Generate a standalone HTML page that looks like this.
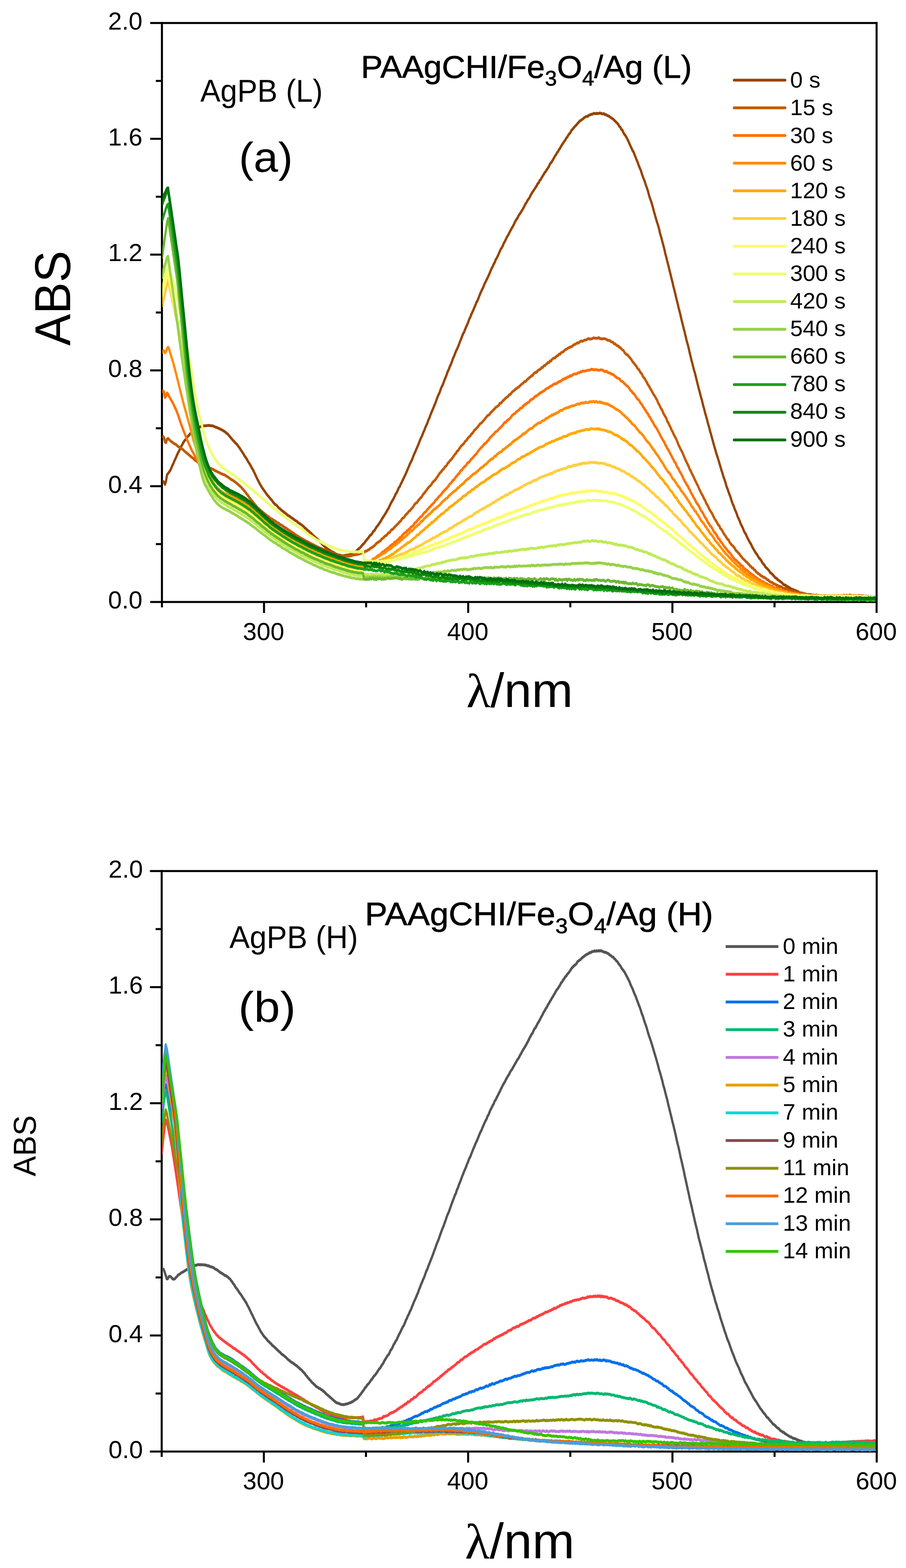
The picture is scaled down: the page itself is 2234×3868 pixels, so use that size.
<!DOCTYPE html>
<html lang="en"><head><meta charset="utf-8"><title>UV-Vis absorption spectra</title>
<style>html,body{margin:0;padding:0;background:#fff;}body{width:2234px;height:3868px;overflow:hidden;}svg{display:block;}text{font-family:'Liberation Sans', sans-serif;fill:#000;}</style></head><body>
<svg width="2234" height="3868" viewBox="0 0 2234 3868" role="img" aria-label="UV-Vis absorption spectra">
<rect x="0" y="0" width="2234" height="3868" fill="#ffffff"/>
<defs><clipPath id="clip1"><rect x="400.3" y="56.8" width="1761.2" height="1429.7"/></clipPath></defs>
<g stroke="#000" stroke-width="5.0" fill="none" stroke-linecap="butt">
<path d="M399.3 54.3V1498.2"/>
<path d="M370.3 1485.0H2164.0"/>
<path d="M384.3 1342.2H399.3"/>
<path d="M370.3 1199.4H399.3"/>
<path d="M384.3 1056.5H399.3"/>
<path d="M370.3 913.7H399.3"/>
<path d="M384.3 770.9H399.3"/>
<path d="M370.3 628.1H399.3"/>
<path d="M384.3 485.3H399.3"/>
<path d="M370.3 342.4H399.3"/>
<path d="M384.3 199.6H399.3"/>
<path d="M651.0 1485.0V1512.0"/>
<path d="M902.8 1485.0V1498.2"/>
<path d="M1154.5 1485.0V1512.0"/>
<path d="M1406.3 1485.0V1498.2"/>
<path d="M1658.0 1485.0V1512.0"/>
<path d="M1909.8 1485.0V1498.2"/>
</g>
<g clip-path="url(#clip1)"><g transform="scale(1 1.270)" fill="none" stroke-width="5.50" stroke-linejoin="round" stroke-linecap="butt">
<path stroke="#964400" d="M399.3 935.9L401.8 935.0L404.3 936.6L406.9 941.0L409.4 934.5L411.9 922.2L414.4 919.7L416.9 917.1L419.4 914.3L422.0 909.9L424.5 905.2L427.0 901.1L429.5 896.4L432.0 891.9L434.5 887.6L437.1 882.7L439.6 878.7L442.1 875.0L444.6 870.3L447.1 866.9L449.6 863.2L452.2 859.5L454.7 856.5L457.2 854.0L459.7 851.3L462.2 848.5L464.8 846.5L467.3 844.1L469.8 841.8L472.3 840.7L474.8 838.5L477.3 836.8L479.9 835.7L482.4 834.0L484.9 833.0L487.4 831.0L489.9 829.9L492.4 829.8L495.0 828.4L497.5 828.2L500.0 827.6L502.5 827.2L505.0 826.9L507.5 827.1L510.1 826.7L512.6 826.3L515.1 826.1L517.6 826.7L520.1 827.0L522.7 827.0L525.2 827.4L527.7 828.1L530.2 829.3L532.7 829.8L535.2 830.7L537.8 831.5L540.3 832.4L542.8 833.3L545.3 834.5L547.8 835.2L550.3 836.6L552.9 837.7L555.4 839.1L557.9 841.2L560.4 842.3L562.9 844.3L565.5 846.8L568.0 849.3L570.5 851.5L573.0 853.9L575.5 856.0L578.0 858.2L580.6 860.5L583.1 862.1L585.6 864.5L588.1 867.4L590.6 869.9L593.1 873.1L595.7 876.2L598.2 879.0L600.7 882.1L603.2 885.7L605.7 888.5L608.2 891.3L610.8 895.1L613.3 898.5L615.8 901.4L618.3 904.9L620.8 908.8L623.4 912.0L625.9 915.9L628.4 920.1L630.9 924.4L633.4 928.5L635.9 932.6L638.5 936.4L641.0 940.6L643.5 943.6L646.0 947.1L648.5 949.7L651.0 952.5L653.6 955.3L656.1 958.2L658.6 961.1L661.1 963.3L663.6 965.6L666.1 968.3L668.7 970.3L671.2 972.6L673.7 975.6L676.2 977.8L678.7 979.8L681.3 981.1L683.8 983.1L686.3 985.7L688.8 987.4L691.3 989.0L693.8 991.0L696.4 992.5L698.9 993.9L701.4 995.6L703.9 996.9L706.4 998.6L708.9 1000.5L711.5 1001.6L714.0 1002.9L716.5 1004.4L719.0 1005.8L721.5 1007.0L724.0 1008.5L726.6 1010.2L729.1 1011.4L731.6 1012.2L734.1 1014.5L736.6 1015.9L739.2 1017.2L741.7 1018.5L744.2 1019.8L746.7 1021.4L749.2 1023.1L751.7 1025.6L754.3 1026.8L756.8 1028.7L759.3 1030.8L761.8 1031.9L764.3 1034.4L766.8 1035.5L769.4 1037.7L771.9 1039.9L774.4 1041.5L776.9 1043.5L779.4 1045.1L781.9 1046.8L784.5 1048.6L787.0 1050.8L789.5 1052.9L792.0 1054.7L794.5 1056.9L797.1 1059.0L799.6 1060.9L802.1 1062.9L804.6 1064.4L807.1 1066.0L809.6 1067.2L812.2 1068.6L814.7 1069.7L817.2 1071.2L819.7 1072.3L822.2 1073.1L824.7 1074.1L827.3 1075.6L829.8 1076.5L832.3 1077.1L834.8 1078.1L837.3 1078.0L839.9 1078.6L842.4 1079.2L844.9 1079.6L847.4 1079.6L849.9 1078.7L852.4 1078.7L855.0 1078.2L857.5 1078.3L860.0 1077.9L862.5 1077.3L865.0 1076.2L867.5 1076.0L870.1 1075.0L872.6 1073.7L875.1 1072.8L877.6 1071.4L880.1 1069.2L882.6 1067.2L885.2 1065.5L887.7 1064.0L890.2 1061.7L892.7 1059.4L895.2 1056.9L897.8 1055.5L900.3 1052.6L902.8 1050.2L905.3 1047.4L907.8 1045.4L910.3 1042.3L912.9 1039.9L915.4 1038.7L917.9 1035.8L920.4 1032.1L922.9 1031.1L925.4 1027.7L928.0 1024.1L930.5 1021.6L933.0 1019.5L935.5 1016.1L938.0 1013.3L940.5 1009.9L943.1 1006.2L945.6 1003.5L948.1 1000.3L950.6 997.3L953.1 993.9L955.7 990.0L958.2 987.2L960.7 982.7L963.2 978.7L965.7 974.8L968.2 971.5L970.8 968.0L973.3 964.1L975.8 959.4L978.3 956.7L980.8 952.4L983.3 947.4L985.9 944.9L988.4 939.7L990.9 936.6L993.4 931.9L995.9 928.1L998.4 923.8L1001.0 919.4L1003.5 915.0L1006.0 909.8L1008.5 905.7L1011.0 900.5L1013.6 897.0L1016.1 892.6L1018.6 887.2L1021.1 882.3L1023.6 878.2L1026.1 873.3L1028.7 868.8L1031.2 864.2L1033.7 859.0L1036.2 854.1L1038.7 849.5L1041.2 845.7L1043.8 839.9L1046.3 835.8L1048.8 830.4L1051.3 826.1L1053.8 821.6L1056.3 815.9L1058.9 811.8L1061.4 805.8L1063.9 801.0L1066.4 796.5L1068.9 791.8L1071.5 786.5L1074.0 782.3L1076.5 776.2L1079.0 771.0L1081.5 766.4L1084.0 762.3L1086.6 756.3L1089.1 751.4L1091.6 747.7L1094.1 742.4L1096.6 736.8L1099.1 732.6L1101.7 726.8L1104.2 721.3L1106.7 717.5L1109.2 711.8L1111.7 708.1L1114.2 702.7L1116.8 696.7L1119.3 692.3L1121.8 687.5L1124.3 682.1L1126.8 678.4L1129.4 673.9L1131.9 668.7L1134.4 663.3L1136.9 658.5L1139.4 653.2L1141.9 648.3L1144.5 644.6L1147.0 639.5L1149.5 634.7L1152.0 630.6L1154.5 626.0L1157.0 619.9L1159.6 616.1L1162.1 610.7L1164.6 606.5L1167.1 602.3L1169.6 597.6L1172.2 592.8L1174.7 587.4L1177.2 584.2L1179.7 579.5L1182.2 574.1L1184.7 569.4L1187.3 564.8L1189.8 560.8L1192.3 556.5L1194.8 551.3L1197.3 547.5L1199.8 543.4L1202.4 539.4L1204.9 535.1L1207.4 530.7L1209.9 525.5L1212.4 521.2L1214.9 517.7L1217.5 512.8L1220.0 509.6L1222.5 504.0L1225.0 501.2L1227.5 497.0L1230.1 492.4L1232.6 487.8L1235.1 483.7L1237.6 480.8L1240.1 477.0L1242.6 471.9L1245.2 468.4L1247.7 464.1L1250.2 460.0L1252.7 457.0L1255.2 453.2L1257.7 449.2L1260.3 445.5L1262.8 442.0L1265.3 438.7L1267.8 434.7L1270.3 430.4L1272.8 426.8L1275.4 424.3L1277.9 420.1L1280.4 416.9L1282.9 414.1L1285.4 411.0L1288.0 407.6L1290.5 404.1L1293.0 400.5L1295.5 396.2L1298.0 393.7L1300.5 389.6L1303.1 386.8L1305.6 384.1L1308.1 379.8L1310.6 376.3L1313.1 373.0L1315.6 370.2L1318.2 367.0L1320.7 364.0L1323.2 361.1L1325.7 356.9L1328.2 355.2L1330.7 350.7L1333.3 348.5L1335.8 344.8L1338.3 341.8L1340.8 338.5L1343.3 335.2L1345.9 332.8L1348.4 329.5L1350.9 326.5L1353.4 323.5L1355.9 318.8L1358.4 316.5L1361.0 313.7L1363.5 310.1L1366.0 306.8L1368.5 303.1L1371.0 300.6L1373.5 296.6L1376.1 294.3L1378.6 290.3L1381.1 287.8L1383.6 283.9L1386.1 280.8L1388.6 278.0L1391.2 274.6L1393.7 272.3L1396.2 268.3L1398.7 266.4L1401.2 262.7L1403.8 259.8L1406.3 257.8L1408.8 253.6L1411.3 251.6L1413.8 249.0L1416.3 246.9L1418.9 244.2L1421.4 242.9L1423.9 240.0L1426.4 238.1L1428.9 235.6L1431.4 234.1L1434.0 232.8L1436.5 231.5L1439.0 229.6L1441.5 228.2L1444.0 226.8L1446.6 225.9L1449.1 226.2L1451.6 224.0L1454.1 223.5L1456.6 222.2L1459.1 222.2L1461.7 221.4L1464.2 220.3L1466.7 220.5L1469.2 220.8L1471.7 219.8L1474.2 220.8L1476.8 220.1L1479.3 219.5L1481.8 220.1L1484.3 221.1L1486.8 221.2L1489.3 220.7L1491.9 222.9L1494.4 222.4L1496.9 224.3L1499.4 225.2L1501.9 225.6L1504.5 227.7L1507.0 228.7L1509.5 230.2L1512.0 231.4L1514.5 233.5L1517.0 235.5L1519.6 237.6L1522.1 239.4L1524.6 241.8L1527.1 245.5L1529.6 246.9L1532.1 251.3L1534.7 252.8L1537.2 257.5L1539.7 261.0L1542.2 263.4L1544.7 266.6L1547.2 270.7L1549.8 274.7L1552.3 279.6L1554.8 283.7L1557.3 288.0L1559.8 292.5L1562.4 295.5L1564.9 300.9L1567.4 305.8L1569.9 310.8L1572.4 315.5L1574.9 321.2L1577.5 326.4L1580.0 330.6L1582.5 337.1L1585.0 342.9L1587.5 348.0L1590.0 352.9L1592.6 359.6L1595.1 365.1L1597.6 370.8L1600.1 378.7L1602.6 384.9L1605.1 390.3L1607.7 396.5L1610.2 403.9L1612.7 411.4L1615.2 418.2L1617.7 425.2L1620.3 432.1L1622.8 438.1L1625.3 445.3L1627.8 454.1L1630.3 460.4L1632.8 468.1L1635.4 475.9L1637.9 483.3L1640.4 492.2L1642.9 499.6L1645.4 507.8L1647.9 515.2L1650.5 523.9L1653.0 531.6L1655.5 540.0L1658.0 547.7L1660.5 556.5L1663.0 564.0L1665.6 572.3L1668.1 581.1L1670.6 588.6L1673.1 597.3L1675.6 604.7L1678.2 613.1L1680.7 621.7L1683.2 629.4L1685.7 637.8L1688.2 645.0L1690.7 653.7L1693.3 662.3L1695.8 669.0L1698.3 677.0L1700.8 685.9L1703.3 693.9L1705.8 702.1L1708.4 709.6L1710.9 717.9L1713.4 724.2L1715.9 732.3L1718.4 740.3L1721.0 748.4L1723.5 756.4L1726.0 763.6L1728.5 771.4L1731.0 777.9L1733.5 786.8L1736.1 793.8L1738.6 801.9L1741.1 808.4L1743.6 815.8L1746.1 823.8L1748.6 830.2L1751.2 838.3L1753.7 844.9L1756.2 852.2L1758.7 859.5L1761.2 866.6L1763.7 873.6L1766.3 880.6L1768.8 886.7L1771.3 892.9L1773.8 899.4L1776.3 906.3L1778.9 913.2L1781.4 919.1L1783.9 926.0L1786.4 931.5L1788.9 937.3L1791.4 944.7L1794.0 949.6L1796.5 955.9L1799.0 960.9L1801.5 966.2L1804.0 972.9L1806.5 978.5L1809.1 982.8L1811.6 988.9L1814.1 993.0L1816.6 998.1L1819.1 1003.9L1821.6 1008.0L1824.2 1012.6L1826.7 1017.9L1829.2 1021.8L1831.7 1025.8L1834.2 1031.1L1836.8 1035.0L1839.3 1037.8L1841.8 1042.8L1844.3 1046.8L1846.8 1050.1L1849.3 1054.0L1851.9 1057.0L1854.4 1061.6L1856.9 1065.1L1859.4 1068.5L1861.9 1072.1L1864.4 1075.0L1867.0 1077.5L1869.5 1081.2L1872.0 1084.3L1874.5 1086.1L1877.0 1088.9L1879.5 1092.8L1882.1 1095.2L1884.6 1097.2L1887.1 1101.0L1889.6 1102.8L1892.1 1104.7L1894.7 1107.1L1897.2 1109.3L1899.7 1112.8L1902.2 1113.9L1904.7 1115.5L1907.2 1117.9L1909.8 1120.3L1912.3 1122.6L1914.8 1123.1L1917.3 1125.8L1919.8 1127.0L1922.3 1128.7L1924.9 1130.0L1927.4 1131.3L1929.9 1133.6L1932.4 1135.6L1934.9 1136.2L1937.4 1136.8L1940.0 1139.0L1942.5 1139.5L1945.0 1141.3L1947.5 1141.8L1950.0 1143.8L1952.6 1144.5L1955.1 1145.0L1957.6 1146.0L1960.1 1146.7L1962.6 1147.2L1965.1 1149.0L1967.7 1148.9L1970.2 1150.7L1972.7 1151.6L1975.2 1152.0L1977.7 1151.7L1980.2 1152.9L1982.8 1153.1L1985.3 1154.1L1987.8 1154.3L1990.3 1155.1L1992.8 1155.2L1995.3 1154.7L1997.9 1155.1L2000.4 1155.2L2002.9 1156.4L2005.4 1155.7L2007.9 1156.8L2010.5 1156.3L2013.0 1157.3L2015.5 1157.6L2018.0 1157.2L2020.5 1157.2L2023.0 1157.2L2025.6 1157.5L2028.1 1157.2L2030.6 1157.6L2033.1 1158.3L2035.6 1157.3L2038.1 1158.4L2040.7 1157.8L2043.2 1158.1L2045.7 1157.6L2048.2 1157.7L2050.7 1157.8L2053.3 1157.2L2055.8 1157.8L2058.3 1157.4L2060.8 1157.5L2063.3 1157.4L2065.8 1157.2L2068.4 1156.5L2070.9 1157.6L2073.4 1156.7L2075.9 1156.3L2078.4 1156.9L2080.9 1156.3L2083.5 1156.5L2086.0 1157.1L2088.5 1156.2L2091.0 1157.2L2093.5 1156.0L2096.0 1156.0L2098.6 1156.4L2101.1 1156.6L2103.6 1157.0L2106.1 1156.8L2108.6 1156.4L2111.2 1157.1L2113.7 1157.3L2116.2 1157.3L2118.7 1156.9L2121.2 1157.2L2123.7 1157.3L2126.3 1157.5L2128.8 1157.2L2131.3 1158.1L2133.8 1157.7L2136.3 1157.8L2138.8 1159.3L2141.4 1158.8L2143.9 1159.4L2146.4 1158.9L2148.9 1160.9L2151.4 1160.2L2153.9 1161.5L2156.5 1160.7L2159.0 1162.4L2161.5 1163.4"/>
<path stroke="#c25a00" d="M399.3 848.8L401.8 847.7L404.3 849.5L406.9 858.5L409.4 859.9L411.9 852.9L414.4 851.6L416.9 853.6L419.4 855.6L422.0 857.6L424.5 858.7L427.0 860.3L429.5 861.8L432.0 862.6L434.5 863.8L437.1 865.9L439.6 867.4L442.1 868.3L444.6 869.5L447.1 871.4L449.6 872.4L452.2 874.1L454.7 876.2L457.2 877.9L459.7 879.6L462.2 880.7L464.8 882.9L467.3 884.6L469.8 886.1L472.3 888.0L474.8 889.3L477.3 891.1L479.9 893.1L482.4 894.7L484.9 895.6L487.4 897.6L489.9 898.5L492.4 899.9L495.0 901.4L497.5 902.3L500.0 904.2L502.5 905.2L505.0 905.5L507.5 906.2L510.1 907.5L512.6 908.1L515.1 908.4L517.6 909.6L520.1 909.9L522.7 911.0L525.2 911.7L527.7 912.8L530.2 914.3L532.7 915.1L535.2 915.8L537.8 917.2L540.3 917.8L542.8 919.0L545.3 920.0L547.8 920.8L550.3 921.6L552.9 922.2L555.4 923.2L557.9 924.7L560.4 925.9L562.9 927.0L565.5 928.6L568.0 930.2L570.5 931.6L573.0 932.4L575.5 933.7L578.0 935.2L580.6 936.7L583.1 938.4L585.6 939.8L588.1 941.9L590.6 943.3L593.1 945.3L595.7 947.2L598.2 950.0L600.7 951.7L603.2 954.2L605.7 956.6L608.2 959.4L610.8 961.5L613.3 964.8L615.8 967.4L618.3 970.0L620.8 972.8L623.4 974.6L625.9 977.8L628.4 979.8L630.9 982.1L633.4 984.6L635.9 987.1L638.5 988.3L641.0 990.6L643.5 992.2L646.0 993.7L648.5 995.4L651.0 997.0L653.6 998.9L656.1 1000.3L658.6 1002.0L661.1 1002.7L663.6 1004.8L666.1 1006.3L668.7 1007.7L671.2 1008.3L673.7 1010.2L676.2 1011.1L678.7 1012.2L681.3 1013.7L683.8 1015.3L686.3 1016.0L688.8 1017.5L691.3 1019.2L693.8 1019.9L696.4 1021.2L698.9 1022.8L701.4 1024.3L703.9 1025.1L706.4 1026.3L708.9 1028.0L711.5 1029.3L714.0 1030.7L716.5 1032.2L719.0 1033.2L721.5 1034.8L724.0 1035.9L726.6 1037.6L729.1 1038.9L731.6 1040.4L734.1 1041.0L736.6 1043.1L739.2 1043.9L741.7 1045.1L744.2 1046.6L746.7 1047.0L749.2 1048.8L751.7 1049.5L754.3 1051.0L756.8 1051.6L759.3 1052.5L761.8 1053.7L764.3 1055.2L766.8 1055.6L769.4 1056.9L771.9 1058.2L774.4 1058.7L776.9 1060.3L779.4 1060.7L781.9 1062.4L784.5 1062.5L787.0 1064.0L789.5 1064.7L792.0 1065.3L794.5 1066.0L797.1 1067.7L799.6 1067.8L802.1 1069.0L804.6 1069.4L807.1 1070.5L809.6 1071.5L812.2 1071.9L814.7 1072.8L817.2 1073.3L819.7 1074.2L822.2 1075.2L824.7 1075.5L827.3 1076.2L829.8 1076.9L832.3 1078.1L834.8 1078.5L837.3 1079.5L839.9 1079.8L842.4 1079.7L844.9 1079.9L847.4 1080.1L849.9 1080.3L852.4 1080.0L855.0 1080.4L857.5 1080.4L860.0 1080.2L862.5 1079.9L865.0 1079.8L867.5 1079.2L870.1 1078.2L872.6 1078.0L875.1 1077.4L877.6 1077.3L880.1 1077.0L882.6 1076.7L885.2 1076.1L887.7 1075.3L890.2 1074.5L892.7 1074.3L895.2 1072.9L897.8 1073.2L900.3 1071.0L902.8 1070.4L905.3 1069.9L907.8 1067.9L910.3 1067.9L912.9 1065.0L915.4 1064.2L917.9 1063.1L920.4 1061.4L922.9 1060.2L925.4 1058.2L928.0 1055.5L930.5 1054.3L933.0 1053.1L935.5 1051.5L938.0 1050.6L940.5 1047.7L943.1 1045.8L945.6 1044.6L948.1 1042.3L950.6 1040.4L953.1 1039.8L955.7 1037.0L958.2 1034.6L960.7 1034.5L963.2 1031.0L965.7 1028.7L968.2 1028.5L970.8 1025.8L973.3 1023.8L975.8 1021.4L978.3 1019.8L980.8 1017.7L983.3 1015.8L985.9 1013.1L988.4 1011.8L990.9 1008.1L993.4 1006.1L995.9 1005.4L998.4 1002.1L1001.0 999.4L1003.5 997.8L1006.0 995.7L1008.5 992.9L1011.0 991.8L1013.6 989.2L1016.1 987.0L1018.6 984.8L1021.1 981.4L1023.6 978.6L1026.1 977.2L1028.7 975.7L1031.2 972.2L1033.7 970.3L1036.2 967.6L1038.7 966.1L1041.2 963.1L1043.8 959.6L1046.3 958.0L1048.8 955.2L1051.3 952.5L1053.8 949.7L1056.3 947.3L1058.9 944.9L1061.4 943.4L1063.9 940.9L1066.4 937.3L1068.9 935.3L1071.5 933.5L1074.0 931.4L1076.5 928.2L1079.0 925.6L1081.5 922.3L1084.0 919.5L1086.6 917.3L1089.1 914.9L1091.6 912.1L1094.1 911.1L1096.6 907.1L1099.1 906.0L1101.7 903.4L1104.2 899.6L1106.7 898.1L1109.2 894.9L1111.7 893.5L1114.2 890.9L1116.8 888.2L1119.3 885.3L1121.8 882.3L1124.3 880.6L1126.8 876.6L1129.4 875.5L1131.9 872.1L1134.4 869.5L1136.9 866.6L1139.4 864.6L1141.9 863.0L1144.5 860.6L1147.0 857.4L1149.5 855.8L1152.0 853.3L1154.5 850.3L1157.0 848.5L1159.6 846.7L1162.1 843.4L1164.6 841.9L1167.1 839.0L1169.6 835.7L1172.2 834.4L1174.7 831.8L1177.2 830.2L1179.7 827.3L1182.2 824.9L1184.7 822.5L1187.3 821.3L1189.8 819.2L1192.3 817.0L1194.8 814.6L1197.3 812.2L1199.8 809.5L1202.4 807.1L1204.9 806.3L1207.4 804.8L1209.9 801.3L1212.4 799.9L1214.9 797.5L1217.5 795.7L1220.0 793.7L1222.5 791.2L1225.0 790.0L1227.5 788.8L1230.1 787.0L1232.6 783.3L1235.1 783.0L1237.6 781.1L1240.1 778.3L1242.6 776.8L1245.2 774.5L1247.7 772.7L1250.2 771.3L1252.7 770.2L1255.2 766.9L1257.7 766.5L1260.3 764.3L1262.8 761.5L1265.3 759.7L1267.8 758.7L1270.3 756.4L1272.8 755.0L1275.4 753.7L1277.9 752.1L1280.4 751.0L1282.9 748.7L1285.4 747.0L1288.0 745.2L1290.5 743.9L1293.0 741.1L1295.5 741.2L1298.0 739.4L1300.5 736.6L1303.1 735.5L1305.6 733.0L1308.1 732.4L1310.6 729.7L1313.1 729.7L1315.6 726.2L1318.2 724.6L1320.7 723.0L1323.2 723.3L1325.7 720.0L1328.2 718.9L1330.7 717.7L1333.3 716.4L1335.8 713.7L1338.3 713.8L1340.8 710.6L1343.3 710.3L1345.9 708.2L1348.4 706.6L1350.9 704.4L1353.4 704.5L1355.9 701.2L1358.4 701.3L1361.0 698.2L1363.5 696.5L1366.0 695.3L1368.5 695.3L1371.0 693.1L1373.5 691.1L1376.1 690.6L1378.6 687.8L1381.1 688.0L1383.6 685.2L1386.1 684.0L1388.6 683.4L1391.2 681.2L1393.7 679.4L1396.2 678.4L1398.7 677.2L1401.2 675.9L1403.8 675.1L1406.3 674.0L1408.8 673.4L1411.3 672.4L1413.8 670.5L1416.3 669.0L1418.9 668.6L1421.4 667.1L1423.9 665.9L1426.4 666.3L1428.9 664.2L1431.4 662.9L1434.0 662.3L1436.5 662.9L1439.0 661.6L1441.5 660.6L1444.0 660.2L1446.6 660.1L1449.1 658.1L1451.6 657.5L1454.1 658.8L1456.6 658.2L1459.1 658.3L1461.7 657.0L1464.2 656.2L1466.7 656.9L1469.2 657.0L1471.7 656.8L1474.2 656.8L1476.8 655.8L1479.3 657.9L1481.8 657.7L1484.3 658.5L1486.8 657.8L1489.3 657.8L1491.9 658.2L1494.4 658.6L1496.9 660.4L1499.4 660.8L1501.9 661.1L1504.5 662.1L1507.0 664.0L1509.5 664.3L1512.0 665.1L1514.5 668.0L1517.0 668.1L1519.6 670.2L1522.1 671.7L1524.6 672.1L1527.1 674.8L1529.6 675.2L1532.1 677.6L1534.7 679.6L1537.2 680.7L1539.7 684.2L1542.2 686.6L1544.7 688.7L1547.2 689.2L1549.8 691.8L1552.3 694.1L1554.8 696.4L1557.3 698.9L1559.8 702.7L1562.4 704.6L1564.9 707.3L1567.4 709.8L1569.9 712.3L1572.4 716.2L1574.9 717.3L1577.5 720.9L1580.0 724.3L1582.5 726.0L1585.0 730.5L1587.5 733.8L1590.0 735.4L1592.6 739.8L1595.1 742.7L1597.6 747.2L1600.1 749.5L1602.6 753.8L1605.1 756.8L1607.7 760.4L1610.2 764.2L1612.7 767.4L1615.2 769.9L1617.7 773.9L1620.3 777.3L1622.8 782.8L1625.3 786.0L1627.8 789.9L1630.3 794.2L1632.8 796.6L1635.4 802.2L1637.9 805.8L1640.4 809.2L1642.9 812.3L1645.4 818.3L1647.9 820.9L1650.5 826.0L1653.0 829.6L1655.5 834.7L1658.0 837.8L1660.5 842.6L1663.0 846.4L1665.6 850.1L1668.1 854.1L1670.6 859.0L1673.1 864.4L1675.6 868.0L1678.2 872.6L1680.7 875.9L1683.2 880.1L1685.7 884.8L1688.2 889.4L1690.7 894.3L1693.3 898.2L1695.8 902.2L1698.3 906.4L1700.8 911.7L1703.3 914.7L1705.8 919.7L1708.4 923.3L1710.9 927.5L1713.4 932.0L1715.9 935.8L1718.4 940.1L1721.0 943.7L1723.5 948.8L1726.0 953.0L1728.5 957.0L1731.0 960.7L1733.5 963.7L1736.1 969.1L1738.6 971.5L1741.1 977.0L1743.6 980.1L1746.1 983.7L1748.6 988.4L1751.2 992.0L1753.7 994.7L1756.2 998.0L1758.7 1002.5L1761.2 1006.4L1763.7 1009.6L1766.3 1012.8L1768.8 1016.2L1771.3 1019.8L1773.8 1021.5L1776.3 1026.5L1778.9 1028.3L1781.4 1031.4L1783.9 1035.3L1786.4 1038.6L1788.9 1041.0L1791.4 1044.5L1794.0 1047.6L1796.5 1048.5L1799.0 1053.2L1801.5 1055.9L1804.0 1058.5L1806.5 1059.9L1809.1 1062.2L1811.6 1064.7L1814.1 1068.9L1816.6 1070.3L1819.1 1072.8L1821.6 1074.7L1824.2 1077.2L1826.7 1080.2L1829.2 1082.3L1831.7 1085.0L1834.2 1086.4L1836.8 1088.5L1839.3 1091.0L1841.8 1092.1L1844.3 1094.6L1846.8 1096.4L1849.3 1099.3L1851.9 1100.4L1854.4 1103.2L1856.9 1103.6L1859.4 1106.7L1861.9 1107.6L1864.4 1110.8L1867.0 1112.1L1869.5 1114.0L1872.0 1115.1L1874.5 1116.7L1877.0 1118.7L1879.5 1119.2L1882.1 1121.4L1884.6 1121.3L1887.1 1122.8L1889.6 1124.2L1892.1 1126.2L1894.7 1126.6L1897.2 1129.2L1899.7 1130.2L1902.2 1131.3L1904.7 1131.4L1907.2 1133.7L1909.8 1134.4L1912.3 1135.2L1914.8 1136.4L1917.3 1136.9L1919.8 1138.6L1922.3 1139.0L1924.9 1139.6L1927.4 1140.1L1929.9 1142.3L1932.4 1143.4L1934.9 1142.4L1937.4 1144.2L1940.0 1143.9L1942.5 1144.7L1945.0 1146.4L1947.5 1147.2L1950.0 1147.7L1952.6 1148.2L1955.1 1148.5L1957.6 1149.8L1960.1 1148.9L1962.6 1151.3L1965.1 1151.6L1967.7 1151.1L1970.2 1151.0L1972.7 1151.2L1975.2 1152.6L1977.7 1152.2L1980.2 1153.0L1982.8 1154.3L1985.3 1153.2L1987.8 1155.2L1990.3 1154.8L1992.8 1154.4L1995.3 1154.9L1997.9 1154.7L2000.4 1156.4L2002.9 1155.8L2005.4 1156.4L2007.9 1156.7L2010.5 1156.7L2013.0 1155.7L2015.5 1156.2L2018.0 1157.1L2020.5 1157.3L2023.0 1157.1L2025.6 1157.4L2028.1 1157.7L2030.6 1156.8L2033.1 1157.1L2035.6 1158.0L2038.1 1157.8L2040.7 1157.9L2043.2 1157.5L2045.7 1157.9L2048.2 1157.0L2050.7 1157.3L2053.3 1158.2L2055.8 1158.3L2058.3 1157.7L2060.8 1158.1L2063.3 1158.2L2065.8 1157.4L2068.4 1157.3L2070.9 1157.4L2073.4 1157.8L2075.9 1158.3L2078.4 1157.3L2080.9 1158.3L2083.5 1158.5L2086.0 1158.3L2088.5 1157.5L2091.0 1157.0L2093.5 1158.8L2096.0 1157.7L2098.6 1157.4L2101.1 1158.0L2103.6 1157.7L2106.1 1158.0L2108.6 1158.1L2111.2 1159.0L2113.7 1157.8L2116.2 1158.2L2118.7 1157.6L2121.2 1158.4L2123.7 1158.9L2126.3 1158.8L2128.8 1157.6L2131.3 1158.6L2133.8 1158.2L2136.3 1159.1L2138.8 1159.0L2141.4 1158.7L2143.9 1158.9L2146.4 1159.9L2148.9 1160.1L2151.4 1160.2L2153.9 1159.9L2156.5 1159.6L2159.0 1160.2L2161.5 1159.6"/>
<path stroke="#ff7000" d="M399.3 763.2L401.8 758.9L404.3 761.2L406.9 772.1L409.4 769.4L411.9 763.3L414.4 765.7L416.9 769.8L419.4 773.4L422.0 776.9L424.5 780.5L427.0 783.9L429.5 788.5L432.0 792.5L434.5 796.6L437.1 802.0L439.6 807.3L442.1 813.3L444.6 819.3L447.1 825.1L449.6 830.4L452.2 836.1L454.7 840.7L457.2 845.7L459.7 851.2L462.2 856.1L464.8 860.5L467.3 864.7L469.8 869.3L472.3 873.5L474.8 877.4L477.3 880.8L479.9 884.6L482.4 888.9L484.9 892.3L487.4 895.9L489.9 900.2L492.4 905.3L495.0 910.1L497.5 915.4L500.0 919.5L502.5 923.7L505.0 928.1L507.5 931.0L510.1 934.4L512.6 937.1L515.1 940.2L517.6 942.0L520.1 944.5L522.7 945.6L525.2 947.2L527.7 948.3L530.2 949.3L532.7 951.2L535.2 951.9L537.8 952.5L540.3 953.6L542.8 954.9L545.3 955.8L547.8 956.3L550.3 957.2L552.9 958.3L555.4 958.3L557.9 959.5L560.4 959.9L562.9 961.0L565.5 961.3L568.0 962.3L570.5 963.0L573.0 964.0L575.5 964.4L578.0 965.0L580.6 965.8L583.1 966.6L585.6 967.3L588.1 968.5L590.6 969.2L593.1 970.2L595.7 970.6L598.2 971.7L600.7 973.2L603.2 974.0L605.7 974.9L608.2 976.6L610.8 977.8L613.3 979.3L615.8 980.2L618.3 982.2L620.8 983.4L623.4 985.7L625.9 987.3L628.4 989.2L630.9 991.0L633.4 992.3L635.9 994.0L638.5 996.2L641.0 997.7L643.5 999.5L646.0 1001.7L648.5 1003.7L651.0 1005.7L653.6 1007.0L656.1 1008.8L658.6 1010.6L661.1 1012.6L663.6 1014.5L666.1 1016.1L668.7 1017.0L671.2 1019.4L673.7 1020.5L676.2 1022.3L678.7 1023.2L681.3 1025.0L683.8 1025.6L686.3 1027.5L688.8 1028.3L691.3 1029.9L693.8 1031.2L696.4 1032.5L698.9 1034.4L701.4 1035.0L703.9 1036.3L706.4 1037.7L708.9 1039.0L711.5 1040.0L714.0 1041.7L716.5 1042.2L719.0 1043.2L721.5 1045.1L724.0 1046.1L726.6 1046.7L729.1 1048.5L731.6 1049.2L734.1 1050.5L736.6 1051.5L739.2 1052.1L741.7 1053.9L744.2 1054.4L746.7 1055.2L749.2 1056.7L751.7 1057.9L754.3 1058.4L756.8 1059.3L759.3 1060.4L761.8 1061.1L764.3 1062.2L766.8 1063.0L769.4 1064.7L771.9 1064.8L774.4 1065.9L776.9 1066.7L779.4 1067.7L781.9 1068.5L784.5 1069.8L787.0 1070.6L789.5 1071.2L792.0 1072.5L794.5 1073.1L797.1 1074.1L799.6 1074.3L802.1 1075.2L804.6 1076.2L807.1 1077.0L809.6 1077.8L812.2 1078.6L814.7 1078.8L817.2 1079.9L819.7 1080.9L822.2 1081.8L824.7 1082.5L827.3 1082.7L829.8 1083.4L832.3 1084.2L834.8 1084.9L837.3 1085.3L839.9 1086.7L842.4 1087.4L844.9 1087.5L847.4 1088.4L849.9 1088.6L852.4 1089.4L855.0 1090.0L857.5 1090.8L860.0 1091.5L862.5 1091.9L865.0 1092.7L867.5 1093.0L870.1 1093.2L872.6 1094.2L875.1 1094.3L877.6 1094.4L880.1 1095.5L882.6 1095.5L885.2 1096.1L887.7 1096.1L890.2 1096.2L892.7 1097.2L895.2 1096.7L897.8 1096.2L900.3 1095.8L902.8 1093.7L905.3 1093.6L907.8 1093.0L910.3 1092.5L912.9 1091.3L915.4 1089.5L917.9 1088.2L920.4 1087.3L922.9 1084.6L925.4 1084.2L928.0 1081.9L930.5 1080.3L933.0 1079.1L935.5 1077.7L938.0 1076.9L940.5 1074.4L943.1 1072.6L945.6 1071.6L948.1 1069.7L950.6 1067.9L953.1 1066.9L955.7 1065.0L958.2 1064.0L960.7 1061.5L963.2 1059.8L965.7 1058.4L968.2 1057.6L970.8 1055.7L973.3 1052.8L975.8 1052.9L978.3 1050.5L980.8 1048.8L983.3 1046.9L985.9 1044.0L988.4 1043.8L990.9 1040.8L993.4 1038.5L995.9 1036.6L998.4 1034.5L1001.0 1033.9L1003.5 1030.6L1006.0 1030.2L1008.5 1027.9L1011.0 1026.5L1013.6 1023.5L1016.1 1022.7L1018.6 1020.5L1021.1 1017.8L1023.6 1015.0L1026.1 1014.3L1028.7 1011.3L1031.2 1009.4L1033.7 1007.2L1036.2 1004.7L1038.7 1003.2L1041.2 1001.6L1043.8 998.1L1046.3 995.9L1048.8 994.3L1051.3 992.6L1053.8 989.4L1056.3 987.9L1058.9 984.8L1061.4 984.3L1063.9 980.8L1066.4 979.6L1068.9 977.2L1071.5 975.0L1074.0 971.4L1076.5 970.3L1079.0 968.1L1081.5 965.1L1084.0 963.4L1086.6 961.3L1089.1 959.1L1091.6 955.8L1094.1 954.2L1096.6 951.7L1099.1 949.8L1101.7 948.1L1104.2 945.6L1106.7 943.2L1109.2 940.0L1111.7 938.9L1114.2 935.8L1116.8 932.8L1119.3 931.8L1121.8 929.1L1124.3 926.0L1126.8 924.4L1129.4 921.0L1131.9 920.1L1134.4 916.2L1136.9 913.8L1139.4 912.7L1141.9 909.4L1144.5 907.2L1147.0 905.5L1149.5 903.8L1152.0 900.0L1154.5 898.5L1157.0 897.2L1159.6 894.6L1162.1 891.5L1164.6 890.1L1167.1 887.9L1169.6 885.1L1172.2 883.4L1174.7 881.3L1177.2 878.2L1179.7 875.7L1182.2 873.1L1184.7 871.0L1187.3 868.6L1189.8 867.2L1192.3 864.3L1194.8 861.8L1197.3 861.2L1199.8 858.8L1202.4 856.2L1204.9 854.3L1207.4 851.0L1209.9 848.8L1212.4 847.3L1214.9 844.8L1217.5 843.5L1220.0 840.5L1222.5 838.6L1225.0 837.6L1227.5 836.0L1230.1 833.7L1232.6 831.3L1235.1 829.8L1237.6 827.3L1240.1 825.7L1242.6 822.1L1245.2 820.2L1247.7 820.1L1250.2 816.6L1252.7 816.0L1255.2 814.3L1257.7 812.2L1260.3 810.1L1262.8 806.9L1265.3 805.3L1267.8 803.9L1270.3 803.1L1272.8 799.8L1275.4 799.0L1277.9 797.1L1280.4 795.9L1282.9 792.9L1285.4 792.6L1288.0 791.4L1290.5 787.9L1293.0 787.4L1295.5 784.8L1298.0 784.5L1300.5 782.3L1303.1 781.4L1305.6 780.0L1308.1 776.7L1310.6 776.2L1313.1 774.5L1315.6 774.1L1318.2 770.8L1320.7 769.6L1323.2 769.1L1325.7 767.2L1328.2 765.9L1330.7 763.7L1333.3 762.7L1335.8 761.8L1338.3 760.2L1340.8 759.4L1343.3 757.9L1345.9 755.8L1348.4 754.6L1350.9 753.6L1353.4 753.0L1355.9 750.9L1358.4 750.0L1361.0 749.1L1363.5 747.4L1366.0 746.2L1368.5 745.3L1371.0 745.2L1373.5 744.4L1376.1 742.7L1378.6 741.0L1381.1 741.3L1383.6 739.4L1386.1 738.2L1388.6 736.3L1391.2 736.5L1393.7 734.4L1396.2 734.9L1398.7 732.8L1401.2 731.6L1403.8 731.8L1406.3 729.6L1408.8 730.3L1411.3 728.4L1413.8 727.6L1416.3 726.1L1418.9 726.5L1421.4 726.2L1423.9 724.9L1426.4 724.0L1428.9 723.7L1431.4 721.9L1434.0 722.5L1436.5 720.4L1439.0 721.2L1441.5 720.8L1444.0 720.6L1446.6 719.4L1449.1 719.4L1451.6 719.1L1454.1 719.0L1456.6 717.7L1459.1 717.1L1461.7 718.1L1464.2 717.9L1466.7 718.6L1469.2 717.9L1471.7 718.2L1474.2 718.9L1476.8 719.1L1479.3 718.8L1481.8 718.2L1484.3 718.6L1486.8 719.4L1489.3 720.9L1491.9 722.1L1494.4 721.0L1496.9 721.9L1499.4 723.8L1501.9 724.4L1504.5 724.7L1507.0 726.6L1509.5 726.7L1512.0 728.0L1514.5 728.6L1517.0 731.7L1519.6 732.4L1522.1 734.4L1524.6 735.0L1527.1 735.5L1529.6 738.4L1532.1 740.5L1534.7 740.7L1537.2 742.8L1539.7 745.2L1542.2 746.5L1544.7 749.1L1547.2 750.2L1549.8 752.2L1552.3 754.9L1554.8 758.6L1557.3 759.7L1559.8 763.2L1562.4 764.4L1564.9 766.7L1567.4 770.1L1569.9 773.0L1572.4 775.6L1574.9 776.9L1577.5 780.3L1580.0 783.6L1582.5 785.4L1585.0 789.3L1587.5 791.9L1590.0 795.6L1592.6 797.9L1595.1 801.7L1597.6 803.6L1600.1 808.6L1602.6 810.2L1605.1 814.6L1607.7 817.7L1610.2 820.3L1612.7 825.0L1615.2 827.9L1617.7 830.4L1620.3 833.5L1622.8 837.6L1625.3 840.9L1627.8 845.4L1630.3 848.8L1632.8 852.3L1635.4 856.2L1637.9 858.7L1640.4 863.8L1642.9 866.9L1645.4 870.9L1647.9 873.8L1650.5 877.6L1653.0 881.7L1655.5 885.2L1658.0 889.2L1660.5 892.6L1663.0 896.9L1665.6 899.1L1668.1 904.0L1670.6 908.3L1673.1 910.3L1675.6 915.2L1678.2 918.5L1680.7 921.8L1683.2 926.1L1685.7 930.6L1688.2 934.4L1690.7 937.4L1693.3 941.5L1695.8 943.8L1698.3 948.6L1700.8 951.4L1703.3 956.2L1705.8 959.9L1708.4 963.0L1710.9 967.5L1713.4 969.9L1715.9 974.4L1718.4 977.9L1721.0 980.0L1723.5 983.3L1726.0 987.5L1728.5 991.8L1731.0 994.2L1733.5 997.1L1736.1 1001.4L1738.6 1005.1L1741.1 1007.4L1743.6 1011.6L1746.1 1015.5L1748.6 1017.6L1751.2 1021.6L1753.7 1023.2L1756.2 1026.5L1758.7 1030.3L1761.2 1034.2L1763.7 1035.6L1766.3 1038.4L1768.8 1042.1L1771.3 1046.1L1773.8 1047.1L1776.3 1051.2L1778.9 1053.6L1781.4 1056.2L1783.9 1058.9L1786.4 1062.2L1788.9 1063.8L1791.4 1066.7L1794.0 1069.2L1796.5 1071.9L1799.0 1073.4L1801.5 1075.8L1804.0 1078.6L1806.5 1081.5L1809.1 1084.2L1811.6 1086.3L1814.1 1087.9L1816.6 1089.3L1819.1 1091.8L1821.6 1093.3L1824.2 1094.8L1826.7 1098.0L1829.2 1098.8L1831.7 1100.6L1834.2 1103.8L1836.8 1104.9L1839.3 1107.4L1841.8 1107.4L1844.3 1109.4L1846.8 1111.5L1849.3 1113.2L1851.9 1114.2L1854.4 1116.5L1856.9 1117.1L1859.4 1118.8L1861.9 1120.4L1864.4 1122.1L1867.0 1123.2L1869.5 1125.5L1872.0 1125.8L1874.5 1126.7L1877.0 1128.8L1879.5 1130.0L1882.1 1129.8L1884.6 1132.2L1887.1 1132.6L1889.6 1134.4L1892.1 1134.1L1894.7 1136.9L1897.2 1136.3L1899.7 1138.5L1902.2 1138.0L1904.7 1139.0L1907.2 1140.3L1909.8 1142.2L1912.3 1142.2L1914.8 1142.2L1917.3 1143.7L1919.8 1144.7L1922.3 1144.2L1924.9 1146.6L1927.4 1146.9L1929.9 1147.4L1932.4 1146.9L1934.9 1149.2L1937.4 1149.0L1940.0 1150.3L1942.5 1150.8L1945.0 1150.5L1947.5 1150.3L1950.0 1150.8L1952.6 1152.3L1955.1 1152.0L1957.6 1152.7L1960.1 1153.8L1962.6 1152.7L1965.1 1153.7L1967.7 1153.6L1970.2 1155.0L1972.7 1155.4L1975.2 1155.7L1977.7 1156.2L1980.2 1154.8L1982.8 1155.7L1985.3 1155.1L1987.8 1156.6L1990.3 1155.7L1992.8 1157.0L1995.3 1156.4L1997.9 1157.7L2000.4 1156.5L2002.9 1156.2L2005.4 1157.6L2007.9 1158.1L2010.5 1157.0L2013.0 1157.2L2015.5 1157.4L2018.0 1157.7L2020.5 1158.4L2023.0 1158.6L2025.6 1157.4L2028.1 1157.0L2030.6 1158.1L2033.1 1157.4L2035.6 1157.5L2038.1 1158.6L2040.7 1157.5L2043.2 1158.2L2045.7 1157.5L2048.2 1157.3L2050.7 1158.6L2053.3 1157.5L2055.8 1157.1L2058.3 1158.8L2060.8 1158.3L2063.3 1158.4L2065.8 1158.3L2068.4 1158.0L2070.9 1157.4L2073.4 1158.8L2075.9 1158.3L2078.4 1158.2L2080.9 1158.1L2083.5 1158.1L2086.0 1157.2L2088.5 1158.2L2091.0 1157.3L2093.5 1157.2L2096.0 1157.8L2098.6 1157.7L2101.1 1157.5L2103.6 1157.5L2106.1 1156.9L2108.6 1157.8L2111.2 1157.1L2113.7 1158.4L2116.2 1158.0L2118.7 1158.3L2121.2 1158.2L2123.7 1158.2L2126.3 1159.3L2128.8 1157.7L2131.3 1158.1L2133.8 1158.2L2136.3 1158.9L2138.8 1159.0L2141.4 1159.5L2143.9 1158.7L2146.4 1158.9L2148.9 1160.5L2151.4 1160.6L2153.9 1160.6L2156.5 1160.4L2159.0 1160.7L2161.5 1160.3"/>
<path stroke="#ff8c00" d="M399.3 685.8L401.8 681.2L404.3 681.3L406.9 685.2L409.4 683.1L411.9 677.1L414.4 674.3L416.9 677.8L419.4 684.8L422.0 691.6L424.5 697.8L427.0 704.3L429.5 711.9L432.0 719.4L434.5 726.9L437.1 735.3L439.6 743.1L442.1 751.2L444.6 759.2L447.1 766.9L449.6 774.8L452.2 782.5L454.7 790.1L457.2 797.1L459.7 804.0L462.2 811.2L464.8 818.8L467.3 825.7L469.8 832.9L472.3 840.9L474.8 848.3L477.3 855.9L479.9 862.1L482.4 868.3L484.9 873.5L487.4 878.7L489.9 884.7L492.4 890.7L495.0 897.5L497.5 904.3L500.0 909.3L502.5 915.0L505.0 919.1L507.5 923.4L510.1 927.2L512.6 930.6L515.1 934.2L517.6 937.7L520.1 939.6L522.7 941.9L525.2 944.0L527.7 945.7L530.2 947.5L532.7 949.1L535.2 950.2L537.8 951.6L540.3 952.5L542.8 954.3L545.3 954.9L547.8 956.5L550.3 957.2L552.9 958.5L555.4 958.9L557.9 960.3L560.4 960.9L562.9 961.2L565.5 962.6L568.0 963.4L570.5 964.4L573.0 965.2L575.5 965.3L578.0 966.0L580.6 967.5L583.1 967.8L585.6 969.5L588.1 970.1L590.6 970.7L593.1 971.7L595.7 972.7L598.2 973.8L600.7 974.6L603.2 976.2L605.7 977.0L608.2 978.7L610.8 980.3L613.3 981.1L615.8 983.3L618.3 984.9L620.8 985.9L623.4 987.8L625.9 989.7L628.4 991.1L630.9 993.1L633.4 995.1L635.9 996.1L638.5 998.6L641.0 999.8L643.5 1001.6L646.0 1003.6L648.5 1006.0L651.0 1007.9L653.6 1009.0L656.1 1011.1L658.6 1013.2L661.1 1014.3L663.6 1016.3L666.1 1017.5L668.7 1019.8L671.2 1021.1L673.7 1022.9L676.2 1024.3L678.7 1025.0L681.3 1026.4L683.8 1027.9L686.3 1029.5L688.8 1031.0L691.3 1032.1L693.8 1033.1L696.4 1035.0L698.9 1036.0L701.4 1036.9L703.9 1038.1L706.4 1040.1L708.9 1040.8L711.5 1041.8L714.0 1043.2L716.5 1044.5L719.0 1045.5L721.5 1046.8L724.0 1048.0L726.6 1049.5L729.1 1050.5L731.6 1051.1L734.1 1052.7L736.6 1053.2L739.2 1054.2L741.7 1056.0L744.2 1056.2L746.7 1057.7L749.2 1058.5L751.7 1059.9L754.3 1060.7L756.8 1061.6L759.3 1062.3L761.8 1063.6L764.3 1064.5L766.8 1065.9L769.4 1066.5L771.9 1067.0L774.4 1067.9L776.9 1069.3L779.4 1069.6L781.9 1071.0L784.5 1071.5L787.0 1073.0L789.5 1073.7L792.0 1074.1L794.5 1075.7L797.1 1076.4L799.6 1076.9L802.1 1078.0L804.6 1078.6L807.1 1078.9L809.6 1079.8L812.2 1080.4L814.7 1081.6L817.2 1082.4L819.7 1082.7L822.2 1083.4L824.7 1084.3L827.3 1085.0L829.8 1085.6L832.3 1086.1L834.8 1087.4L837.3 1088.1L839.9 1088.5L842.4 1089.4L844.9 1089.5L847.4 1090.4L849.9 1091.0L852.4 1091.7L855.0 1092.6L857.5 1093.0L860.0 1093.5L862.5 1093.9L865.0 1094.9L867.5 1095.0L870.1 1095.8L872.6 1096.4L875.1 1096.4L877.6 1096.9L880.1 1097.1L882.6 1097.4L885.2 1098.2L887.7 1097.8L890.2 1098.7L892.7 1098.6L895.2 1099.3L897.8 1094.2L900.3 1093.1L902.8 1092.3L905.3 1092.6L907.8 1092.1L910.3 1090.2L912.9 1090.0L915.4 1089.2L917.9 1087.4L920.4 1085.5L922.9 1086.0L925.4 1083.5L928.0 1083.3L930.5 1082.4L933.0 1081.1L935.5 1080.2L938.0 1078.0L940.5 1077.6L943.1 1075.8L945.6 1074.6L948.1 1073.7L950.6 1073.1L953.1 1070.4L955.7 1069.2L958.2 1068.0L960.7 1067.0L963.2 1065.0L965.7 1063.7L968.2 1061.7L970.8 1060.2L973.3 1059.2L975.8 1057.6L978.3 1056.8L980.8 1053.4L983.3 1053.6L985.9 1051.3L988.4 1049.2L990.9 1048.6L993.4 1045.9L995.9 1044.3L998.4 1042.9L1001.0 1041.0L1003.5 1039.4L1006.0 1036.5L1008.5 1036.1L1011.0 1032.9L1013.6 1031.8L1016.1 1030.8L1018.6 1029.2L1021.1 1026.7L1023.6 1023.8L1026.1 1023.2L1028.7 1020.8L1031.2 1019.3L1033.7 1018.1L1036.2 1015.6L1038.7 1012.6L1041.2 1012.3L1043.8 1010.3L1046.3 1007.2L1048.8 1006.1L1051.3 1003.3L1053.8 1002.6L1056.3 1000.1L1058.9 998.7L1061.4 997.2L1063.9 994.2L1066.4 993.6L1068.9 990.2L1071.5 989.0L1074.0 988.0L1076.5 985.7L1079.0 984.2L1081.5 982.7L1084.0 981.0L1086.6 979.0L1089.1 975.8L1091.6 974.4L1094.1 972.2L1096.6 971.3L1099.1 968.4L1101.7 968.1L1104.2 966.0L1106.7 962.9L1109.2 961.7L1111.7 959.8L1114.2 957.9L1116.8 956.5L1119.3 954.8L1121.8 953.3L1124.3 952.1L1126.8 949.2L1129.4 947.6L1131.9 946.4L1134.4 943.7L1136.9 942.8L1139.4 940.8L1141.9 939.5L1144.5 937.6L1147.0 934.5L1149.5 933.0L1152.0 931.2L1154.5 929.8L1157.0 929.0L1159.6 926.0L1162.1 924.9L1164.6 922.8L1167.1 920.8L1169.6 919.9L1172.2 919.1L1174.7 916.9L1177.2 915.6L1179.7 913.4L1182.2 911.6L1184.7 909.7L1187.3 908.0L1189.8 907.4L1192.3 905.7L1194.8 903.2L1197.3 902.1L1199.8 900.6L1202.4 898.6L1204.9 896.0L1207.4 894.8L1209.9 892.6L1212.4 891.2L1214.9 891.0L1217.5 888.2L1220.0 886.1L1222.5 886.2L1225.0 883.0L1227.5 881.4L1230.1 879.9L1232.6 878.5L1235.1 877.6L1237.6 876.6L1240.1 873.3L1242.6 872.4L1245.2 871.2L1247.7 869.6L1250.2 867.7L1252.7 866.8L1255.2 864.4L1257.7 863.6L1260.3 862.1L1262.8 859.3L1265.3 857.6L1267.8 856.7L1270.3 854.4L1272.8 854.0L1275.4 852.2L1277.9 851.0L1280.4 849.3L1282.9 847.8L1285.4 846.6L1288.0 844.5L1290.5 842.4L1293.0 842.8L1295.5 840.8L1298.0 838.9L1300.5 837.4L1303.1 835.1L1305.6 834.0L1308.1 832.3L1310.6 832.2L1313.1 831.3L1315.6 828.7L1318.2 826.9L1320.7 825.3L1323.2 824.5L1325.7 822.6L1328.2 821.3L1330.7 821.5L1333.3 820.7L1335.8 818.3L1338.3 817.3L1340.8 816.4L1343.3 815.6L1345.9 812.8L1348.4 812.8L1350.9 811.2L1353.4 810.5L1355.9 808.2L1358.4 808.2L1361.0 805.6L1363.5 806.4L1366.0 804.3L1368.5 804.1L1371.0 802.8L1373.5 801.7L1376.1 801.2L1378.6 799.5L1381.1 797.7L1383.6 796.9L1386.1 797.1L1388.6 795.5L1391.2 793.8L1393.7 793.3L1396.2 792.2L1398.7 792.0L1401.2 791.9L1403.8 789.9L1406.3 790.2L1408.8 788.9L1411.3 788.0L1413.8 788.2L1416.3 787.6L1418.9 786.8L1421.4 785.5L1423.9 784.8L1426.4 784.6L1428.9 785.2L1431.4 783.0L1434.0 783.3L1436.5 782.2L1439.0 783.1L1441.5 782.6L1444.0 781.0L1446.6 782.1L1449.1 782.4L1451.6 781.5L1454.1 780.3L1456.6 780.1L1459.1 780.8L1461.7 780.0L1464.2 779.6L1466.7 781.4L1469.2 779.6L1471.7 780.5L1474.2 781.8L1476.8 781.3L1479.3 780.3L1481.8 782.1L1484.3 781.5L1486.8 783.4L1489.3 783.2L1491.9 783.8L1494.4 784.9L1496.9 784.0L1499.4 785.3L1501.9 786.7L1504.5 787.7L1507.0 788.4L1509.5 789.9L1512.0 790.5L1514.5 792.2L1517.0 793.6L1519.6 795.0L1522.1 795.7L1524.6 797.2L1527.1 798.3L1529.6 799.7L1532.1 801.5L1534.7 803.8L1537.2 806.1L1539.7 806.9L1542.2 809.6L1544.7 811.1L1547.2 812.7L1549.8 814.9L1552.3 817.8L1554.8 818.4L1557.3 822.1L1559.8 823.9L1562.4 825.2L1564.9 827.1L1567.4 829.2L1569.9 832.8L1572.4 834.5L1574.9 837.1L1577.5 839.8L1580.0 840.8L1582.5 843.1L1585.0 845.6L1587.5 847.8L1590.0 850.9L1592.6 854.2L1595.1 857.0L1597.6 858.5L1600.1 860.6L1602.6 863.0L1605.1 866.5L1607.7 869.2L1610.2 872.6L1612.7 874.1L1615.2 877.7L1617.7 880.8L1620.3 883.3L1622.8 885.9L1625.3 888.8L1627.8 892.6L1630.3 895.3L1632.8 897.9L1635.4 901.1L1637.9 905.0L1640.4 908.4L1642.9 911.2L1645.4 914.2L1647.9 917.1L1650.5 918.6L1653.0 921.3L1655.5 924.9L1658.0 928.8L1660.5 931.2L1663.0 933.0L1665.6 936.6L1668.1 939.2L1670.6 942.7L1673.1 945.2L1675.6 946.9L1678.2 951.5L1680.7 954.2L1683.2 956.2L1685.7 959.3L1688.2 961.6L1690.7 964.9L1693.3 967.4L1695.8 971.1L1698.3 973.5L1700.8 976.8L1703.3 980.3L1705.8 983.9L1708.4 985.6L1710.9 989.0L1713.4 992.7L1715.9 993.9L1718.4 998.1L1721.0 999.9L1723.5 1003.5L1726.0 1007.2L1728.5 1010.5L1731.0 1013.3L1733.5 1015.5L1736.1 1017.9L1738.6 1022.1L1741.1 1023.4L1743.6 1027.3L1746.1 1029.6L1748.6 1032.6L1751.2 1036.6L1753.7 1038.0L1756.2 1040.8L1758.7 1043.2L1761.2 1046.7L1763.7 1049.8L1766.3 1052.4L1768.8 1054.3L1771.3 1056.7L1773.8 1059.9L1776.3 1061.7L1778.9 1064.6L1781.4 1067.4L1783.9 1070.2L1786.4 1071.7L1788.9 1075.1L1791.4 1076.8L1794.0 1078.3L1796.5 1081.2L1799.0 1083.2L1801.5 1085.1L1804.0 1088.0L1806.5 1088.7L1809.1 1091.8L1811.6 1093.1L1814.1 1095.5L1816.6 1097.5L1819.1 1099.3L1821.6 1100.4L1824.2 1101.9L1826.7 1105.3L1829.2 1106.1L1831.7 1107.7L1834.2 1110.3L1836.8 1111.0L1839.3 1113.5L1841.8 1115.0L1844.3 1115.3L1846.8 1118.0L1849.3 1118.3L1851.9 1120.4L1854.4 1120.4L1856.9 1122.4L1859.4 1123.5L1861.9 1124.5L1864.4 1126.2L1867.0 1126.8L1869.5 1129.2L1872.0 1129.7L1874.5 1130.5L1877.0 1131.7L1879.5 1132.4L1882.1 1135.1L1884.6 1134.3L1887.1 1135.3L1889.6 1137.8L1892.1 1137.8L1894.7 1139.7L1897.2 1138.9L1899.7 1140.0L1902.2 1140.8L1904.7 1141.5L1907.2 1143.7L1909.8 1144.1L1912.3 1143.8L1914.8 1145.4L1917.3 1145.4L1919.8 1145.6L1922.3 1146.2L1924.9 1148.5L1927.4 1147.7L1929.9 1148.8L1932.4 1149.7L1934.9 1149.3L1937.4 1149.5L1940.0 1150.7L1942.5 1151.5L1945.0 1152.5L1947.5 1151.9L1950.0 1153.4L1952.6 1152.6L1955.1 1153.5L1957.6 1152.8L1960.1 1153.5L1962.6 1154.1L1965.1 1154.8L1967.7 1154.6L1970.2 1156.0L1972.7 1155.5L1975.2 1155.0L1977.7 1155.9L1980.2 1156.5L1982.8 1156.3L1985.3 1156.1L1987.8 1157.8L1990.3 1157.2L1992.8 1156.9L1995.3 1156.5L1997.9 1158.1L2000.4 1156.6L2002.9 1157.2L2005.4 1157.9L2007.9 1158.0L2010.5 1157.1L2013.0 1158.5L2015.5 1158.7L2018.0 1158.1L2020.5 1157.5L2023.0 1158.8L2025.6 1159.2L2028.1 1158.0L2030.6 1158.3L2033.1 1157.8L2035.6 1158.7L2038.1 1159.1L2040.7 1157.8L2043.2 1159.0L2045.7 1159.0L2048.2 1159.4L2050.7 1157.4L2053.3 1158.1L2055.8 1158.0L2058.3 1158.2L2060.8 1158.7L2063.3 1158.1L2065.8 1158.1L2068.4 1157.4L2070.9 1159.1L2073.4 1158.8L2075.9 1158.8L2078.4 1158.4L2080.9 1157.9L2083.5 1159.1L2086.0 1158.5L2088.5 1157.4L2091.0 1158.7L2093.5 1158.7L2096.0 1158.0L2098.6 1159.0L2101.1 1159.2L2103.6 1157.8L2106.1 1158.6L2108.6 1159.3L2111.2 1159.3L2113.7 1157.6L2116.2 1157.8L2118.7 1157.7L2121.2 1158.6L2123.7 1158.5L2126.3 1159.6L2128.8 1158.8L2131.3 1158.7L2133.8 1158.4L2136.3 1158.2L2138.8 1159.6L2141.4 1159.4L2143.9 1158.8L2146.4 1159.9L2148.9 1160.4L2151.4 1160.7L2153.9 1159.3L2156.5 1161.3L2159.0 1161.5L2161.5 1160.8"/>
<path stroke="#ffaa00" d="M399.3 596.1L401.8 586.7L404.3 576.8L406.9 568.0L409.4 559.0L411.9 549.7L414.4 544.8L416.9 553.2L419.4 562.7L422.0 571.5L424.5 580.5L427.0 590.0L429.5 598.7L432.0 607.2L434.5 616.5L437.1 625.7L439.6 634.5L442.1 643.0L444.6 652.7L447.1 661.1L449.6 670.6L452.2 679.1L454.7 688.1L457.2 697.1L459.7 705.9L462.2 714.8L464.8 729.0L467.3 744.9L469.8 759.8L472.3 774.0L474.8 787.2L477.3 800.3L479.9 812.0L482.4 822.5L484.9 832.1L487.4 841.6L489.9 850.5L492.4 860.2L495.0 869.4L497.5 879.0L500.0 886.8L502.5 894.1L505.0 900.9L507.5 907.0L510.1 911.8L512.6 916.7L515.1 921.9L517.6 926.4L520.1 930.1L522.7 932.9L525.2 936.3L527.7 939.4L530.2 942.0L532.7 944.2L535.2 946.4L537.8 948.7L540.3 950.0L542.8 952.4L545.3 953.7L547.8 955.4L550.3 956.5L552.9 957.8L555.4 959.4L557.9 960.7L560.4 961.4L562.9 962.8L565.5 963.5L568.0 965.5L570.5 966.3L573.0 966.8L575.5 968.1L578.0 969.7L580.6 970.6L583.1 971.3L585.6 972.2L588.1 973.6L590.6 974.4L593.1 975.9L595.7 976.7L598.2 977.8L600.7 978.9L603.2 980.6L605.7 982.1L608.2 983.3L610.8 984.8L613.3 986.2L615.8 988.0L618.3 988.8L620.8 990.9L623.4 992.0L625.9 993.7L628.4 996.1L630.9 997.8L633.4 999.0L635.9 1001.3L638.5 1002.5L641.0 1005.1L643.5 1006.4L646.0 1008.6L648.5 1010.0L651.0 1012.2L653.6 1013.4L656.1 1015.7L658.6 1017.6L661.1 1019.3L663.6 1020.5L666.1 1022.0L668.7 1024.0L671.2 1025.7L673.7 1027.2L676.2 1028.4L678.7 1029.8L681.3 1030.9L683.8 1032.8L686.3 1034.1L688.8 1034.9L691.3 1036.3L693.8 1037.3L696.4 1038.6L698.9 1039.8L701.4 1041.4L703.9 1043.0L706.4 1044.1L708.9 1045.2L711.5 1046.2L714.0 1047.5L716.5 1048.6L719.0 1049.7L721.5 1050.8L724.0 1052.4L726.6 1053.1L729.1 1054.4L731.6 1055.4L734.1 1056.3L736.6 1058.0L739.2 1058.5L741.7 1059.8L744.2 1060.9L746.7 1062.2L749.2 1063.3L751.7 1064.1L754.3 1064.9L756.8 1065.7L759.3 1067.0L761.8 1068.1L764.3 1069.1L766.8 1070.1L769.4 1070.9L771.9 1071.5L774.4 1072.6L776.9 1073.6L779.4 1074.0L781.9 1075.1L784.5 1076.0L787.0 1076.6L789.5 1077.5L792.0 1079.0L794.5 1079.8L797.1 1080.4L799.6 1081.2L802.1 1081.8L804.6 1083.1L807.1 1083.3L809.6 1084.0L812.2 1084.5L814.7 1085.5L817.2 1086.5L819.7 1086.8L822.2 1087.6L824.7 1088.8L827.3 1089.5L829.8 1089.5L832.3 1090.7L834.8 1091.5L837.3 1091.6L839.9 1092.5L842.4 1093.6L844.9 1093.9L847.4 1094.1L849.9 1095.2L852.4 1095.8L855.0 1096.6L857.5 1097.0L860.0 1097.4L862.5 1098.2L865.0 1098.6L867.5 1099.0L870.1 1099.6L872.6 1100.2L875.1 1100.6L877.6 1100.9L880.1 1101.2L882.6 1101.8L885.2 1101.6L887.7 1101.7L890.2 1102.6L892.7 1102.7L895.2 1102.4L897.8 1099.9L900.3 1099.2L902.8 1099.9L905.3 1099.2L907.8 1098.8L910.3 1097.9L912.9 1096.3L915.4 1095.3L917.9 1094.5L920.4 1094.0L922.9 1093.5L925.4 1091.9L928.0 1091.1L930.5 1090.6L933.0 1090.4L935.5 1088.6L938.0 1087.7L940.5 1088.3L943.1 1086.6L945.6 1085.5L948.1 1085.4L950.6 1084.0L953.1 1082.9L955.7 1082.7L958.2 1080.7L960.7 1080.1L963.2 1078.8L965.7 1076.6L968.2 1076.8L970.8 1075.5L973.3 1072.9L975.8 1072.3L978.3 1069.7L980.8 1069.6L983.3 1067.4L985.9 1066.5L988.4 1064.9L990.9 1062.7L993.4 1062.0L995.9 1060.0L998.4 1058.2L1001.0 1058.1L1003.5 1055.5L1006.0 1053.8L1008.5 1053.7L1011.0 1052.2L1013.6 1050.4L1016.1 1048.9L1018.6 1046.4L1021.1 1045.3L1023.6 1043.9L1026.1 1041.8L1028.7 1039.1L1031.2 1038.6L1033.7 1037.4L1036.2 1034.6L1038.7 1032.8L1041.2 1031.9L1043.8 1029.3L1046.3 1028.9L1048.8 1025.8L1051.3 1024.1L1053.8 1023.7L1056.3 1020.6L1058.9 1019.7L1061.4 1017.9L1063.9 1015.0L1066.4 1015.0L1068.9 1012.8L1071.5 1011.8L1074.0 1008.7L1076.5 1008.3L1079.0 1005.0L1081.5 1003.4L1084.0 1002.7L1086.6 999.8L1089.1 998.0L1091.6 997.9L1094.1 996.3L1096.6 994.2L1099.1 992.0L1101.7 990.8L1104.2 989.7L1106.7 986.2L1109.2 985.5L1111.7 983.6L1114.2 982.3L1116.8 981.4L1119.3 979.5L1121.8 977.4L1124.3 976.3L1126.8 975.0L1129.4 972.7L1131.9 971.2L1134.4 970.0L1136.9 968.9L1139.4 966.6L1141.9 964.0L1144.5 963.2L1147.0 962.8L1149.5 960.8L1152.0 959.0L1154.5 956.8L1157.0 956.3L1159.6 955.0L1162.1 952.8L1164.6 950.7L1167.1 950.9L1169.6 948.6L1172.2 946.9L1174.7 945.1L1177.2 944.8L1179.7 942.7L1182.2 941.4L1184.7 939.3L1187.3 938.1L1189.8 937.2L1192.3 936.5L1194.8 935.3L1197.3 933.3L1199.8 930.8L1202.4 930.6L1204.9 928.9L1207.4 927.5L1209.9 926.8L1212.4 924.3L1214.9 923.2L1217.5 922.3L1220.0 921.2L1222.5 920.6L1225.0 919.3L1227.5 918.0L1230.1 915.8L1232.6 915.0L1235.1 912.7L1237.6 911.9L1240.1 910.0L1242.6 910.1L1245.2 909.3L1247.7 907.8L1250.2 906.6L1252.7 905.2L1255.2 904.3L1257.7 903.2L1260.3 900.3L1262.8 900.1L1265.3 898.7L1267.8 897.7L1270.3 897.1L1272.8 895.5L1275.4 893.1L1277.9 892.1L1280.4 891.5L1282.9 890.9L1285.4 888.3L1288.0 887.2L1290.5 886.7L1293.0 886.5L1295.5 884.6L1298.0 883.3L1300.5 882.3L1303.1 881.5L1305.6 881.1L1308.1 878.9L1310.6 878.5L1313.1 876.6L1315.6 875.6L1318.2 874.8L1320.7 873.0L1323.2 872.5L1325.7 871.1L1328.2 869.6L1330.7 869.2L1333.3 868.3L1335.8 867.7L1338.3 866.8L1340.8 866.5L1343.3 864.8L1345.9 862.7L1348.4 862.1L1350.9 861.4L1353.4 859.9L1355.9 860.3L1358.4 859.0L1361.0 857.1L1363.5 856.9L1366.0 856.7L1368.5 855.3L1371.0 853.9L1373.5 854.0L1376.1 852.9L1378.6 852.4L1381.1 850.6L1383.6 851.3L1386.1 849.8L1388.6 848.0L1391.2 847.8L1393.7 847.9L1396.2 847.1L1398.7 846.5L1401.2 844.5L1403.8 844.5L1406.3 842.7L1408.8 842.3L1411.3 841.8L1413.8 841.8L1416.3 840.5L1418.9 841.3L1421.4 839.3L1423.9 838.4L1426.4 837.7L1428.9 837.8L1431.4 836.8L1434.0 836.9L1436.5 835.9L1439.0 835.9L1441.5 835.2L1444.0 834.4L1446.6 834.1L1449.1 834.1L1451.6 834.7L1454.1 834.6L1456.6 832.5L1459.1 832.8L1461.7 833.0L1464.2 833.4L1466.7 833.5L1469.2 832.9L1471.7 833.9L1474.2 832.3L1476.8 833.4L1479.3 833.3L1481.8 834.5L1484.3 835.1L1486.8 834.7L1489.3 835.7L1491.9 836.0L1494.4 836.4L1496.9 837.5L1499.4 838.6L1501.9 838.5L1504.5 838.9L1507.0 839.8L1509.5 841.3L1512.0 842.3L1514.5 844.0L1517.0 845.1L1519.6 845.1L1522.1 845.5L1524.6 847.8L1527.1 847.8L1529.6 849.8L1532.1 852.1L1534.7 851.9L1537.2 854.6L1539.7 854.4L1542.2 856.5L1544.7 857.1L1547.2 858.9L1549.8 861.2L1552.3 863.5L1554.8 864.6L1557.3 865.4L1559.8 867.0L1562.4 869.4L1564.9 871.8L1567.4 872.7L1569.9 875.9L1572.4 876.6L1574.9 877.8L1577.5 880.3L1580.0 882.4L1582.5 884.7L1585.0 887.9L1587.5 889.6L1590.0 890.8L1592.6 893.8L1595.1 895.1L1597.6 897.7L1600.1 900.1L1602.6 901.7L1605.1 905.0L1607.7 907.4L1610.2 908.8L1612.7 911.7L1615.2 913.5L1617.7 916.7L1620.3 919.4L1622.8 922.3L1625.3 923.9L1627.8 927.4L1630.3 929.0L1632.8 930.7L1635.4 933.2L1637.9 936.3L1640.4 939.4L1642.9 941.0L1645.4 943.4L1647.9 946.3L1650.5 949.5L1653.0 953.0L1655.5 954.5L1658.0 956.8L1660.5 960.0L1663.0 963.0L1665.6 966.4L1668.1 967.2L1670.6 971.1L1673.1 974.2L1675.6 977.2L1678.2 979.3L1680.7 981.9L1683.2 985.2L1685.7 986.7L1688.2 990.3L1690.7 992.0L1693.3 994.5L1695.8 997.3L1698.3 1000.8L1700.8 1002.2L1703.3 1005.5L1705.8 1007.9L1708.4 1011.7L1710.9 1013.0L1713.4 1015.9L1715.9 1019.4L1718.4 1022.1L1721.0 1024.2L1723.5 1026.2L1726.0 1029.0L1728.5 1031.9L1731.0 1035.2L1733.5 1036.4L1736.1 1039.9L1738.6 1041.4L1741.1 1044.7L1743.6 1047.6L1746.1 1048.7L1748.6 1051.3L1751.2 1054.8L1753.7 1056.4L1756.2 1059.5L1758.7 1060.3L1761.2 1063.7L1763.7 1065.8L1766.3 1067.4L1768.8 1069.2L1771.3 1073.2L1773.8 1073.9L1776.3 1075.5L1778.9 1078.3L1781.4 1080.1L1783.9 1082.3L1786.4 1083.7L1788.9 1085.7L1791.4 1089.4L1794.0 1089.5L1796.5 1092.8L1799.0 1093.6L1801.5 1095.8L1804.0 1097.6L1806.5 1099.3L1809.1 1100.3L1811.6 1101.9L1814.1 1104.7L1816.6 1105.2L1819.1 1107.5L1821.6 1108.2L1824.2 1111.0L1826.7 1111.0L1829.2 1113.0L1831.7 1114.5L1834.2 1117.0L1836.8 1116.5L1839.3 1118.8L1841.8 1120.9L1844.3 1121.1L1846.8 1122.4L1849.3 1124.2L1851.9 1125.8L1854.4 1126.6L1856.9 1126.8L1859.4 1127.9L1861.9 1130.2L1864.4 1129.6L1867.0 1131.8L1869.5 1133.0L1872.0 1134.2L1874.5 1135.0L1877.0 1134.9L1879.5 1136.5L1882.1 1138.2L1884.6 1138.4L1887.1 1139.8L1889.6 1139.0L1892.1 1140.7L1894.7 1140.4L1897.2 1142.1L1899.7 1142.6L1902.2 1143.3L1904.7 1143.4L1907.2 1144.8L1909.8 1145.8L1912.3 1145.5L1914.8 1147.5L1917.3 1147.1L1919.8 1148.4L1922.3 1148.6L1924.9 1149.0L1927.4 1149.0L1929.9 1150.6L1932.4 1149.9L1934.9 1149.9L1937.4 1150.8L1940.0 1152.3L1942.5 1152.0L1945.0 1152.7L1947.5 1153.0L1950.0 1152.5L1952.6 1153.9L1955.1 1155.0L1957.6 1154.9L1960.1 1155.6L1962.6 1154.7L1965.1 1154.7L1967.7 1156.1L1970.2 1156.7L1972.7 1156.4L1975.2 1156.1L1977.7 1155.7L1980.2 1155.8L1982.8 1156.7L1985.3 1157.3L1987.8 1157.3L1990.3 1157.4L1992.8 1158.4L1995.3 1158.0L1997.9 1158.7L2000.4 1158.1L2002.9 1157.7L2005.4 1157.4L2007.9 1158.7L2010.5 1158.7L2013.0 1159.1L2015.5 1158.5L2018.0 1158.8L2020.5 1158.0L2023.0 1158.3L2025.6 1159.5L2028.1 1158.0L2030.6 1158.8L2033.1 1158.2L2035.6 1159.0L2038.1 1158.2L2040.7 1158.4L2043.2 1159.9L2045.7 1159.9L2048.2 1158.3L2050.7 1159.0L2053.3 1158.4L2055.8 1158.6L2058.3 1158.9L2060.8 1159.6L2063.3 1159.6L2065.8 1159.7L2068.4 1159.1L2070.9 1159.5L2073.4 1159.8L2075.9 1159.3L2078.4 1157.9L2080.9 1159.6L2083.5 1159.0L2086.0 1159.6L2088.5 1159.7L2091.0 1159.5L2093.5 1158.4L2096.0 1158.3L2098.6 1158.3L2101.1 1158.0L2103.6 1159.0L2106.1 1159.2L2108.6 1158.9L2111.2 1158.8L2113.7 1159.8L2116.2 1159.2L2118.7 1158.9L2121.2 1159.2L2123.7 1158.9L2126.3 1159.3L2128.8 1159.5L2131.3 1159.7L2133.8 1159.9L2136.3 1159.4L2138.8 1160.1L2141.4 1159.0L2143.9 1159.9L2146.4 1160.4L2148.9 1160.8L2151.4 1159.3L2153.9 1160.7L2156.5 1160.0L2159.0 1160.0L2161.5 1160.6"/>
<path stroke="#ffcf3f" d="M399.3 590.5L401.8 581.4L404.3 572.0L406.9 563.7L409.4 554.7L411.9 546.7L414.4 541.6L416.9 551.5L419.4 560.8L422.0 570.0L424.5 579.9L427.0 589.8L429.5 599.4L432.0 609.3L434.5 618.5L437.1 628.1L439.6 637.5L442.1 647.2L444.6 656.9L447.1 666.8L449.6 676.3L452.2 686.2L454.7 695.9L457.2 705.6L459.7 715.0L462.2 727.9L464.8 744.3L467.3 759.6L469.8 773.7L472.3 787.2L474.8 800.2L477.3 812.9L479.9 824.5L482.4 835.2L484.9 845.0L487.4 854.4L489.9 863.9L492.4 873.5L495.0 882.8L497.5 891.8L500.0 899.1L502.5 905.8L505.0 912.1L507.5 917.7L510.1 922.6L512.6 926.8L515.1 931.0L517.6 935.6L520.1 938.8L522.7 942.6L525.2 944.9L527.7 948.5L530.2 950.8L532.7 953.0L535.2 955.1L537.8 957.3L540.3 959.4L542.8 961.1L545.3 962.8L547.8 963.7L550.3 965.3L552.9 966.3L555.4 968.0L557.9 968.9L560.4 969.7L562.9 971.0L565.5 972.3L568.0 973.4L570.5 974.9L573.0 975.3L575.5 977.0L578.0 978.1L580.6 979.1L583.1 980.1L585.6 981.4L588.1 982.0L590.6 983.4L593.1 983.9L595.7 985.6L598.2 986.8L600.7 988.1L603.2 989.2L605.7 990.5L608.2 991.9L610.8 992.8L613.3 994.7L615.8 996.4L618.3 997.6L620.8 999.3L623.4 1001.1L625.9 1002.5L628.4 1004.3L630.9 1006.2L633.4 1007.2L635.9 1009.4L638.5 1010.9L641.0 1012.8L643.5 1014.8L646.0 1016.7L648.5 1017.8L651.0 1019.6L653.6 1021.3L656.1 1023.0L658.6 1024.5L661.1 1026.7L663.6 1028.4L666.1 1029.2L668.7 1030.7L671.2 1032.6L673.7 1034.4L676.2 1035.6L678.7 1037.0L681.3 1037.9L683.8 1039.7L686.3 1041.1L688.8 1041.8L691.3 1043.6L693.8 1045.1L696.4 1046.3L698.9 1047.5L701.4 1048.4L703.9 1049.9L706.4 1050.7L708.9 1052.2L711.5 1053.5L714.0 1054.9L716.5 1056.1L719.0 1057.2L721.5 1058.5L724.0 1059.6L726.6 1060.1L729.1 1061.5L731.6 1062.4L734.1 1063.8L736.6 1064.8L739.2 1065.5L741.7 1066.8L744.2 1067.8L746.7 1069.1L749.2 1069.7L751.7 1070.8L754.3 1071.9L756.8 1073.3L759.3 1074.2L761.8 1074.9L764.3 1076.1L766.8 1076.9L769.4 1077.6L771.9 1079.0L774.4 1079.9L776.9 1080.4L779.4 1081.5L781.9 1082.0L784.5 1083.1L787.0 1084.1L789.5 1085.1L792.0 1085.6L794.5 1087.1L797.1 1087.3L799.6 1087.8L802.1 1088.7L804.6 1089.4L807.1 1090.3L809.6 1091.3L812.2 1092.3L814.7 1092.7L817.2 1093.4L819.7 1093.8L822.2 1094.5L824.7 1095.3L827.3 1095.9L829.8 1097.2L832.3 1097.5L834.8 1098.4L837.3 1098.7L839.9 1099.7L842.4 1100.3L844.9 1100.6L847.4 1101.5L849.9 1102.1L852.4 1102.3L855.0 1103.3L857.5 1103.6L860.0 1104.0L862.5 1104.9L865.0 1104.9L867.5 1106.2L870.1 1105.8L872.6 1106.5L875.1 1106.7L877.6 1107.0L880.1 1107.3L882.6 1108.0L885.2 1108.1L887.7 1109.0L890.2 1108.5L892.7 1109.0L895.2 1109.5L897.8 1100.4L900.3 1099.8L902.8 1100.4L905.3 1098.0L907.8 1097.5L910.3 1097.2L912.9 1096.8L915.4 1096.4L917.9 1096.6L920.4 1095.1L922.9 1094.6L925.4 1093.7L928.0 1094.8L930.5 1094.2L933.0 1093.5L935.5 1092.6L938.0 1090.9L940.5 1091.0L943.1 1089.8L945.6 1090.4L948.1 1088.7L950.6 1089.0L953.1 1088.3L955.7 1087.3L958.2 1086.4L960.7 1086.0L963.2 1084.7L965.7 1083.9L968.2 1083.3L970.8 1082.6L973.3 1083.1L975.8 1080.4L978.3 1079.8L980.8 1080.0L983.3 1078.3L985.9 1077.4L988.4 1076.2L990.9 1076.5L993.4 1075.8L995.9 1075.0L998.4 1073.4L1001.0 1072.4L1003.5 1072.2L1006.0 1071.1L1008.5 1069.7L1011.0 1068.5L1013.6 1067.3L1016.1 1067.0L1018.6 1066.3L1021.1 1065.9L1023.6 1065.0L1026.1 1062.2L1028.7 1062.7L1031.2 1061.9L1033.7 1059.9L1036.2 1059.8L1038.7 1058.5L1041.2 1057.6L1043.8 1056.3L1046.3 1054.6L1048.8 1053.4L1051.3 1052.1L1053.8 1051.8L1056.3 1050.5L1058.9 1050.4L1061.4 1047.7L1063.9 1048.2L1066.4 1045.3L1068.9 1044.3L1071.5 1044.5L1074.0 1043.6L1076.5 1041.0L1079.0 1041.4L1081.5 1039.9L1084.0 1037.8L1086.6 1037.0L1089.1 1035.4L1091.6 1035.5L1094.1 1033.4L1096.6 1032.5L1099.1 1032.4L1101.7 1031.2L1104.2 1029.8L1106.7 1027.6L1109.2 1026.2L1111.7 1026.5L1114.2 1024.3L1116.8 1024.2L1119.3 1021.7L1121.8 1020.3L1124.3 1020.4L1126.8 1017.7L1129.4 1016.6L1131.9 1016.0L1134.4 1015.7L1136.9 1014.1L1139.4 1012.6L1141.9 1010.9L1144.5 1010.5L1147.0 1008.1L1149.5 1008.4L1152.0 1007.1L1154.5 1004.8L1157.0 1003.9L1159.6 1003.4L1162.1 1002.5L1164.6 1001.6L1167.1 999.8L1169.6 997.6L1172.2 997.1L1174.7 995.2L1177.2 994.0L1179.7 994.0L1182.2 991.8L1184.7 990.1L1187.3 990.0L1189.8 989.0L1192.3 986.6L1194.8 987.1L1197.3 986.1L1199.8 983.3L1202.4 982.8L1204.9 982.4L1207.4 981.0L1209.9 979.6L1212.4 978.7L1214.9 976.1L1217.5 976.2L1220.0 974.9L1222.5 973.2L1225.0 972.3L1227.5 970.1L1230.1 970.3L1232.6 969.2L1235.1 966.7L1237.6 966.0L1240.1 965.4L1242.6 964.2L1245.2 962.4L1247.7 961.3L1250.2 961.5L1252.7 960.6L1255.2 958.0L1257.7 957.0L1260.3 957.0L1262.8 955.4L1265.3 954.7L1267.8 953.0L1270.3 951.6L1272.8 951.2L1275.4 950.7L1277.9 948.8L1280.4 949.0L1282.9 947.1L1285.4 945.9L1288.0 945.4L1290.5 943.8L1293.0 942.2L1295.5 942.2L1298.0 940.5L1300.5 939.3L1303.1 938.7L1305.6 937.9L1308.1 937.6L1310.6 936.0L1313.1 935.4L1315.6 933.3L1318.2 933.2L1320.7 932.4L1323.2 931.7L1325.7 931.1L1328.2 928.9L1330.7 928.3L1333.3 927.7L1335.8 926.2L1338.3 925.5L1340.8 925.1L1343.3 924.3L1345.9 923.5L1348.4 922.8L1350.9 922.2L1353.4 921.0L1355.9 921.4L1358.4 918.9L1361.0 920.0L1363.5 918.3L1366.0 916.7L1368.5 916.4L1371.0 915.1L1373.5 914.5L1376.1 913.4L1378.6 913.9L1381.1 912.2L1383.6 912.0L1386.1 911.0L1388.6 910.9L1391.2 910.0L1393.7 909.8L1396.2 909.3L1398.7 907.8L1401.2 906.6L1403.8 906.3L1406.3 907.2L1408.8 905.3L1411.3 905.7L1413.8 903.8L1416.3 903.0L1418.9 904.3L1421.4 903.3L1423.9 902.9L1426.4 901.4L1428.9 902.2L1431.4 900.2L1434.0 901.4L1436.5 899.7L1439.0 899.6L1441.5 899.0L1444.0 900.3L1446.6 899.8L1449.1 899.4L1451.6 899.5L1454.1 897.8L1456.6 898.3L1459.1 898.2L1461.7 898.2L1464.2 898.6L1466.7 898.3L1469.2 899.1L1471.7 898.3L1474.2 899.7L1476.8 899.9L1479.3 899.7L1481.8 899.6L1484.3 899.4L1486.8 899.9L1489.3 900.6L1491.9 900.3L1494.4 902.5L1496.9 903.2L1499.4 902.4L1501.9 904.2L1504.5 903.9L1507.0 905.4L1509.5 906.1L1512.0 907.0L1514.5 906.5L1517.0 908.1L1519.6 909.6L1522.1 909.9L1524.6 910.8L1527.1 911.0L1529.6 912.6L1532.1 914.3L1534.7 915.1L1537.2 915.2L1539.7 916.1L1542.2 918.6L1544.7 919.3L1547.2 920.8L1549.8 920.6L1552.3 922.3L1554.8 924.5L1557.3 925.6L1559.8 925.7L1562.4 928.0L1564.9 929.1L1567.4 929.6L1569.9 931.6L1572.4 934.1L1574.9 934.1L1577.5 935.6L1580.0 937.5L1582.5 938.5L1585.0 941.6L1587.5 941.6L1590.0 943.4L1592.6 946.2L1595.1 947.9L1597.6 948.5L1600.1 950.7L1602.6 953.0L1605.1 954.5L1607.7 956.8L1610.2 958.2L1612.7 958.9L1615.2 961.6L1617.7 964.3L1620.3 965.7L1622.8 966.2L1625.3 969.5L1627.8 971.9L1630.3 972.2L1632.8 975.8L1635.4 976.0L1637.9 978.9L1640.4 981.7L1642.9 982.1L1645.4 984.5L1647.9 986.0L1650.5 989.8L1653.0 990.9L1655.5 992.9L1658.0 994.3L1660.5 998.4L1663.0 999.7L1665.6 1001.3L1668.1 1004.0L1670.6 1004.9L1673.1 1008.7L1675.6 1009.1L1678.2 1011.5L1680.7 1014.1L1683.2 1016.8L1685.7 1019.7L1688.2 1020.1L1690.7 1022.8L1693.3 1024.2L1695.8 1027.2L1698.3 1029.8L1700.8 1032.5L1703.3 1034.1L1705.8 1035.5L1708.4 1038.7L1710.9 1039.8L1713.4 1041.7L1715.9 1044.2L1718.4 1045.9L1721.0 1048.7L1723.5 1049.8L1726.0 1052.9L1728.5 1054.4L1731.0 1056.0L1733.5 1058.2L1736.1 1060.7L1738.6 1063.3L1741.1 1063.9L1743.6 1066.7L1746.1 1069.1L1748.6 1070.1L1751.2 1073.3L1753.7 1075.3L1756.2 1077.1L1758.7 1078.4L1761.2 1080.4L1763.7 1081.6L1766.3 1083.1L1768.8 1085.9L1771.3 1088.5L1773.8 1088.9L1776.3 1091.5L1778.9 1092.7L1781.4 1095.0L1783.9 1097.4L1786.4 1097.4L1788.9 1100.2L1791.4 1101.5L1794.0 1103.1L1796.5 1103.8L1799.0 1105.7L1801.5 1108.4L1804.0 1109.1L1806.5 1111.0L1809.1 1111.3L1811.6 1112.7L1814.1 1115.7L1816.6 1117.3L1819.1 1118.7L1821.6 1118.1L1824.2 1119.9L1826.7 1121.2L1829.2 1123.8L1831.7 1123.2L1834.2 1124.9L1836.8 1126.8L1839.3 1127.6L1841.8 1127.9L1844.3 1128.8L1846.8 1130.3L1849.3 1130.9L1851.9 1133.7L1854.4 1134.0L1856.9 1133.7L1859.4 1136.2L1861.9 1137.1L1864.4 1136.5L1867.0 1137.6L1869.5 1138.1L1872.0 1140.2L1874.5 1139.6L1877.0 1141.5L1879.5 1141.4L1882.1 1143.3L1884.6 1142.7L1887.1 1143.1L1889.6 1145.3L1892.1 1144.6L1894.7 1145.8L1897.2 1146.3L1899.7 1147.5L1902.2 1147.0L1904.7 1148.9L1907.2 1148.7L1909.8 1149.9L1912.3 1149.7L1914.8 1149.8L1917.3 1151.2L1919.8 1150.6L1922.3 1151.7L1924.9 1151.4L1927.4 1151.5L1929.9 1152.2L1932.4 1152.0L1934.9 1153.3L1937.4 1153.3L1940.0 1154.0L1942.5 1155.0L1945.0 1154.7L1947.5 1154.3L1950.0 1155.0L1952.6 1155.2L1955.1 1155.0L1957.6 1154.9L1960.1 1156.3L1962.6 1155.7L1965.1 1155.3L1967.7 1157.0L1970.2 1157.4L1972.7 1156.6L1975.2 1157.6L1977.7 1156.0L1980.2 1157.7L1982.8 1156.5L1985.3 1156.1L1987.8 1157.3L1990.3 1156.2L1992.8 1156.7L1995.3 1157.8L1997.9 1157.1L2000.4 1157.5L2002.9 1157.6L2005.4 1156.9L2007.9 1157.1L2010.5 1158.4L2013.0 1156.9L2015.5 1157.2L2018.0 1158.4L2020.5 1157.2L2023.0 1158.0L2025.6 1157.9L2028.1 1156.8L2030.6 1158.1L2033.1 1158.3L2035.6 1158.5L2038.1 1156.8L2040.7 1157.3L2043.2 1157.6L2045.7 1158.0L2048.2 1156.6L2050.7 1157.4L2053.3 1157.3L2055.8 1157.7L2058.3 1157.8L2060.8 1157.2L2063.3 1157.0L2065.8 1158.2L2068.4 1156.5L2070.9 1157.3L2073.4 1156.5L2075.9 1156.5L2078.4 1156.4L2080.9 1158.2L2083.5 1156.8L2086.0 1157.2L2088.5 1157.6L2091.0 1156.3L2093.5 1158.3L2096.0 1157.3L2098.6 1157.4L2101.1 1157.0L2103.6 1158.3L2106.1 1157.5L2108.6 1156.9L2111.2 1157.3L2113.7 1158.1L2116.2 1157.9L2118.7 1158.3L2121.2 1158.1L2123.7 1159.0L2126.3 1158.0L2128.8 1158.5L2131.3 1158.2L2133.8 1157.6L2136.3 1159.6L2138.8 1159.7L2141.4 1159.8L2143.9 1158.8L2146.4 1159.0L2148.9 1158.8L2151.4 1159.8L2153.9 1159.7L2156.5 1160.6L2159.0 1160.2L2161.5 1160.2"/>
<path stroke="#fffb64" d="M399.3 577.1L401.8 568.0L404.3 560.2L406.9 551.8L409.4 543.7L411.9 536.0L414.4 531.6L416.9 542.0L419.4 552.2L422.0 562.5L424.5 573.2L427.0 583.6L429.5 593.3L432.0 603.4L434.5 614.5L437.1 624.6L439.6 634.9L442.1 645.2L444.6 655.1L447.1 665.1L449.6 675.6L452.2 686.1L454.7 696.2L457.2 706.3L459.7 716.7L462.2 731.6L464.8 747.3L467.3 761.8L469.8 776.2L472.3 789.6L474.8 803.3L477.3 815.7L479.9 827.3L482.4 838.1L484.9 848.3L487.4 857.5L489.9 867.0L492.4 875.9L495.0 885.0L497.5 894.0L500.0 902.1L502.5 908.4L505.0 914.1L507.5 919.8L510.1 924.3L512.6 929.1L515.1 933.3L517.6 937.1L520.1 940.7L522.7 943.8L525.2 947.5L527.7 949.8L530.2 952.2L532.7 954.5L535.2 957.1L537.8 958.9L540.3 960.6L542.8 963.0L545.3 964.3L547.8 965.6L550.3 967.3L552.9 968.2L555.4 969.8L557.9 970.5L560.4 972.0L562.9 972.9L565.5 973.9L568.0 975.1L570.5 976.1L573.0 977.5L575.5 978.7L578.0 979.6L580.6 980.9L583.1 981.4L585.6 982.9L588.1 984.2L590.6 984.7L593.1 986.0L595.7 987.5L598.2 988.8L600.7 990.0L603.2 991.2L605.7 991.9L608.2 993.3L610.8 995.4L613.3 996.0L615.8 998.2L618.3 999.2L620.8 1001.3L623.4 1002.7L625.9 1004.2L628.4 1005.6L630.9 1007.9L633.4 1009.0L635.9 1011.1L638.5 1012.5L641.0 1014.2L643.5 1015.8L646.0 1017.9L648.5 1019.1L651.0 1020.9L653.6 1022.5L656.1 1024.7L658.6 1026.4L661.1 1027.7L663.6 1029.3L666.1 1031.2L668.7 1033.0L671.2 1034.2L673.7 1035.6L676.2 1037.1L678.7 1038.7L681.3 1039.9L683.8 1040.5L686.3 1042.5L688.8 1043.3L691.3 1044.7L693.8 1046.0L696.4 1047.2L698.9 1048.9L701.4 1049.6L703.9 1051.4L706.4 1052.8L708.9 1054.1L711.5 1055.3L714.0 1056.3L716.5 1056.9L719.0 1058.7L721.5 1059.5L724.0 1060.6L726.6 1061.7L729.1 1063.2L731.6 1064.0L734.1 1065.5L736.6 1065.9L739.2 1067.4L741.7 1068.5L744.2 1069.4L746.7 1070.8L749.2 1071.6L751.7 1072.2L754.3 1073.1L756.8 1074.7L759.3 1074.9L761.8 1076.1L764.3 1077.5L766.8 1078.5L769.4 1079.0L771.9 1079.9L774.4 1080.6L776.9 1082.1L779.4 1083.3L781.9 1083.7L784.5 1084.6L787.0 1085.5L789.5 1086.0L792.0 1087.1L794.5 1088.2L797.1 1088.8L799.6 1089.7L802.1 1090.5L804.6 1091.7L807.1 1091.8L809.6 1092.7L812.2 1093.1L814.7 1094.4L817.2 1095.2L819.7 1095.4L822.2 1096.4L824.7 1096.6L827.3 1097.9L829.8 1098.1L832.3 1098.5L834.8 1099.3L837.3 1099.8L839.9 1100.8L842.4 1101.4L844.9 1102.0L847.4 1102.4L849.9 1103.7L852.4 1103.8L855.0 1105.0L857.5 1105.2L860.0 1105.4L862.5 1106.0L865.0 1106.5L867.5 1107.0L870.1 1107.5L872.6 1108.0L875.1 1108.3L877.6 1109.0L880.1 1108.7L882.6 1109.5L885.2 1110.0L887.7 1110.2L890.2 1110.0L892.7 1109.9L895.2 1110.2L897.8 1103.6L900.3 1101.7L902.8 1101.5L905.3 1101.7L907.8 1100.5L910.3 1099.6L912.9 1100.3L915.4 1100.2L917.9 1098.2L920.4 1098.7L922.9 1097.4L925.4 1096.6L928.0 1096.2L930.5 1097.0L933.0 1095.8L935.5 1095.7L938.0 1094.6L940.5 1094.2L943.1 1093.5L945.6 1094.4L948.1 1092.5L950.6 1091.5L953.1 1092.0L955.7 1090.9L958.2 1091.6L960.7 1090.9L963.2 1090.1L965.7 1088.7L968.2 1087.8L970.8 1088.2L973.3 1086.1L975.8 1085.3L978.3 1084.7L980.8 1085.1L983.3 1083.1L985.9 1084.3L988.4 1082.5L990.9 1081.8L993.4 1082.0L995.9 1080.1L998.4 1079.9L1001.0 1079.2L1003.5 1079.2L1006.0 1078.2L1008.5 1077.5L1011.0 1076.4L1013.6 1075.4L1016.1 1074.3L1018.6 1074.0L1021.1 1073.2L1023.6 1072.7L1026.1 1071.6L1028.7 1070.4L1031.2 1069.1L1033.7 1069.5L1036.2 1068.9L1038.7 1067.2L1041.2 1067.2L1043.8 1065.8L1046.3 1064.6L1048.8 1064.7L1051.3 1063.5L1053.8 1063.5L1056.3 1061.6L1058.9 1060.6L1061.4 1059.5L1063.9 1059.3L1066.4 1058.8L1068.9 1058.8L1071.5 1056.3L1074.0 1055.8L1076.5 1055.7L1079.0 1054.9L1081.5 1054.8L1084.0 1052.6L1086.6 1052.5L1089.1 1052.1L1091.6 1051.3L1094.1 1049.9L1096.6 1049.5L1099.1 1048.7L1101.7 1047.8L1104.2 1047.3L1106.7 1045.7L1109.2 1045.5L1111.7 1043.0L1114.2 1043.2L1116.8 1042.7L1119.3 1040.8L1121.8 1041.6L1124.3 1040.5L1126.8 1039.1L1129.4 1038.8L1131.9 1037.0L1134.4 1036.1L1136.9 1036.4L1139.4 1035.1L1141.9 1034.8L1144.5 1032.8L1147.0 1032.5L1149.5 1031.2L1152.0 1031.1L1154.5 1028.9L1157.0 1028.3L1159.6 1027.3L1162.1 1028.3L1164.6 1027.2L1167.1 1026.4L1169.6 1025.0L1172.2 1023.9L1174.7 1022.6L1177.2 1021.7L1179.7 1022.4L1182.2 1020.7L1184.7 1020.0L1187.3 1018.9L1189.8 1018.1L1192.3 1016.6L1194.8 1017.2L1197.3 1016.4L1199.8 1015.2L1202.4 1013.6L1204.9 1013.5L1207.4 1013.6L1209.9 1011.0L1212.4 1011.7L1214.9 1009.7L1217.5 1009.4L1220.0 1009.0L1222.5 1007.8L1225.0 1006.4L1227.5 1005.8L1230.1 1005.2L1232.6 1005.7L1235.1 1004.6L1237.6 1002.8L1240.1 1002.7L1242.6 1001.0L1245.2 1001.1L1247.7 999.5L1250.2 998.9L1252.7 998.4L1255.2 997.3L1257.7 997.0L1260.3 995.6L1262.8 996.1L1265.3 995.2L1267.8 994.6L1270.3 992.4L1272.8 992.2L1275.4 992.3L1277.9 991.0L1280.4 990.8L1282.9 989.0L1285.4 989.0L1288.0 987.9L1290.5 987.4L1293.0 986.1L1295.5 986.5L1298.0 985.6L1300.5 984.9L1303.1 984.2L1305.6 982.1L1308.1 981.8L1310.6 982.0L1313.1 980.2L1315.6 980.6L1318.2 978.9L1320.7 979.1L1323.2 978.2L1325.7 977.1L1328.2 976.8L1330.7 976.1L1333.3 974.5L1335.8 973.9L1338.3 973.3L1340.8 973.4L1343.3 973.1L1345.9 971.0L1348.4 970.8L1350.9 970.9L1353.4 969.9L1355.9 969.1L1358.4 967.6L1361.0 968.5L1363.5 967.5L1366.0 966.7L1368.5 965.1L1371.0 966.0L1373.5 964.6L1376.1 964.2L1378.6 962.8L1381.1 962.3L1383.6 961.9L1386.1 961.2L1388.6 962.2L1391.2 961.3L1393.7 960.7L1396.2 960.0L1398.7 960.7L1401.2 959.5L1403.8 958.9L1406.3 957.6L1408.8 959.1L1411.3 957.4L1413.8 956.5L1416.3 958.1L1418.9 956.8L1421.4 957.1L1423.9 956.1L1426.4 956.5L1428.9 956.6L1431.4 955.0L1434.0 955.2L1436.5 954.5L1439.0 955.8L1441.5 954.5L1444.0 954.6L1446.6 953.7L1449.1 953.3L1451.6 955.0L1454.1 953.3L1456.6 953.2L1459.1 953.5L1461.7 953.5L1464.2 953.4L1466.7 953.1L1469.2 953.2L1471.7 953.4L1474.2 953.9L1476.8 954.5L1479.3 954.5L1481.8 955.0L1484.3 954.5L1486.8 955.2L1489.3 956.3L1491.9 956.2L1494.4 955.1L1496.9 956.3L1499.4 957.0L1501.9 957.9L1504.5 958.4L1507.0 957.4L1509.5 957.8L1512.0 958.7L1514.5 959.3L1517.0 959.1L1519.6 959.6L1522.1 961.4L1524.6 960.8L1527.1 961.7L1529.6 962.1L1532.1 964.4L1534.7 964.1L1537.2 965.7L1539.7 965.5L1542.2 967.5L1544.7 966.8L1547.2 968.9L1549.8 969.1L1552.3 971.2L1554.8 972.1L1557.3 971.2L1559.8 972.9L1562.4 973.5L1564.9 974.6L1567.4 975.6L1569.9 977.7L1572.4 978.2L1574.9 980.1L1577.5 980.8L1580.0 981.4L1582.5 984.0L1585.0 984.9L1587.5 986.3L1590.0 987.7L1592.6 989.6L1595.1 991.1L1597.6 991.6L1600.1 993.5L1602.6 994.5L1605.1 995.4L1607.7 997.5L1610.2 999.0L1612.7 1001.3L1615.2 1001.2L1617.7 1003.4L1620.3 1005.8L1622.8 1007.3L1625.3 1008.8L1627.8 1009.8L1630.3 1010.5L1632.8 1013.3L1635.4 1015.0L1637.9 1015.3L1640.4 1016.7L1642.9 1018.7L1645.4 1021.7L1647.9 1022.5L1650.5 1024.3L1653.0 1025.7L1655.5 1027.6L1658.0 1028.4L1660.5 1030.1L1663.0 1032.6L1665.6 1034.1L1668.1 1035.9L1670.6 1038.5L1673.1 1038.9L1675.6 1041.1L1678.2 1042.5L1680.7 1044.7L1683.2 1046.3L1685.7 1047.8L1688.2 1049.9L1690.7 1051.1L1693.3 1054.3L1695.8 1055.8L1698.3 1057.7L1700.8 1058.4L1703.3 1059.4L1705.8 1062.6L1708.4 1063.2L1710.9 1066.2L1713.4 1066.7L1715.9 1068.3L1718.4 1071.1L1721.0 1072.5L1723.5 1074.1L1726.0 1076.1L1728.5 1077.4L1731.0 1079.9L1733.5 1080.3L1736.1 1081.5L1738.6 1084.5L1741.1 1085.0L1743.6 1087.8L1746.1 1087.7L1748.6 1090.9L1751.2 1091.4L1753.7 1093.8L1756.2 1094.0L1758.7 1095.4L1761.2 1098.0L1763.7 1098.1L1766.3 1101.3L1768.8 1101.9L1771.3 1103.4L1773.8 1105.2L1776.3 1106.2L1778.9 1106.7L1781.4 1108.5L1783.9 1110.6L1786.4 1110.8L1788.9 1113.1L1791.4 1114.3L1794.0 1116.2L1796.5 1116.8L1799.0 1118.0L1801.5 1118.9L1804.0 1120.3L1806.5 1121.6L1809.1 1121.6L1811.6 1122.4L1814.1 1124.2L1816.6 1126.1L1819.1 1125.2L1821.6 1127.8L1824.2 1128.1L1826.7 1129.8L1829.2 1129.2L1831.7 1131.1L1834.2 1131.3L1836.8 1132.8L1839.3 1132.7L1841.8 1135.0L1844.3 1135.4L1846.8 1136.2L1849.3 1136.1L1851.9 1138.2L1854.4 1138.8L1856.9 1139.7L1859.4 1139.1L1861.9 1141.3L1864.4 1140.3L1867.0 1142.4L1869.5 1142.6L1872.0 1142.6L1874.5 1144.4L1877.0 1144.8L1879.5 1144.5L1882.1 1145.4L1884.6 1145.1L1887.1 1145.9L1889.6 1146.1L1892.1 1146.6L1894.7 1148.5L1897.2 1149.6L1899.7 1148.8L1902.2 1148.8L1904.7 1149.3L1907.2 1149.7L1909.8 1151.3L1912.3 1151.6L1914.8 1151.0L1917.3 1152.4L1919.8 1153.1L1922.3 1152.0L1924.9 1153.1L1927.4 1152.4L1929.9 1152.7L1932.4 1153.9L1934.9 1154.5L1937.4 1153.6L1940.0 1154.3L1942.5 1155.5L1945.0 1155.0L1947.5 1154.9L1950.0 1155.7L1952.6 1156.4L1955.1 1156.6L1957.6 1155.6L1960.1 1156.6L1962.6 1157.3L1965.1 1156.8L1967.7 1156.3L1970.2 1157.4L1972.7 1158.4L1975.2 1157.5L1977.7 1157.9L1980.2 1157.3L1982.8 1157.4L1985.3 1158.1L1987.8 1159.2L1990.3 1157.4L1992.8 1159.0L1995.3 1159.5L1997.9 1159.4L2000.4 1158.5L2002.9 1158.6L2005.4 1159.6L2007.9 1158.3L2010.5 1158.8L2013.0 1159.7L2015.5 1159.7L2018.0 1158.5L2020.5 1158.7L2023.0 1160.1L2025.6 1158.9L2028.1 1159.4L2030.6 1159.4L2033.1 1159.2L2035.6 1158.4L2038.1 1160.4L2040.7 1159.4L2043.2 1159.1L2045.7 1159.3L2048.2 1159.2L2050.7 1159.1L2053.3 1159.4L2055.8 1159.8L2058.3 1158.6L2060.8 1159.1L2063.3 1159.7L2065.8 1160.4L2068.4 1158.9L2070.9 1159.8L2073.4 1159.9L2075.9 1158.4L2078.4 1158.7L2080.9 1159.3L2083.5 1158.6L2086.0 1158.6L2088.5 1159.1L2091.0 1158.9L2093.5 1158.8L2096.0 1160.0L2098.6 1160.2L2101.1 1159.9L2103.6 1160.1L2106.1 1160.3L2108.6 1160.0L2111.2 1160.1L2113.7 1158.7L2116.2 1159.2L2118.7 1159.9L2121.2 1158.8L2123.7 1158.8L2126.3 1160.2L2128.8 1159.7L2131.3 1159.0L2133.8 1160.2L2136.3 1159.3L2138.8 1160.1L2141.4 1160.8L2143.9 1160.8L2146.4 1159.5L2148.9 1160.6L2151.4 1160.3L2153.9 1161.1L2156.5 1160.9L2159.0 1161.2L2161.5 1159.9"/>
<path stroke="#eeff70" d="M399.3 573.6L401.8 557.7L404.3 545.0L406.9 535.3L409.4 528.0L411.9 524.0L414.4 522.9L416.9 525.3L419.4 529.3L422.0 533.8L424.5 538.8L427.0 545.7L429.5 553.3L432.0 562.2L434.5 571.0L437.1 580.7L439.6 589.8L442.1 599.3L444.6 609.2L447.1 617.7L449.6 628.0L452.2 637.3L454.7 647.7L457.2 657.4L459.7 667.8L462.2 678.2L464.8 688.8L467.3 699.8L469.8 710.1L472.3 721.8L474.8 733.7L477.3 745.9L479.9 758.6L482.4 770.6L484.9 781.9L487.4 791.1L489.9 800.3L492.4 808.6L495.0 816.7L497.5 824.6L500.0 833.3L502.5 840.5L505.0 847.0L507.5 854.1L510.1 859.5L512.6 864.6L515.1 869.8L517.6 873.7L520.1 878.3L522.7 881.7L525.2 885.5L527.7 888.6L530.2 892.1L532.7 894.3L535.2 897.2L537.8 899.9L540.3 901.9L542.8 903.6L545.3 905.7L547.8 907.7L550.3 909.2L552.9 910.6L555.4 912.3L557.9 913.4L560.4 915.0L562.9 915.9L565.5 917.1L568.0 918.8L570.5 920.0L573.0 921.7L575.5 922.8L578.0 924.0L580.6 926.0L583.1 926.8L585.6 929.2L588.1 930.1L590.6 932.2L593.1 933.4L595.7 934.9L598.2 936.0L600.7 937.6L603.2 939.0L605.7 941.2L608.2 942.9L610.8 944.2L613.3 945.5L615.8 947.5L618.3 949.0L620.8 950.2L623.4 951.9L625.9 954.2L628.4 955.8L630.9 957.6L633.4 958.9L635.9 960.4L638.5 962.3L641.0 964.2L643.5 965.9L646.0 967.5L648.5 969.0L651.0 971.4L653.6 972.8L656.1 974.9L658.6 976.0L661.1 977.7L663.6 980.1L666.1 981.6L668.7 983.5L671.2 984.9L673.7 986.6L676.2 988.3L678.7 989.7L681.3 991.1L683.8 992.7L686.3 994.5L688.8 996.3L691.3 997.8L693.8 998.8L696.4 1000.4L698.9 1002.6L701.4 1003.3L703.9 1005.1L706.4 1006.5L708.9 1008.1L711.5 1009.8L714.0 1010.9L716.5 1012.3L719.0 1014.0L721.5 1015.3L724.0 1017.2L726.6 1018.0L729.1 1019.4L731.6 1020.8L734.1 1022.9L736.6 1024.3L739.2 1025.0L741.7 1026.4L744.2 1027.8L746.7 1029.4L749.2 1031.1L751.7 1032.3L754.3 1034.4L756.8 1035.6L759.3 1037.3L761.8 1038.7L764.3 1040.1L766.8 1041.4L769.4 1042.3L771.9 1044.3L774.4 1045.0L776.9 1046.8L779.4 1048.3L781.9 1049.0L784.5 1050.0L787.0 1051.5L789.5 1051.8L792.0 1053.6L794.5 1053.9L797.1 1055.4L799.6 1056.3L802.1 1057.2L804.6 1058.4L807.1 1058.8L809.6 1059.9L812.2 1060.7L814.7 1061.6L817.2 1062.3L819.7 1063.3L822.2 1063.5L824.7 1064.5L827.3 1065.1L829.8 1066.1L832.3 1066.7L834.8 1067.7L837.3 1068.0L839.9 1068.2L842.4 1068.7L844.9 1069.5L847.4 1069.5L849.9 1070.0L852.4 1070.7L855.0 1070.9L857.5 1070.9L860.0 1070.9L862.5 1071.2L865.0 1071.8L867.5 1071.4L870.1 1072.0L872.6 1072.0L875.1 1072.3L877.6 1072.0L880.1 1072.1L882.6 1072.0L885.2 1072.4L887.7 1072.0L890.2 1071.5L892.7 1071.7L895.2 1071.8L897.8 1089.4L900.3 1088.4L902.8 1090.4L905.3 1089.2L907.8 1090.4L910.3 1090.4L912.9 1090.3L915.4 1089.5L917.9 1090.3L920.4 1091.0L922.9 1090.1L925.4 1090.5L928.0 1091.6L930.5 1090.3L933.0 1090.1L935.5 1091.3L938.0 1091.4L940.5 1089.9L943.1 1090.9L945.6 1090.7L948.1 1090.3L950.6 1090.2L953.1 1089.7L955.7 1089.1L958.2 1088.6L960.7 1088.7L963.2 1088.8L965.7 1088.0L968.2 1088.0L970.8 1088.7L973.3 1086.6L975.8 1086.2L978.3 1086.6L980.8 1085.6L983.3 1085.6L985.9 1086.3L988.4 1085.5L990.9 1085.1L993.4 1082.9L995.9 1082.5L998.4 1082.2L1001.0 1082.6L1003.5 1082.5L1006.0 1081.2L1008.5 1080.2L1011.0 1080.3L1013.6 1080.7L1016.1 1080.4L1018.6 1078.5L1021.1 1077.8L1023.6 1078.2L1026.1 1076.4L1028.7 1076.7L1031.2 1075.8L1033.7 1075.0L1036.2 1075.2L1038.7 1073.6L1041.2 1073.1L1043.8 1073.5L1046.3 1072.8L1048.8 1072.7L1051.3 1071.2L1053.8 1070.8L1056.3 1070.4L1058.9 1070.3L1061.4 1067.7L1063.9 1068.6L1066.4 1066.6L1068.9 1065.7L1071.5 1065.1L1074.0 1065.2L1076.5 1063.6L1079.0 1063.0L1081.5 1063.8L1084.0 1063.4L1086.6 1061.2L1089.1 1060.5L1091.6 1061.0L1094.1 1060.3L1096.6 1059.3L1099.1 1057.2L1101.7 1057.9L1104.2 1056.7L1106.7 1056.1L1109.2 1055.7L1111.7 1054.9L1114.2 1053.1L1116.8 1052.6L1119.3 1052.1L1121.8 1052.2L1124.3 1050.7L1126.8 1050.1L1129.4 1049.0L1131.9 1048.2L1134.4 1048.2L1136.9 1046.5L1139.4 1046.3L1141.9 1045.0L1144.5 1045.2L1147.0 1043.3L1149.5 1042.1L1152.0 1043.1L1154.5 1042.5L1157.0 1040.3L1159.6 1039.7L1162.1 1039.8L1164.6 1038.8L1167.1 1037.6L1169.6 1037.4L1172.2 1035.6L1174.7 1034.6L1177.2 1033.8L1179.7 1033.1L1182.2 1032.9L1184.7 1033.1L1187.3 1031.3L1189.8 1030.2L1192.3 1028.9L1194.8 1029.2L1197.3 1027.6L1199.8 1028.0L1202.4 1026.5L1204.9 1025.4L1207.4 1026.1L1209.9 1025.1L1212.4 1024.5L1214.9 1022.0L1217.5 1022.9L1220.0 1021.0L1222.5 1020.2L1225.0 1019.3L1227.5 1019.2L1230.1 1018.4L1232.6 1017.7L1235.1 1017.1L1237.6 1015.7L1240.1 1014.7L1242.6 1015.0L1245.2 1014.3L1247.7 1013.5L1250.2 1013.1L1252.7 1011.0L1255.2 1011.1L1257.7 1010.3L1260.3 1009.0L1262.8 1009.1L1265.3 1007.2L1267.8 1007.5L1270.3 1006.2L1272.8 1006.8L1275.4 1005.9L1277.9 1004.1L1280.4 1005.0L1282.9 1002.5L1285.4 1002.5L1288.0 1001.2L1290.5 1001.9L1293.0 1000.3L1295.5 999.7L1298.0 999.0L1300.5 998.4L1303.1 998.5L1305.6 998.1L1308.1 997.7L1310.6 997.0L1313.1 994.8L1315.6 994.6L1318.2 994.4L1320.7 993.8L1323.2 992.5L1325.7 993.2L1328.2 992.2L1330.7 990.7L1333.3 990.5L1335.8 989.7L1338.3 990.2L1340.8 989.7L1343.3 987.8L1345.9 988.9L1348.4 988.1L1350.9 986.4L1353.4 986.2L1355.9 985.9L1358.4 985.4L1361.0 985.2L1363.5 984.8L1366.0 983.4L1368.5 984.3L1371.0 983.2L1373.5 981.8L1376.1 982.2L1378.6 981.4L1381.1 981.0L1383.6 980.1L1386.1 981.3L1388.6 980.6L1391.2 979.6L1393.7 978.3L1396.2 979.5L1398.7 978.3L1401.2 977.6L1403.8 978.1L1406.3 977.0L1408.8 976.7L1411.3 975.9L1413.8 976.8L1416.3 976.7L1418.9 974.7L1421.4 974.8L1423.9 974.4L1426.4 975.0L1428.9 973.9L1431.4 973.1L1434.0 974.6L1436.5 973.0L1439.0 972.7L1441.5 973.8L1444.0 972.7L1446.6 972.1L1449.1 971.6L1451.6 972.1L1454.1 972.6L1456.6 973.0L1459.1 972.1L1461.7 971.4L1464.2 971.4L1466.7 972.6L1469.2 971.1L1471.7 971.6L1474.2 972.8L1476.8 971.9L1479.3 972.7L1481.8 972.1L1484.3 973.2L1486.8 973.1L1489.3 973.0L1491.9 972.1L1494.4 972.4L1496.9 973.0L1499.4 974.7L1501.9 974.4L1504.5 974.4L1507.0 974.7L1509.5 975.3L1512.0 975.6L1514.5 975.6L1517.0 977.0L1519.6 977.8L1522.1 978.0L1524.6 979.5L1527.1 979.7L1529.6 979.3L1532.1 980.7L1534.7 981.1L1537.2 982.2L1539.7 983.8L1542.2 984.0L1544.7 985.0L1547.2 985.3L1549.8 986.9L1552.3 987.1L1554.8 989.1L1557.3 989.9L1559.8 991.3L1562.4 990.7L1564.9 992.8L1567.4 993.7L1569.9 994.8L1572.4 996.5L1574.9 997.2L1577.5 999.2L1580.0 999.9L1582.5 1001.1L1585.0 1002.6L1587.5 1002.2L1590.0 1003.9L1592.6 1005.3L1595.1 1006.9L1597.6 1008.4L1600.1 1009.7L1602.6 1011.6L1605.1 1012.2L1607.7 1012.7L1610.2 1015.3L1612.7 1015.8L1615.2 1017.0L1617.7 1020.2L1620.3 1021.2L1622.8 1022.9L1625.3 1023.6L1627.8 1025.6L1630.3 1026.1L1632.8 1028.6L1635.4 1030.1L1637.9 1031.3L1640.4 1031.6L1642.9 1033.0L1645.4 1036.4L1647.9 1037.4L1650.5 1037.7L1653.0 1039.1L1655.5 1042.3L1658.0 1043.5L1660.5 1044.6L1663.0 1046.3L1665.6 1047.5L1668.1 1049.3L1670.6 1050.2L1673.1 1053.6L1675.6 1053.3L1678.2 1056.5L1680.7 1056.8L1683.2 1059.9L1685.7 1060.5L1688.2 1061.4L1690.7 1064.6L1693.3 1064.3L1695.8 1067.6L1698.3 1068.5L1700.8 1070.2L1703.3 1070.7L1705.8 1073.3L1708.4 1074.5L1710.9 1075.8L1713.4 1077.6L1715.9 1079.0L1718.4 1080.4L1721.0 1082.3L1723.5 1083.3L1726.0 1086.0L1728.5 1086.6L1731.0 1088.1L1733.5 1088.9L1736.1 1090.9L1738.6 1093.1L1741.1 1092.9L1743.6 1094.9L1746.1 1097.2L1748.6 1098.8L1751.2 1099.8L1753.7 1101.5L1756.2 1101.3L1758.7 1104.5L1761.2 1104.3L1763.7 1106.2L1766.3 1107.0L1768.8 1108.4L1771.3 1110.2L1773.8 1111.6L1776.3 1112.0L1778.9 1112.7L1781.4 1114.6L1783.9 1116.9L1786.4 1117.1L1788.9 1118.3L1791.4 1119.0L1794.0 1119.6L1796.5 1122.1L1799.0 1123.2L1801.5 1123.3L1804.0 1125.3L1806.5 1125.6L1809.1 1125.8L1811.6 1127.3L1814.1 1128.6L1816.6 1129.9L1819.1 1129.6L1821.6 1130.8L1824.2 1131.0L1826.7 1132.6L1829.2 1133.9L1831.7 1133.8L1834.2 1136.1L1836.8 1135.3L1839.3 1137.1L1841.8 1137.7L1844.3 1137.3L1846.8 1138.4L1849.3 1139.1L1851.9 1139.3L1854.4 1141.0L1856.9 1142.3L1859.4 1143.1L1861.9 1143.5L1864.4 1144.3L1867.0 1144.8L1869.5 1145.1L1872.0 1145.1L1874.5 1146.5L1877.0 1147.1L1879.5 1146.7L1882.1 1147.9L1884.6 1148.4L1887.1 1147.8L1889.6 1147.9L1892.1 1148.6L1894.7 1149.0L1897.2 1149.1L1899.7 1151.0L1902.2 1151.5L1904.7 1151.7L1907.2 1152.3L1909.8 1151.6L1912.3 1152.7L1914.8 1152.5L1917.3 1153.3L1919.8 1152.7L1922.3 1153.7L1924.9 1153.3L1927.4 1154.8L1929.9 1154.6L1932.4 1154.8L1934.9 1155.4L1937.4 1155.9L1940.0 1155.1L1942.5 1156.1L1945.0 1155.7L1947.5 1156.2L1950.0 1155.8L1952.6 1156.6L1955.1 1155.8L1957.6 1157.1L1960.1 1157.5L1962.6 1156.9L1965.1 1157.3L1967.7 1156.3L1970.2 1157.2L1972.7 1157.6L1975.2 1157.9L1977.7 1156.8L1980.2 1157.7L1982.8 1158.2L1985.3 1159.0L1987.8 1157.3L1990.3 1157.7L1992.8 1158.4L1995.3 1158.1L1997.9 1158.6L2000.4 1159.1L2002.9 1157.9L2005.4 1159.1L2007.9 1157.9L2010.5 1158.0L2013.0 1158.1L2015.5 1158.0L2018.0 1159.6L2020.5 1158.5L2023.0 1158.7L2025.6 1158.6L2028.1 1159.5L2030.6 1158.3L2033.1 1158.5L2035.6 1159.5L2038.1 1159.2L2040.7 1158.6L2043.2 1159.3L2045.7 1158.1L2048.2 1158.6L2050.7 1158.2L2053.3 1158.4L2055.8 1159.6L2058.3 1158.9L2060.8 1159.8L2063.3 1159.5L2065.8 1158.6L2068.4 1158.7L2070.9 1158.0L2073.4 1158.9L2075.9 1158.0L2078.4 1158.1L2080.9 1159.7L2083.5 1160.0L2086.0 1159.2L2088.5 1158.9L2091.0 1159.2L2093.5 1159.0L2096.0 1158.4L2098.6 1159.9L2101.1 1158.7L2103.6 1159.8L2106.1 1159.2L2108.6 1159.7L2111.2 1158.7L2113.7 1158.6L2116.2 1159.1L2118.7 1160.2L2121.2 1160.4L2123.7 1159.0L2126.3 1159.1L2128.8 1159.9L2131.3 1159.3L2133.8 1160.6L2136.3 1158.8L2138.8 1160.7L2141.4 1160.0L2143.9 1159.4L2146.4 1160.9L2148.9 1161.1L2151.4 1161.4L2153.9 1160.2L2156.5 1160.6L2159.0 1159.9L2161.5 1161.3"/>
<path stroke="#c0ea58" d="M399.3 541.5L401.8 534.4L404.3 526.7L406.9 519.8L409.4 512.3L411.9 505.5L414.4 502.4L416.9 516.0L419.4 528.5L422.0 542.0L424.5 554.6L427.0 567.4L429.5 580.0L432.0 593.2L434.5 606.6L437.1 619.0L439.6 631.6L442.1 645.3L444.6 657.8L447.1 670.6L449.6 684.0L452.2 697.1L454.7 709.5L457.2 723.6L459.7 738.2L462.2 753.4L464.8 767.5L467.3 781.2L469.8 794.3L472.3 807.4L474.8 820.6L477.3 832.9L479.9 844.4L482.4 854.7L484.9 865.5L487.4 874.4L489.9 883.8L492.4 893.4L495.0 902.3L497.5 910.1L500.0 917.6L502.5 924.0L505.0 929.2L507.5 933.9L510.1 937.7L512.6 942.0L515.1 945.2L517.6 948.9L520.1 952.4L522.7 956.2L525.2 959.1L527.7 962.0L530.2 964.0L532.7 966.8L535.2 969.0L537.8 970.6L540.3 972.4L542.8 974.0L545.3 975.5L547.8 976.7L550.3 977.8L552.9 979.0L555.4 980.4L557.9 981.5L560.4 983.0L562.9 984.1L565.5 985.2L568.0 986.0L570.5 986.8L573.0 988.3L575.5 989.5L578.0 990.4L580.6 992.0L583.1 992.4L585.6 994.0L588.1 995.5L590.6 995.9L593.1 997.3L595.7 999.0L598.2 999.7L600.7 1000.8L603.2 1002.4L605.7 1003.9L608.2 1004.9L610.8 1006.2L613.3 1007.5L615.8 1009.2L618.3 1010.5L620.8 1012.6L623.4 1013.3L625.9 1015.3L628.4 1016.5L630.9 1018.6L633.4 1020.4L635.9 1022.0L638.5 1023.2L641.0 1024.6L643.5 1026.4L646.0 1027.9L648.5 1030.1L651.0 1031.5L653.6 1033.3L656.1 1034.6L658.6 1035.9L661.1 1037.6L663.6 1039.4L666.1 1040.2L668.7 1041.9L671.2 1043.5L673.7 1045.0L676.2 1046.0L678.7 1047.6L681.3 1048.8L683.8 1050.6L686.3 1051.3L688.8 1052.8L691.3 1054.1L693.8 1055.9L696.4 1056.6L698.9 1058.3L701.4 1059.0L703.9 1060.8L706.4 1061.8L708.9 1063.1L711.5 1064.5L714.0 1065.6L716.5 1066.5L719.0 1067.3L721.5 1068.6L724.0 1069.7L726.6 1071.2L729.1 1071.8L731.6 1073.4L734.1 1074.3L736.6 1075.5L739.2 1076.5L741.7 1077.9L744.2 1079.0L746.7 1080.0L749.2 1080.5L751.7 1081.9L754.3 1082.8L756.8 1083.4L759.3 1084.6L761.8 1085.5L764.3 1086.1L766.8 1087.1L769.4 1088.2L771.9 1089.7L774.4 1090.0L776.9 1091.1L779.4 1091.8L781.9 1093.0L784.5 1093.7L787.0 1094.5L789.5 1095.5L792.0 1096.8L794.5 1097.6L797.1 1098.6L799.6 1099.1L802.1 1099.3L804.6 1100.3L807.1 1101.4L809.6 1102.1L812.2 1102.7L814.7 1103.1L817.2 1103.7L819.7 1104.2L822.2 1105.7L824.7 1106.1L827.3 1106.8L829.8 1106.9L832.3 1107.7L834.8 1108.2L837.3 1109.1L839.9 1109.9L842.4 1110.2L844.9 1111.1L847.4 1112.1L849.9 1111.9L852.4 1112.7L855.0 1113.5L857.5 1113.8L860.0 1114.3L862.5 1115.3L865.0 1115.6L867.5 1115.8L870.1 1115.9L872.6 1116.2L875.1 1116.7L877.6 1117.7L880.1 1117.7L882.6 1118.1L885.2 1117.9L887.7 1118.6L890.2 1118.0L892.7 1118.3L895.2 1118.5L897.8 1116.6L900.3 1115.6L902.8 1115.2L905.3 1115.4L907.8 1115.4L910.3 1116.8L912.9 1115.9L915.4 1115.1L917.9 1115.1L920.4 1116.3L922.9 1116.2L925.4 1115.6L928.0 1115.5L930.5 1115.5L933.0 1116.2L935.5 1116.8L938.0 1114.9L940.5 1115.6L943.1 1115.5L945.6 1116.3L948.1 1116.4L950.6 1114.9L953.1 1115.7L955.7 1114.4L958.2 1115.8L960.7 1115.4L963.2 1114.8L965.7 1114.6L968.2 1114.1L970.8 1114.1L973.3 1113.8L975.8 1112.6L978.3 1112.6L980.8 1111.6L983.3 1112.2L985.9 1111.7L988.4 1111.3L990.9 1111.6L993.4 1110.1L995.9 1111.0L998.4 1109.5L1001.0 1109.8L1003.5 1109.2L1006.0 1108.7L1008.5 1107.2L1011.0 1108.3L1013.6 1107.3L1016.1 1106.1L1018.6 1107.3L1021.1 1105.6L1023.6 1106.2L1026.1 1105.6L1028.7 1104.4L1031.2 1103.8L1033.7 1104.1L1036.2 1103.6L1038.7 1102.2L1041.2 1102.1L1043.8 1102.0L1046.3 1100.4L1048.8 1100.4L1051.3 1099.7L1053.8 1099.1L1056.3 1099.3L1058.9 1099.3L1061.4 1098.9L1063.9 1096.9L1066.4 1096.5L1068.9 1096.2L1071.5 1096.9L1074.0 1094.8L1076.5 1095.5L1079.0 1094.6L1081.5 1093.5L1084.0 1094.5L1086.6 1093.4L1089.1 1093.4L1091.6 1091.5L1094.1 1092.0L1096.6 1091.7L1099.1 1090.4L1101.7 1089.9L1104.2 1089.4L1106.7 1089.2L1109.2 1088.5L1111.7 1088.7L1114.2 1087.5L1116.8 1087.4L1119.3 1087.5L1121.8 1087.4L1124.3 1087.2L1126.8 1086.1L1129.4 1086.1L1131.9 1084.4L1134.4 1084.7L1136.9 1083.7L1139.4 1084.2L1141.9 1083.1L1144.5 1084.0L1147.0 1083.1L1149.5 1083.7L1152.0 1082.6L1154.5 1082.8L1157.0 1082.5L1159.6 1081.0L1162.1 1080.3L1164.6 1081.0L1167.1 1081.2L1169.6 1079.9L1172.2 1079.5L1174.7 1079.1L1177.2 1078.4L1179.7 1078.2L1182.2 1078.4L1184.7 1078.6L1187.3 1076.8L1189.8 1078.1L1192.3 1077.5L1194.8 1076.4L1197.3 1077.3L1199.8 1076.5L1202.4 1076.0L1204.9 1075.0L1207.4 1075.9L1209.9 1075.1L1212.4 1074.7L1214.9 1075.4L1217.5 1074.2L1220.0 1074.5L1222.5 1073.1L1225.0 1072.6L1227.5 1073.4L1230.1 1073.6L1232.6 1072.8L1235.1 1072.8L1237.6 1072.6L1240.1 1072.0L1242.6 1072.0L1245.2 1071.2L1247.7 1071.8L1250.2 1070.8L1252.7 1071.9L1255.2 1069.8L1257.7 1070.2L1260.3 1070.8L1262.8 1070.6L1265.3 1070.2L1267.8 1069.0L1270.3 1069.9L1272.8 1068.6L1275.4 1069.2L1277.9 1068.3L1280.4 1068.0L1282.9 1068.0L1285.4 1067.1L1288.0 1067.3L1290.5 1066.4L1293.0 1068.0L1295.5 1066.9L1298.0 1067.3L1300.5 1066.0L1303.1 1066.8L1305.6 1065.6L1308.1 1064.9L1310.6 1065.1L1313.1 1064.9L1315.6 1065.2L1318.2 1065.5L1320.7 1065.5L1323.2 1065.0L1325.7 1063.6L1328.2 1063.7L1330.7 1063.9L1333.3 1062.7L1335.8 1062.6L1338.3 1063.7L1340.8 1063.1L1343.3 1062.6L1345.9 1062.3L1348.4 1061.5L1350.9 1061.2L1353.4 1060.7L1355.9 1060.8L1358.4 1060.2L1361.0 1061.2L1363.5 1060.3L1366.0 1059.3L1368.5 1060.8L1371.0 1060.5L1373.5 1058.5L1376.1 1058.2L1378.6 1059.1L1381.1 1057.6L1383.6 1057.5L1386.1 1058.5L1388.6 1058.0L1391.2 1057.6L1393.7 1057.6L1396.2 1056.3L1398.7 1056.4L1401.2 1056.0L1403.8 1055.8L1406.3 1055.7L1408.8 1054.7L1411.3 1054.8L1413.8 1054.5L1416.3 1054.1L1418.9 1053.4L1421.4 1054.5L1423.9 1054.1L1426.4 1053.1L1428.9 1053.0L1431.4 1053.4L1434.0 1053.1L1436.5 1051.4L1439.0 1051.1L1441.5 1051.2L1444.0 1051.1L1446.6 1051.3L1449.1 1050.2L1451.6 1051.9L1454.1 1051.4L1456.6 1051.4L1459.1 1050.3L1461.7 1050.1L1464.2 1051.2L1466.7 1050.6L1469.2 1050.4L1471.7 1051.3L1474.2 1052.2L1476.8 1051.9L1479.3 1051.5L1481.8 1051.4L1484.3 1051.6L1486.8 1052.9L1489.3 1053.3L1491.9 1052.4L1494.4 1052.5L1496.9 1054.9L1499.4 1054.2L1501.9 1053.6L1504.5 1054.3L1507.0 1055.4L1509.5 1055.7L1512.0 1055.5L1514.5 1057.2L1517.0 1057.7L1519.6 1056.4L1522.1 1058.5L1524.6 1058.6L1527.1 1058.5L1529.6 1059.2L1532.1 1058.2L1534.7 1059.7L1537.2 1059.2L1539.7 1060.3L1542.2 1059.9L1544.7 1060.8L1547.2 1062.1L1549.8 1062.6L1552.3 1062.8L1554.8 1062.6L1557.3 1063.2L1559.8 1063.7L1562.4 1064.7L1564.9 1066.0L1567.4 1067.0L1569.9 1067.6L1572.4 1067.2L1574.9 1068.8L1577.5 1069.4L1580.0 1069.2L1582.5 1070.5L1585.0 1070.5L1587.5 1072.4L1590.0 1071.9L1592.6 1072.4L1595.1 1072.9L1597.6 1074.4L1600.1 1076.1L1602.6 1075.0L1605.1 1077.4L1607.7 1077.1L1610.2 1078.7L1612.7 1079.5L1615.2 1080.0L1617.7 1081.2L1620.3 1082.1L1622.8 1083.1L1625.3 1083.4L1627.8 1084.4L1630.3 1085.5L1632.8 1086.8L1635.4 1087.1L1637.9 1087.9L1640.4 1087.7L1642.9 1089.3L1645.4 1091.4L1647.9 1090.7L1650.5 1092.3L1653.0 1094.1L1655.5 1095.0L1658.0 1094.8L1660.5 1095.3L1663.0 1096.9L1665.6 1097.7L1668.1 1099.5L1670.6 1099.6L1673.1 1101.0L1675.6 1101.3L1678.2 1101.6L1680.7 1102.8L1683.2 1105.0L1685.7 1104.3L1688.2 1106.9L1690.7 1107.6L1693.3 1107.5L1695.8 1109.7L1698.3 1110.2L1700.8 1110.6L1703.3 1110.6L1705.8 1113.2L1708.4 1113.3L1710.9 1114.9L1713.4 1114.5L1715.9 1116.7L1718.4 1116.1L1721.0 1116.6L1723.5 1118.9L1726.0 1119.9L1728.5 1119.8L1731.0 1121.2L1733.5 1121.3L1736.1 1122.2L1738.6 1122.8L1741.1 1123.1L1743.6 1124.2L1746.1 1125.2L1748.6 1126.9L1751.2 1128.1L1753.7 1128.6L1756.2 1128.7L1758.7 1129.8L1761.2 1130.3L1763.7 1131.7L1766.3 1132.4L1768.8 1132.8L1771.3 1133.6L1773.8 1133.6L1776.3 1134.1L1778.9 1134.0L1781.4 1135.0L1783.9 1135.9L1786.4 1137.0L1788.9 1137.8L1791.4 1138.0L1794.0 1138.1L1796.5 1138.1L1799.0 1138.8L1801.5 1139.1L1804.0 1139.9L1806.5 1141.8L1809.1 1140.7L1811.6 1142.2L1814.1 1142.0L1816.6 1144.0L1819.1 1143.1L1821.6 1144.9L1824.2 1144.5L1826.7 1144.6L1829.2 1144.9L1831.7 1146.9L1834.2 1146.4L1836.8 1147.3L1839.3 1147.4L1841.8 1148.4L1844.3 1148.9L1846.8 1149.0L1849.3 1147.9L1851.9 1150.2L1854.4 1150.3L1856.9 1150.8L1859.4 1150.1L1861.9 1150.7L1864.4 1150.7L1867.0 1151.9L1869.5 1150.8L1872.0 1152.0L1874.5 1152.6L1877.0 1152.8L1879.5 1153.2L1882.1 1152.2L1884.6 1153.2L1887.1 1154.7L1889.6 1154.4L1892.1 1153.5L1894.7 1155.0L1897.2 1154.6L1899.7 1154.2L1902.2 1155.4L1904.7 1156.4L1907.2 1155.9L1909.8 1156.5L1912.3 1155.4L1914.8 1156.8L1917.3 1157.4L1919.8 1156.5L1922.3 1157.7L1924.9 1157.7L1927.4 1157.8L1929.9 1157.6L1932.4 1157.9L1934.9 1158.7L1937.4 1157.3L1940.0 1159.0L1942.5 1158.2L1945.0 1158.3L1947.5 1159.6L1950.0 1158.7L1952.6 1159.8L1955.1 1158.8L1957.6 1160.0L1960.1 1160.4L1962.6 1159.8L1965.1 1159.6L1967.7 1160.3L1970.2 1159.4L1972.7 1160.1L1975.2 1159.8L1977.7 1159.9L1980.2 1161.4L1982.8 1160.8L1985.3 1161.5L1987.8 1160.4L1990.3 1159.9L1992.8 1161.0L1995.3 1160.1L1997.9 1160.9L2000.4 1162.0L2002.9 1160.7L2005.4 1162.1L2007.9 1161.2L2010.5 1162.3L2013.0 1160.7L2015.5 1160.8L2018.0 1162.1L2020.5 1162.7L2023.0 1161.2L2025.6 1161.0L2028.1 1162.3L2030.6 1162.5L2033.1 1161.3L2035.6 1162.6L2038.1 1162.4L2040.7 1163.2L2043.2 1162.9L2045.7 1161.8L2048.2 1163.2L2050.7 1163.1L2053.3 1162.6L2055.8 1163.2L2058.3 1163.1L2060.8 1162.0L2063.3 1162.5L2065.8 1162.3L2068.4 1163.5L2070.9 1162.7L2073.4 1162.6L2075.9 1163.3L2078.4 1163.6L2080.9 1163.4L2083.5 1164.0L2086.0 1163.5L2088.5 1162.6L2091.0 1162.7L2093.5 1163.5L2096.0 1162.6L2098.6 1163.0L2101.1 1164.4L2103.6 1163.2L2106.1 1164.4L2108.6 1162.9L2111.2 1163.5L2113.7 1164.4L2116.2 1164.2L2118.7 1163.9L2121.2 1164.9L2123.7 1163.1L2126.3 1164.4L2128.8 1164.1L2131.3 1164.6L2133.8 1163.7L2136.3 1163.6L2138.8 1165.5L2141.4 1164.3L2143.9 1164.5L2146.4 1165.7L2148.9 1164.9L2151.4 1164.6L2153.9 1165.9L2156.5 1165.9L2159.0 1165.4L2161.5 1164.9"/>
<path stroke="#96d248" d="M399.3 533.8L401.8 527.0L404.3 519.8L406.9 513.3L409.4 506.1L411.9 499.6L414.4 497.6L416.9 511.7L419.4 527.0L422.0 541.4L424.5 556.3L427.0 570.7L429.5 584.7L432.0 599.3L434.5 614.4L437.1 628.5L439.6 643.7L442.1 658.1L444.6 672.8L447.1 687.8L449.6 701.5L452.2 716.7L454.7 729.3L457.2 743.2L459.7 756.1L462.2 769.6L464.8 782.7L467.3 796.2L469.8 808.0L472.3 820.7L474.8 833.0L477.3 845.1L479.9 856.8L482.4 868.1L484.9 878.6L487.4 888.0L489.9 897.8L492.4 906.4L495.0 915.0L497.5 923.2L500.0 930.2L502.5 935.7L505.0 941.0L507.5 944.3L510.1 947.6L512.6 951.7L515.1 954.5L517.6 958.7L520.1 961.5L522.7 964.4L525.2 967.7L527.7 971.1L530.2 972.9L532.7 975.8L535.2 978.2L537.8 979.8L540.3 981.4L542.8 983.4L545.3 984.5L547.8 986.0L550.3 986.9L552.9 987.9L555.4 988.8L557.9 990.0L560.4 991.2L562.9 991.8L565.5 992.8L568.0 994.5L570.5 995.1L573.0 996.9L575.5 997.5L578.0 998.8L580.6 1000.2L583.1 1001.1L585.6 1002.1L588.1 1003.9L590.6 1005.3L593.1 1005.9L595.7 1007.7L598.2 1008.3L600.7 1009.8L603.2 1011.5L605.7 1012.1L608.2 1013.4L610.8 1015.4L613.3 1016.1L615.8 1017.9L618.3 1019.6L620.8 1021.0L623.4 1022.6L625.9 1023.7L628.4 1025.0L630.9 1026.6L633.4 1028.3L635.9 1029.7L638.5 1031.4L641.0 1033.0L643.5 1034.7L646.0 1035.9L648.5 1037.8L651.0 1039.2L653.6 1040.3L656.1 1042.2L658.6 1043.5L661.1 1045.3L663.6 1046.9L666.1 1048.3L668.7 1049.8L671.2 1050.9L673.7 1052.4L676.2 1053.8L678.7 1054.4L681.3 1056.0L683.8 1057.6L686.3 1059.0L688.8 1059.7L691.3 1061.0L693.8 1062.5L696.4 1064.2L698.9 1065.3L701.4 1066.2L703.9 1067.4L706.4 1068.5L708.9 1069.8L711.5 1071.3L714.0 1072.7L716.5 1073.8L719.0 1074.3L721.5 1075.9L724.0 1076.8L726.6 1078.0L729.1 1079.4L731.6 1080.1L734.1 1081.3L736.6 1082.8L739.2 1083.4L741.7 1084.6L744.2 1085.9L746.7 1086.3L749.2 1087.7L751.7 1088.9L754.3 1089.3L756.8 1091.1L759.3 1091.5L761.8 1092.8L764.3 1094.0L766.8 1094.2L769.4 1095.5L771.9 1096.6L774.4 1097.7L776.9 1098.1L779.4 1099.3L781.9 1100.3L784.5 1100.7L787.0 1102.0L789.5 1103.2L792.0 1103.2L794.5 1104.1L797.1 1105.3L799.6 1106.5L802.1 1106.9L804.6 1107.2L807.1 1108.2L809.6 1109.0L812.2 1110.0L814.7 1110.5L817.2 1111.5L819.7 1111.9L822.2 1112.0L824.7 1112.7L827.3 1113.6L829.8 1114.4L832.3 1115.3L834.8 1115.5L837.3 1115.9L839.9 1116.9L842.4 1117.3L844.9 1117.9L847.4 1118.6L849.9 1119.0L852.4 1119.4L855.0 1120.0L857.5 1120.3L860.0 1121.1L862.5 1121.4L865.0 1121.9L867.5 1122.7L870.1 1122.7L872.6 1122.9L875.1 1123.3L877.6 1124.0L880.1 1124.4L882.6 1123.9L885.2 1124.7L887.7 1124.8L890.2 1124.8L892.7 1124.7L895.2 1124.9L897.8 1122.3L900.3 1121.1L902.8 1120.9L905.3 1119.9L907.8 1121.2L910.3 1120.4L912.9 1120.8L915.4 1121.0L917.9 1119.8L920.4 1120.0L922.9 1119.6L925.4 1120.5L928.0 1120.9L930.5 1120.5L933.0 1120.4L935.5 1119.6L938.0 1120.4L940.5 1120.5L943.1 1120.4L945.6 1121.3L948.1 1121.1L950.6 1121.3L953.1 1120.5L955.7 1119.9L958.2 1121.4L960.7 1120.8L963.2 1119.4L965.7 1119.5L968.2 1120.2L970.8 1119.4L973.3 1120.6L975.8 1120.2L978.3 1119.0L980.8 1119.0L983.3 1118.9L985.9 1118.6L988.4 1119.2L990.9 1118.2L993.4 1118.8L995.9 1118.8L998.4 1118.0L1001.0 1117.8L1003.5 1117.8L1006.0 1117.7L1008.5 1117.0L1011.0 1116.1L1013.6 1117.8L1016.1 1115.7L1018.6 1117.1L1021.1 1116.7L1023.6 1115.9L1026.1 1115.4L1028.7 1114.9L1031.2 1114.6L1033.7 1114.5L1036.2 1115.8L1038.7 1115.2L1041.2 1114.0L1043.8 1113.7L1046.3 1113.8L1048.8 1113.6L1051.3 1113.0L1053.8 1113.7L1056.3 1113.2L1058.9 1112.3L1061.4 1112.5L1063.9 1113.2L1066.4 1112.8L1068.9 1111.2L1071.5 1112.8L1074.0 1112.0L1076.5 1111.6L1079.0 1111.9L1081.5 1110.5L1084.0 1111.1L1086.6 1111.0L1089.1 1110.9L1091.6 1110.5L1094.1 1110.6L1096.6 1109.0L1099.1 1110.0L1101.7 1110.2L1104.2 1108.5L1106.7 1109.7L1109.2 1109.2L1111.7 1108.6L1114.2 1107.4L1116.8 1107.7L1119.3 1108.4L1121.8 1107.5L1124.3 1108.5L1126.8 1107.0L1129.4 1106.3L1131.9 1107.7L1134.4 1106.2L1136.9 1106.0L1139.4 1106.6L1141.9 1105.9L1144.5 1105.5L1147.0 1105.7L1149.5 1105.3L1152.0 1106.6L1154.5 1106.5L1157.0 1106.3L1159.6 1106.2L1162.1 1105.5L1164.6 1104.7L1167.1 1105.4L1169.6 1103.7L1172.2 1104.3L1174.7 1104.5L1177.2 1103.7L1179.7 1103.5L1182.2 1103.6L1184.7 1104.6L1187.3 1104.2L1189.8 1103.7L1192.3 1102.9L1194.8 1102.4L1197.3 1102.3L1199.8 1102.1L1202.4 1102.8L1204.9 1102.4L1207.4 1102.7L1209.9 1101.6L1212.4 1103.2L1214.9 1103.1L1217.5 1102.8L1220.0 1101.2L1222.5 1102.1L1225.0 1101.4L1227.5 1101.6L1230.1 1101.7L1232.6 1101.5L1235.1 1100.7L1237.6 1100.8L1240.1 1100.4L1242.6 1101.8L1245.2 1101.1L1247.7 1101.7L1250.2 1100.3L1252.7 1099.9L1255.2 1100.4L1257.7 1101.4L1260.3 1100.7L1262.8 1100.6L1265.3 1101.1L1267.8 1099.3L1270.3 1100.8L1272.8 1099.3L1275.4 1100.3L1277.9 1099.6L1280.4 1098.8L1282.9 1099.7L1285.4 1099.7L1288.0 1099.6L1290.5 1099.4L1293.0 1099.3L1295.5 1099.5L1298.0 1099.3L1300.5 1099.3L1303.1 1098.6L1305.6 1099.3L1308.1 1099.4L1310.6 1097.6L1313.1 1098.8L1315.6 1097.7L1318.2 1099.2L1320.7 1098.9L1323.2 1098.6L1325.7 1097.1L1328.2 1098.0L1330.7 1097.9L1333.3 1098.9L1335.8 1097.5L1338.3 1097.6L1340.8 1097.8L1343.3 1097.2L1345.9 1097.9L1348.4 1097.0L1350.9 1097.8L1353.4 1097.3L1355.9 1097.6L1358.4 1097.3L1361.0 1096.7L1363.5 1096.4L1366.0 1096.1L1368.5 1096.3L1371.0 1096.4L1373.5 1096.0L1376.1 1096.0L1378.6 1096.3L1381.1 1095.2L1383.6 1096.3L1386.1 1095.6L1388.6 1096.5L1391.2 1096.8L1393.7 1095.0L1396.2 1096.0L1398.7 1095.6L1401.2 1095.8L1403.8 1095.4L1406.3 1096.1L1408.8 1094.8L1411.3 1094.6L1413.8 1094.1L1416.3 1094.9L1418.9 1094.2L1421.4 1094.8L1423.9 1093.9L1426.4 1094.5L1428.9 1093.7L1431.4 1093.9L1434.0 1094.4L1436.5 1093.6L1439.0 1093.9L1441.5 1093.9L1444.0 1092.9L1446.6 1093.6L1449.1 1093.2L1451.6 1094.0L1454.1 1093.9L1456.6 1094.5L1459.1 1094.4L1461.7 1094.0L1464.2 1094.6L1466.7 1094.1L1469.2 1093.1L1471.7 1094.5L1474.2 1093.1L1476.8 1093.3L1479.3 1093.3L1481.8 1093.8L1484.3 1094.2L1486.8 1093.7L1489.3 1094.4L1491.9 1094.8L1494.4 1094.9L1496.9 1096.2L1499.4 1095.3L1501.9 1095.3L1504.5 1096.8L1507.0 1097.4L1509.5 1095.8L1512.0 1096.3L1514.5 1097.0L1517.0 1097.2L1519.6 1098.3L1522.1 1098.6L1524.6 1097.4L1527.1 1098.6L1529.6 1099.3L1532.1 1099.9L1534.7 1099.7L1537.2 1100.9L1539.7 1099.6L1542.2 1099.9L1544.7 1100.9L1547.2 1101.5L1549.8 1101.4L1552.3 1101.7L1554.8 1101.4L1557.3 1102.4L1559.8 1104.1L1562.4 1103.7L1564.9 1103.8L1567.4 1104.5L1569.9 1104.2L1572.4 1104.5L1574.9 1105.5L1577.5 1106.0L1580.0 1107.3L1582.5 1106.1L1585.0 1106.7L1587.5 1107.5L1590.0 1108.5L1592.6 1108.7L1595.1 1109.0L1597.6 1108.5L1600.1 1109.5L1602.6 1110.1L1605.1 1109.9L1607.7 1110.7L1610.2 1111.5L1612.7 1113.2L1615.2 1111.8L1617.7 1114.2L1620.3 1113.3L1622.8 1115.3L1625.3 1114.8L1627.8 1114.5L1630.3 1115.3L1632.8 1115.9L1635.4 1117.6L1637.9 1117.2L1640.4 1117.8L1642.9 1118.2L1645.4 1118.7L1647.9 1119.3L1650.5 1120.6L1653.0 1120.9L1655.5 1122.6L1658.0 1123.3L1660.5 1123.7L1663.0 1123.8L1665.6 1123.9L1668.1 1124.2L1670.6 1125.5L1673.1 1125.8L1675.6 1126.0L1678.2 1126.3L1680.7 1126.8L1683.2 1128.2L1685.7 1129.6L1688.2 1130.5L1690.7 1130.0L1693.3 1131.7L1695.8 1130.7L1698.3 1131.8L1700.8 1133.1L1703.3 1133.9L1705.8 1134.6L1708.4 1135.0L1710.9 1134.2L1713.4 1135.0L1715.9 1135.8L1718.4 1136.4L1721.0 1136.1L1723.5 1136.5L1726.0 1138.8L1728.5 1138.8L1731.0 1139.2L1733.5 1139.8L1736.1 1139.5L1738.6 1140.7L1741.1 1141.0L1743.6 1141.8L1746.1 1141.0L1748.6 1142.7L1751.2 1142.0L1753.7 1143.2L1756.2 1142.8L1758.7 1144.2L1761.2 1144.7L1763.7 1144.3L1766.3 1145.7L1768.8 1146.5L1771.3 1147.0L1773.8 1146.3L1776.3 1147.0L1778.9 1147.6L1781.4 1148.3L1783.9 1147.6L1786.4 1148.6L1788.9 1148.4L1791.4 1149.9L1794.0 1149.0L1796.5 1149.6L1799.0 1149.8L1801.5 1149.4L1804.0 1151.3L1806.5 1151.8L1809.1 1152.0L1811.6 1152.5L1814.1 1152.8L1816.6 1152.3L1819.1 1152.4L1821.6 1152.6L1824.2 1152.4L1826.7 1153.2L1829.2 1152.9L1831.7 1153.7L1834.2 1153.8L1836.8 1153.8L1839.3 1154.6L1841.8 1154.2L1844.3 1154.8L1846.8 1155.5L1849.3 1154.5L1851.9 1155.4L1854.4 1155.2L1856.9 1155.5L1859.4 1156.8L1861.9 1155.9L1864.4 1156.6L1867.0 1157.6L1869.5 1157.9L1872.0 1157.0L1874.5 1157.7L1877.0 1157.7L1879.5 1157.6L1882.1 1157.7L1884.6 1158.5L1887.1 1159.2L1889.6 1158.2L1892.1 1158.4L1894.7 1158.1L1897.2 1159.4L1899.7 1158.6L1902.2 1158.4L1904.7 1159.6L1907.2 1159.3L1909.8 1159.4L1912.3 1159.5L1914.8 1160.7L1917.3 1160.1L1919.8 1160.9L1922.3 1159.4L1924.9 1159.3L1927.4 1159.4L1929.9 1161.1L1932.4 1159.7L1934.9 1160.1L1937.4 1161.2L1940.0 1161.0L1942.5 1160.8L1945.0 1160.7L1947.5 1161.8L1950.0 1161.0L1952.6 1161.0L1955.1 1160.8L1957.6 1161.5L1960.1 1161.9L1962.6 1161.0L1965.1 1162.5L1967.7 1161.1L1970.2 1161.9L1972.7 1162.9L1975.2 1162.1L1977.7 1162.1L1980.2 1161.2L1982.8 1162.5L1985.3 1161.6L1987.8 1162.4L1990.3 1162.7L1992.8 1162.2L1995.3 1161.7L1997.9 1162.2L2000.4 1163.2L2002.9 1161.7L2005.4 1163.6L2007.9 1163.3L2010.5 1162.8L2013.0 1162.6L2015.5 1162.1L2018.0 1162.9L2020.5 1163.2L2023.0 1162.4L2025.6 1162.7L2028.1 1163.4L2030.6 1162.5L2033.1 1164.2L2035.6 1162.2L2038.1 1162.4L2040.7 1163.3L2043.2 1163.3L2045.7 1163.5L2048.2 1164.1L2050.7 1162.6L2053.3 1164.4L2055.8 1164.3L2058.3 1163.7L2060.8 1164.5L2063.3 1162.8L2065.8 1163.5L2068.4 1163.9L2070.9 1163.8L2073.4 1164.7L2075.9 1163.5L2078.4 1163.1L2080.9 1164.6L2083.5 1163.4L2086.0 1163.8L2088.5 1164.9L2091.0 1163.8L2093.5 1164.3L2096.0 1165.3L2098.6 1165.2L2101.1 1163.6L2103.6 1163.6L2106.1 1165.2L2108.6 1164.0L2111.2 1163.8L2113.7 1164.2L2116.2 1165.4L2118.7 1165.9L2121.2 1164.8L2123.7 1164.7L2126.3 1164.9L2128.8 1165.4L2131.3 1164.8L2133.8 1164.6L2136.3 1164.8L2138.8 1164.6L2141.4 1166.2L2143.9 1165.5L2146.4 1164.9L2148.9 1166.0L2151.4 1165.3L2153.9 1166.0L2156.5 1165.8L2159.0 1165.4L2161.5 1167.0"/>
<path stroke="#6cb830" d="M399.3 502.2L401.8 487.6L404.3 473.8L406.9 459.5L409.4 445.8L411.9 432.5L414.4 424.3L416.9 437.8L419.4 451.2L422.0 464.8L424.5 477.8L427.0 491.1L429.5 504.5L432.0 517.9L434.5 530.7L437.1 545.4L439.6 565.7L442.1 585.1L444.6 605.4L447.1 624.9L449.6 644.9L452.2 664.4L454.7 684.4L457.2 704.4L459.7 724.1L462.2 740.3L464.8 755.6L467.3 769.3L469.8 783.3L472.3 796.9L474.8 809.4L477.3 822.0L479.9 833.8L482.4 844.4L484.9 854.9L487.4 863.8L489.9 873.8L492.4 882.7L495.0 892.1L497.5 900.6L500.0 908.0L502.5 914.3L505.0 919.9L507.5 924.6L510.1 929.7L512.6 934.2L515.1 937.7L517.6 942.1L520.1 945.1L522.7 948.2L525.2 952.1L527.7 954.1L530.2 956.7L532.7 959.0L535.2 961.3L537.8 963.8L540.3 965.0L542.8 967.1L545.3 968.6L547.8 969.6L550.3 971.1L552.9 972.4L555.4 973.8L557.9 974.6L560.4 976.1L562.9 977.5L565.5 978.0L568.0 979.5L570.5 980.0L573.0 981.7L575.5 983.0L578.0 983.7L580.6 984.5L583.1 986.3L585.6 986.9L588.1 988.2L590.6 989.7L593.1 990.3L595.7 991.3L598.2 993.3L600.7 994.3L603.2 994.9L605.7 996.4L608.2 997.7L610.8 999.4L613.3 1000.9L615.8 1002.4L618.3 1003.8L620.8 1005.6L623.4 1006.6L625.9 1008.4L628.4 1010.3L630.9 1012.1L633.4 1013.7L635.9 1015.5L638.5 1016.5L641.0 1018.2L643.5 1020.6L646.0 1021.9L648.5 1023.7L651.0 1024.9L653.6 1026.4L656.1 1028.5L658.6 1029.8L661.1 1031.9L663.6 1033.2L666.1 1034.4L668.7 1036.7L671.2 1037.5L673.7 1038.9L676.2 1040.5L678.7 1041.6L681.3 1043.4L683.8 1044.4L686.3 1045.7L688.8 1047.0L691.3 1048.3L693.8 1049.6L696.4 1051.4L698.9 1052.1L701.4 1053.5L703.9 1055.0L706.4 1055.9L708.9 1057.3L711.5 1058.8L714.0 1059.3L716.5 1061.1L719.0 1061.8L721.5 1063.2L724.0 1064.5L726.6 1065.6L729.1 1066.9L731.6 1067.4L734.1 1068.5L736.6 1069.4L739.2 1071.1L741.7 1071.9L744.2 1073.3L746.7 1073.6L749.2 1074.5L751.7 1076.1L754.3 1077.4L756.8 1077.6L759.3 1079.1L761.8 1080.3L764.3 1081.1L766.8 1081.9L769.4 1083.0L771.9 1084.2L774.4 1084.3L776.9 1085.9L779.4 1086.2L781.9 1086.9L784.5 1088.0L787.0 1089.0L789.5 1089.6L792.0 1091.2L794.5 1091.2L797.1 1092.1L799.6 1093.4L802.1 1094.4L804.6 1095.0L807.1 1095.4L809.6 1096.2L812.2 1096.8L814.7 1097.4L817.2 1098.0L819.7 1098.8L822.2 1099.7L824.7 1100.4L827.3 1101.4L829.8 1101.8L832.3 1102.0L834.8 1102.9L837.3 1103.8L839.9 1104.0L842.4 1105.1L844.9 1105.6L847.4 1106.0L849.9 1106.8L852.4 1107.0L855.0 1108.3L857.5 1108.2L860.0 1109.2L862.5 1109.3L865.0 1110.3L867.5 1110.5L870.1 1110.8L872.6 1111.4L875.1 1111.9L877.6 1111.9L880.1 1112.0L882.6 1113.0L885.2 1113.0L887.7 1112.8L890.2 1112.9L892.7 1113.2L895.2 1113.5L897.8 1125.0L900.3 1124.9L902.8 1125.7L905.3 1125.1L907.8 1124.4L910.3 1125.3L912.9 1123.0L915.4 1125.0L917.9 1123.2L920.4 1122.7L922.9 1125.9L925.4 1123.4L928.0 1125.9L930.5 1122.7L933.0 1124.7L935.5 1123.9L938.0 1123.8L940.5 1125.3L943.1 1124.0L945.6 1125.4L948.1 1123.8L950.6 1125.0L953.1 1123.5L955.7 1123.1L958.2 1122.9L960.7 1123.8L963.2 1124.1L965.7 1123.2L968.2 1123.5L970.8 1123.1L973.3 1122.6L975.8 1122.7L978.3 1122.4L980.8 1123.7L983.3 1123.0L985.9 1124.6L988.4 1122.9L990.9 1125.6L993.4 1124.6L995.9 1123.2L998.4 1123.2L1001.0 1124.4L1003.5 1124.1L1006.0 1123.1L1008.5 1124.9L1011.0 1123.1L1013.6 1125.2L1016.1 1124.7L1018.6 1124.9L1021.1 1122.8L1023.6 1125.4L1026.1 1124.2L1028.7 1125.4L1031.2 1125.1L1033.7 1124.9L1036.2 1122.0L1038.7 1123.2L1041.2 1122.4L1043.8 1124.0L1046.3 1125.3L1048.8 1122.1L1051.3 1123.6L1053.8 1124.8L1056.3 1122.7L1058.9 1123.2L1061.4 1124.5L1063.9 1124.8L1066.4 1122.3L1068.9 1122.6L1071.5 1123.6L1074.0 1123.9L1076.5 1122.3L1079.0 1122.6L1081.5 1123.6L1084.0 1124.9L1086.6 1124.0L1089.1 1123.8L1091.6 1124.1L1094.1 1123.0L1096.6 1123.0L1099.1 1123.8L1101.7 1122.2L1104.2 1124.0L1106.7 1124.9L1109.2 1124.3L1111.7 1122.2L1114.2 1123.1L1116.8 1122.9L1119.3 1121.8L1121.8 1123.7L1124.3 1121.8L1126.8 1122.7L1129.4 1124.5L1131.9 1123.0L1134.4 1123.8L1136.9 1122.8L1139.4 1123.0L1141.9 1124.7L1144.5 1122.9L1147.0 1122.3L1149.5 1124.2L1152.0 1121.6L1154.5 1124.0L1157.0 1124.2L1159.6 1122.2L1162.1 1122.4L1164.6 1124.5L1167.1 1123.3L1169.6 1122.5L1172.2 1122.3L1174.7 1123.0L1177.2 1123.7L1179.7 1122.7L1182.2 1123.3L1184.7 1121.6L1187.3 1122.5L1189.8 1122.0L1192.3 1124.6L1194.8 1123.6L1197.3 1124.4L1199.8 1122.5L1202.4 1123.1L1204.9 1121.9L1207.4 1123.6L1209.9 1124.9L1212.4 1123.4L1214.9 1125.2L1217.5 1122.4L1220.0 1122.9L1222.5 1123.2L1225.0 1123.1L1227.5 1122.6L1230.1 1122.3L1232.6 1123.6L1235.1 1122.9L1237.6 1124.5L1240.1 1125.5L1242.6 1123.4L1245.2 1124.8L1247.7 1122.8L1250.2 1125.6L1252.7 1125.6L1255.2 1122.8L1257.7 1124.2L1260.3 1123.4L1262.8 1125.1L1265.3 1124.2L1267.8 1123.1L1270.3 1124.0L1272.8 1125.0L1275.4 1123.2L1277.9 1125.5L1280.4 1125.3L1282.9 1123.4L1285.4 1125.2L1288.0 1123.8L1290.5 1126.1L1293.0 1124.8L1295.5 1125.7L1298.0 1125.5L1300.5 1124.9L1303.1 1123.7L1305.6 1124.1L1308.1 1125.3L1310.6 1124.8L1313.1 1125.8L1315.6 1124.8L1318.2 1123.7L1320.7 1125.4L1323.2 1126.7L1325.7 1126.8L1328.2 1126.5L1330.7 1125.1L1333.3 1123.7L1335.8 1126.8L1338.3 1125.4L1340.8 1123.8L1343.3 1126.6L1345.9 1124.0L1348.4 1124.1L1350.9 1124.4L1353.4 1126.0L1355.9 1126.3L1358.4 1124.9L1361.0 1124.0L1363.5 1124.7L1366.0 1124.3L1368.5 1127.1L1371.0 1124.7L1373.5 1127.5L1376.1 1127.6L1378.6 1124.8L1381.1 1126.1L1383.6 1125.9L1386.1 1127.7L1388.6 1125.8L1391.2 1125.5L1393.7 1126.0L1396.2 1124.6L1398.7 1127.9L1401.2 1125.1L1403.8 1124.8L1406.3 1126.5L1408.8 1126.3L1411.3 1127.6L1413.8 1127.3L1416.3 1125.1L1418.9 1127.7L1421.4 1126.6L1423.9 1125.1L1426.4 1127.2L1428.9 1124.8L1431.4 1125.6L1434.0 1125.6L1436.5 1125.3L1439.0 1127.8L1441.5 1126.9L1444.0 1128.1L1446.6 1125.5L1449.1 1127.0L1451.6 1126.7L1454.1 1126.9L1456.6 1126.7L1459.1 1127.4L1461.7 1127.6L1464.2 1125.8L1466.7 1127.7L1469.2 1125.3L1471.7 1125.5L1474.2 1127.0L1476.8 1127.2L1479.3 1126.6L1481.8 1128.1L1484.3 1127.5L1486.8 1126.8L1489.3 1126.9L1491.9 1129.1L1494.4 1129.1L1496.9 1127.3L1499.4 1126.4L1501.9 1127.4L1504.5 1129.1L1507.0 1129.3L1509.5 1129.1L1512.0 1128.7L1514.5 1128.3L1517.0 1129.0L1519.6 1131.0L1522.1 1129.5L1524.6 1129.0L1527.1 1132.0L1529.6 1130.7L1532.1 1130.5L1534.7 1132.3L1537.2 1130.4L1539.7 1132.9L1542.2 1130.6L1544.7 1132.6L1547.2 1133.4L1549.8 1133.9L1552.3 1133.5L1554.8 1133.7L1557.3 1134.4L1559.8 1132.4L1562.4 1133.8L1564.9 1134.0L1567.4 1133.4L1569.9 1133.3L1572.4 1136.4L1574.9 1136.3L1577.5 1134.8L1580.0 1135.7L1582.5 1135.7L1585.0 1136.3L1587.5 1137.0L1590.0 1136.7L1592.6 1138.1L1595.1 1135.7L1597.6 1136.1L1600.1 1136.1L1602.6 1138.9L1605.1 1137.2L1607.7 1137.0L1610.2 1137.1L1612.7 1138.1L1615.2 1138.6L1617.7 1139.8L1620.3 1139.4L1622.8 1139.7L1625.3 1141.5L1627.8 1140.0L1630.3 1139.8L1632.8 1139.2L1635.4 1139.5L1637.9 1142.6L1640.4 1140.4L1642.9 1142.3L1645.4 1141.1L1647.9 1141.8L1650.5 1141.1L1653.0 1143.9L1655.5 1142.5L1658.0 1141.6L1660.5 1144.1L1663.0 1144.7L1665.6 1144.9L1668.1 1144.2L1670.6 1145.9L1673.1 1146.3L1675.6 1145.9L1678.2 1146.7L1680.7 1146.9L1683.2 1147.0L1685.7 1147.1L1688.2 1144.6L1690.7 1146.5L1693.3 1147.1L1695.8 1146.2L1698.3 1147.9L1700.8 1148.9L1703.3 1146.4L1705.8 1149.0L1708.4 1148.4L1710.9 1148.4L1713.4 1149.9L1715.9 1148.0L1718.4 1148.0L1721.0 1149.8L1723.5 1148.4L1726.0 1149.7L1728.5 1151.5L1731.0 1149.0L1733.5 1151.3L1736.1 1151.6L1738.6 1152.4L1741.1 1150.9L1743.6 1150.1L1746.1 1152.5L1748.6 1151.0L1751.2 1153.2L1753.7 1151.1L1756.2 1153.8L1758.7 1153.1L1761.2 1152.5L1763.7 1153.6L1766.3 1155.0L1768.8 1151.9L1771.3 1155.1L1773.8 1154.7L1776.3 1153.1L1778.9 1154.5L1781.4 1154.7L1783.9 1154.3L1786.4 1153.5L1788.9 1153.6L1791.4 1155.6L1794.0 1155.5L1796.5 1155.2L1799.0 1154.0L1801.5 1155.6L1804.0 1154.2L1806.5 1156.8L1809.1 1154.8L1811.6 1155.4L1814.1 1157.4L1816.6 1156.3L1819.1 1155.9L1821.6 1157.6L1824.2 1157.9L1826.7 1157.5L1829.2 1158.5L1831.7 1156.1L1834.2 1158.8L1836.8 1156.7L1839.3 1157.9L1841.8 1157.2L1844.3 1158.9L1846.8 1157.4L1849.3 1158.0L1851.9 1157.1L1854.4 1158.8L1856.9 1159.7L1859.4 1157.1L1861.9 1157.2L1864.4 1159.7L1867.0 1158.5L1869.5 1157.6L1872.0 1157.7L1874.5 1158.4L1877.0 1160.0L1879.5 1158.0L1882.1 1160.2L1884.6 1160.0L1887.1 1159.1L1889.6 1160.4L1892.1 1160.1L1894.7 1161.4L1897.2 1161.1L1899.7 1160.4L1902.2 1161.5L1904.7 1159.8L1907.2 1161.6L1909.8 1160.6L1912.3 1160.1L1914.8 1160.2L1917.3 1159.6L1919.8 1160.8L1922.3 1162.1L1924.9 1160.5L1927.4 1162.3L1929.9 1161.6L1932.4 1159.9L1934.9 1160.9L1937.4 1161.3L1940.0 1160.4L1942.5 1161.3L1945.0 1162.1L1947.5 1161.3L1950.0 1161.1L1952.6 1160.2L1955.1 1161.8L1957.6 1162.1L1960.1 1163.2L1962.6 1162.6L1965.1 1161.8L1967.7 1163.2L1970.2 1163.5L1972.7 1160.5L1975.2 1163.3L1977.7 1161.8L1980.2 1161.0L1982.8 1161.3L1985.3 1163.6L1987.8 1163.1L1990.3 1162.0L1992.8 1162.9L1995.3 1161.6L1997.9 1161.0L2000.4 1163.4L2002.9 1162.1L2005.4 1164.0L2007.9 1164.1L2010.5 1164.4L2013.0 1161.7L2015.5 1161.6L2018.0 1163.0L2020.5 1162.3L2023.0 1161.5L2025.6 1161.6L2028.1 1163.4L2030.6 1163.5L2033.1 1162.5L2035.6 1162.4L2038.1 1163.1L2040.7 1164.8L2043.2 1163.3L2045.7 1162.5L2048.2 1164.3L2050.7 1165.2L2053.3 1163.2L2055.8 1163.8L2058.3 1163.8L2060.8 1162.7L2063.3 1163.0L2065.8 1162.7L2068.4 1162.7L2070.9 1164.6L2073.4 1164.9L2075.9 1164.8L2078.4 1165.1L2080.9 1165.0L2083.5 1165.2L2086.0 1165.1L2088.5 1165.8L2091.0 1165.6L2093.5 1163.6L2096.0 1163.6L2098.6 1164.0L2101.1 1163.4L2103.6 1165.1L2106.1 1163.3L2108.6 1163.6L2111.2 1163.1L2113.7 1163.8L2116.2 1163.1L2118.7 1165.5L2121.2 1165.0L2123.7 1163.0L2126.3 1163.2L2128.8 1163.8L2131.3 1163.8L2133.8 1165.0L2136.3 1165.6L2138.8 1166.4L2141.4 1166.1L2143.9 1163.8L2146.4 1164.6L2148.9 1163.2L2151.4 1165.3L2153.9 1164.7L2156.5 1165.0L2159.0 1165.6L2161.5 1165.9"/>
<path stroke="#1ca01c" d="M399.3 430.3L401.8 424.2L404.3 417.4L406.9 410.6L409.4 404.7L411.9 398.6L414.4 396.5L416.9 409.6L419.4 423.2L422.0 436.5L424.5 449.4L427.0 463.5L429.5 477.1L432.0 490.0L434.5 503.5L437.1 517.3L439.6 533.9L442.1 554.4L444.6 574.6L447.1 594.0L449.6 614.3L452.2 634.4L454.7 654.6L457.2 674.6L459.7 695.2L462.2 715.1L464.8 733.6L467.3 749.5L469.8 763.8L472.3 778.2L474.8 790.9L477.3 803.6L479.9 815.4L482.4 826.3L484.9 835.4L487.4 845.5L489.9 854.5L492.4 864.3L495.0 873.8L497.5 882.4L500.0 890.8L502.5 897.9L505.0 904.3L507.5 909.4L510.1 914.7L512.6 919.7L515.1 925.0L517.6 928.5L520.1 932.2L522.7 935.6L525.2 939.0L527.7 941.4L530.2 944.4L532.7 946.9L535.2 949.4L537.8 951.4L540.3 953.3L542.8 955.0L545.3 956.8L547.8 958.1L550.3 959.2L552.9 960.9L555.4 962.2L557.9 963.4L560.4 964.1L562.9 965.4L565.5 966.2L568.0 967.4L570.5 968.7L573.0 969.6L575.5 970.8L578.0 971.4L580.6 973.2L583.1 973.6L585.6 975.0L588.1 976.0L590.6 977.0L593.1 978.6L595.7 979.1L598.2 980.6L600.7 982.2L603.2 983.2L605.7 984.5L608.2 985.7L610.8 987.4L613.3 988.9L615.8 989.7L618.3 991.5L620.8 993.6L623.4 994.6L625.9 996.3L628.4 998.7L630.9 1000.3L633.4 1001.5L635.9 1003.4L638.5 1005.6L641.0 1007.0L643.5 1008.8L646.0 1011.0L648.5 1012.3L651.0 1014.7L653.6 1016.2L656.1 1018.0L658.6 1019.1L661.1 1020.8L663.6 1022.7L666.1 1024.8L668.7 1025.6L671.2 1027.9L673.7 1028.9L676.2 1030.1L678.7 1032.0L681.3 1033.0L683.8 1034.2L686.3 1036.0L688.8 1037.0L691.3 1038.2L693.8 1039.7L696.4 1041.4L698.9 1042.5L701.4 1043.5L703.9 1044.9L706.4 1046.1L708.9 1047.5L711.5 1048.4L714.0 1049.8L716.5 1051.0L719.0 1052.4L721.5 1053.3L724.0 1054.6L726.6 1055.6L729.1 1056.2L731.6 1058.0L734.1 1058.6L736.6 1060.3L739.2 1060.6L741.7 1061.8L744.2 1062.6L746.7 1063.9L749.2 1065.3L751.7 1065.8L754.3 1067.4L756.8 1068.1L759.3 1069.2L761.8 1070.3L764.3 1071.0L766.8 1071.6L769.4 1073.2L771.9 1073.3L774.4 1074.9L776.9 1075.4L779.4 1076.3L781.9 1077.8L784.5 1078.1L787.0 1079.3L789.5 1079.6L792.0 1080.5L794.5 1081.7L797.1 1082.2L799.6 1083.5L802.1 1084.0L804.6 1084.9L807.1 1085.2L809.6 1086.0L812.2 1087.0L814.7 1088.1L817.2 1088.9L819.7 1088.8L822.2 1089.8L824.7 1090.2L827.3 1091.6L829.8 1091.7L832.3 1093.0L834.8 1093.2L837.3 1093.6L839.9 1094.8L842.4 1095.2L844.9 1096.2L847.4 1096.3L849.9 1096.8L852.4 1097.6L855.0 1098.3L857.5 1099.2L860.0 1099.6L862.5 1100.3L865.0 1100.3L867.5 1101.3L870.1 1101.1L872.6 1102.2L875.1 1102.6L877.6 1102.6L880.1 1103.6L882.6 1103.9L885.2 1103.5L887.7 1104.0L890.2 1104.5L892.7 1105.0L895.2 1104.4L897.8 1106.2L900.3 1105.6L902.8 1105.8L905.3 1105.2L907.8 1106.7L910.3 1106.7L912.9 1105.4L915.4 1106.8L917.9 1105.7L920.4 1108.6L922.9 1107.5L925.4 1108.6L928.0 1108.9L930.5 1108.8L933.0 1107.2L935.5 1106.9L938.0 1109.0L940.5 1109.1L943.1 1108.0L945.6 1108.5L948.1 1111.5L950.6 1108.9L953.1 1110.2L955.7 1110.8L958.2 1110.9L960.7 1110.6L963.2 1113.1L965.7 1113.4L968.2 1113.5L970.8 1114.5L973.3 1113.2L975.8 1114.2L978.3 1112.6L980.8 1114.5L983.3 1116.0L985.9 1116.2L988.4 1116.1L990.9 1114.7L993.4 1116.3L995.9 1115.3L998.4 1116.8L1001.0 1118.4L1003.5 1119.0L1006.0 1117.9L1008.5 1117.5L1011.0 1118.4L1013.6 1118.6L1016.1 1119.2L1018.6 1118.8L1021.1 1119.0L1023.6 1119.5L1026.1 1122.1L1028.7 1119.7L1031.2 1120.3L1033.7 1121.3L1036.2 1120.9L1038.7 1122.2L1041.2 1122.8L1043.8 1124.0L1046.3 1125.3L1048.8 1123.9L1051.3 1126.2L1053.8 1124.7L1056.3 1124.7L1058.9 1124.9L1061.4 1126.9L1063.9 1125.8L1066.4 1127.3L1068.9 1127.4L1071.5 1125.2L1074.0 1125.7L1076.5 1128.5L1079.0 1126.1L1081.5 1126.0L1084.0 1127.9L1086.6 1128.2L1089.1 1127.8L1091.6 1128.6L1094.1 1129.5L1096.6 1128.0L1099.1 1129.5L1101.7 1128.3L1104.2 1127.6L1106.7 1127.7L1109.2 1128.4L1111.7 1130.4L1114.2 1129.7L1116.8 1130.4L1119.3 1128.9L1121.8 1130.3L1124.3 1130.1L1126.8 1128.6L1129.4 1129.1L1131.9 1131.9L1134.4 1131.2L1136.9 1130.2L1139.4 1131.0L1141.9 1129.8L1144.5 1130.7L1147.0 1132.2L1149.5 1130.1L1152.0 1132.1L1154.5 1131.6L1157.0 1133.0L1159.6 1129.9L1162.1 1130.8L1164.6 1133.0L1167.1 1130.2L1169.6 1132.4L1172.2 1132.7L1174.7 1132.7L1177.2 1131.2L1179.7 1130.9L1182.2 1133.7L1184.7 1133.9L1187.3 1130.7L1189.8 1132.7L1192.3 1131.3L1194.8 1134.0L1197.3 1131.5L1199.8 1134.3L1202.4 1133.1L1204.9 1133.0L1207.4 1133.8L1209.9 1133.4L1212.4 1133.5L1214.9 1132.0L1217.5 1134.4L1220.0 1132.7L1222.5 1133.1L1225.0 1134.7L1227.5 1134.7L1230.1 1133.9L1232.6 1135.3L1235.1 1134.7L1237.6 1134.5L1240.1 1132.9L1242.6 1132.9L1245.2 1134.0L1247.7 1135.0L1250.2 1135.8L1252.7 1133.2L1255.2 1134.7L1257.7 1135.0L1260.3 1135.0L1262.8 1134.4L1265.3 1134.8L1267.8 1134.4L1270.3 1136.7L1272.8 1134.9L1275.4 1133.9L1277.9 1134.5L1280.4 1134.8L1282.9 1135.9L1285.4 1137.2L1288.0 1136.8L1290.5 1137.8L1293.0 1137.8L1295.5 1138.0L1298.0 1136.8L1300.5 1138.4L1303.1 1135.4L1305.6 1137.3L1308.1 1137.6L1310.6 1137.3L1313.1 1139.0L1315.6 1136.9L1318.2 1139.2L1320.7 1136.3L1323.2 1138.4L1325.7 1137.2L1328.2 1136.8L1330.7 1137.1L1333.3 1137.6L1335.8 1137.4L1338.3 1138.2L1340.8 1138.9L1343.3 1138.1L1345.9 1139.0L1348.4 1140.9L1350.9 1138.7L1353.4 1140.3L1355.9 1139.0L1358.4 1139.8L1361.0 1139.3L1363.5 1139.3L1366.0 1141.1L1368.5 1139.1L1371.0 1139.4L1373.5 1139.8L1376.1 1141.3L1378.6 1142.6L1381.1 1140.8L1383.6 1142.1L1386.1 1141.6L1388.6 1140.7L1391.2 1142.3L1393.7 1140.4L1396.2 1142.9L1398.7 1143.5L1401.2 1141.5L1403.8 1143.7L1406.3 1141.1L1408.8 1144.2L1411.3 1142.9L1413.8 1142.3L1416.3 1144.3L1418.9 1144.5L1421.4 1141.7L1423.9 1141.8L1426.4 1141.8L1428.9 1144.6L1431.4 1143.3L1434.0 1144.8L1436.5 1143.9L1439.0 1142.8L1441.5 1144.9L1444.0 1143.9L1446.6 1145.2L1449.1 1145.8L1451.6 1143.9L1454.1 1142.8L1456.6 1143.2L1459.1 1143.9L1461.7 1143.7L1464.2 1146.2L1466.7 1144.9L1469.2 1145.5L1471.7 1146.1L1474.2 1145.0L1476.8 1145.8L1479.3 1144.3L1481.8 1146.2L1484.3 1144.1L1486.8 1144.8L1489.3 1147.4L1491.9 1144.2L1494.4 1145.3L1496.9 1147.3L1499.4 1145.0L1501.9 1146.8L1504.5 1145.6L1507.0 1146.3L1509.5 1148.1L1512.0 1148.2L1514.5 1146.0L1517.0 1147.5L1519.6 1147.6L1522.1 1148.2L1524.6 1145.5L1527.1 1148.1L1529.6 1145.7L1532.1 1148.1L1534.7 1148.4L1537.2 1148.0L1539.7 1147.8L1542.2 1148.4L1544.7 1149.1L1547.2 1149.5L1549.8 1149.2L1552.3 1148.5L1554.8 1150.1L1557.3 1149.5L1559.8 1148.5L1562.4 1149.0L1564.9 1149.4L1567.4 1149.3L1569.9 1148.8L1572.4 1150.1L1574.9 1149.3L1577.5 1148.9L1580.0 1149.9L1582.5 1149.7L1585.0 1152.2L1587.5 1150.9L1590.0 1151.4L1592.6 1152.3L1595.1 1151.2L1597.6 1153.1L1600.1 1150.4L1602.6 1151.5L1605.1 1152.2L1607.7 1151.5L1610.2 1151.2L1612.7 1153.1L1615.2 1152.7L1617.7 1153.6L1620.3 1152.1L1622.8 1151.0L1625.3 1154.4L1627.8 1154.2L1630.3 1154.0L1632.8 1154.7L1635.4 1153.9L1637.9 1154.5L1640.4 1153.5L1642.9 1153.9L1645.4 1153.5L1647.9 1155.2L1650.5 1154.3L1653.0 1153.4L1655.5 1153.6L1658.0 1155.0L1660.5 1154.7L1663.0 1155.1L1665.6 1156.0L1668.1 1155.7L1670.6 1154.6L1673.1 1154.7L1675.6 1154.7L1678.2 1153.2L1680.7 1154.6L1683.2 1155.7L1685.7 1153.9L1688.2 1154.4L1690.7 1156.0L1693.3 1154.3L1695.8 1156.3L1698.3 1155.7L1700.8 1155.6L1703.3 1156.4L1705.8 1155.7L1708.4 1155.9L1710.9 1156.6L1713.4 1155.9L1715.9 1155.3L1718.4 1156.1L1721.0 1156.9L1723.5 1155.8L1726.0 1158.2L1728.5 1157.7L1731.0 1155.4L1733.5 1157.9L1736.1 1157.1L1738.6 1157.5L1741.1 1158.9L1743.6 1157.4L1746.1 1156.8L1748.6 1156.9L1751.2 1157.0L1753.7 1158.3L1756.2 1158.9L1758.7 1158.2L1761.2 1157.7L1763.7 1157.8L1766.3 1158.4L1768.8 1157.3L1771.3 1157.3L1773.8 1158.0L1776.3 1159.4L1778.9 1159.6L1781.4 1158.1L1783.9 1158.9L1786.4 1157.6L1788.9 1159.8L1791.4 1158.2L1794.0 1158.9L1796.5 1157.9L1799.0 1158.8L1801.5 1159.3L1804.0 1157.8L1806.5 1160.7L1809.1 1157.6L1811.6 1157.6L1814.1 1160.1L1816.6 1159.6L1819.1 1159.5L1821.6 1159.7L1824.2 1160.5L1826.7 1159.0L1829.2 1160.2L1831.7 1158.9L1834.2 1158.9L1836.8 1158.2L1839.3 1158.4L1841.8 1161.1L1844.3 1159.5L1846.8 1158.9L1849.3 1161.6L1851.9 1161.7L1854.4 1161.6L1856.9 1159.2L1859.4 1160.8L1861.9 1160.7L1864.4 1161.1L1867.0 1159.3L1869.5 1161.8L1872.0 1159.3L1874.5 1161.1L1877.0 1160.3L1879.5 1160.6L1882.1 1161.8L1884.6 1160.1L1887.1 1160.1L1889.6 1162.1L1892.1 1160.6L1894.7 1162.1L1897.2 1161.8L1899.7 1162.8L1902.2 1163.1L1904.7 1160.1L1907.2 1160.6L1909.8 1160.7L1912.3 1163.1L1914.8 1162.5L1917.3 1162.7L1919.8 1163.0L1922.3 1161.8L1924.9 1161.5L1927.4 1161.4L1929.9 1163.2L1932.4 1160.4L1934.9 1160.7L1937.4 1162.3L1940.0 1161.9L1942.5 1162.3L1945.0 1161.5L1947.5 1162.3L1950.0 1161.8L1952.6 1163.5L1955.1 1161.7L1957.6 1160.8L1960.1 1163.0L1962.6 1163.5L1965.1 1161.7L1967.7 1162.6L1970.2 1162.3L1972.7 1162.6L1975.2 1163.7L1977.7 1161.7L1980.2 1163.2L1982.8 1161.4L1985.3 1163.7L1987.8 1161.2L1990.3 1163.4L1992.8 1164.1L1995.3 1163.6L1997.9 1161.9L2000.4 1162.6L2002.9 1162.0L2005.4 1161.7L2007.9 1162.4L2010.5 1164.5L2013.0 1163.7L2015.5 1164.7L2018.0 1162.5L2020.5 1161.6L2023.0 1161.9L2025.6 1164.2L2028.1 1163.8L2030.6 1162.0L2033.1 1162.1L2035.6 1162.4L2038.1 1164.8L2040.7 1164.8L2043.2 1162.7L2045.7 1163.8L2048.2 1164.7L2050.7 1162.0L2053.3 1163.4L2055.8 1163.5L2058.3 1163.4L2060.8 1162.2L2063.3 1164.7L2065.8 1164.0L2068.4 1165.0L2070.9 1162.5L2073.4 1162.8L2075.9 1165.3L2078.4 1164.1L2080.9 1162.3L2083.5 1164.8L2086.0 1163.6L2088.5 1163.6L2091.0 1165.2L2093.5 1162.7L2096.0 1162.6L2098.6 1163.4L2101.1 1162.4L2103.6 1165.2L2106.1 1162.4L2108.6 1163.6L2111.2 1162.9L2113.7 1164.9L2116.2 1164.3L2118.7 1165.2L2121.2 1165.2L2123.7 1165.2L2126.3 1162.8L2128.8 1164.9L2131.3 1162.7L2133.8 1165.5L2136.3 1163.4L2138.8 1163.6L2141.4 1163.8L2143.9 1165.7L2146.4 1164.9L2148.9 1165.6L2151.4 1163.2L2153.9 1163.5L2156.5 1165.9L2159.0 1165.4L2161.5 1163.0"/>
<path stroke="#0a8a0a" d="M399.3 399.1L401.8 393.4L404.3 387.6L406.9 383.0L409.4 377.1L411.9 371.9L414.4 371.2L416.9 384.2L419.4 397.8L422.0 411.6L424.5 425.9L427.0 438.7L429.5 453.0L432.0 466.9L434.5 480.3L437.1 494.3L439.6 507.3L442.1 527.1L444.6 547.7L447.1 568.6L449.6 589.1L452.2 609.3L454.7 630.4L457.2 650.5L459.7 671.4L462.2 691.8L464.8 712.5L467.3 730.2L469.8 745.4L472.3 760.0L474.8 773.9L477.3 787.2L479.9 798.1L482.4 809.0L484.9 818.5L487.4 827.5L489.9 837.0L492.4 846.9L495.0 857.1L497.5 866.0L500.0 875.0L502.5 882.1L505.0 889.4L507.5 896.1L510.1 901.7L512.6 907.1L515.1 912.3L517.6 917.2L520.1 920.7L522.7 924.5L525.2 927.6L527.7 930.0L530.2 932.7L532.7 934.5L535.2 937.0L537.8 939.7L540.3 941.0L542.8 942.8L545.3 944.7L547.8 946.9L550.3 948.0L552.9 949.2L555.4 951.2L557.9 952.5L560.4 953.5L562.9 954.5L565.5 955.7L568.0 957.1L570.5 958.0L573.0 959.1L575.5 959.9L578.0 961.1L580.6 962.1L583.1 962.5L585.6 963.9L588.1 965.1L590.6 966.3L593.1 967.4L595.7 968.3L598.2 969.7L600.7 970.8L603.2 971.7L605.7 973.1L608.2 974.7L610.8 976.2L613.3 977.2L615.8 978.6L618.3 980.5L620.8 982.5L623.4 984.0L625.9 986.0L628.4 987.1L630.9 989.5L633.4 991.4L635.9 993.1L638.5 995.0L641.0 996.3L643.5 998.9L646.0 1000.7L648.5 1002.6L651.0 1004.1L653.6 1006.4L656.1 1007.9L658.6 1009.5L661.1 1011.7L663.6 1013.3L666.1 1015.2L668.7 1016.8L671.2 1018.2L673.7 1019.5L676.2 1020.7L678.7 1022.5L681.3 1023.6L683.8 1025.1L686.3 1026.3L688.8 1028.2L691.3 1029.2L693.8 1030.9L696.4 1031.5L698.9 1033.5L701.4 1034.9L703.9 1035.9L706.4 1037.2L708.9 1037.9L711.5 1039.7L714.0 1040.4L716.5 1041.8L719.0 1043.2L721.5 1044.4L724.0 1045.2L726.6 1045.9L729.1 1047.9L731.6 1048.8L734.1 1049.7L736.6 1050.2L739.2 1052.1L741.7 1052.6L744.2 1053.9L746.7 1054.7L749.2 1055.4L751.7 1056.9L754.3 1057.4L756.8 1059.1L759.3 1060.0L761.8 1061.1L764.3 1062.1L766.8 1062.6L769.4 1063.9L771.9 1064.2L774.4 1065.1L776.9 1066.4L779.4 1066.8L781.9 1067.7L784.5 1069.4L787.0 1069.5L789.5 1070.6L792.0 1071.3L794.5 1072.4L797.1 1073.0L799.6 1074.3L802.1 1074.8L804.6 1075.7L807.1 1076.5L809.6 1077.1L812.2 1078.1L814.7 1078.4L817.2 1079.3L819.7 1080.0L822.2 1080.4L824.7 1081.3L827.3 1082.1L829.8 1082.7L832.3 1083.6L834.8 1084.7L837.3 1084.7L839.9 1085.3L842.4 1086.3L844.9 1087.2L847.4 1087.8L849.9 1088.3L852.4 1089.2L855.0 1089.4L857.5 1090.1L860.0 1090.5L862.5 1091.5L865.0 1091.5L867.5 1092.2L870.1 1092.5L872.6 1093.7L875.1 1093.4L877.6 1093.8L880.1 1094.4L882.6 1095.2L885.2 1095.4L887.7 1095.3L890.2 1095.5L892.7 1095.9L895.2 1096.0L897.8 1098.1L900.3 1101.1L902.8 1098.8L905.3 1099.7L907.8 1099.6L910.3 1100.4L912.9 1101.2L915.4 1099.8L917.9 1099.9L920.4 1099.7L922.9 1101.1L925.4 1099.6L928.0 1101.3L930.5 1100.3L933.0 1101.1L935.5 1101.5L938.0 1102.5L940.5 1103.3L943.1 1103.6L945.6 1103.4L948.1 1102.4L950.6 1103.4L953.1 1105.5L955.7 1105.5L958.2 1104.2L960.7 1106.1L963.2 1105.3L965.7 1106.2L968.2 1104.3L970.8 1106.5L973.3 1107.2L975.8 1106.3L978.3 1108.8L980.8 1106.8L983.3 1107.7L985.9 1109.6L988.4 1110.2L990.9 1108.6L993.4 1110.8L995.9 1110.3L998.4 1109.8L1001.0 1110.7L1003.5 1110.5L1006.0 1111.8L1008.5 1111.9L1011.0 1110.9L1013.6 1111.2L1016.1 1111.8L1018.6 1114.1L1021.1 1111.6L1023.6 1111.8L1026.1 1115.2L1028.7 1113.2L1031.2 1115.1L1033.7 1115.6L1036.2 1116.4L1038.7 1117.5L1041.2 1114.9L1043.8 1116.3L1046.3 1115.6L1048.8 1116.1L1051.3 1117.8L1053.8 1117.4L1056.3 1118.5L1058.9 1116.9L1061.4 1118.2L1063.9 1119.3L1066.4 1120.6L1068.9 1120.6L1071.5 1120.5L1074.0 1120.1L1076.5 1119.4L1079.0 1119.5L1081.5 1121.6L1084.0 1122.6L1086.6 1122.6L1089.1 1120.8L1091.6 1120.7L1094.1 1122.6L1096.6 1121.0L1099.1 1123.7L1101.7 1123.4L1104.2 1121.9L1106.7 1123.5L1109.2 1122.1L1111.7 1123.8L1114.2 1124.8L1116.8 1124.9L1119.3 1123.1L1121.8 1124.2L1124.3 1124.6L1126.8 1122.5L1129.4 1124.9L1131.9 1125.3L1134.4 1123.3L1136.9 1123.5L1139.4 1126.0L1141.9 1125.9L1144.5 1126.6L1147.0 1124.9L1149.5 1124.6L1152.0 1125.2L1154.5 1124.7L1157.0 1125.1L1159.6 1125.8L1162.1 1125.6L1164.6 1125.3L1167.1 1125.4L1169.6 1128.0L1172.2 1125.5L1174.7 1127.9L1177.2 1128.5L1179.7 1126.7L1182.2 1127.1L1184.7 1128.3L1187.3 1128.1L1189.8 1126.4L1192.3 1128.9L1194.8 1126.1L1197.3 1126.4L1199.8 1129.2L1202.4 1128.8L1204.9 1127.6L1207.4 1128.8L1209.9 1128.7L1212.4 1129.3L1214.9 1130.0L1217.5 1128.7L1220.0 1129.2L1222.5 1127.8L1225.0 1130.1L1227.5 1128.5L1230.1 1130.0L1232.6 1129.3L1235.1 1128.2L1237.6 1128.6L1240.1 1130.4L1242.6 1131.4L1245.2 1130.0L1247.7 1130.6L1250.2 1129.1L1252.7 1132.0L1255.2 1129.4L1257.7 1131.2L1260.3 1130.2L1262.8 1131.4L1265.3 1132.6L1267.8 1130.4L1270.3 1132.8L1272.8 1129.8L1275.4 1130.6L1277.9 1132.1L1280.4 1131.5L1282.9 1132.0L1285.4 1133.1L1288.0 1133.9L1290.5 1133.0L1293.0 1132.4L1295.5 1132.7L1298.0 1132.7L1300.5 1133.6L1303.1 1132.2L1305.6 1135.0L1308.1 1134.4L1310.6 1135.0L1313.1 1133.8L1315.6 1133.3L1318.2 1134.4L1320.7 1135.0L1323.2 1135.1L1325.7 1134.9L1328.2 1135.1L1330.7 1133.6L1333.3 1136.5L1335.8 1134.0L1338.3 1135.0L1340.8 1134.2L1343.3 1134.7L1345.9 1135.8L1348.4 1136.8L1350.9 1134.9L1353.4 1136.4L1355.9 1136.6L1358.4 1136.6L1361.0 1135.6L1363.5 1137.5L1366.0 1138.5L1368.5 1136.1L1371.0 1138.9L1373.5 1136.2L1376.1 1139.2L1378.6 1138.8L1381.1 1136.8L1383.6 1138.6L1386.1 1138.7L1388.6 1139.8L1391.2 1137.1L1393.7 1138.0L1396.2 1137.4L1398.7 1140.2L1401.2 1139.8L1403.8 1138.9L1406.3 1138.0L1408.8 1139.0L1411.3 1140.2L1413.8 1139.2L1416.3 1140.7L1418.9 1140.1L1421.4 1138.6L1423.9 1140.1L1426.4 1140.2L1428.9 1141.3L1431.4 1139.8L1434.0 1139.9L1436.5 1140.3L1439.0 1139.3L1441.5 1138.9L1444.0 1139.3L1446.6 1140.0L1449.1 1139.2L1451.6 1140.9L1454.1 1142.5L1456.6 1140.7L1459.1 1140.2L1461.7 1140.1L1464.2 1140.4L1466.7 1140.0L1469.2 1142.7L1471.7 1140.9L1474.2 1141.4L1476.8 1140.7L1479.3 1141.9L1481.8 1141.5L1484.3 1142.4L1486.8 1141.7L1489.3 1140.9L1491.9 1142.1L1494.4 1141.7L1496.9 1141.7L1499.4 1142.4L1501.9 1143.8L1504.5 1142.9L1507.0 1142.5L1509.5 1145.1L1512.0 1143.3L1514.5 1143.8L1517.0 1143.5L1519.6 1143.9L1522.1 1143.0L1524.6 1145.2L1527.1 1145.1L1529.6 1144.4L1532.1 1144.1L1534.7 1145.3L1537.2 1144.7L1539.7 1143.5L1542.2 1145.4L1544.7 1145.1L1547.2 1145.7L1549.8 1145.5L1552.3 1146.9L1554.8 1144.6L1557.3 1145.5L1559.8 1146.3L1562.4 1145.9L1564.9 1145.4L1567.4 1145.9L1569.9 1147.3L1572.4 1146.1L1574.9 1146.5L1577.5 1147.2L1580.0 1147.9L1582.5 1148.7L1585.0 1147.5L1587.5 1149.2L1590.0 1149.8L1592.6 1149.4L1595.1 1148.5L1597.6 1147.8L1600.1 1147.2L1602.6 1148.8L1605.1 1150.0L1607.7 1150.8L1610.2 1150.7L1612.7 1150.7L1615.2 1151.1L1617.7 1149.9L1620.3 1151.5L1622.8 1149.1L1625.3 1149.8L1627.8 1151.5L1630.3 1149.4L1632.8 1152.0L1635.4 1152.1L1637.9 1152.5L1640.4 1152.3L1642.9 1149.7L1645.4 1151.3L1647.9 1150.0L1650.5 1150.8L1653.0 1151.9L1655.5 1153.2L1658.0 1153.0L1660.5 1153.3L1663.0 1151.9L1665.6 1151.4L1668.1 1152.2L1670.6 1153.6L1673.1 1152.1L1675.6 1153.9L1678.2 1153.4L1680.7 1152.0L1683.2 1152.8L1685.7 1154.6L1688.2 1154.5L1690.7 1151.7L1693.3 1154.0L1695.8 1153.0L1698.3 1153.3L1700.8 1152.2L1703.3 1152.8L1705.8 1154.6L1708.4 1153.6L1710.9 1154.8L1713.4 1155.7L1715.9 1153.9L1718.4 1155.3L1721.0 1153.4L1723.5 1156.0L1726.0 1154.7L1728.5 1154.3L1731.0 1156.3L1733.5 1156.3L1736.1 1156.5L1738.6 1155.9L1741.1 1156.2L1743.6 1154.6L1746.1 1156.8L1748.6 1156.7L1751.2 1156.8L1753.7 1157.3L1756.2 1157.1L1758.7 1154.8L1761.2 1156.2L1763.7 1155.4L1766.3 1157.0L1768.8 1156.2L1771.3 1157.2L1773.8 1155.9L1776.3 1157.6L1778.9 1157.2L1781.4 1155.8L1783.9 1157.1L1786.4 1157.6L1788.9 1158.1L1791.4 1157.6L1794.0 1156.7L1796.5 1156.4L1799.0 1157.8L1801.5 1157.3L1804.0 1159.1L1806.5 1157.2L1809.1 1158.3L1811.6 1158.8L1814.1 1157.9L1816.6 1156.6L1819.1 1158.4L1821.6 1157.7L1824.2 1158.5L1826.7 1156.6L1829.2 1159.7L1831.7 1158.4L1834.2 1157.2L1836.8 1157.1L1839.3 1159.8L1841.8 1159.6L1844.3 1160.4L1846.8 1160.3L1849.3 1157.3L1851.9 1159.9L1854.4 1160.3L1856.9 1159.5L1859.4 1160.8L1861.9 1161.0L1864.4 1157.9L1867.0 1157.8L1869.5 1159.9L1872.0 1161.2L1874.5 1160.4L1877.0 1161.5L1879.5 1159.2L1882.1 1160.7L1884.6 1161.2L1887.1 1161.1L1889.6 1159.5L1892.1 1161.8L1894.7 1160.6L1897.2 1161.3L1899.7 1161.9L1902.2 1160.8L1904.7 1160.4L1907.2 1160.9L1909.8 1160.1L1912.3 1160.7L1914.8 1161.1L1917.3 1159.6L1919.8 1159.4L1922.3 1161.9L1924.9 1161.9L1927.4 1162.3L1929.9 1161.0L1932.4 1162.4L1934.9 1162.3L1937.4 1160.8L1940.0 1160.2L1942.5 1160.8L1945.0 1161.4L1947.5 1159.6L1950.0 1160.4L1952.6 1162.4L1955.1 1159.7L1957.6 1162.0L1960.1 1162.4L1962.6 1160.9L1965.1 1161.7L1967.7 1161.3L1970.2 1160.5L1972.7 1160.2L1975.2 1162.3L1977.7 1160.3L1980.2 1162.9L1982.8 1162.3L1985.3 1163.2L1987.8 1161.2L1990.3 1163.3L1992.8 1161.8L1995.3 1160.8L1997.9 1160.7L2000.4 1163.2L2002.9 1162.0L2005.4 1161.7L2007.9 1160.3L2010.5 1162.0L2013.0 1161.5L2015.5 1161.9L2018.0 1160.6L2020.5 1163.1L2023.0 1162.8L2025.6 1162.1L2028.1 1163.2L2030.6 1163.8L2033.1 1161.0L2035.6 1163.1L2038.1 1162.7L2040.7 1163.9L2043.2 1162.3L2045.7 1161.5L2048.2 1161.2L2050.7 1163.5L2053.3 1161.2L2055.8 1163.8L2058.3 1161.9L2060.8 1163.1L2063.3 1163.4L2065.8 1161.9L2068.4 1162.8L2070.9 1161.9L2073.4 1164.2L2075.9 1162.2L2078.4 1164.1L2080.9 1162.6L2083.5 1164.3L2086.0 1162.4L2088.5 1162.1L2091.0 1161.3L2093.5 1161.8L2096.0 1163.8L2098.6 1161.4L2101.1 1163.2L2103.6 1162.6L2106.1 1164.6L2108.6 1162.0L2111.2 1163.5L2113.7 1162.5L2116.2 1163.6L2118.7 1162.8L2121.2 1162.4L2123.7 1164.0L2126.3 1161.9L2128.8 1164.0L2131.3 1164.7L2133.8 1163.6L2136.3 1162.3L2138.8 1163.1L2141.4 1163.5L2143.9 1162.1L2146.4 1163.9L2148.9 1163.0L2151.4 1161.8L2153.9 1163.0L2156.5 1163.2L2159.0 1163.5L2161.5 1164.2"/>
<path stroke="#007010" d="M399.3 387.4L401.8 383.6L404.3 378.4L406.9 374.4L409.4 370.3L411.9 365.7L414.4 364.8L416.9 378.8L419.4 392.2L422.0 405.8L424.5 419.4L427.0 432.9L429.5 446.6L432.0 459.9L434.5 474.3L437.1 487.3L439.6 500.9L442.1 519.7L444.6 539.6L447.1 560.3L449.6 580.7L452.2 601.5L454.7 621.2L457.2 641.8L459.7 662.6L462.2 683.0L464.8 703.2L467.3 722.8L469.8 738.2L472.3 753.8L474.8 767.4L477.3 780.6L479.9 792.0L482.4 802.5L484.9 811.8L487.4 821.2L489.9 830.5L492.4 840.7L495.0 850.8L497.5 860.1L500.0 868.7L502.5 875.9L505.0 883.8L507.5 890.6L510.1 897.0L512.6 902.2L515.1 907.3L517.6 912.2L520.1 916.2L522.7 919.3L525.2 922.5L527.7 925.3L530.2 927.6L532.7 930.4L535.2 932.6L537.8 935.2L540.3 937.3L542.8 939.0L545.3 940.3L547.8 941.8L550.3 944.0L552.9 945.2L555.4 946.9L557.9 947.7L560.4 948.8L562.9 950.0L565.5 951.6L568.0 952.8L570.5 953.8L573.0 954.3L575.5 955.9L578.0 956.3L580.6 957.4L583.1 958.4L585.6 959.4L588.1 960.2L590.6 961.3L593.1 962.8L595.7 963.5L598.2 964.9L600.7 965.9L603.2 967.5L605.7 968.4L608.2 970.3L610.8 971.5L613.3 973.3L615.8 974.5L618.3 976.4L620.8 977.7L623.4 979.3L625.9 981.6L628.4 983.6L630.9 984.8L633.4 986.7L635.9 988.5L638.5 991.0L641.0 992.2L643.5 994.6L646.0 996.4L648.5 998.6L651.0 1000.3L653.6 1001.9L656.1 1004.5L658.6 1006.0L661.1 1007.6L663.6 1009.4L666.1 1011.3L668.7 1013.3L671.2 1014.1L673.7 1015.6L676.2 1017.7L678.7 1019.1L681.3 1020.4L683.8 1021.6L686.3 1022.8L688.8 1024.8L691.3 1025.6L693.8 1027.0L696.4 1028.6L698.9 1029.8L701.4 1030.5L703.9 1032.0L706.4 1033.5L708.9 1034.6L711.5 1035.9L714.0 1037.4L716.5 1037.9L719.0 1039.1L721.5 1040.3L724.0 1041.5L726.6 1042.4L729.1 1044.2L731.6 1045.0L734.1 1045.6L736.6 1046.9L739.2 1047.9L741.7 1048.8L744.2 1049.9L746.7 1051.0L749.2 1052.2L751.7 1053.0L754.3 1054.1L756.8 1055.6L759.3 1056.7L761.8 1056.9L764.3 1058.6L766.8 1059.5L769.4 1059.6L771.9 1061.1L774.4 1061.6L776.9 1062.8L779.4 1063.8L781.9 1064.2L784.5 1065.8L787.0 1066.0L789.5 1066.9L792.0 1067.9L794.5 1068.8L797.1 1069.6L799.6 1070.0L802.1 1071.6L804.6 1071.7L807.1 1072.7L809.6 1073.7L812.2 1073.9L814.7 1075.4L817.2 1075.7L819.7 1076.3L822.2 1077.6L824.7 1077.6L827.3 1078.5L829.8 1079.4L832.3 1080.2L834.8 1080.7L837.3 1081.3L839.9 1082.6L842.4 1082.5L844.9 1083.2L847.4 1084.6L849.9 1084.5L852.4 1085.6L855.0 1086.4L857.5 1086.8L860.0 1086.9L862.5 1087.7L865.0 1088.5L867.5 1088.6L870.1 1089.6L872.6 1090.1L875.1 1090.5L877.6 1091.2L880.1 1091.3L882.6 1091.9L885.2 1091.9L887.7 1092.8L890.2 1092.6L892.7 1093.2L895.2 1093.5L897.8 1093.7L900.3 1093.1L902.8 1094.0L905.3 1093.3L907.8 1093.4L910.3 1093.2L912.9 1093.8L915.4 1093.1L917.9 1096.0L920.4 1095.6L922.9 1093.2L925.4 1096.3L928.0 1093.8L930.5 1096.8L933.0 1096.0L935.5 1094.8L938.0 1097.9L940.5 1097.2L943.1 1095.8L945.6 1096.9L948.1 1098.5L950.6 1098.9L953.1 1097.3L955.7 1098.5L958.2 1097.8L960.7 1098.6L963.2 1098.4L965.7 1099.1L968.2 1101.4L970.8 1102.2L973.3 1102.4L975.8 1102.1L978.3 1100.4L980.8 1101.1L983.3 1101.6L985.9 1102.5L988.4 1102.6L990.9 1103.8L993.4 1104.6L995.9 1103.4L998.4 1104.9L1001.0 1103.3L1003.5 1106.5L1006.0 1106.4L1008.5 1105.0L1011.0 1106.1L1013.6 1105.0L1016.1 1107.2L1018.6 1105.7L1021.1 1108.3L1023.6 1106.6L1026.1 1107.2L1028.7 1108.1L1031.2 1109.9L1033.7 1108.9L1036.2 1108.1L1038.7 1110.8L1041.2 1112.0L1043.8 1112.0L1046.3 1109.5L1048.8 1112.7L1051.3 1112.1L1053.8 1110.8L1056.3 1112.8L1058.9 1114.1L1061.4 1112.0L1063.9 1114.7L1066.4 1113.1L1068.9 1114.3L1071.5 1115.9L1074.0 1115.7L1076.5 1114.0L1079.0 1114.4L1081.5 1116.9L1084.0 1114.9L1086.6 1114.3L1089.1 1115.6L1091.6 1117.6L1094.1 1117.0L1096.6 1115.5L1099.1 1115.8L1101.7 1117.1L1104.2 1117.4L1106.7 1116.1L1109.2 1116.6L1111.7 1117.2L1114.2 1117.4L1116.8 1119.3L1119.3 1117.9L1121.8 1118.2L1124.3 1119.0L1126.8 1118.9L1129.4 1120.8L1131.9 1121.2L1134.4 1118.8L1136.9 1121.1L1139.4 1121.1L1141.9 1119.4L1144.5 1121.9L1147.0 1122.0L1149.5 1120.1L1152.0 1120.7L1154.5 1120.0L1157.0 1119.8L1159.6 1121.2L1162.1 1121.8L1164.6 1122.5L1167.1 1123.4L1169.6 1123.8L1172.2 1121.2L1174.7 1123.3L1177.2 1121.4L1179.7 1123.3L1182.2 1121.3L1184.7 1121.6L1187.3 1122.3L1189.8 1124.4L1192.3 1122.9L1194.8 1122.5L1197.3 1125.1L1199.8 1125.5L1202.4 1125.5L1204.9 1125.6L1207.4 1124.1L1209.9 1123.0L1212.4 1125.9L1214.9 1125.0L1217.5 1125.7L1220.0 1124.8L1222.5 1125.3L1225.0 1125.8L1227.5 1124.3L1230.1 1124.6L1232.6 1126.5L1235.1 1124.5L1237.6 1125.3L1240.1 1127.5L1242.6 1127.4L1245.2 1127.8L1247.7 1125.8L1250.2 1125.4L1252.7 1125.8L1255.2 1128.4L1257.7 1127.9L1260.3 1127.7L1262.8 1127.2L1265.3 1128.6L1267.8 1126.7L1270.3 1127.6L1272.8 1129.9L1275.4 1129.6L1277.9 1129.1L1280.4 1130.2L1282.9 1129.5L1285.4 1130.3L1288.0 1128.8L1290.5 1128.5L1293.0 1130.7L1295.5 1130.3L1298.0 1129.0L1300.5 1131.1L1303.1 1129.3L1305.6 1131.8L1308.1 1131.6L1310.6 1129.7L1313.1 1129.6L1315.6 1132.4L1318.2 1132.1L1320.7 1130.6L1323.2 1130.3L1325.7 1133.1L1328.2 1132.3L1330.7 1133.1L1333.3 1131.3L1335.8 1131.8L1338.3 1133.9L1340.8 1131.1L1343.3 1133.9L1345.9 1132.3L1348.4 1133.7L1350.9 1133.6L1353.4 1132.7L1355.9 1134.7L1358.4 1132.9L1361.0 1132.5L1363.5 1132.6L1366.0 1135.7L1368.5 1135.4L1371.0 1135.8L1373.5 1136.2L1376.1 1134.7L1378.6 1135.8L1381.1 1135.9L1383.6 1136.2L1386.1 1134.2L1388.6 1136.3L1391.2 1136.9L1393.7 1134.2L1396.2 1136.5L1398.7 1136.5L1401.2 1137.2L1403.8 1136.7L1406.3 1137.8L1408.8 1137.0L1411.3 1136.3L1413.8 1136.9L1416.3 1137.3L1418.9 1137.7L1421.4 1137.7L1423.9 1137.9L1426.4 1136.5L1428.9 1135.8L1431.4 1136.4L1434.0 1137.6L1436.5 1135.8L1439.0 1138.2L1441.5 1137.4L1444.0 1136.8L1446.6 1137.0L1449.1 1137.9L1451.6 1137.5L1454.1 1137.4L1456.6 1137.8L1459.1 1136.8L1461.7 1138.6L1464.2 1137.9L1466.7 1139.2L1469.2 1139.4L1471.7 1138.9L1474.2 1137.6L1476.8 1139.6L1479.3 1138.4L1481.8 1137.6L1484.3 1137.8L1486.8 1138.6L1489.3 1141.2L1491.9 1139.3L1494.4 1140.4L1496.9 1138.6L1499.4 1139.1L1501.9 1139.9L1504.5 1139.3L1507.0 1141.4L1509.5 1140.0L1512.0 1139.6L1514.5 1140.5L1517.0 1141.8L1519.6 1140.6L1522.1 1143.2L1524.6 1143.5L1527.1 1140.8L1529.6 1143.1L1532.1 1142.8L1534.7 1142.4L1537.2 1144.2L1539.7 1142.9L1542.2 1142.1L1544.7 1143.6L1547.2 1144.5L1549.8 1143.8L1552.3 1143.3L1554.8 1145.2L1557.3 1142.8L1559.8 1143.7L1562.4 1143.7L1564.9 1143.4L1567.4 1145.0L1569.9 1146.1L1572.4 1146.4L1574.9 1144.7L1577.5 1145.3L1580.0 1144.5L1582.5 1146.3L1585.0 1146.0L1587.5 1145.6L1590.0 1145.5L1592.6 1145.5L1595.1 1145.0L1597.6 1145.3L1600.1 1147.6L1602.6 1146.6L1605.1 1146.9L1607.7 1148.1L1610.2 1145.7L1612.7 1148.4L1615.2 1148.3L1617.7 1146.9L1620.3 1147.6L1622.8 1149.1L1625.3 1147.2L1627.8 1147.9L1630.3 1147.8L1632.8 1149.8L1635.4 1148.0L1637.9 1147.2L1640.4 1147.5L1642.9 1149.9L1645.4 1148.7L1647.9 1148.6L1650.5 1148.0L1653.0 1149.0L1655.5 1150.5L1658.0 1149.3L1660.5 1149.1L1663.0 1148.8L1665.6 1151.3L1668.1 1150.1L1670.6 1152.0L1673.1 1149.9L1675.6 1150.3L1678.2 1151.0L1680.7 1152.3L1683.2 1152.0L1685.7 1150.1L1688.2 1151.0L1690.7 1152.6L1693.3 1153.3L1695.8 1151.0L1698.3 1150.6L1700.8 1153.6L1703.3 1151.4L1705.8 1152.4L1708.4 1154.0L1710.9 1152.2L1713.4 1151.3L1715.9 1153.6L1718.4 1151.9L1721.0 1153.5L1723.5 1154.6L1726.0 1151.7L1728.5 1152.4L1731.0 1151.8L1733.5 1153.5L1736.1 1152.2L1738.6 1153.6L1741.1 1154.4L1743.6 1153.1L1746.1 1152.6L1748.6 1154.4L1751.2 1154.1L1753.7 1154.2L1756.2 1153.1L1758.7 1154.6L1761.2 1154.2L1763.7 1154.8L1766.3 1156.3L1768.8 1155.0L1771.3 1155.9L1773.8 1154.6L1776.3 1155.0L1778.9 1154.6L1781.4 1154.4L1783.9 1155.9L1786.4 1155.3L1788.9 1154.2L1791.4 1155.5L1794.0 1157.1L1796.5 1156.2L1799.0 1157.7L1801.5 1154.8L1804.0 1157.0L1806.5 1155.1L1809.1 1155.7L1811.6 1156.6L1814.1 1157.9L1816.6 1156.8L1819.1 1157.4L1821.6 1156.4L1824.2 1155.5L1826.7 1157.9L1829.2 1157.6L1831.7 1156.7L1834.2 1157.4L1836.8 1158.0L1839.3 1156.4L1841.8 1157.7L1844.3 1157.0L1846.8 1157.1L1849.3 1156.5L1851.9 1159.1L1854.4 1157.7L1856.9 1156.9L1859.4 1158.5L1861.9 1157.6L1864.4 1156.9L1867.0 1157.4L1869.5 1160.1L1872.0 1158.0L1874.5 1159.3L1877.0 1159.8L1879.5 1158.1L1882.1 1160.3L1884.6 1160.3L1887.1 1157.9L1889.6 1160.3L1892.1 1160.3L1894.7 1160.0L1897.2 1160.7L1899.7 1159.6L1902.2 1161.1L1904.7 1158.1L1907.2 1159.6L1909.8 1158.7L1912.3 1159.3L1914.8 1160.7L1917.3 1159.6L1919.8 1161.2L1922.3 1159.3L1924.9 1159.0L1927.4 1159.4L1929.9 1161.0L1932.4 1158.8L1934.9 1160.6L1937.4 1159.9L1940.0 1159.5L1942.5 1160.6L1945.0 1159.3L1947.5 1161.6L1950.0 1160.3L1952.6 1159.4L1955.1 1161.3L1957.6 1159.5L1960.1 1159.3L1962.6 1159.3L1965.1 1159.6L1967.7 1162.0L1970.2 1160.6L1972.7 1160.9L1975.2 1160.8L1977.7 1161.5L1980.2 1160.6L1982.8 1161.2L1985.3 1161.5L1987.8 1159.9L1990.3 1162.5L1992.8 1160.7L1995.3 1162.5L1997.9 1160.0L2000.4 1160.6L2002.9 1159.7L2005.4 1162.4L2007.9 1162.1L2010.5 1162.6L2013.0 1160.2L2015.5 1161.7L2018.0 1161.1L2020.5 1162.4L2023.0 1162.1L2025.6 1163.0L2028.1 1162.5L2030.6 1162.3L2033.1 1159.9L2035.6 1161.2L2038.1 1161.5L2040.7 1160.0L2043.2 1162.3L2045.7 1160.5L2048.2 1159.9L2050.7 1160.3L2053.3 1162.4L2055.8 1161.9L2058.3 1163.3L2060.8 1163.3L2063.3 1160.6L2065.8 1162.4L2068.4 1161.3L2070.9 1160.6L2073.4 1161.9L2075.9 1162.3L2078.4 1161.7L2080.9 1162.1L2083.5 1163.1L2086.0 1160.7L2088.5 1162.8L2091.0 1161.8L2093.5 1161.8L2096.0 1162.8L2098.6 1161.7L2101.1 1162.7L2103.6 1163.2L2106.1 1161.7L2108.6 1162.5L2111.2 1160.5L2113.7 1161.5L2116.2 1162.2L2118.7 1160.6L2121.2 1161.2L2123.7 1161.3L2126.3 1161.8L2128.8 1161.9L2131.3 1161.6L2133.8 1161.8L2136.3 1161.6L2138.8 1163.5L2141.4 1160.9L2143.9 1162.1L2146.4 1161.0L2148.9 1162.1L2151.4 1162.2L2153.9 1161.6L2156.5 1161.0L2159.0 1163.1L2161.5 1164.1"/>
</g></g>
<g stroke="#000" stroke-width="5.0" fill="none" stroke-linecap="butt">
<path d="M370.3 56.8H2164.0"/>
<path d="M2161.5 54.3V1512.0"/>
</g>
<g font-size="61">
<text x="351.3" y="1501.3" text-anchor="end">0.0</text>
<text x="351.3" y="1215.7" text-anchor="end">0.4</text>
<text x="351.3" y="930.0" text-anchor="end">0.8</text>
<text x="351.3" y="644.4" text-anchor="end">1.2</text>
<text x="351.3" y="358.7" text-anchor="end">1.6</text>
<text x="351.3" y="73.1" text-anchor="end">2.0</text>
<text x="650.0" y="1578.5" text-anchor="middle">300</text>
<text x="1153.5" y="1578.5" text-anchor="middle">400</text>
<text x="1657.0" y="1578.5" text-anchor="middle">500</text>
<text x="2160.5" y="1578.5" text-anchor="middle">600</text>
</g>
<g stroke-width="7.0" stroke-linecap="round" fill="none">
<path stroke="#964400" d="M1810.5 197.7H1935.5"/>
<path stroke="#c25a00" d="M1810.5 266.0H1935.5"/>
<path stroke="#ff7000" d="M1810.5 334.3H1935.5"/>
<path stroke="#ff8c00" d="M1810.5 402.5H1935.5"/>
<path stroke="#ffaa00" d="M1810.5 470.8H1935.5"/>
<path stroke="#ffcf3f" d="M1810.5 539.1H1935.5"/>
<path stroke="#fffb64" d="M1810.5 607.4H1935.5"/>
<path stroke="#eeff70" d="M1810.5 675.7H1935.5"/>
<path stroke="#c0ea58" d="M1810.5 743.9H1935.5"/>
<path stroke="#96d248" d="M1810.5 812.2H1935.5"/>
<path stroke="#6cb830" d="M1810.5 880.5H1935.5"/>
<path stroke="#1ca01c" d="M1810.5 948.8H1935.5"/>
<path stroke="#0a8a0a" d="M1810.5 1017.1H1935.5"/>
<path stroke="#007010" d="M1810.5 1085.3H1935.5"/>
</g>
<g font-size="56.0">
<text x="1948.3" y="216.3">0 s</text>
<text x="1948.3" y="284.4">15 s</text>
<text x="1948.3" y="352.5">30 s</text>
<text x="1948.3" y="420.6">60 s</text>
<text x="1948.3" y="488.7">120 s</text>
<text x="1948.3" y="556.8">180 s</text>
<text x="1948.3" y="624.8">240 s</text>
<text x="1948.3" y="692.9">300 s</text>
<text x="1948.3" y="761.0">420 s</text>
<text x="1948.3" y="829.1">540 s</text>
<text x="1948.3" y="897.2">660 s</text>
<text x="1948.3" y="965.3">780 s</text>
<text x="1948.3" y="1033.4">840 s</text>
<text x="1948.3" y="1101.5">900 s</text>
</g>
<text transform="translate(173.00 852.70) rotate(-90) scale(0.9373 1)" font-size="125.0">ABS</text>
<text transform="translate(1149.89 1744.30) scale(1.0354 1)" font-size="118.0"><tspan font-family="Liberation Serif, serif">λ</tspan>/nm</text>
<text transform="translate(493.95 251.40) scale(0.9540 1)" font-size="78.0">AgPB (L)</text>
<text transform="translate(588.96 423.60) scale(1.0566 1)" font-size="103.0">(a)</text>
<text transform="translate(890.12 191.90) scale(1.0294 1)" font-size="78.0" stroke="#000" stroke-width="0.9">PAAgCHI/Fe<tspan font-size="51.5" dy="19.5">3</tspan><tspan dy="-19.5">O</tspan><tspan font-size="51.5" dy="19.5">4</tspan><tspan dy="-19.5">/Ag (L)</tspan></text>
<defs><clipPath id="clip2"><rect x="399.7" y="2148.7" width="1762.1" height="1433.6"/></clipPath></defs>
<g stroke="#000" stroke-width="5.0" fill="none" stroke-linecap="butt">
<path d="M398.7 2146.2V3594.0"/>
<path d="M369.7 3580.8H2164.3"/>
<path d="M383.7 3437.6H398.7"/>
<path d="M369.7 3294.4H398.7"/>
<path d="M383.7 3151.2H398.7"/>
<path d="M369.7 3008.0H398.7"/>
<path d="M383.7 2864.8H398.7"/>
<path d="M369.7 2721.5H398.7"/>
<path d="M383.7 2578.3H398.7"/>
<path d="M369.7 2435.1H398.7"/>
<path d="M383.7 2291.9H398.7"/>
<path d="M650.6 3580.8V3607.8"/>
<path d="M902.4 3580.8V3594.0"/>
<path d="M1154.3 3580.8V3607.8"/>
<path d="M1406.2 3580.8V3594.0"/>
<path d="M1658.1 3580.8V3607.8"/>
<path d="M1909.9 3580.8V3594.0"/>
</g>
<g clip-path="url(#clip2)"><g transform="scale(1 1.270)" fill="none" stroke-width="5.60" stroke-linejoin="round" stroke-linecap="butt">
<path stroke="#555555" d="M398.7 2466.7L401.2 2464.7L403.7 2465.8L406.3 2471.8L408.8 2477.7L411.3 2484.3L413.8 2483.7L416.3 2479.6L418.8 2479.2L421.4 2480.3L423.9 2482.7L426.4 2484.4L428.9 2484.7L431.4 2483.9L434.0 2481.2L436.5 2479.4L439.0 2476.6L441.5 2475.5L444.0 2474.4L446.6 2472.4L449.1 2471.4L451.6 2470.6L454.1 2469.1L456.6 2468.0L459.1 2466.8L461.7 2465.3L464.2 2464.3L466.7 2462.9L469.2 2461.9L471.7 2461.3L474.3 2459.5L476.8 2458.8L479.3 2458.0L481.8 2457.7L484.3 2457.5L486.9 2456.6L489.4 2456.3L491.9 2456.8L494.4 2456.4L496.9 2456.7L499.4 2456.7L502.0 2456.7L504.5 2456.8L507.0 2457.4L509.5 2457.6L512.0 2458.8L514.6 2458.6L517.1 2459.9L519.6 2460.7L522.1 2461.0L524.6 2461.8L527.2 2462.7L529.7 2464.6L532.2 2465.5L534.7 2466.3L537.2 2467.8L539.7 2469.5L542.3 2470.9L544.8 2472.6L547.3 2473.4L549.8 2474.8L552.3 2476.0L554.9 2477.4L557.4 2478.1L559.9 2479.6L562.4 2480.8L564.9 2483.0L567.5 2484.5L570.0 2487.5L572.5 2490.0L575.0 2493.2L577.5 2495.5L580.0 2499.1L582.6 2502.0L585.1 2504.5L587.6 2507.4L590.1 2510.8L592.6 2513.0L595.2 2515.9L597.7 2519.2L600.2 2522.1L602.7 2525.1L605.2 2528.1L607.8 2531.4L610.3 2535.7L612.8 2539.0L615.3 2543.2L617.8 2547.2L620.3 2551.6L622.9 2555.4L625.4 2559.9L627.9 2563.8L630.4 2568.2L632.9 2571.9L635.5 2575.1L638.0 2579.1L640.5 2582.5L643.0 2586.6L645.5 2589.1L648.1 2592.4L650.6 2595.3L653.1 2597.4L655.6 2599.5L658.1 2602.0L660.6 2604.6L663.2 2605.9L665.7 2608.5L668.2 2609.8L670.7 2612.5L673.2 2614.3L675.8 2615.6L678.3 2618.1L680.8 2619.4L683.3 2621.7L685.8 2623.4L688.4 2625.5L690.9 2626.8L693.4 2629.3L695.9 2631.0L698.4 2632.2L700.9 2633.7L703.5 2635.5L706.0 2637.2L708.5 2639.5L711.0 2641.3L713.5 2642.6L716.1 2644.5L718.6 2645.9L721.1 2647.1L723.6 2648.2L726.1 2649.9L728.7 2651.5L731.2 2652.6L733.7 2654.6L736.2 2656.2L738.7 2658.0L741.2 2659.9L743.8 2661.2L746.3 2663.7L748.8 2665.8L751.3 2667.8L753.8 2670.8L756.4 2672.9L758.9 2675.8L761.4 2677.7L763.9 2680.3L766.4 2682.2L769.0 2685.0L771.5 2686.5L774.0 2688.6L776.5 2690.3L779.0 2692.6L781.5 2694.0L784.1 2694.9L786.6 2696.7L789.1 2697.3L791.6 2699.0L794.1 2699.8L796.7 2701.9L799.2 2703.2L801.7 2705.3L804.2 2707.4L806.7 2709.2L809.3 2710.5L811.8 2712.4L814.3 2714.3L816.8 2715.8L819.3 2717.7L821.8 2719.5L824.4 2721.3L826.9 2722.8L829.4 2724.6L831.9 2725.2L834.4 2725.8L837.0 2726.5L839.5 2727.5L842.0 2728.3L844.5 2728.0L847.0 2728.5L849.5 2728.1L852.1 2727.3L854.6 2727.1L857.1 2726.6L859.6 2725.8L862.1 2724.9L864.7 2724.4L867.2 2723.2L869.7 2722.5L872.2 2721.0L874.7 2719.3L877.3 2718.3L879.8 2717.0L882.3 2715.3L884.8 2712.5L887.3 2709.9L889.8 2707.8L892.4 2704.5L894.9 2701.9L897.4 2699.5L899.9 2695.7L902.4 2694.2L905.0 2690.6L907.5 2688.7L910.0 2686.6L912.5 2683.6L915.0 2680.6L917.6 2678.6L920.1 2675.1L922.6 2672.4L925.1 2670.8L927.6 2668.0L930.1 2665.1L932.7 2661.8L935.2 2658.9L937.7 2656.9L940.2 2653.5L942.7 2650.3L945.3 2647.6L947.8 2643.1L950.3 2640.0L952.8 2637.0L955.3 2633.6L957.9 2631.4L960.4 2628.0L962.9 2623.0L965.4 2620.8L967.9 2617.0L970.4 2612.4L973.0 2609.1L975.5 2605.3L978.0 2602.5L980.5 2598.0L983.0 2593.6L985.6 2589.8L988.1 2585.8L990.6 2581.5L993.1 2577.6L995.6 2574.6L998.2 2569.9L1000.7 2564.6L1003.2 2561.0L1005.7 2556.0L1008.2 2552.5L1010.7 2547.4L1013.3 2543.8L1015.8 2538.4L1018.3 2533.9L1020.8 2528.4L1023.3 2524.5L1025.9 2519.8L1028.4 2514.8L1030.9 2510.7L1033.4 2504.6L1035.9 2500.0L1038.5 2494.3L1041.0 2490.0L1043.5 2484.9L1046.0 2480.7L1048.5 2475.2L1051.0 2469.2L1053.6 2465.5L1056.1 2459.6L1058.6 2454.9L1061.1 2449.7L1063.6 2444.8L1066.2 2439.6L1068.7 2434.2L1071.2 2428.4L1073.7 2423.7L1076.2 2417.7L1078.8 2412.6L1081.3 2408.0L1083.8 2402.0L1086.3 2396.5L1088.8 2391.0L1091.3 2385.8L1093.9 2381.3L1096.4 2375.1L1098.9 2370.0L1101.4 2363.8L1103.9 2358.8L1106.5 2354.4L1109.0 2348.9L1111.5 2343.2L1114.0 2337.7L1116.5 2332.6L1119.1 2327.1L1121.6 2321.6L1124.1 2318.0L1126.6 2311.3L1129.1 2307.3L1131.6 2301.2L1134.2 2296.4L1136.7 2291.4L1139.2 2285.5L1141.7 2280.8L1144.2 2275.8L1146.8 2271.0L1149.3 2266.6L1151.8 2260.8L1154.3 2256.5L1156.8 2250.9L1159.4 2247.1L1161.9 2242.0L1164.4 2237.0L1166.9 2231.8L1169.4 2227.5L1171.9 2222.6L1174.5 2218.1L1177.0 2213.9L1179.5 2208.9L1182.0 2203.9L1184.5 2199.2L1187.1 2195.7L1189.6 2190.4L1192.1 2186.0L1194.6 2181.4L1197.1 2177.2L1199.7 2173.6L1202.2 2168.1L1204.7 2165.1L1207.2 2159.8L1209.7 2155.2L1212.2 2151.8L1214.8 2147.3L1217.3 2144.2L1219.8 2138.7L1222.3 2136.3L1224.8 2131.8L1227.4 2128.1L1229.9 2123.9L1232.4 2120.2L1234.9 2115.7L1237.4 2112.0L1240.0 2107.7L1242.5 2104.2L1245.0 2101.3L1247.5 2096.9L1250.0 2093.5L1252.5 2089.9L1255.1 2087.2L1257.6 2082.6L1260.1 2079.6L1262.6 2077.0L1265.1 2073.3L1267.7 2069.7L1270.2 2066.1L1272.7 2062.9L1275.2 2059.1L1277.7 2056.5L1280.2 2053.3L1282.8 2048.9L1285.3 2046.1L1287.8 2041.8L1290.3 2038.6L1292.8 2035.5L1295.4 2032.1L1297.9 2028.7L1300.4 2024.7L1302.9 2021.2L1305.4 2017.0L1308.0 2013.2L1310.5 2009.2L1313.0 2006.9L1315.5 2002.1L1318.0 1998.3L1320.5 1996.3L1323.1 1992.3L1325.6 1988.2L1328.1 1985.0L1330.6 1981.6L1333.1 1977.7L1335.7 1973.8L1338.2 1970.2L1340.7 1966.0L1343.2 1963.4L1345.7 1959.1L1348.3 1956.6L1350.8 1952.1L1353.3 1949.2L1355.8 1945.5L1358.3 1942.5L1360.8 1938.8L1363.4 1935.8L1365.9 1932.0L1368.4 1929.1L1370.9 1925.0L1373.4 1922.1L1376.0 1919.7L1378.5 1916.2L1381.0 1913.4L1383.5 1909.1L1386.0 1907.2L1388.6 1903.4L1391.1 1901.2L1393.6 1897.5L1396.1 1896.0L1398.6 1892.5L1401.1 1890.5L1403.7 1888.0L1406.2 1885.0L1408.7 1881.6L1411.2 1879.3L1413.7 1877.3L1416.3 1875.3L1418.8 1873.9L1421.3 1871.9L1423.8 1868.3L1426.3 1866.5L1428.9 1864.9L1431.4 1864.0L1433.9 1861.6L1436.4 1859.7L1438.9 1858.5L1441.4 1856.7L1444.0 1855.2L1446.5 1853.9L1449.0 1853.0L1451.5 1852.0L1454.0 1850.3L1456.6 1850.6L1459.1 1848.7L1461.6 1848.0L1464.1 1848.2L1466.6 1846.8L1469.2 1847.9L1471.7 1846.7L1474.2 1847.4L1476.7 1846.2L1479.2 1847.4L1481.7 1846.4L1484.3 1847.5L1486.8 1848.4L1489.3 1849.3L1491.8 1849.7L1494.3 1849.9L1496.9 1851.4L1499.4 1852.0L1501.9 1853.7L1504.4 1855.3L1506.9 1856.3L1509.5 1858.7L1512.0 1859.0L1514.5 1862.0L1517.0 1863.3L1519.5 1866.4L1522.0 1867.5L1524.6 1871.1L1527.1 1873.7L1529.6 1875.9L1532.1 1879.8L1534.6 1882.6L1537.2 1885.1L1539.7 1887.8L1542.2 1891.4L1544.7 1895.3L1547.2 1899.0L1549.8 1903.1L1552.3 1907.1L1554.8 1912.5L1557.3 1916.8L1559.8 1920.7L1562.3 1925.9L1564.9 1931.2L1567.4 1935.0L1569.9 1940.8L1572.4 1946.0L1574.9 1951.6L1577.5 1956.3L1580.0 1962.3L1582.5 1968.7L1585.0 1973.3L1587.5 1979.9L1590.1 1986.4L1592.6 1991.7L1595.1 1997.9L1597.6 2005.0L1600.1 2011.4L1602.6 2017.0L1605.2 2023.0L1607.7 2029.2L1610.2 2035.8L1612.7 2042.7L1615.2 2049.2L1617.8 2056.2L1620.3 2063.1L1622.8 2069.9L1625.3 2078.3L1627.8 2084.0L1630.4 2091.6L1632.9 2098.6L1635.4 2107.5L1637.9 2113.9L1640.4 2121.9L1642.9 2129.5L1645.5 2136.9L1648.0 2146.1L1650.5 2153.6L1653.0 2162.2L1655.5 2169.8L1658.1 2178.8L1660.6 2186.2L1663.1 2194.7L1665.6 2202.9L1668.1 2212.5L1670.7 2221.1L1673.2 2229.0L1675.7 2237.9L1678.2 2247.7L1680.7 2255.6L1683.2 2264.6L1685.8 2273.4L1688.3 2283.5L1690.8 2292.2L1693.3 2301.2L1695.8 2310.3L1698.4 2319.5L1700.9 2328.9L1703.4 2337.1L1705.9 2345.4L1708.4 2354.8L1711.0 2363.4L1713.5 2372.5L1716.0 2380.7L1718.5 2388.4L1721.0 2397.4L1723.5 2406.2L1726.1 2414.0L1728.6 2421.4L1731.1 2429.3L1733.6 2437.4L1736.1 2446.4L1738.7 2453.0L1741.2 2461.3L1743.7 2468.9L1746.2 2475.8L1748.7 2484.4L1751.2 2491.8L1753.8 2499.5L1756.3 2506.1L1758.8 2513.2L1761.3 2519.6L1763.8 2527.4L1766.4 2533.5L1768.9 2540.6L1771.4 2546.3L1773.9 2552.5L1776.4 2559.9L1779.0 2565.9L1781.5 2572.3L1784.0 2578.0L1786.5 2584.8L1789.0 2590.0L1791.5 2596.5L1794.1 2602.3L1796.6 2606.4L1799.1 2612.1L1801.6 2618.0L1804.1 2623.4L1806.7 2628.6L1809.2 2633.3L1811.7 2638.7L1814.2 2644.1L1816.7 2648.4L1819.3 2652.8L1821.8 2656.9L1824.3 2661.6L1826.8 2667.0L1829.3 2670.5L1831.8 2674.6L1834.4 2679.5L1836.9 2684.3L1839.4 2687.5L1841.9 2691.0L1844.4 2694.7L1847.0 2698.7L1849.5 2702.3L1852.0 2705.8L1854.5 2709.8L1857.0 2713.5L1859.6 2717.2L1862.1 2719.9L1864.6 2722.6L1867.1 2725.9L1869.6 2729.1L1872.1 2732.2L1874.7 2735.8L1877.2 2737.9L1879.7 2740.8L1882.2 2743.7L1884.7 2745.6L1887.3 2748.2L1889.8 2751.6L1892.3 2753.5L1894.8 2754.9L1897.3 2757.9L1899.9 2760.1L1902.4 2762.3L1904.9 2764.9L1907.4 2766.8L1909.9 2767.9L1912.4 2769.7L1915.0 2772.3L1917.5 2773.8L1920.0 2774.5L1922.5 2777.2L1925.0 2779.0L1927.6 2780.2L1930.1 2781.8L1932.6 2782.1L1935.1 2784.5L1937.6 2785.2L1940.2 2786.8L1942.7 2788.2L1945.2 2789.2L1947.7 2790.7L1950.2 2791.0L1952.7 2792.3L1955.3 2793.8L1957.8 2793.8L1960.3 2794.5L1962.8 2795.6L1965.3 2796.1L1967.9 2797.7L1970.4 2797.7L1972.9 2799.6L1975.4 2798.9L1977.9 2800.7L1980.5 2800.7L1983.0 2801.1L1985.5 2801.5L1988.0 2802.5L1990.5 2803.4L1993.0 2802.8L1995.6 2803.0L1998.1 2803.5L2000.6 2804.4L2003.1 2804.1L2005.6 2804.6L2008.2 2805.7L2010.7 2806.0L2013.2 2805.0L2015.7 2805.9L2018.2 2805.7L2020.8 2805.9L2023.3 2805.8L2025.8 2805.8L2028.3 2806.4L2030.8 2806.5L2033.3 2806.2L2035.9 2807.2L2038.4 2806.2L2040.9 2806.9L2043.4 2807.2L2045.9 2806.8L2048.5 2805.8L2051.0 2805.5L2053.5 2806.8L2056.0 2805.8L2058.5 2805.5L2061.1 2806.3L2063.6 2806.0L2066.1 2806.4L2068.6 2805.0L2071.1 2804.9L2073.6 2805.7L2076.2 2806.0L2078.7 2804.6L2081.2 2804.8L2083.7 2804.9L2086.2 2805.9L2088.8 2804.9L2091.3 2805.1L2093.8 2804.1L2096.3 2804.6L2098.8 2805.2L2101.4 2805.2L2103.9 2805.3L2106.4 2803.7L2108.9 2805.1L2111.4 2804.4L2113.9 2804.9L2116.5 2804.1L2119.0 2804.2L2121.5 2804.7L2124.0 2804.0L2126.5 2805.0L2129.1 2805.6L2131.6 2804.3L2134.1 2805.6L2136.6 2805.4L2139.1 2804.8L2141.7 2806.0L2144.2 2805.8L2146.7 2806.3L2149.2 2807.0L2151.7 2807.3L2154.2 2806.6L2156.8 2807.2L2159.3 2807.5L2161.8 2808.3"/>
<path stroke="#ff4040" d="M398.7 2241.4L401.2 2221.6L403.7 2204.9L406.3 2187.2L408.8 2175.3L411.3 2179.1L413.8 2188.3L416.3 2197.3L418.8 2207.1L421.4 2217.7L423.9 2228.6L426.4 2241.0L428.9 2253.2L431.4 2265.8L434.0 2279.6L436.5 2292.3L439.0 2305.9L441.5 2319.6L444.0 2333.8L446.6 2346.9L449.1 2360.4L451.6 2373.8L454.1 2387.8L456.6 2403.3L459.1 2418.9L461.7 2433.6L464.2 2447.0L466.7 2459.9L469.2 2470.0L471.7 2478.2L474.3 2485.6L476.8 2491.6L479.3 2498.1L481.8 2504.2L484.3 2509.9L486.9 2515.2L489.4 2520.1L491.9 2525.3L494.4 2530.9L496.9 2535.8L499.4 2540.8L502.0 2545.1L504.5 2550.7L507.0 2554.7L509.5 2559.4L512.0 2563.8L514.6 2567.9L517.1 2572.5L519.6 2576.1L522.1 2578.9L524.6 2582.9L527.2 2585.5L529.7 2588.0L532.2 2590.8L534.7 2593.5L537.2 2594.8L539.7 2597.4L542.3 2599.1L544.8 2600.4L547.3 2602.0L549.8 2603.5L552.3 2605.0L554.9 2606.6L557.4 2607.9L559.9 2609.6L562.4 2610.9L564.9 2612.5L567.5 2613.4L570.0 2615.2L572.5 2616.4L575.0 2618.4L577.5 2619.1L580.0 2620.3L582.6 2622.1L585.1 2623.7L587.6 2624.5L590.1 2626.3L592.6 2627.3L595.2 2629.0L597.7 2630.3L600.2 2631.6L602.7 2632.7L605.2 2634.9L607.8 2636.2L610.3 2638.1L612.8 2640.1L615.3 2641.3L617.8 2643.4L620.3 2645.5L622.9 2648.3L625.4 2649.7L627.9 2652.2L630.4 2653.8L632.9 2656.2L635.5 2658.2L638.0 2660.0L640.5 2661.5L643.0 2664.1L645.5 2665.0L648.1 2667.1L650.6 2669.0L653.1 2670.2L655.6 2671.9L658.1 2673.9L660.6 2675.7L663.2 2676.7L665.7 2678.1L668.2 2680.2L670.7 2681.8L673.2 2682.6L675.8 2684.5L678.3 2685.9L680.8 2687.1L683.3 2688.4L685.8 2689.6L688.4 2690.5L690.9 2692.0L693.4 2693.2L695.9 2694.0L698.4 2695.4L700.9 2696.2L703.5 2698.0L706.0 2698.4L708.5 2699.8L711.0 2701.1L713.5 2702.4L716.1 2703.4L718.6 2704.2L721.1 2706.2L723.6 2707.0L726.1 2707.8L728.7 2709.4L731.2 2710.1L733.7 2711.7L736.2 2712.8L738.7 2714.3L741.2 2714.9L743.8 2716.7L746.3 2717.5L748.8 2718.5L751.3 2720.4L753.8 2721.7L756.4 2722.3L758.9 2723.6L761.4 2725.3L763.9 2726.3L766.4 2727.5L769.0 2729.0L771.5 2729.7L774.0 2730.7L776.5 2731.8L779.0 2733.4L781.5 2734.1L784.1 2735.2L786.6 2736.2L789.1 2737.7L791.6 2738.8L794.1 2739.5L796.7 2741.1L799.2 2742.3L801.7 2743.0L804.2 2743.4L806.7 2745.0L809.3 2745.2L811.8 2746.4L814.3 2747.2L816.8 2747.9L819.3 2748.3L821.8 2749.4L824.4 2749.4L826.9 2750.7L829.4 2750.6L831.9 2751.1L834.4 2752.4L837.0 2752.1L839.5 2753.0L842.0 2753.2L844.5 2753.4L847.0 2753.7L849.5 2753.8L852.1 2753.4L854.6 2753.9L857.1 2753.1L859.6 2753.6L862.1 2753.3L864.7 2754.0L867.2 2753.5L869.7 2754.0L872.2 2753.9L874.7 2753.4L877.3 2753.5L879.8 2753.7L882.3 2753.2L884.8 2753.8L887.3 2753.1L889.8 2752.9L892.4 2753.1L894.9 2752.0L897.4 2761.2L899.9 2761.8L902.4 2761.9L905.0 2760.9L907.5 2761.7L910.0 2760.9L912.5 2760.1L915.0 2760.1L917.6 2760.3L920.1 2759.8L922.6 2758.0L925.1 2757.6L927.6 2758.3L930.1 2757.0L932.7 2756.5L935.2 2755.4L937.7 2755.1L940.2 2754.7L942.7 2754.1L945.3 2751.3L947.8 2751.5L950.3 2750.6L952.8 2750.1L955.3 2749.4L957.9 2748.6L960.4 2745.7L962.9 2745.2L965.4 2743.9L967.9 2743.6L970.4 2743.2L973.0 2741.1L975.5 2740.6L978.0 2739.2L980.5 2736.9L983.0 2736.6L985.6 2734.6L988.1 2733.0L990.6 2732.8L993.1 2730.4L995.6 2730.0L998.2 2727.2L1000.7 2727.3L1003.2 2725.4L1005.7 2722.9L1008.2 2723.1L1010.7 2721.7L1013.3 2719.0L1015.8 2718.1L1018.3 2717.3L1020.8 2714.0L1023.3 2714.4L1025.9 2712.9L1028.4 2710.8L1030.9 2708.6L1033.4 2706.5L1035.9 2705.7L1038.5 2704.0L1041.0 2703.3L1043.5 2700.2L1046.0 2699.5L1048.5 2698.4L1051.0 2695.8L1053.6 2694.6L1056.1 2692.2L1058.6 2692.3L1061.1 2690.4L1063.6 2688.5L1066.2 2687.1L1068.7 2683.9L1071.2 2683.3L1073.7 2682.1L1076.2 2680.2L1078.8 2679.1L1081.3 2676.7L1083.8 2676.1L1086.3 2673.0L1088.8 2672.7L1091.3 2670.1L1093.9 2669.1L1096.4 2667.2L1098.9 2665.0L1101.4 2664.4L1103.9 2661.7L1106.5 2660.2L1109.0 2659.7L1111.5 2657.8L1114.0 2656.1L1116.5 2654.8L1119.1 2653.4L1121.6 2651.4L1124.1 2650.5L1126.6 2647.7L1129.1 2646.2L1131.6 2646.1L1134.2 2643.5L1136.7 2641.4L1139.2 2641.2L1141.7 2639.1L1144.2 2637.1L1146.8 2635.4L1149.3 2635.0L1151.8 2633.7L1154.3 2632.4L1156.8 2630.2L1159.4 2629.5L1161.9 2627.4L1164.4 2627.1L1166.9 2625.7L1169.4 2624.7L1171.9 2622.7L1174.5 2621.7L1177.0 2620.9L1179.5 2619.5L1182.0 2618.1L1184.5 2616.4L1187.1 2615.6L1189.6 2613.9L1192.1 2611.7L1194.6 2611.0L1197.1 2611.0L1199.7 2609.4L1202.2 2608.6L1204.7 2606.7L1207.2 2606.0L1209.7 2604.5L1212.2 2604.1L1214.8 2602.8L1217.3 2600.2L1219.8 2600.5L1222.3 2598.4L1224.8 2597.2L1227.4 2596.6L1229.9 2595.5L1232.4 2594.8L1234.9 2593.8L1237.4 2592.4L1240.0 2592.1L1242.5 2590.2L1245.0 2589.1L1247.5 2588.8L1250.0 2587.6L1252.5 2585.2L1255.1 2584.5L1257.6 2583.6L1260.1 2583.5L1262.6 2581.0L1265.1 2579.8L1267.7 2578.9L1270.2 2578.7L1272.7 2577.3L1275.2 2576.3L1277.7 2576.5L1280.2 2575.4L1282.8 2573.0L1285.3 2572.5L1287.8 2571.6L1290.3 2571.1L1292.8 2569.7L1295.4 2569.5L1297.9 2567.5L1300.4 2567.3L1302.9 2565.3L1305.4 2564.7L1308.0 2564.5L1310.5 2563.2L1313.0 2561.5L1315.5 2560.1L1318.0 2560.4L1320.5 2559.7L1323.1 2557.3L1325.6 2557.7L1328.1 2555.8L1330.6 2555.1L1333.1 2554.3L1335.7 2552.8L1338.2 2552.8L1340.7 2551.1L1343.2 2549.9L1345.7 2548.6L1348.3 2548.5L1350.8 2548.0L1353.3 2546.8L1355.8 2546.0L1358.3 2545.3L1360.8 2543.5L1363.4 2543.4L1365.9 2540.9L1368.4 2541.8L1370.9 2540.7L1373.4 2539.4L1376.0 2538.0L1378.5 2537.8L1381.0 2535.5L1383.5 2535.8L1386.0 2534.1L1388.6 2533.8L1391.1 2533.2L1393.6 2531.7L1396.1 2531.9L1398.6 2530.4L1401.1 2530.2L1403.7 2529.7L1406.2 2528.3L1408.7 2528.6L1411.2 2526.9L1413.7 2526.6L1416.3 2525.8L1418.8 2525.2L1421.3 2525.1L1423.8 2524.5L1426.3 2524.4L1428.9 2524.1L1431.4 2522.7L1433.9 2522.6L1436.4 2521.1L1438.9 2521.4L1441.4 2521.6L1444.0 2521.1L1446.5 2520.7L1449.0 2518.8L1451.5 2519.7L1454.0 2518.4L1456.6 2518.3L1459.1 2518.8L1461.6 2518.6L1464.1 2517.3L1466.6 2518.6L1469.2 2517.4L1471.7 2518.6L1474.2 2516.8L1476.7 2518.3L1479.2 2517.0L1481.7 2519.0L1484.3 2517.2L1486.8 2519.3L1489.3 2518.4L1491.8 2518.9L1494.3 2519.6L1496.9 2519.1L1499.4 2521.4L1501.9 2521.8L1504.4 2521.7L1506.9 2521.2L1509.5 2522.4L1512.0 2523.5L1514.5 2523.3L1517.0 2524.8L1519.5 2526.3L1522.0 2526.5L1524.6 2527.5L1527.1 2528.1L1529.6 2530.0L1532.1 2530.3L1534.6 2531.2L1537.2 2531.8L1539.7 2534.0L1542.2 2533.5L1544.7 2535.2L1547.2 2535.9L1549.8 2537.8L1552.3 2538.6L1554.8 2539.8L1557.3 2542.7L1559.8 2543.2L1562.3 2545.3L1564.9 2545.7L1567.4 2546.8L1569.9 2549.0L1572.4 2550.7L1574.9 2552.4L1577.5 2554.4L1580.0 2556.4L1582.5 2557.5L1585.0 2559.7L1587.5 2560.6L1590.1 2562.6L1592.6 2565.3L1595.1 2566.6L1597.6 2567.7L1600.1 2570.0L1602.6 2571.8L1605.2 2575.1L1607.7 2577.6L1610.2 2579.4L1612.7 2580.3L1615.2 2582.5L1617.8 2584.9L1620.3 2587.3L1622.8 2590.0L1625.3 2591.7L1627.8 2593.2L1630.4 2596.5L1632.9 2599.0L1635.4 2601.5L1637.9 2602.5L1640.4 2605.2L1642.9 2608.4L1645.5 2610.8L1648.0 2612.4L1650.5 2614.3L1653.0 2618.4L1655.5 2620.2L1658.1 2623.5L1660.6 2624.8L1663.1 2627.8L1665.6 2630.4L1668.1 2633.0L1670.7 2634.1L1673.2 2638.5L1675.7 2640.4L1678.2 2642.4L1680.7 2645.5L1683.2 2646.8L1685.8 2649.9L1688.3 2653.3L1690.8 2655.4L1693.3 2657.6L1695.8 2659.8L1698.4 2662.7L1700.9 2665.7L1703.4 2668.4L1705.9 2669.6L1708.4 2671.9L1711.0 2675.4L1713.5 2677.8L1716.0 2679.9L1718.5 2682.2L1721.0 2684.9L1723.5 2687.0L1726.1 2688.6L1728.6 2691.8L1731.1 2694.9L1733.6 2696.2L1736.1 2698.7L1738.7 2701.1L1741.2 2703.5L1743.7 2705.0L1746.2 2708.9L1748.7 2711.0L1751.2 2712.2L1753.8 2714.8L1756.3 2717.9L1758.8 2719.8L1761.3 2720.7L1763.8 2723.3L1766.4 2724.6L1768.9 2727.2L1771.4 2729.3L1773.9 2731.2L1776.4 2733.6L1779.0 2734.8L1781.5 2736.9L1784.0 2738.4L1786.5 2742.0L1789.0 2743.1L1791.5 2745.6L1794.1 2746.0L1796.6 2747.3L1799.1 2750.2L1801.6 2752.0L1804.1 2754.1L1806.7 2753.8L1809.2 2756.9L1811.7 2757.9L1814.2 2758.5L1816.7 2760.6L1819.3 2762.3L1821.8 2764.1L1824.3 2764.9L1826.8 2765.8L1829.3 2768.3L1831.8 2769.2L1834.4 2769.5L1836.9 2771.0L1839.4 2773.5L1841.9 2773.0L1844.4 2774.0L1847.0 2776.4L1849.5 2776.7L1852.0 2778.8L1854.5 2779.9L1857.0 2780.5L1859.6 2782.1L1862.1 2781.3L1864.6 2783.8L1867.1 2784.3L1869.6 2784.7L1872.1 2786.5L1874.7 2786.3L1877.2 2787.9L1879.7 2787.3L1882.2 2788.2L1884.7 2790.3L1887.3 2791.2L1889.8 2790.2L1892.3 2791.0L1894.8 2793.4L1897.3 2792.5L1899.9 2794.6L1902.4 2795.1L1904.9 2795.3L1907.4 2795.3L1909.9 2795.4L1912.4 2796.1L1915.0 2796.7L1917.5 2797.8L1920.0 2797.1L1922.5 2798.0L1925.0 2798.4L1927.6 2798.8L1930.1 2800.2L1932.6 2799.2L1935.1 2799.8L1937.6 2799.7L1940.2 2801.2L1942.7 2801.7L1945.2 2801.1L1947.7 2802.3L1950.2 2803.0L1952.7 2802.6L1955.3 2802.8L1957.8 2803.2L1960.3 2803.9L1962.8 2803.8L1965.3 2804.0L1967.9 2803.0L1970.4 2803.2L1972.9 2804.7L1975.4 2803.0L1977.9 2804.6L1980.5 2804.4L1983.0 2804.1L1985.5 2803.9L1988.0 2803.5L1990.5 2804.9L1993.0 2804.9L1995.6 2804.9L1998.1 2804.3L2000.6 2805.3L2003.1 2803.6L2005.6 2804.8L2008.2 2804.6L2010.7 2803.9L2013.2 2805.1L2015.7 2803.6L2018.2 2805.3L2020.8 2803.7L2023.3 2804.7L2025.8 2803.5L2028.3 2804.2L2030.8 2805.0L2033.3 2803.8L2035.9 2803.9L2038.4 2804.1L2040.9 2803.3L2043.4 2804.0L2045.9 2804.0L2048.5 2804.0L2051.0 2804.2L2053.5 2802.2L2056.0 2802.8L2058.5 2802.9L2061.1 2801.8L2063.6 2801.7L2066.1 2802.7L2068.6 2802.1L2071.1 2801.9L2073.6 2801.6L2076.2 2802.1L2078.7 2801.5L2081.2 2801.2L2083.7 2801.8L2086.2 2801.3L2088.8 2800.7L2091.3 2801.9L2093.8 2801.0L2096.3 2800.3L2098.8 2800.5L2101.4 2800.2L2103.9 2799.6L2106.4 2800.4L2108.9 2800.0L2111.4 2800.3L2113.9 2799.9L2116.5 2799.3L2119.0 2800.1L2121.5 2799.5L2124.0 2799.2L2126.5 2799.6L2129.1 2799.2L2131.6 2799.9L2134.1 2798.5L2136.6 2799.7L2139.1 2798.3L2141.7 2799.2L2144.2 2799.0L2146.7 2798.8L2149.2 2799.7L2151.7 2798.9L2154.2 2798.8L2156.8 2798.0L2159.3 2798.8L2161.8 2799.6"/>
<path stroke="#0070e8" d="M398.7 2171.4L401.2 2151.4L403.7 2130.8L406.3 2118.7L408.8 2106.6L411.3 2112.0L413.8 2121.3L416.3 2131.1L418.8 2139.8L421.4 2149.7L423.9 2158.3L426.4 2168.0L428.9 2177.5L431.4 2187.1L434.0 2196.1L436.5 2205.1L439.0 2219.9L441.5 2235.4L444.0 2251.7L446.6 2266.9L449.1 2283.0L451.6 2299.2L454.1 2314.8L456.6 2330.3L459.1 2346.4L461.7 2362.3L464.2 2378.0L466.7 2394.7L469.2 2409.8L471.7 2425.0L474.3 2439.8L476.8 2453.6L479.3 2466.3L481.8 2478.3L484.3 2489.2L486.9 2499.1L489.4 2508.9L491.9 2517.7L494.4 2526.5L496.9 2535.3L499.4 2543.3L502.0 2551.5L504.5 2560.2L507.0 2568.5L509.5 2575.8L512.0 2583.2L514.6 2589.3L517.1 2594.7L519.6 2599.4L522.1 2604.3L524.6 2608.8L527.2 2612.1L529.7 2616.2L532.2 2619.2L534.7 2621.9L537.2 2623.5L539.7 2625.9L542.3 2627.7L544.8 2629.0L547.3 2630.2L549.8 2630.8L552.3 2632.5L554.9 2633.6L557.4 2634.3L559.9 2634.9L562.4 2636.0L564.9 2637.0L567.5 2638.1L570.0 2639.5L572.5 2640.6L575.0 2641.7L577.5 2643.5L580.0 2645.0L582.6 2646.1L585.1 2647.2L587.6 2648.7L590.1 2650.3L592.6 2651.8L595.2 2653.2L597.7 2654.5L600.2 2655.5L602.7 2657.4L605.2 2658.5L607.8 2660.3L610.3 2662.1L612.8 2663.1L615.3 2664.9L617.8 2666.3L620.3 2668.6L622.9 2669.8L625.4 2671.8L627.9 2673.5L630.4 2675.0L632.9 2676.6L635.5 2678.2L638.0 2679.7L640.5 2681.4L643.0 2682.3L645.5 2683.3L648.1 2684.6L650.6 2686.5L653.1 2687.7L655.6 2688.2L658.1 2689.9L660.6 2690.9L663.2 2691.7L665.7 2693.3L668.2 2694.5L670.7 2695.5L673.2 2696.7L675.8 2698.1L678.3 2698.7L680.8 2700.3L683.3 2701.1L685.8 2702.3L688.4 2703.9L690.9 2705.3L693.4 2706.0L695.9 2707.5L698.4 2708.8L700.9 2709.4L703.5 2710.7L706.0 2712.2L708.5 2713.7L711.0 2714.4L713.5 2716.1L716.1 2716.5L718.6 2718.4L721.1 2719.4L723.6 2720.5L726.1 2721.9L728.7 2722.9L731.2 2724.1L733.7 2724.8L736.2 2725.7L738.7 2727.1L741.2 2727.9L743.8 2728.6L746.3 2730.2L748.8 2731.0L751.3 2731.5L753.8 2733.1L756.4 2734.1L758.9 2734.5L761.4 2735.8L763.9 2736.0L766.4 2737.1L769.0 2737.9L771.5 2739.0L774.0 2739.9L776.5 2740.8L779.0 2741.3L781.5 2742.4L784.1 2743.0L786.6 2743.9L789.1 2745.0L791.6 2745.4L794.1 2746.5L796.7 2747.7L799.2 2748.2L801.7 2749.3L804.2 2750.3L806.7 2750.7L809.3 2751.7L811.8 2752.2L814.3 2752.2L816.8 2752.9L819.3 2753.7L821.8 2754.4L824.4 2754.8L826.9 2755.0L829.4 2756.1L831.9 2756.7L834.4 2756.7L837.0 2757.5L839.5 2757.7L842.0 2758.0L844.5 2758.3L847.0 2758.9L849.5 2759.6L852.1 2759.2L854.6 2759.7L857.1 2759.7L859.6 2760.1L862.1 2760.2L864.7 2761.0L867.2 2761.1L869.7 2761.2L872.2 2761.5L874.7 2761.5L877.3 2762.0L879.8 2761.6L882.3 2761.7L884.8 2761.7L887.3 2762.6L889.8 2762.7L892.4 2762.8L894.9 2762.6L897.4 2775.0L899.9 2774.8L902.4 2774.8L905.0 2775.9L907.5 2775.4L910.0 2776.2L912.5 2775.8L915.0 2774.9L917.6 2775.6L920.1 2775.7L922.6 2775.7L925.1 2775.7L927.6 2775.8L930.1 2775.0L932.7 2775.2L935.2 2774.8L937.7 2775.0L940.2 2774.5L942.7 2772.7L945.3 2773.1L947.8 2773.8L950.3 2773.3L952.8 2771.6L955.3 2771.0L957.9 2771.2L960.4 2771.1L962.9 2769.2L965.4 2769.4L967.9 2768.5L970.4 2767.9L973.0 2768.0L975.5 2767.2L978.0 2767.2L980.5 2766.0L983.0 2765.4L985.6 2764.5L988.1 2762.8L990.6 2762.1L993.1 2763.0L995.6 2760.6L998.2 2760.9L1000.7 2760.0L1003.2 2758.3L1005.7 2758.5L1008.2 2756.5L1010.7 2757.1L1013.3 2755.4L1015.8 2754.9L1018.3 2753.2L1020.8 2752.3L1023.3 2751.4L1025.9 2750.6L1028.4 2750.9L1030.9 2749.7L1033.4 2748.5L1035.9 2747.8L1038.5 2745.9L1041.0 2744.8L1043.5 2744.9L1046.0 2742.9L1048.5 2742.1L1051.0 2741.5L1053.6 2741.9L1056.1 2739.8L1058.6 2740.0L1061.1 2737.3L1063.6 2737.4L1066.2 2736.6L1068.7 2735.2L1071.2 2733.6L1073.7 2733.4L1076.2 2733.0L1078.8 2731.1L1081.3 2731.2L1083.8 2729.9L1086.3 2729.8L1088.8 2727.8L1091.3 2726.7L1093.9 2725.7L1096.4 2725.3L1098.9 2724.8L1101.4 2723.1L1103.9 2723.6L1106.5 2721.0L1109.0 2720.1L1111.5 2720.4L1114.0 2719.4L1116.5 2717.8L1119.1 2717.4L1121.6 2717.3L1124.1 2715.4L1126.6 2715.2L1129.1 2714.2L1131.6 2713.5L1134.2 2712.9L1136.7 2711.9L1139.2 2710.1L1141.7 2709.2L1144.2 2708.6L1146.8 2708.5L1149.3 2707.0L1151.8 2707.2L1154.3 2706.0L1156.8 2704.4L1159.4 2703.6L1161.9 2704.2L1164.4 2702.5L1166.9 2702.6L1169.4 2702.5L1171.9 2700.1L1174.5 2699.3L1177.0 2699.8L1179.5 2698.4L1182.0 2697.3L1184.5 2696.0L1187.1 2696.8L1189.6 2696.3L1192.1 2695.3L1194.6 2694.7L1197.1 2693.0L1199.7 2691.9L1202.2 2692.8L1204.7 2692.0L1207.2 2689.4L1209.7 2690.4L1212.2 2688.2L1214.8 2687.4L1217.3 2688.6L1219.8 2687.8L1222.3 2686.5L1224.8 2685.4L1227.4 2685.2L1229.9 2684.3L1232.4 2682.7L1234.9 2682.6L1237.4 2682.6L1240.0 2681.5L1242.5 2681.0L1245.0 2679.2L1247.5 2678.5L1250.0 2679.7L1252.5 2678.2L1255.1 2677.3L1257.6 2677.2L1260.1 2677.0L1262.6 2675.1L1265.1 2675.0L1267.7 2673.6L1270.2 2672.8L1272.7 2673.8L1275.2 2672.7L1277.7 2671.6L1280.2 2672.1L1282.8 2671.1L1285.3 2670.6L1287.8 2668.9L1290.3 2669.2L1292.8 2667.7L1295.4 2667.6L1297.9 2666.1L1300.4 2666.0L1302.9 2665.5L1305.4 2666.0L1308.0 2664.4L1310.5 2663.2L1313.0 2662.6L1315.5 2663.8L1318.0 2662.2L1320.5 2662.8L1323.1 2661.1L1325.6 2660.1L1328.1 2659.7L1330.6 2660.3L1333.1 2659.9L1335.7 2659.2L1338.2 2657.5L1340.7 2658.5L1343.2 2656.8L1345.7 2657.2L1348.3 2656.2L1350.8 2657.0L1353.3 2656.2L1355.8 2655.9L1358.3 2654.7L1360.8 2655.2L1363.4 2654.2L1365.9 2652.8L1368.4 2652.8L1370.9 2651.8L1373.4 2652.0L1376.0 2650.8L1378.5 2651.8L1381.0 2650.7L1383.5 2649.6L1386.0 2650.0L1388.6 2648.9L1391.1 2650.3L1393.6 2650.0L1396.1 2649.6L1398.6 2648.2L1401.1 2648.4L1403.7 2647.3L1406.2 2647.3L1408.7 2646.7L1411.2 2645.5L1413.7 2646.2L1416.3 2645.4L1418.8 2646.2L1421.3 2644.2L1423.8 2643.7L1426.3 2644.9L1428.9 2644.7L1431.4 2643.5L1433.9 2642.9L1436.4 2643.9L1438.9 2643.4L1441.4 2643.4L1444.0 2642.1L1446.5 2642.2L1449.0 2641.2L1451.5 2641.4L1454.0 2642.4L1456.6 2641.8L1459.1 2641.5L1461.6 2642.0L1464.1 2642.2L1466.6 2641.0L1469.2 2641.8L1471.7 2640.6L1474.2 2641.9L1476.7 2642.6L1479.2 2641.4L1481.7 2642.7L1484.3 2642.9L1486.8 2641.6L1489.3 2641.6L1491.8 2642.0L1494.3 2643.9L1496.9 2642.8L1499.4 2643.6L1501.9 2643.3L1504.4 2643.7L1506.9 2645.1L1509.5 2646.0L1512.0 2646.0L1514.5 2646.4L1517.0 2647.0L1519.5 2647.7L1522.0 2647.4L1524.6 2648.7L1527.1 2649.8L1529.6 2649.0L1532.1 2650.7L1534.6 2651.3L1537.2 2650.7L1539.7 2653.1L1542.2 2653.2L1544.7 2652.7L1547.2 2653.9L1549.8 2654.9L1552.3 2656.4L1554.8 2657.6L1557.3 2657.4L1559.8 2659.0L1562.3 2659.9L1564.9 2659.7L1567.4 2660.5L1569.9 2661.4L1572.4 2662.1L1574.9 2663.0L1577.5 2664.6L1580.0 2664.9L1582.5 2666.5L1585.0 2667.8L1587.5 2667.3L1590.1 2668.9L1592.6 2669.8L1595.1 2671.0L1597.6 2671.1L1600.1 2673.2L1602.6 2674.1L1605.2 2675.0L1607.7 2676.7L1610.2 2678.5L1612.7 2679.1L1615.2 2680.0L1617.8 2682.2L1620.3 2682.6L1622.8 2682.9L1625.3 2685.4L1627.8 2686.2L1630.4 2687.5L1632.9 2688.2L1635.4 2691.1L1637.9 2692.3L1640.4 2692.6L1642.9 2693.8L1645.5 2696.3L1648.0 2696.7L1650.5 2699.6L1653.0 2700.6L1655.5 2702.3L1658.1 2702.2L1660.6 2705.4L1663.1 2705.7L1665.6 2707.8L1668.1 2708.2L1670.7 2710.3L1673.2 2711.5L1675.7 2712.7L1678.2 2714.3L1680.7 2716.1L1683.2 2718.2L1685.8 2719.8L1688.3 2720.8L1690.8 2722.4L1693.3 2723.4L1695.8 2726.2L1698.4 2726.6L1700.9 2729.2L1703.4 2730.9L1705.9 2731.7L1708.4 2732.6L1711.0 2734.1L1713.5 2735.4L1716.0 2738.3L1718.5 2739.2L1721.0 2740.2L1723.5 2742.6L1726.1 2743.7L1728.6 2744.2L1731.1 2745.5L1733.6 2746.5L1736.1 2749.2L1738.7 2750.9L1741.2 2752.1L1743.7 2752.9L1746.2 2753.6L1748.7 2755.3L1751.2 2756.5L1753.8 2758.6L1756.3 2758.2L1758.8 2760.9L1761.3 2761.2L1763.8 2761.7L1766.4 2762.8L1768.9 2765.0L1771.4 2766.1L1773.9 2767.7L1776.4 2769.1L1779.0 2768.7L1781.5 2770.0L1784.0 2770.4L1786.5 2772.2L1789.0 2773.7L1791.5 2773.6L1794.1 2774.2L1796.6 2776.5L1799.1 2776.8L1801.6 2777.3L1804.1 2778.7L1806.7 2779.1L1809.2 2780.8L1811.7 2781.0L1814.2 2782.6L1816.7 2782.1L1819.3 2783.4L1821.8 2784.2L1824.3 2784.4L1826.8 2786.7L1829.3 2786.5L1831.8 2786.9L1834.4 2788.6L1836.9 2788.0L1839.4 2790.3L1841.9 2789.6L1844.4 2790.0L1847.0 2791.9L1849.5 2791.4L1852.0 2792.5L1854.5 2792.9L1857.0 2794.6L1859.6 2793.8L1862.1 2794.7L1864.6 2796.1L1867.1 2796.3L1869.6 2796.3L1872.1 2797.3L1874.7 2796.4L1877.2 2798.5L1879.7 2798.3L1882.2 2797.7L1884.7 2800.0L1887.3 2799.1L1889.8 2799.2L1892.3 2799.5L1894.8 2800.0L1897.3 2802.0L1899.9 2801.5L1902.4 2802.5L1904.9 2802.9L1907.4 2803.3L1909.9 2802.8L1912.4 2802.4L1915.0 2803.9L1917.5 2803.6L1920.0 2803.8L1922.5 2804.3L1925.0 2804.7L1927.6 2805.3L1930.1 2804.4L1932.6 2804.7L1935.1 2805.2L1937.6 2805.2L1940.2 2805.1L1942.7 2805.5L1945.2 2805.2L1947.7 2805.8L1950.2 2807.0L1952.7 2806.4L1955.3 2806.8L1957.8 2807.2L1960.3 2807.6L1962.8 2806.6L1965.3 2808.3L1967.9 2808.4L1970.4 2806.7L1972.9 2808.5L1975.4 2807.0L1977.9 2807.1L1980.5 2809.0L1983.0 2808.0L1985.5 2808.0L1988.0 2808.6L1990.5 2808.4L1993.0 2807.6L1995.6 2808.7L1998.1 2808.1L2000.6 2807.9L2003.1 2809.4L2005.6 2808.1L2008.2 2809.5L2010.7 2808.3L2013.2 2808.2L2015.7 2809.3L2018.2 2807.8L2020.8 2808.9L2023.3 2808.3L2025.8 2808.6L2028.3 2809.7L2030.8 2808.0L2033.3 2809.7L2035.9 2809.7L2038.4 2808.0L2040.9 2808.3L2043.4 2807.7L2045.9 2809.6L2048.5 2807.7L2051.0 2808.1L2053.5 2808.1L2056.0 2809.1L2058.5 2807.9L2061.1 2809.1L2063.6 2808.7L2066.1 2809.2L2068.6 2809.3L2071.1 2807.6L2073.6 2808.3L2076.2 2808.2L2078.7 2808.8L2081.2 2807.9L2083.7 2807.9L2086.2 2808.8L2088.8 2808.3L2091.3 2809.1L2093.8 2808.2L2096.3 2809.0L2098.8 2808.8L2101.4 2807.4L2103.9 2808.1L2106.4 2808.8L2108.9 2807.3L2111.4 2808.7L2113.9 2807.4L2116.5 2807.2L2119.0 2808.7L2121.5 2808.1L2124.0 2807.0L2126.5 2807.1L2129.1 2808.5L2131.6 2808.6L2134.1 2807.3L2136.6 2808.9L2139.1 2808.7L2141.7 2809.0L2144.2 2809.0L2146.7 2807.1L2149.2 2809.1L2151.7 2808.7L2154.2 2807.9L2156.8 2807.9L2159.3 2808.5L2161.8 2808.9"/>
<path stroke="#00b870" d="M398.7 2182.1L401.2 2162.4L403.7 2141.9L406.3 2129.4L408.8 2116.8L411.3 2124.9L413.8 2136.9L416.3 2149.0L418.8 2162.0L421.4 2173.9L423.9 2186.3L426.4 2198.6L428.9 2210.9L431.4 2223.7L434.0 2235.8L436.5 2248.3L439.0 2260.5L441.5 2272.9L444.0 2285.8L446.6 2297.7L449.1 2309.9L451.6 2322.1L454.1 2334.9L456.6 2347.4L459.1 2359.9L461.7 2373.5L464.2 2390.1L466.7 2406.7L469.2 2421.3L471.7 2435.4L474.3 2449.7L476.8 2462.3L479.3 2475.0L481.8 2486.1L484.3 2496.7L486.9 2506.8L489.4 2515.5L491.9 2524.8L494.4 2533.7L496.9 2541.7L499.4 2549.3L502.0 2557.4L504.5 2565.6L507.0 2574.0L509.5 2581.5L512.0 2588.9L514.6 2595.3L517.1 2600.2L519.6 2604.6L522.1 2609.6L524.6 2613.4L527.2 2617.0L529.7 2620.9L532.2 2623.2L534.7 2626.0L537.2 2628.3L539.7 2630.4L542.3 2631.1L544.8 2633.1L547.3 2633.9L549.8 2635.1L552.3 2636.6L554.9 2638.0L557.4 2638.5L559.9 2639.7L562.4 2640.8L564.9 2641.8L567.5 2643.0L570.0 2644.0L572.5 2645.4L575.0 2646.7L577.5 2648.1L580.0 2649.5L582.6 2650.2L585.1 2651.5L587.6 2653.2L590.1 2654.2L592.6 2655.5L595.2 2657.6L597.7 2659.0L600.2 2660.4L602.7 2661.3L605.2 2663.2L607.8 2664.7L610.3 2666.0L612.8 2667.5L615.3 2668.9L617.8 2671.0L620.3 2672.7L622.9 2673.7L625.4 2676.2L627.9 2677.8L630.4 2679.1L632.9 2680.8L635.5 2682.0L638.0 2683.9L640.5 2684.8L643.0 2686.5L645.5 2688.0L648.1 2689.0L650.6 2690.6L653.1 2691.7L655.6 2692.9L658.1 2693.6L660.6 2694.8L663.2 2696.8L665.7 2697.7L668.2 2698.6L670.7 2699.5L673.2 2701.4L675.8 2702.5L678.3 2703.9L680.8 2704.9L683.3 2706.3L685.8 2707.1L688.4 2708.4L690.9 2709.3L693.4 2711.0L695.9 2712.5L698.4 2713.0L700.9 2714.5L703.5 2716.0L706.0 2716.9L708.5 2718.3L711.0 2719.7L713.5 2720.5L716.1 2721.9L718.6 2722.6L721.1 2723.8L723.6 2725.3L726.1 2726.9L728.7 2727.4L731.2 2729.1L733.7 2730.2L736.2 2731.1L738.7 2731.9L741.2 2733.1L743.8 2733.7L746.3 2735.2L748.8 2735.6L751.3 2737.1L753.8 2737.5L756.4 2738.7L758.9 2739.9L761.4 2740.8L763.9 2741.0L766.4 2742.1L769.0 2743.4L771.5 2743.8L774.0 2744.7L776.5 2746.0L779.0 2746.6L781.5 2747.1L784.1 2747.9L786.6 2748.7L789.1 2749.8L791.6 2750.8L794.1 2751.4L796.7 2751.9L799.2 2753.2L801.7 2754.0L804.2 2754.1L806.7 2755.6L809.3 2755.8L811.8 2756.2L814.3 2756.9L816.8 2757.2L819.3 2758.2L821.8 2758.7L824.4 2758.8L826.9 2760.0L829.4 2760.7L831.9 2760.6L834.4 2761.7L837.0 2761.6L839.5 2762.1L842.0 2762.0L844.5 2763.2L847.0 2763.3L849.5 2763.2L852.1 2763.6L854.6 2764.2L857.1 2764.0L859.6 2764.1L862.1 2764.2L864.7 2764.3L867.2 2765.2L869.7 2764.9L872.2 2765.1L874.7 2765.2L877.3 2765.9L879.8 2765.5L882.3 2765.8L884.8 2766.4L887.3 2766.0L889.8 2766.0L892.4 2766.0L894.9 2766.9L897.4 2775.0L899.9 2775.8L902.4 2775.1L905.0 2774.6L907.5 2775.4L910.0 2774.9L912.5 2775.8L915.0 2775.8L917.6 2775.7L920.1 2773.9L922.6 2774.2L925.1 2774.8L927.6 2775.5L930.1 2773.6L932.7 2775.0L935.2 2773.4L937.7 2774.3L940.2 2773.9L942.7 2774.2L945.3 2773.0L947.8 2774.4L950.3 2773.5L952.8 2773.7L955.3 2772.5L957.9 2772.5L960.4 2771.8L962.9 2772.3L965.4 2772.8L967.9 2772.8L970.4 2772.5L973.0 2771.5L975.5 2771.7L978.0 2770.3L980.5 2770.8L983.0 2770.3L985.6 2770.0L988.1 2769.9L990.6 2769.3L993.1 2768.8L995.6 2767.7L998.2 2767.4L1000.7 2768.0L1003.2 2767.4L1005.7 2767.5L1008.2 2766.3L1010.7 2765.3L1013.3 2764.8L1015.8 2765.1L1018.3 2764.3L1020.8 2763.7L1023.3 2763.1L1025.9 2763.6L1028.4 2762.2L1030.9 2763.3L1033.4 2761.2L1035.9 2760.6L1038.5 2761.4L1041.0 2761.5L1043.5 2760.4L1046.0 2759.5L1048.5 2759.1L1051.0 2759.5L1053.6 2757.7L1056.1 2758.0L1058.6 2757.9L1061.1 2756.7L1063.6 2756.5L1066.2 2756.8L1068.7 2755.2L1071.2 2755.0L1073.7 2754.4L1076.2 2754.0L1078.8 2754.5L1081.3 2752.9L1083.8 2752.1L1086.3 2753.0L1088.8 2752.1L1091.3 2751.3L1093.9 2749.7L1096.4 2750.3L1098.9 2749.4L1101.4 2748.5L1103.9 2748.9L1106.5 2749.3L1109.0 2748.4L1111.5 2748.1L1114.0 2747.0L1116.5 2745.4L1119.1 2746.3L1121.6 2746.0L1124.1 2744.3L1126.6 2745.3L1129.1 2743.4L1131.6 2743.8L1134.2 2744.0L1136.7 2743.4L1139.2 2741.7L1141.7 2741.6L1144.2 2740.9L1146.8 2740.7L1149.3 2740.1L1151.8 2739.8L1154.3 2740.0L1156.8 2740.2L1159.4 2739.3L1161.9 2738.6L1164.4 2739.0L1166.9 2737.7L1169.4 2737.6L1171.9 2736.0L1174.5 2735.7L1177.0 2735.5L1179.5 2734.8L1182.0 2734.5L1184.5 2735.6L1187.1 2734.1L1189.6 2734.7L1192.1 2732.8L1194.6 2733.6L1197.1 2732.1L1199.7 2732.7L1202.2 2732.7L1204.7 2732.2L1207.2 2730.7L1209.7 2731.6L1212.2 2731.4L1214.8 2729.7L1217.3 2730.1L1219.8 2729.9L1222.3 2728.7L1224.8 2728.6L1227.4 2728.3L1229.9 2729.2L1232.4 2728.4L1234.9 2727.7L1237.4 2728.1L1240.0 2727.7L1242.5 2727.0L1245.0 2726.3L1247.5 2725.9L1250.0 2724.8L1252.5 2724.6L1255.1 2724.5L1257.6 2724.5L1260.1 2724.2L1262.6 2724.6L1265.1 2723.5L1267.7 2723.1L1270.2 2722.7L1272.7 2723.2L1275.2 2723.5L1277.7 2723.2L1280.2 2721.7L1282.8 2721.6L1285.3 2720.9L1287.8 2721.9L1290.3 2720.1L1292.8 2720.4L1295.4 2721.1L1297.9 2719.1L1300.4 2720.2L1302.9 2720.0L1305.4 2719.7L1308.0 2719.0L1310.5 2719.5L1313.0 2718.8L1315.5 2719.2L1318.0 2718.0L1320.5 2717.8L1323.1 2717.0L1325.6 2716.7L1328.1 2717.8L1330.6 2717.7L1333.1 2716.2L1335.7 2716.6L1338.2 2716.6L1340.7 2717.1L1343.2 2716.5L1345.7 2715.4L1348.3 2716.4L1350.8 2715.1L1353.3 2714.3L1355.8 2714.9L1358.3 2714.2L1360.8 2714.6L1363.4 2713.8L1365.9 2714.3L1368.4 2714.8L1370.9 2714.0L1373.4 2714.0L1376.0 2714.0L1378.5 2712.6L1381.0 2713.0L1383.5 2712.0L1386.0 2712.2L1388.6 2712.3L1391.1 2712.0L1393.6 2711.7L1396.1 2712.1L1398.6 2711.4L1401.1 2712.0L1403.7 2711.4L1406.2 2710.6L1408.7 2711.1L1411.2 2709.2L1413.7 2710.0L1416.3 2708.5L1418.8 2710.1L1421.3 2708.4L1423.8 2708.1L1426.3 2709.5L1428.9 2708.3L1431.4 2708.3L1433.9 2708.7L1436.4 2707.5L1438.9 2707.3L1441.4 2706.8L1444.0 2707.4L1446.5 2706.4L1449.0 2706.2L1451.5 2706.0L1454.0 2706.2L1456.6 2706.4L1459.1 2705.7L1461.6 2706.5L1464.1 2706.5L1466.6 2706.4L1469.2 2707.4L1471.7 2705.9L1474.2 2705.9L1476.7 2706.7L1479.2 2707.6L1481.7 2707.1L1484.3 2707.1L1486.8 2708.2L1489.3 2708.3L1491.8 2706.9L1494.3 2708.2L1496.9 2707.5L1499.4 2708.1L1501.9 2708.2L1504.4 2708.4L1506.9 2709.8L1509.5 2709.5L1512.0 2709.7L1514.5 2709.8L1517.0 2711.5L1519.5 2711.3L1522.0 2711.3L1524.6 2713.1L1527.1 2711.9L1529.6 2712.7L1532.1 2714.0L1534.6 2713.8L1537.2 2715.0L1539.7 2714.9L1542.2 2715.5L1544.7 2716.1L1547.2 2716.1L1549.8 2717.0L1552.3 2715.6L1554.8 2715.9L1557.3 2718.0L1559.8 2718.4L1562.3 2717.2L1564.9 2717.7L1567.4 2718.1L1569.9 2719.1L1572.4 2719.9L1574.9 2720.7L1577.5 2719.9L1580.0 2721.8L1582.5 2721.1L1585.0 2722.4L1587.5 2722.9L1590.1 2722.9L1592.6 2723.4L1595.1 2724.0L1597.6 2726.0L1600.1 2726.6L1602.6 2726.8L1605.2 2727.4L1607.7 2728.5L1610.2 2729.4L1612.7 2729.7L1615.2 2730.0L1617.8 2730.8L1620.3 2733.4L1622.8 2732.5L1625.3 2734.0L1627.8 2734.6L1630.4 2734.8L1632.9 2737.1L1635.4 2738.1L1637.9 2737.4L1640.4 2738.1L1642.9 2740.0L1645.5 2740.2L1648.0 2742.1L1650.5 2742.9L1653.0 2742.0L1655.5 2743.6L1658.1 2743.8L1660.6 2744.8L1663.1 2746.8L1665.6 2747.6L1668.1 2748.0L1670.7 2747.7L1673.2 2749.3L1675.7 2749.8L1678.2 2750.8L1680.7 2751.7L1683.2 2752.5L1685.8 2752.9L1688.3 2754.8L1690.8 2755.3L1693.3 2756.1L1695.8 2756.9L1698.4 2758.1L1700.9 2758.7L1703.4 2759.0L1705.9 2759.3L1708.4 2760.8L1711.0 2760.3L1713.5 2761.9L1716.0 2762.3L1718.5 2762.4L1721.0 2764.8L1723.5 2765.2L1726.1 2764.9L1728.6 2765.4L1731.1 2765.9L1733.6 2766.7L1736.1 2768.8L1738.7 2768.8L1741.2 2770.5L1743.7 2771.4L1746.2 2770.4L1748.7 2771.5L1751.2 2772.4L1753.8 2772.9L1756.3 2773.2L1758.8 2774.3L1761.3 2775.1L1763.8 2775.6L1766.4 2777.4L1768.9 2776.9L1771.4 2776.9L1773.9 2779.2L1776.4 2778.0L1779.0 2779.1L1781.5 2779.3L1784.0 2781.3L1786.5 2781.4L1789.0 2782.0L1791.5 2782.0L1794.1 2782.5L1796.6 2784.5L1799.1 2783.1L1801.6 2785.6L1804.1 2785.5L1806.7 2784.8L1809.2 2786.1L1811.7 2786.6L1814.2 2787.2L1816.7 2787.4L1819.3 2788.7L1821.8 2788.5L1824.3 2789.0L1826.8 2788.7L1829.3 2790.0L1831.8 2790.9L1834.4 2790.4L1836.9 2792.1L1839.4 2790.8L1841.9 2792.0L1844.4 2792.7L1847.0 2792.4L1849.5 2792.5L1852.0 2793.3L1854.5 2793.8L1857.0 2793.9L1859.6 2795.0L1862.1 2795.6L1864.6 2795.8L1867.1 2795.2L1869.6 2795.6L1872.1 2795.4L1874.7 2796.8L1877.2 2797.7L1879.7 2796.1L1882.2 2797.3L1884.7 2797.1L1887.3 2797.1L1889.8 2797.0L1892.3 2798.2L1894.8 2799.4L1897.3 2799.7L1899.9 2798.7L1902.4 2799.0L1904.9 2798.9L1907.4 2800.4L1909.9 2800.4L1912.4 2798.9L1915.0 2799.1L1917.5 2799.7L1920.0 2799.5L1922.5 2800.2L1925.0 2799.9L1927.6 2799.7L1930.1 2800.3L1932.6 2800.2L1935.1 2801.6L1937.6 2801.1L1940.2 2801.8L1942.7 2800.3L1945.2 2801.0L1947.7 2801.4L1950.2 2801.2L1952.7 2801.7L1955.3 2800.9L1957.8 2802.2L1960.3 2802.7L1962.8 2802.7L1965.3 2801.7L1967.9 2802.8L1970.4 2802.4L1972.9 2802.8L1975.4 2801.9L1977.9 2802.7L1980.5 2803.1L1983.0 2801.1L1985.5 2801.9L1988.0 2802.5L1990.5 2801.7L1993.0 2801.2L1995.6 2801.4L1998.1 2801.7L2000.6 2802.1L2003.1 2802.6L2005.6 2802.1L2008.2 2801.8L2010.7 2802.3L2013.2 2802.8L2015.7 2801.3L2018.2 2802.5L2020.8 2801.3L2023.3 2802.0L2025.8 2803.0L2028.3 2802.2L2030.8 2802.8L2033.3 2802.5L2035.9 2801.1L2038.4 2802.1L2040.9 2802.9L2043.4 2802.6L2045.9 2801.9L2048.5 2802.6L2051.0 2801.3L2053.5 2801.1L2056.0 2801.2L2058.5 2802.2L2061.1 2800.9L2063.6 2801.0L2066.1 2801.7L2068.6 2800.8L2071.1 2802.7L2073.6 2802.3L2076.2 2801.1L2078.7 2802.6L2081.2 2802.0L2083.7 2800.8L2086.2 2802.5L2088.8 2802.0L2091.3 2800.7L2093.8 2800.6L2096.3 2801.2L2098.8 2801.0L2101.4 2801.6L2103.9 2800.8L2106.4 2800.6L2108.9 2802.0L2111.4 2802.1L2113.9 2801.1L2116.5 2801.1L2119.0 2801.4L2121.5 2802.5L2124.0 2800.9L2126.5 2801.5L2129.1 2802.0L2131.6 2800.9L2134.1 2802.2L2136.6 2801.5L2139.1 2802.9L2141.7 2802.0L2144.2 2801.5L2146.7 2802.6L2149.2 2802.0L2151.7 2802.5L2154.2 2802.7L2156.8 2802.8L2159.3 2801.9L2161.8 2803.3"/>
<path stroke="#c078e0" d="M398.7 2153.8L401.2 2134.0L403.7 2113.5L406.3 2100.9L408.8 2088.7L411.3 2095.3L413.8 2106.8L416.3 2117.8L418.8 2129.2L421.4 2140.2L423.9 2151.6L426.4 2162.8L428.9 2173.4L431.4 2184.8L434.0 2196.4L436.5 2215.0L439.0 2233.5L441.5 2252.8L444.0 2271.1L446.6 2290.4L449.1 2309.1L451.6 2328.3L454.1 2347.4L456.6 2366.3L459.1 2385.0L461.7 2402.2L464.2 2419.2L466.7 2433.3L469.2 2447.9L471.7 2460.3L474.3 2472.6L476.8 2484.2L479.3 2494.9L481.8 2505.5L484.3 2514.4L486.9 2523.6L489.4 2532.6L491.9 2541.1L494.4 2549.6L496.9 2556.6L499.4 2564.6L502.0 2572.5L504.5 2579.7L507.0 2587.1L509.5 2594.9L512.0 2601.4L514.6 2608.0L517.1 2612.6L519.6 2617.4L522.1 2621.3L524.6 2624.7L527.2 2627.9L529.7 2631.0L532.2 2634.3L534.7 2636.6L537.2 2638.0L539.7 2640.0L542.3 2641.5L544.8 2642.8L547.3 2644.3L549.8 2645.8L552.3 2647.4L554.9 2647.9L557.4 2649.0L559.9 2649.9L562.4 2651.2L564.9 2652.0L567.5 2653.5L570.0 2654.5L572.5 2655.5L575.0 2657.7L577.5 2658.8L580.0 2660.1L582.6 2661.3L585.1 2661.8L587.6 2663.1L590.1 2664.6L592.6 2665.9L595.2 2666.9L597.7 2668.3L600.2 2669.9L602.7 2671.6L605.2 2672.6L607.8 2674.4L610.3 2675.9L612.8 2676.6L615.3 2678.9L617.8 2680.6L620.3 2681.8L622.9 2683.4L625.4 2685.4L627.9 2686.5L630.4 2688.1L632.9 2690.5L635.5 2691.3L638.0 2692.9L640.5 2694.6L643.0 2696.3L645.5 2697.3L648.1 2698.6L650.6 2700.2L653.1 2701.5L655.6 2702.7L658.1 2703.7L660.6 2705.3L663.2 2706.5L665.7 2707.7L668.2 2709.0L670.7 2710.0L673.2 2711.2L675.8 2712.6L678.3 2714.3L680.8 2714.9L683.3 2716.2L685.8 2718.3L688.4 2718.9L690.9 2720.6L693.4 2722.0L695.9 2723.2L698.4 2724.5L700.9 2726.0L703.5 2726.9L706.0 2728.3L708.5 2729.9L711.0 2730.6L713.5 2732.2L716.1 2732.9L718.6 2734.9L721.1 2736.2L723.6 2736.8L726.1 2737.7L728.7 2739.5L731.2 2740.9L733.7 2741.4L736.2 2742.6L738.7 2743.5L741.2 2745.0L743.8 2745.7L746.3 2747.1L748.8 2747.5L751.3 2749.1L753.8 2749.2L756.4 2750.1L758.9 2751.1L761.4 2752.3L763.9 2753.0L766.4 2753.8L769.0 2755.1L771.5 2755.2L774.0 2756.0L776.5 2756.9L779.0 2757.6L781.5 2758.8L784.1 2759.6L786.6 2760.4L789.1 2760.6L791.6 2761.5L794.1 2762.7L796.7 2763.0L799.2 2763.8L801.7 2764.2L804.2 2765.6L806.7 2765.9L809.3 2766.5L811.8 2767.2L814.3 2767.4L816.8 2767.7L819.3 2768.3L821.8 2768.8L824.4 2769.8L826.9 2769.6L829.4 2770.7L831.9 2770.5L834.4 2771.2L837.0 2771.2L839.5 2771.7L842.0 2771.9L844.5 2772.1L847.0 2772.6L849.5 2773.1L852.1 2773.4L854.6 2773.7L857.1 2773.7L859.6 2774.0L862.1 2773.5L864.7 2774.3L867.2 2774.3L869.7 2774.5L872.2 2774.1L874.7 2774.2L877.3 2774.7L879.8 2774.6L882.3 2775.2L884.8 2775.3L887.3 2775.2L889.8 2775.7L892.4 2775.4L894.9 2775.2L897.4 2779.5L899.9 2779.2L902.4 2779.6L905.0 2780.9L907.5 2779.8L910.0 2779.9L912.5 2779.4L915.0 2780.6L917.6 2780.4L920.1 2780.1L922.6 2779.8L925.1 2779.5L927.6 2780.2L930.1 2778.9L932.7 2780.4L935.2 2780.1L937.7 2780.3L940.2 2779.1L942.7 2780.3L945.3 2778.4L947.8 2780.3L950.3 2780.2L952.8 2778.8L955.3 2780.2L957.9 2779.0L960.4 2780.0L962.9 2778.8L965.4 2778.7L967.9 2779.4L970.4 2779.4L973.0 2779.6L975.5 2779.8L978.0 2778.9L980.5 2779.1L983.0 2778.5L985.6 2778.5L988.1 2778.7L990.6 2779.5L993.1 2779.3L995.6 2779.2L998.2 2778.8L1000.7 2778.1L1003.2 2778.5L1005.7 2777.3L1008.2 2779.1L1010.7 2777.4L1013.3 2777.1L1015.8 2778.5L1018.3 2777.9L1020.8 2777.7L1023.3 2778.7L1025.9 2777.6L1028.4 2777.6L1030.9 2777.2L1033.4 2777.7L1035.9 2778.3L1038.5 2777.3L1041.0 2777.4L1043.5 2777.3L1046.0 2777.5L1048.5 2776.8L1051.0 2778.2L1053.6 2776.5L1056.1 2777.3L1058.6 2777.8L1061.1 2777.1L1063.6 2777.0L1066.2 2776.9L1068.7 2777.1L1071.2 2776.6L1073.7 2777.4L1076.2 2776.3L1078.8 2776.6L1081.3 2775.4L1083.8 2776.7L1086.3 2776.8L1088.8 2776.1L1091.3 2775.9L1093.9 2775.2L1096.4 2775.1L1098.9 2775.6L1101.4 2775.7L1103.9 2774.8L1106.5 2775.5L1109.0 2775.2L1111.5 2776.2L1114.0 2775.5L1116.5 2775.1L1119.1 2774.2L1121.6 2775.9L1124.1 2775.8L1126.6 2774.1L1129.1 2775.6L1131.6 2775.2L1134.2 2774.2L1136.7 2775.5L1139.2 2774.1L1141.7 2774.5L1144.2 2775.2L1146.8 2775.2L1149.3 2775.1L1151.8 2774.0L1154.3 2774.9L1156.8 2774.1L1159.4 2775.2L1161.9 2775.1L1164.4 2774.1L1166.9 2775.3L1169.4 2774.1L1171.9 2773.8L1174.5 2774.6L1177.0 2774.1L1179.5 2774.0L1182.0 2775.3L1184.5 2774.1L1187.1 2774.4L1189.6 2774.6L1192.1 2774.0L1194.6 2774.2L1197.1 2775.5L1199.7 2775.0L1202.2 2774.5L1204.7 2775.8L1207.2 2774.8L1209.7 2775.5L1212.2 2775.3L1214.8 2777.1L1217.3 2777.3L1219.8 2777.1L1222.3 2776.7L1224.8 2776.0L1227.4 2776.5L1229.9 2777.6L1232.4 2777.1L1234.9 2777.1L1237.4 2777.3L1240.0 2778.8L1242.5 2778.6L1245.0 2778.9L1247.5 2777.7L1250.0 2778.2L1252.5 2779.3L1255.1 2779.5L1257.6 2778.2L1260.1 2778.4L1262.6 2778.5L1265.1 2779.0L1267.7 2778.2L1270.2 2778.5L1272.7 2778.6L1275.2 2779.5L1277.7 2779.0L1280.2 2778.4L1282.8 2780.1L1285.3 2778.3L1287.8 2779.0L1290.3 2779.2L1292.8 2780.1L1295.4 2779.1L1297.9 2778.8L1300.4 2779.0L1302.9 2780.4L1305.4 2779.6L1308.0 2779.3L1310.5 2779.6L1313.0 2780.3L1315.5 2779.9L1318.0 2779.6L1320.5 2779.2L1323.1 2780.0L1325.6 2780.0L1328.1 2779.5L1330.6 2778.9L1333.1 2780.7L1335.7 2780.6L1338.2 2778.9L1340.7 2779.7L1343.2 2780.1L1345.7 2780.9L1348.3 2779.1L1350.8 2780.7L1353.3 2781.0L1355.8 2779.7L1358.3 2779.7L1360.8 2779.1L1363.4 2780.3L1365.9 2779.3L1368.4 2779.6L1370.9 2780.8L1373.4 2780.3L1376.0 2780.5L1378.5 2781.1L1381.0 2779.7L1383.5 2779.9L1386.0 2779.3L1388.6 2780.7L1391.1 2779.7L1393.6 2780.6L1396.1 2780.4L1398.6 2779.7L1401.1 2780.5L1403.7 2779.6L1406.2 2779.8L1408.7 2780.8L1411.2 2780.9L1413.7 2779.6L1416.3 2780.9L1418.8 2780.1L1421.3 2780.5L1423.8 2780.9L1426.3 2781.4L1428.9 2781.1L1431.4 2780.3L1433.9 2781.1L1436.4 2780.0L1438.9 2780.1L1441.4 2781.0L1444.0 2780.4L1446.5 2781.7L1449.0 2780.1L1451.5 2781.8L1454.0 2781.0L1456.6 2780.9L1459.1 2780.4L1461.6 2781.0L1464.1 2780.0L1466.6 2781.3L1469.2 2781.5L1471.7 2781.0L1474.2 2780.9L1476.7 2781.9L1479.2 2780.4L1481.7 2781.8L1484.3 2781.7L1486.8 2781.0L1489.3 2781.9L1491.8 2780.9L1494.3 2782.2L1496.9 2782.7L1499.4 2781.9L1501.9 2782.3L1504.4 2781.2L1506.9 2781.8L1509.5 2781.6L1512.0 2782.3L1514.5 2783.2L1517.0 2783.0L1519.5 2782.2L1522.0 2783.7L1524.6 2783.0L1527.1 2783.6L1529.6 2783.2L1532.1 2782.9L1534.6 2783.1L1537.2 2784.3L1539.7 2783.2L1542.2 2784.2L1544.7 2784.4L1547.2 2784.4L1549.8 2784.6L1552.3 2784.0L1554.8 2784.3L1557.3 2785.4L1559.8 2784.6L1562.3 2785.5L1564.9 2785.6L1567.4 2785.1L1569.9 2785.6L1572.4 2785.6L1574.9 2786.3L1577.5 2786.6L1580.0 2785.7L1582.5 2786.8L1585.0 2787.5L1587.5 2787.0L1590.1 2787.7L1592.6 2787.3L1595.1 2788.1L1597.6 2788.5L1600.1 2788.4L1602.6 2788.0L1605.2 2788.6L1607.7 2787.9L1610.2 2788.4L1612.7 2788.8L1615.2 2789.2L1617.8 2788.5L1620.3 2789.5L1622.8 2789.9L1625.3 2790.5L1627.8 2789.3L1630.4 2789.9L1632.9 2790.8L1635.4 2790.1L1637.9 2791.1L1640.4 2790.5L1642.9 2792.1L1645.5 2792.0L1648.0 2791.3L1650.5 2792.2L1653.0 2792.0L1655.5 2792.2L1658.1 2792.6L1660.6 2792.4L1663.1 2792.8L1665.6 2794.3L1668.1 2793.4L1670.7 2793.1L1673.2 2793.9L1675.7 2794.8L1678.2 2794.4L1680.7 2795.1L1683.2 2795.3L1685.8 2795.7L1688.3 2794.5L1690.8 2795.6L1693.3 2795.8L1695.8 2795.4L1698.4 2795.7L1700.9 2796.4L1703.4 2796.2L1705.9 2797.1L1708.4 2796.6L1711.0 2796.4L1713.5 2795.6L1716.0 2797.4L1718.5 2797.2L1721.0 2795.9L1723.5 2796.2L1726.1 2797.4L1728.6 2798.0L1731.1 2797.5L1733.6 2798.5L1736.1 2798.1L1738.7 2797.5L1741.2 2797.7L1743.7 2798.7L1746.2 2799.1L1748.7 2798.1L1751.2 2798.2L1753.8 2798.9L1756.3 2799.2L1758.8 2798.7L1761.3 2798.4L1763.8 2799.5L1766.4 2798.8L1768.9 2799.9L1771.4 2800.7L1773.9 2800.9L1776.4 2800.6L1779.0 2801.1L1781.5 2800.3L1784.0 2800.8L1786.5 2800.7L1789.0 2800.6L1791.5 2800.8L1794.1 2802.4L1796.6 2802.1L1799.1 2801.8L1801.6 2802.9L1804.1 2802.9L1806.7 2802.1L1809.2 2802.1L1811.7 2803.6L1814.2 2802.5L1816.7 2803.6L1819.3 2803.1L1821.8 2804.0L1824.3 2804.0L1826.8 2804.0L1829.3 2804.1L1831.8 2804.6L1834.4 2803.8L1836.9 2804.8L1839.4 2804.7L1841.9 2804.1L1844.4 2804.4L1847.0 2803.9L1849.5 2804.4L1852.0 2805.6L1854.5 2804.9L1857.0 2805.2L1859.6 2805.4L1862.1 2805.2L1864.6 2805.0L1867.1 2804.7L1869.6 2805.2L1872.1 2806.8L1874.7 2805.3L1877.2 2806.0L1879.7 2807.2L1882.2 2806.5L1884.7 2806.6L1887.3 2806.4L1889.8 2806.3L1892.3 2806.1L1894.8 2806.0L1897.3 2807.5L1899.9 2807.7L1902.4 2806.5L1904.9 2807.5L1907.4 2807.4L1909.9 2806.7L1912.4 2808.0L1915.0 2806.8L1917.5 2808.2L1920.0 2807.5L1922.5 2806.8L1925.0 2806.8L1927.6 2807.5L1930.1 2807.5L1932.6 2807.9L1935.1 2808.0L1937.6 2808.4L1940.2 2808.4L1942.7 2808.2L1945.2 2806.8L1947.7 2808.0L1950.2 2807.5L1952.7 2807.2L1955.3 2806.9L1957.8 2808.4L1960.3 2807.2L1962.8 2808.2L1965.3 2807.6L1967.9 2807.5L1970.4 2807.8L1972.9 2808.7L1975.4 2807.7L1977.9 2808.7L1980.5 2807.7L1983.0 2808.4L1985.5 2807.5L1988.0 2808.1L1990.5 2808.9L1993.0 2808.0L1995.6 2808.9L1998.1 2809.0L2000.6 2808.6L2003.1 2808.4L2005.6 2807.9L2008.2 2808.2L2010.7 2807.7L2013.2 2808.4L2015.7 2808.7L2018.2 2808.7L2020.8 2807.7L2023.3 2808.7L2025.8 2808.6L2028.3 2808.4L2030.8 2808.3L2033.3 2809.6L2035.9 2807.9L2038.4 2808.9L2040.9 2809.7L2043.4 2809.8L2045.9 2808.1L2048.5 2809.0L2051.0 2809.2L2053.5 2809.6L2056.0 2809.2L2058.5 2809.0L2061.1 2808.4L2063.6 2808.3L2066.1 2809.7L2068.6 2808.4L2071.1 2808.9L2073.6 2808.3L2076.2 2809.0L2078.7 2808.2L2081.2 2809.5L2083.7 2809.4L2086.2 2808.9L2088.8 2809.2L2091.3 2808.6L2093.8 2809.1L2096.3 2810.0L2098.8 2808.6L2101.4 2808.4L2103.9 2808.4L2106.4 2809.9L2108.9 2809.6L2111.4 2810.2L2113.9 2810.3L2116.5 2809.3L2119.0 2809.9L2121.5 2808.8L2124.0 2808.8L2126.5 2810.2L2129.1 2809.1L2131.6 2809.7L2134.1 2809.6L2136.6 2809.1L2139.1 2809.1L2141.7 2810.4L2144.2 2810.1L2146.7 2808.4L2149.2 2809.3L2151.7 2809.9L2154.2 2809.5L2156.8 2810.2L2159.3 2810.3L2161.8 2809.3"/>
<path stroke="#e8a000" d="M398.7 2142.5L401.2 2120.1L403.7 2096.8L406.3 2083.1L408.8 2069.2L411.3 2078.1L413.8 2092.3L416.3 2106.0L418.8 2119.8L421.4 2134.4L423.9 2148.3L426.4 2162.1L428.9 2176.7L431.4 2194.2L434.0 2218.4L436.5 2242.3L439.0 2266.1L441.5 2289.4L444.0 2313.5L446.6 2337.5L449.1 2360.6L451.6 2379.8L454.1 2396.3L456.6 2413.5L459.1 2430.7L461.7 2447.8L464.2 2463.4L466.7 2476.6L469.2 2488.4L471.7 2499.5L474.3 2509.3L476.8 2518.3L479.3 2526.9L481.8 2535.1L484.3 2543.6L486.9 2551.5L489.4 2559.2L491.9 2567.1L494.4 2574.4L496.9 2580.8L499.4 2588.1L502.0 2595.1L504.5 2601.8L507.0 2608.1L509.5 2614.6L512.0 2621.5L514.6 2627.9L517.1 2633.0L519.6 2636.5L522.1 2640.3L524.6 2643.1L527.2 2646.0L529.7 2647.8L532.2 2650.5L534.7 2652.6L537.2 2654.3L539.7 2655.5L542.3 2657.2L544.8 2658.6L547.3 2660.7L549.8 2662.2L552.3 2663.0L554.9 2664.3L557.4 2665.1L559.9 2666.3L562.4 2667.7L564.9 2669.1L567.5 2670.3L570.0 2671.3L572.5 2672.7L575.0 2674.1L577.5 2674.9L580.0 2675.9L582.6 2677.0L585.1 2678.7L587.6 2679.4L590.1 2680.3L592.6 2681.7L595.2 2683.3L597.7 2684.2L600.2 2685.0L602.7 2686.6L605.2 2687.6L607.8 2689.0L610.3 2691.0L612.8 2691.8L615.3 2693.9L617.8 2694.9L620.3 2696.9L622.9 2698.8L625.4 2699.8L627.9 2701.5L630.4 2702.8L632.9 2704.8L635.5 2706.2L638.0 2707.6L640.5 2709.6L643.0 2711.0L645.5 2712.5L648.1 2714.1L650.6 2715.3L653.1 2717.0L655.6 2718.4L658.1 2719.5L660.6 2721.1L663.2 2721.9L665.7 2723.4L668.2 2725.1L670.7 2726.7L673.2 2727.8L675.8 2728.7L678.3 2730.8L680.8 2731.6L683.3 2733.0L685.8 2734.9L688.4 2736.0L690.9 2738.2L693.4 2739.3L695.9 2740.6L698.4 2741.7L700.9 2743.5L703.5 2745.3L706.0 2746.1L708.5 2748.0L711.0 2748.8L713.5 2750.6L716.1 2751.5L718.6 2753.0L721.1 2754.3L723.6 2755.1L726.1 2756.7L728.7 2757.6L731.2 2758.8L733.7 2760.0L736.2 2761.0L738.7 2762.7L741.2 2763.2L743.8 2764.4L746.3 2765.8L748.8 2766.5L751.3 2767.6L753.8 2767.9L756.4 2769.4L758.9 2770.1L761.4 2770.7L763.9 2771.7L766.4 2772.2L769.0 2772.8L771.5 2774.3L774.0 2774.4L776.5 2775.8L779.0 2775.7L781.5 2776.7L784.1 2777.1L786.6 2777.7L789.1 2778.7L791.6 2779.5L794.1 2779.6L796.7 2780.8L799.2 2781.0L801.7 2781.4L804.2 2782.3L806.7 2783.0L809.3 2783.3L811.8 2783.1L814.3 2783.8L816.8 2784.3L819.3 2785.0L821.8 2784.6L824.4 2785.5L826.9 2785.4L829.4 2786.3L831.9 2786.2L834.4 2786.2L837.0 2786.8L839.5 2787.3L842.0 2787.7L844.5 2787.5L847.0 2788.0L849.5 2788.0L852.1 2788.3L854.6 2788.6L857.1 2788.2L859.6 2788.6L862.1 2788.2L864.7 2789.0L867.2 2788.6L869.7 2788.5L872.2 2788.7L874.7 2788.8L877.3 2789.5L879.8 2789.5L882.3 2789.6L884.8 2789.2L887.3 2789.2L889.8 2789.9L892.4 2789.6L894.9 2790.0L897.4 2794.5L899.9 2794.4L902.4 2795.0L905.0 2794.7L907.5 2794.3L910.0 2793.5L912.5 2793.5L915.0 2794.6L917.6 2795.1L920.1 2793.6L922.6 2793.5L925.1 2794.3L927.6 2794.6L930.1 2793.5L932.7 2793.3L935.2 2793.4L937.7 2794.1L940.2 2792.7L942.7 2794.5L945.3 2794.3L947.8 2794.3L950.3 2792.6L952.8 2792.6L955.3 2793.1L957.9 2792.9L960.4 2792.6L962.9 2792.0L965.4 2793.0L967.9 2792.4L970.4 2792.4L973.0 2791.7L975.5 2792.8L978.0 2791.8L980.5 2792.4L983.0 2792.4L985.6 2791.5L988.1 2792.7L990.6 2791.6L993.1 2792.6L995.6 2790.9L998.2 2791.1L1000.7 2792.4L1003.2 2792.0L1005.7 2791.2L1008.2 2790.5L1010.7 2790.1L1013.3 2790.9L1015.8 2790.3L1018.3 2791.1L1020.8 2790.8L1023.3 2789.5L1025.9 2790.3L1028.4 2790.7L1030.9 2789.2L1033.4 2790.3L1035.9 2788.6L1038.5 2790.3L1041.0 2788.8L1043.5 2788.9L1046.0 2789.0L1048.5 2788.6L1051.0 2787.5L1053.6 2787.9L1056.1 2787.6L1058.6 2788.1L1061.1 2788.1L1063.6 2787.8L1066.2 2786.7L1068.7 2786.5L1071.2 2787.3L1073.7 2785.7L1076.2 2786.3L1078.8 2786.9L1081.3 2786.2L1083.8 2784.9L1086.3 2784.9L1088.8 2785.0L1091.3 2785.8L1093.9 2784.8L1096.4 2785.5L1098.9 2785.5L1101.4 2784.6L1103.9 2784.7L1106.5 2784.4L1109.0 2785.7L1111.5 2784.4L1114.0 2785.3L1116.5 2785.1L1119.1 2784.6L1121.6 2784.8L1124.1 2785.7L1126.6 2785.9L1129.1 2785.9L1131.6 2786.3L1134.2 2785.8L1136.7 2785.5L1139.2 2785.4L1141.7 2785.8L1144.2 2784.8L1146.8 2786.2L1149.3 2786.0L1151.8 2785.5L1154.3 2786.7L1156.8 2785.4L1159.4 2785.3L1161.9 2786.1L1164.4 2785.3L1166.9 2786.6L1169.4 2785.7L1171.9 2787.4L1174.5 2786.3L1177.0 2787.4L1179.5 2786.5L1182.0 2786.7L1184.5 2787.0L1187.1 2788.1L1189.6 2787.6L1192.1 2787.1L1194.6 2787.5L1197.1 2788.5L1199.7 2788.4L1202.2 2789.0L1204.7 2788.7L1207.2 2789.5L1209.7 2789.8L1212.2 2789.4L1214.8 2788.9L1217.3 2790.5L1219.8 2790.0L1222.3 2789.6L1224.8 2790.4L1227.4 2791.0L1229.9 2790.6L1232.4 2792.3L1234.9 2791.1L1237.4 2791.8L1240.0 2792.4L1242.5 2791.5L1245.0 2792.7L1247.5 2792.6L1250.0 2792.9L1252.5 2793.3L1255.1 2794.2L1257.6 2794.3L1260.1 2793.5L1262.6 2793.2L1265.1 2793.6L1267.7 2793.9L1270.2 2793.8L1272.7 2795.4L1275.2 2793.9L1277.7 2795.2L1280.2 2795.6L1282.8 2795.7L1285.3 2795.9L1287.8 2795.7L1290.3 2795.6L1292.8 2795.6L1295.4 2796.9L1297.9 2796.0L1300.4 2795.8L1302.9 2797.4L1305.4 2796.5L1308.0 2798.0L1310.5 2798.1L1313.0 2797.7L1315.5 2797.6L1318.0 2797.6L1320.5 2798.8L1323.1 2798.0L1325.6 2799.3L1328.1 2799.0L1330.6 2799.6L1333.1 2799.7L1335.7 2798.7L1338.2 2798.2L1340.7 2798.6L1343.2 2798.6L1345.7 2799.1L1348.3 2800.7L1350.8 2801.0L1353.3 2799.6L1355.8 2799.5L1358.3 2801.0L1360.8 2801.0L1363.4 2801.4L1365.9 2801.5L1368.4 2800.8L1370.9 2800.9L1373.4 2801.1L1376.0 2800.8L1378.5 2802.2L1381.0 2800.9L1383.5 2801.3L1386.0 2800.9L1388.6 2801.0L1391.1 2802.2L1393.6 2802.9L1396.1 2802.4L1398.6 2802.8L1401.1 2802.9L1403.7 2801.9L1406.2 2803.5L1408.7 2802.0L1411.2 2803.2L1413.7 2803.2L1416.3 2802.9L1418.8 2802.6L1421.3 2803.0L1423.8 2802.6L1426.3 2803.0L1428.9 2804.4L1431.4 2802.7L1433.9 2804.5L1436.4 2803.3L1438.9 2803.8L1441.4 2804.0L1444.0 2803.2L1446.5 2803.0L1449.0 2803.1L1451.5 2804.6L1454.0 2803.7L1456.6 2804.9L1459.1 2803.4L1461.6 2804.4L1464.1 2803.9L1466.6 2805.1L1469.2 2804.9L1471.7 2805.0L1474.2 2804.4L1476.7 2805.1L1479.2 2805.5L1481.7 2803.9L1484.3 2804.8L1486.8 2804.6L1489.3 2805.9L1491.8 2805.6L1494.3 2806.0L1496.9 2806.1L1499.4 2805.1L1501.9 2805.7L1504.4 2806.3L1506.9 2805.9L1509.5 2805.5L1512.0 2805.8L1514.5 2805.1L1517.0 2806.4L1519.5 2805.9L1522.0 2805.4L1524.6 2805.7L1527.1 2805.0L1529.6 2806.1L1532.1 2806.8L1534.6 2806.9L1537.2 2805.3L1539.7 2806.6L1542.2 2806.3L1544.7 2805.8L1547.2 2805.8L1549.8 2805.9L1552.3 2805.8L1554.8 2805.6L1557.3 2807.0L1559.8 2806.1L1562.3 2805.8L1564.9 2805.7L1567.4 2806.4L1569.9 2807.3L1572.4 2807.8L1574.9 2806.6L1577.5 2806.4L1580.0 2806.2L1582.5 2807.3L1585.0 2806.1L1587.5 2807.7L1590.1 2806.5L1592.6 2807.6L1595.1 2807.2L1597.6 2806.9L1600.1 2806.4L1602.6 2808.2L1605.2 2807.0L1607.7 2808.3L1610.2 2808.0L1612.7 2808.5L1615.2 2807.8L1617.8 2807.7L1620.3 2807.6L1622.8 2807.7L1625.3 2807.7L1627.8 2807.8L1630.4 2808.2L1632.9 2806.9L1635.4 2806.9L1637.9 2808.6L1640.4 2807.1L1642.9 2807.6L1645.5 2807.8L1648.0 2808.0L1650.5 2808.5L1653.0 2807.7L1655.5 2807.4L1658.1 2808.2L1660.6 2809.3L1663.1 2807.4L1665.6 2808.8L1668.1 2808.2L1670.7 2807.8L1673.2 2807.6L1675.7 2808.1L1678.2 2809.2L1680.7 2807.9L1683.2 2809.5L1685.8 2808.8L1688.3 2808.5L1690.8 2808.3L1693.3 2808.1L1695.8 2809.5L1698.4 2809.8L1700.9 2808.1L1703.4 2808.6L1705.9 2809.8L1708.4 2808.5L1711.0 2808.6L1713.5 2808.6L1716.0 2808.3L1718.5 2809.9L1721.0 2808.7L1723.5 2809.8L1726.1 2808.9L1728.6 2808.9L1731.1 2809.6L1733.6 2810.3L1736.1 2809.6L1738.7 2810.1L1741.2 2808.9L1743.7 2809.4L1746.2 2810.3L1748.7 2808.8L1751.2 2808.5L1753.8 2808.9L1756.3 2809.2L1758.8 2809.0L1761.3 2808.9L1763.8 2810.6L1766.4 2809.9L1768.9 2809.0L1771.4 2810.2L1773.9 2810.3L1776.4 2809.5L1779.0 2809.0L1781.5 2810.7L1784.0 2808.9L1786.5 2809.2L1789.0 2809.4L1791.5 2809.6L1794.1 2809.1L1796.6 2810.8L1799.1 2809.4L1801.6 2809.4L1804.1 2809.2L1806.7 2810.1L1809.2 2810.2L1811.7 2810.2L1814.2 2809.6L1816.7 2809.6L1819.3 2810.8L1821.8 2810.0L1824.3 2809.8L1826.8 2811.3L1829.3 2811.0L1831.8 2811.3L1834.4 2810.7L1836.9 2809.9L1839.4 2810.0L1841.9 2810.5L1844.4 2810.4L1847.0 2811.3L1849.5 2811.0L1852.0 2809.5L1854.5 2810.8L1857.0 2810.1L1859.6 2810.5L1862.1 2810.1L1864.6 2810.1L1867.1 2810.7L1869.6 2811.2L1872.1 2810.8L1874.7 2809.9L1877.2 2811.6L1879.7 2810.8L1882.2 2810.8L1884.7 2810.2L1887.3 2810.9L1889.8 2811.8L1892.3 2810.6L1894.8 2810.1L1897.3 2811.5L1899.9 2811.2L1902.4 2811.8L1904.9 2810.9L1907.4 2811.5L1909.9 2811.3L1912.4 2810.3L1915.0 2811.4L1917.5 2811.0L1920.0 2810.7L1922.5 2811.3L1925.0 2811.1L1927.6 2810.4L1930.1 2811.2L1932.6 2811.2L1935.1 2811.3L1937.6 2810.7L1940.2 2811.4L1942.7 2811.0L1945.2 2811.5L1947.7 2811.2L1950.2 2810.9L1952.7 2810.5L1955.3 2811.2L1957.8 2811.9L1960.3 2812.1L1962.8 2810.9L1965.3 2812.0L1967.9 2810.8L1970.4 2810.6L1972.9 2812.4L1975.4 2811.6L1977.9 2810.8L1980.5 2811.4L1983.0 2810.9L1985.5 2812.6L1988.0 2811.8L1990.5 2812.0L1993.0 2811.0L1995.6 2810.9L1998.1 2811.4L2000.6 2812.7L2003.1 2811.1L2005.6 2812.7L2008.2 2811.4L2010.7 2811.5L2013.2 2812.1L2015.7 2812.8L2018.2 2812.1L2020.8 2812.1L2023.3 2812.5L2025.8 2811.6L2028.3 2812.6L2030.8 2812.5L2033.3 2812.9L2035.9 2812.4L2038.4 2811.8L2040.9 2812.4L2043.4 2812.5L2045.9 2812.2L2048.5 2811.8L2051.0 2812.1L2053.5 2811.4L2056.0 2812.3L2058.5 2811.3L2061.1 2811.5L2063.6 2812.0L2066.1 2812.7L2068.6 2812.3L2071.1 2811.4L2073.6 2812.9L2076.2 2813.3L2078.7 2811.9L2081.2 2811.7L2083.7 2812.8L2086.2 2811.9L2088.8 2811.4L2091.3 2811.5L2093.8 2812.8L2096.3 2813.2L2098.8 2813.0L2101.4 2811.7L2103.9 2812.7L2106.4 2812.3L2108.9 2812.9L2111.4 2812.0L2113.9 2811.7L2116.5 2811.8L2119.0 2812.5L2121.5 2813.2L2124.0 2812.0L2126.5 2813.0L2129.1 2812.9L2131.6 2812.1L2134.1 2812.9L2136.6 2812.6L2139.1 2812.0L2141.7 2811.9L2144.2 2812.8L2146.7 2811.7L2149.2 2812.4L2151.7 2811.8L2154.2 2812.6L2156.8 2813.4L2159.3 2812.4L2161.8 2812.1"/>
<path stroke="#00d8d8" d="M398.7 2114.8L401.2 2088.2L403.7 2062.1L406.3 2045.5L408.8 2029.1L411.3 2038.6L413.8 2054.7L416.3 2069.9L418.8 2085.8L421.4 2101.6L423.9 2116.6L426.4 2132.7L428.9 2148.5L431.4 2167.2L434.0 2193.9L436.5 2220.2L439.0 2246.3L441.5 2273.2L444.0 2299.3L446.6 2326.0L449.1 2352.8L451.6 2375.1L454.1 2391.9L456.6 2409.6L459.1 2427.1L461.7 2443.7L464.2 2459.1L466.7 2473.1L469.2 2484.9L471.7 2495.6L474.3 2505.6L476.8 2515.4L479.3 2523.9L481.8 2532.7L484.3 2540.8L486.9 2548.8L489.4 2556.9L491.9 2564.9L494.4 2571.7L496.9 2579.4L499.4 2586.2L502.0 2592.4L504.5 2599.3L507.0 2606.6L509.5 2613.4L512.0 2620.1L514.6 2625.6L517.1 2630.8L519.6 2634.8L522.1 2638.8L524.6 2641.1L527.2 2644.4L529.7 2646.9L532.2 2648.8L534.7 2650.8L537.2 2652.8L539.7 2654.0L542.3 2656.0L544.8 2657.5L547.3 2658.7L549.8 2660.3L552.3 2661.4L554.9 2662.4L557.4 2664.1L559.9 2665.2L562.4 2666.3L564.9 2667.9L567.5 2668.4L570.0 2670.1L572.5 2671.3L575.0 2672.6L577.5 2674.0L580.0 2674.6L582.6 2675.6L585.1 2677.1L587.6 2678.3L590.1 2679.1L592.6 2680.2L595.2 2681.2L597.7 2682.6L600.2 2684.2L602.7 2684.8L605.2 2686.9L607.8 2687.4L610.3 2689.3L612.8 2690.8L615.3 2692.7L617.8 2693.4L620.3 2695.5L622.9 2697.4L625.4 2698.8L627.9 2700.0L630.4 2701.6L632.9 2703.3L635.5 2705.2L638.0 2707.0L640.5 2708.3L643.0 2710.0L645.5 2711.2L648.1 2712.3L650.6 2713.8L653.1 2715.0L655.6 2717.1L658.1 2717.9L660.6 2719.2L663.2 2720.8L665.7 2721.7L668.2 2723.8L670.7 2724.8L673.2 2726.3L675.8 2727.7L678.3 2728.6L680.8 2730.9L683.3 2731.7L685.8 2733.1L688.4 2735.0L690.9 2736.5L693.4 2737.3L695.9 2739.3L698.4 2740.2L700.9 2741.6L703.5 2743.5L706.0 2744.5L708.5 2745.8L711.0 2746.9L713.5 2748.2L716.1 2749.5L718.6 2751.3L721.1 2752.3L723.6 2753.7L726.1 2755.0L728.7 2756.0L731.2 2757.2L733.7 2758.7L736.2 2759.5L738.7 2760.8L741.2 2762.1L743.8 2762.6L746.3 2763.7L748.8 2764.5L751.3 2765.4L753.8 2766.7L756.4 2767.8L758.9 2768.6L761.4 2769.3L763.9 2770.0L766.4 2770.7L769.0 2771.8L771.5 2772.7L774.0 2773.1L776.5 2773.8L779.0 2774.6L781.5 2775.1L784.1 2775.5L786.6 2776.6L789.1 2776.6L791.6 2777.7L794.1 2778.0L796.7 2778.7L799.2 2779.4L801.7 2779.7L804.2 2780.7L806.7 2781.2L809.3 2781.9L811.8 2782.4L814.3 2782.1L816.8 2783.0L819.3 2783.1L821.8 2783.3L824.4 2784.3L826.9 2784.1L829.4 2784.4L831.9 2784.8L834.4 2785.3L837.0 2785.1L839.5 2785.9L842.0 2785.8L844.5 2786.5L847.0 2786.5L849.5 2786.5L852.1 2787.0L854.6 2787.2L857.1 2786.7L859.6 2787.2L862.1 2787.4L864.7 2787.5L867.2 2787.2L869.7 2787.2L872.2 2787.4L874.7 2787.2L877.3 2787.4L879.8 2787.5L882.3 2788.2L884.8 2787.9L887.3 2787.7L889.8 2788.1L892.4 2788.0L894.9 2788.7L897.4 2791.1L899.9 2792.1L902.4 2791.0L905.0 2789.6L907.5 2789.3L910.0 2789.7L912.5 2789.8L915.0 2788.9L917.6 2788.6L920.1 2789.3L922.6 2789.8L925.1 2788.1L927.6 2788.7L930.1 2789.0L932.7 2788.3L935.2 2787.9L937.7 2787.1L940.2 2787.8L942.7 2787.8L945.3 2786.8L947.8 2787.5L950.3 2786.2L952.8 2787.4L955.3 2786.9L957.9 2786.0L960.4 2786.1L962.9 2786.2L965.4 2786.5L967.9 2784.7L970.4 2786.1L973.0 2785.5L975.5 2786.0L978.0 2785.9L980.5 2785.5L983.0 2785.3L985.6 2785.5L988.1 2784.7L990.6 2783.5L993.1 2785.1L995.6 2785.0L998.2 2784.2L1000.7 2784.3L1003.2 2784.1L1005.7 2782.9L1008.2 2783.5L1010.7 2784.3L1013.3 2783.6L1015.8 2783.0L1018.3 2782.8L1020.8 2783.3L1023.3 2782.9L1025.9 2783.2L1028.4 2783.9L1030.9 2783.0L1033.4 2782.7L1035.9 2784.0L1038.5 2782.8L1041.0 2783.7L1043.5 2783.2L1046.0 2782.1L1048.5 2783.7L1051.0 2783.5L1053.6 2783.1L1056.1 2782.3L1058.6 2783.3L1061.1 2781.6L1063.6 2782.4L1066.2 2782.9L1068.7 2783.2L1071.2 2782.5L1073.7 2783.3L1076.2 2783.0L1078.8 2782.4L1081.3 2781.8L1083.8 2781.4L1086.3 2781.7L1088.8 2782.4L1091.3 2781.5L1093.9 2781.4L1096.4 2781.4L1098.9 2781.4L1101.4 2782.4L1103.9 2783.2L1106.5 2783.1L1109.0 2783.3L1111.5 2781.4L1114.0 2782.5L1116.5 2782.1L1119.1 2782.1L1121.6 2782.8L1124.1 2781.7L1126.6 2783.4L1129.1 2781.7L1131.6 2783.7L1134.2 2782.2L1136.7 2782.9L1139.2 2782.5L1141.7 2783.8L1144.2 2784.3L1146.8 2784.2L1149.3 2784.1L1151.8 2784.6L1154.3 2783.3L1156.8 2783.6L1159.4 2783.9L1161.9 2785.5L1164.4 2784.0L1166.9 2784.2L1169.4 2784.8L1171.9 2785.7L1174.5 2785.3L1177.0 2785.1L1179.5 2786.7L1182.0 2786.8L1184.5 2786.8L1187.1 2786.3L1189.6 2786.5L1192.1 2786.4L1194.6 2787.7L1197.1 2786.5L1199.7 2786.5L1202.2 2787.7L1204.7 2789.0L1207.2 2788.1L1209.7 2788.2L1212.2 2788.8L1214.8 2788.2L1217.3 2789.7L1219.8 2789.5L1222.3 2790.6L1224.8 2789.3L1227.4 2789.7L1229.9 2790.3L1232.4 2791.1L1234.9 2791.8L1237.4 2790.6L1240.0 2791.8L1242.5 2792.6L1245.0 2792.6L1247.5 2791.5L1250.0 2792.4L1252.5 2792.0L1255.1 2793.9L1257.6 2794.2L1260.1 2794.3L1262.6 2793.3L1265.1 2794.6L1267.7 2794.2L1270.2 2793.3L1272.7 2794.7L1275.2 2794.8L1277.7 2795.0L1280.2 2794.0L1282.8 2795.8L1285.3 2795.5L1287.8 2796.4L1290.3 2796.4L1292.8 2795.0L1295.4 2796.4L1297.9 2795.7L1300.4 2796.7L1302.9 2797.3L1305.4 2797.0L1308.0 2797.9L1310.5 2797.6L1313.0 2797.1L1315.5 2797.0L1318.0 2797.0L1320.5 2797.0L1323.1 2799.0L1325.6 2797.3L1328.1 2798.3L1330.6 2799.3L1333.1 2798.1L1335.7 2798.2L1338.2 2798.0L1340.7 2799.9L1343.2 2799.2L1345.7 2799.1L1348.3 2799.9L1350.8 2799.3L1353.3 2799.1L1355.8 2800.1L1358.3 2799.9L1360.8 2799.8L1363.4 2800.7L1365.9 2800.9L1368.4 2801.2L1370.9 2800.3L1373.4 2802.0L1376.0 2801.3L1378.5 2801.9L1381.0 2802.0L1383.5 2800.9L1386.0 2801.6L1388.6 2801.7L1391.1 2801.8L1393.6 2802.3L1396.1 2801.9L1398.6 2802.8L1401.1 2802.5L1403.7 2802.5L1406.2 2801.9L1408.7 2801.8L1411.2 2802.4L1413.7 2802.6L1416.3 2802.0L1418.8 2803.5L1421.3 2803.1L1423.8 2804.1L1426.3 2803.1L1428.9 2804.3L1431.4 2803.8L1433.9 2804.0L1436.4 2803.0L1438.9 2803.8L1441.4 2804.8L1444.0 2804.0L1446.5 2804.2L1449.0 2804.5L1451.5 2804.3L1454.0 2803.7L1456.6 2804.8L1459.1 2804.9L1461.6 2803.6L1464.1 2805.6L1466.6 2805.1L1469.2 2804.2L1471.7 2804.4L1474.2 2804.9L1476.7 2805.5L1479.2 2806.1L1481.7 2804.4L1484.3 2804.9L1486.8 2806.4L1489.3 2805.9L1491.8 2806.0L1494.3 2805.2L1496.9 2806.4L1499.4 2804.9L1501.9 2805.4L1504.4 2806.9L1506.9 2806.3L1509.5 2805.7L1512.0 2806.3L1514.5 2806.4L1517.0 2807.2L1519.5 2806.1L1522.0 2807.3L1524.6 2806.9L1527.1 2805.8L1529.6 2807.0L1532.1 2807.4L1534.6 2807.0L1537.2 2807.0L1539.7 2806.4L1542.2 2807.0L1544.7 2807.2L1547.2 2807.7L1549.8 2806.6L1552.3 2806.4L1554.8 2806.8L1557.3 2806.7L1559.8 2808.3L1562.3 2807.9L1564.9 2807.6L1567.4 2808.3L1569.9 2807.7L1572.4 2808.0L1574.9 2808.4L1577.5 2808.7L1580.0 2807.7L1582.5 2808.1L1585.0 2807.1L1587.5 2807.0L1590.1 2808.7L1592.6 2808.0L1595.1 2808.0L1597.6 2809.0L1600.1 2808.5L1602.6 2807.5L1605.2 2808.7L1607.7 2808.6L1610.2 2808.5L1612.7 2807.8L1615.2 2807.8L1617.8 2808.2L1620.3 2808.2L1622.8 2809.5L1625.3 2808.5L1627.8 2807.8L1630.4 2809.3L1632.9 2808.1L1635.4 2809.6L1637.9 2809.3L1640.4 2809.1L1642.9 2809.1L1645.5 2809.4L1648.0 2809.3L1650.5 2809.6L1653.0 2809.9L1655.5 2809.0L1658.1 2808.5L1660.6 2809.1L1663.1 2809.4L1665.6 2809.4L1668.1 2809.3L1670.7 2809.0L1673.2 2810.6L1675.7 2810.5L1678.2 2809.1L1680.7 2808.9L1683.2 2809.1L1685.8 2809.9L1688.3 2810.1L1690.8 2810.3L1693.3 2810.9L1695.8 2809.4L1698.4 2809.3L1700.9 2809.9L1703.4 2810.0L1705.9 2811.1L1708.4 2810.9L1711.0 2810.1L1713.5 2809.8L1716.0 2809.7L1718.5 2811.3L1721.0 2811.1L1723.5 2811.2L1726.1 2811.0L1728.6 2811.1L1731.1 2811.3L1733.6 2810.2L1736.1 2809.9L1738.7 2811.7L1741.2 2810.6L1743.7 2811.2L1746.2 2810.9L1748.7 2811.8L1751.2 2811.3L1753.8 2810.5L1756.3 2811.0L1758.8 2810.4L1761.3 2811.1L1763.8 2810.6L1766.4 2810.2L1768.9 2810.5L1771.4 2811.0L1773.9 2810.6L1776.4 2811.0L1779.0 2810.8L1781.5 2810.9L1784.0 2811.7L1786.5 2811.4L1789.0 2811.3L1791.5 2811.5L1794.1 2812.3L1796.6 2811.6L1799.1 2811.3L1801.6 2812.3L1804.1 2811.7L1806.7 2811.1L1809.2 2812.4L1811.7 2812.5L1814.2 2811.4L1816.7 2812.0L1819.3 2812.8L1821.8 2812.1L1824.3 2811.4L1826.8 2811.2L1829.3 2812.3L1831.8 2811.6L1834.4 2811.7L1836.9 2812.1L1839.4 2811.6L1841.9 2812.0L1844.4 2811.5L1847.0 2811.2L1849.5 2811.6L1852.0 2812.6L1854.5 2812.5L1857.0 2812.1L1859.6 2812.1L1862.1 2812.0L1864.6 2812.7L1867.1 2813.3L1869.6 2813.1L1872.1 2813.2L1874.7 2812.4L1877.2 2812.6L1879.7 2813.5L1882.2 2813.4L1884.7 2811.8L1887.3 2812.2L1889.8 2811.9L1892.3 2812.3L1894.8 2813.7L1897.3 2812.2L1899.9 2812.6L1902.4 2813.3L1904.9 2813.2L1907.4 2812.6L1909.9 2812.2L1912.4 2812.1L1915.0 2812.2L1917.5 2813.8L1920.0 2812.9L1922.5 2813.2L1925.0 2813.5L1927.6 2812.2L1930.1 2813.3L1932.6 2812.6L1935.1 2813.3L1937.6 2812.4L1940.2 2813.8L1942.7 2812.7L1945.2 2813.6L1947.7 2812.1L1950.2 2813.8L1952.7 2812.7L1955.3 2812.6L1957.8 2813.6L1960.3 2812.9L1962.8 2813.1L1965.3 2812.6L1967.9 2813.5L1970.4 2813.1L1972.9 2812.9L1975.4 2813.1L1977.9 2813.6L1980.5 2812.3L1983.0 2814.2L1985.5 2813.1L1988.0 2812.7L1990.5 2812.6L1993.0 2813.6L1995.6 2813.7L1998.1 2812.5L2000.6 2813.0L2003.1 2813.7L2005.6 2813.9L2008.2 2812.4L2010.7 2813.2L2013.2 2814.0L2015.7 2814.4L2018.2 2813.2L2020.8 2813.3L2023.3 2813.6L2025.8 2814.0L2028.3 2813.6L2030.8 2813.8L2033.3 2812.8L2035.9 2813.5L2038.4 2814.1L2040.9 2812.8L2043.4 2813.0L2045.9 2814.1L2048.5 2814.1L2051.0 2814.5L2053.5 2813.7L2056.0 2813.4L2058.5 2813.4L2061.1 2813.9L2063.6 2814.2L2066.1 2814.0L2068.6 2813.5L2071.1 2813.9L2073.6 2814.0L2076.2 2813.5L2078.7 2814.3L2081.2 2813.1L2083.7 2813.6L2086.2 2814.7L2088.8 2812.9L2091.3 2813.1L2093.8 2814.4L2096.3 2813.9L2098.8 2813.2L2101.4 2814.6L2103.9 2813.5L2106.4 2814.7L2108.9 2813.9L2111.4 2813.1L2113.9 2814.1L2116.5 2814.7L2119.0 2813.1L2121.5 2813.9L2124.0 2813.3L2126.5 2814.9L2129.1 2814.4L2131.6 2813.2L2134.1 2813.0L2136.6 2813.7L2139.1 2814.0L2141.7 2814.7L2144.2 2813.7L2146.7 2814.9L2149.2 2813.4L2151.7 2814.8L2154.2 2813.0L2156.8 2813.4L2159.3 2814.9L2161.8 2814.7"/>
<path stroke="#8b4a52" d="M398.7 2142.9L401.2 2117.7L403.7 2092.2L406.3 2076.9L408.8 2061.3L411.3 2069.0L413.8 2082.4L416.3 2096.0L418.8 2108.8L421.4 2122.5L423.9 2135.7L426.4 2148.3L428.9 2161.6L431.4 2174.8L434.0 2194.7L436.5 2217.7L439.0 2239.7L441.5 2262.6L444.0 2284.7L446.6 2307.6L449.1 2330.0L451.6 2351.8L454.1 2374.3L456.6 2392.3L459.1 2410.5L461.7 2427.0L464.2 2442.5L466.7 2457.1L469.2 2469.5L471.7 2482.0L474.3 2492.1L476.8 2503.1L479.3 2512.0L481.8 2521.3L484.3 2530.6L486.9 2539.0L489.4 2547.2L491.9 2555.5L494.4 2563.2L496.9 2570.1L499.4 2577.1L502.0 2584.6L504.5 2591.4L507.0 2599.2L509.5 2605.5L512.0 2612.3L514.6 2618.9L517.1 2623.8L519.6 2627.7L522.1 2631.9L524.6 2634.5L527.2 2638.0L529.7 2640.9L532.2 2642.9L534.7 2644.9L537.2 2646.6L539.7 2648.6L542.3 2650.6L544.8 2652.0L547.3 2653.1L549.8 2654.6L552.3 2655.7L554.9 2656.9L557.4 2657.7L559.9 2659.2L562.4 2660.3L564.9 2661.5L567.5 2662.5L570.0 2663.7L572.5 2665.3L575.0 2666.3L577.5 2667.1L580.0 2669.2L582.6 2670.0L585.1 2670.7L587.6 2671.8L590.1 2673.3L592.6 2674.4L595.2 2676.1L597.7 2676.9L600.2 2678.7L602.7 2680.1L605.2 2681.2L607.8 2682.8L610.3 2683.4L612.8 2685.5L615.3 2686.6L617.8 2688.1L620.3 2689.8L622.9 2691.3L625.4 2693.7L627.9 2694.5L630.4 2696.1L632.9 2698.4L635.5 2699.4L638.0 2700.8L640.5 2702.5L643.0 2704.4L645.5 2705.7L648.1 2706.9L650.6 2708.0L653.1 2709.5L655.6 2711.2L658.1 2712.5L660.6 2713.2L663.2 2715.3L665.7 2716.4L668.2 2717.9L670.7 2718.8L673.2 2720.2L675.8 2721.3L678.3 2723.2L680.8 2724.0L683.3 2725.4L685.8 2727.1L688.4 2728.4L690.9 2729.6L693.4 2731.6L695.9 2732.6L698.4 2733.9L700.9 2735.9L703.5 2737.1L706.0 2738.3L708.5 2739.7L711.0 2740.8L713.5 2741.9L716.1 2743.1L718.6 2744.1L721.1 2745.9L723.6 2747.1L726.1 2747.8L728.7 2749.2L731.2 2750.3L733.7 2751.8L736.2 2752.6L738.7 2753.8L741.2 2755.2L743.8 2756.0L746.3 2756.7L748.8 2757.7L751.3 2759.0L753.8 2760.0L756.4 2760.8L758.9 2761.7L761.4 2762.5L763.9 2763.4L766.4 2764.2L769.0 2764.6L771.5 2765.2L774.0 2766.2L776.5 2767.4L779.0 2768.2L781.5 2768.5L784.1 2769.1L786.6 2770.2L789.1 2770.9L791.6 2770.9L794.1 2772.2L796.7 2772.6L799.2 2773.6L801.7 2773.7L804.2 2774.4L806.7 2775.0L809.3 2775.4L811.8 2775.5L814.3 2776.0L816.8 2776.5L819.3 2777.2L821.8 2777.3L824.4 2778.4L826.9 2778.9L829.4 2778.8L831.9 2779.6L834.4 2779.7L837.0 2780.2L839.5 2780.0L842.0 2780.5L844.5 2781.0L847.0 2780.8L849.5 2781.0L852.1 2781.1L854.6 2781.0L857.1 2781.2L859.6 2781.6L862.1 2782.3L864.7 2782.2L867.2 2781.9L869.7 2782.6L872.2 2782.5L874.7 2782.4L877.3 2782.3L879.8 2782.7L882.3 2782.3L884.8 2783.1L887.3 2783.3L889.8 2782.8L892.4 2783.4L894.9 2783.4L897.4 2784.8L899.9 2785.5L902.4 2784.6L905.0 2784.1L907.5 2785.6L910.0 2784.9L912.5 2784.0L915.0 2784.5L917.6 2784.4L920.1 2785.0L922.6 2784.0L925.1 2783.4L927.6 2783.3L930.1 2783.7L932.7 2782.7L935.2 2782.8L937.7 2783.5L940.2 2782.4L942.7 2783.2L945.3 2782.1L947.8 2782.4L950.3 2783.2L952.8 2781.7L955.3 2782.7L957.9 2782.2L960.4 2781.7L962.9 2781.5L965.4 2781.9L967.9 2780.9L970.4 2781.0L973.0 2781.9L975.5 2781.2L978.0 2782.3L980.5 2781.3L983.0 2780.7L985.6 2782.1L988.1 2782.0L990.6 2781.5L993.1 2782.0L995.6 2781.4L998.2 2780.9L1000.7 2780.8L1003.2 2781.8L1005.7 2781.8L1008.2 2780.2L1010.7 2780.0L1013.3 2781.1L1015.8 2780.5L1018.3 2779.7L1020.8 2780.3L1023.3 2780.2L1025.9 2780.7L1028.4 2779.6L1030.9 2781.1L1033.4 2779.4L1035.9 2780.6L1038.5 2781.1L1041.0 2779.3L1043.5 2779.4L1046.0 2779.5L1048.5 2781.1L1051.0 2779.5L1053.6 2781.0L1056.1 2780.2L1058.6 2780.4L1061.1 2780.1L1063.6 2780.4L1066.2 2779.7L1068.7 2780.6L1071.2 2779.7L1073.7 2780.1L1076.2 2779.1L1078.8 2780.0L1081.3 2780.4L1083.8 2779.7L1086.3 2780.2L1088.8 2780.3L1091.3 2779.2L1093.9 2779.3L1096.4 2779.9L1098.9 2780.6L1101.4 2780.6L1103.9 2781.1L1106.5 2780.0L1109.0 2779.9L1111.5 2780.8L1114.0 2779.6L1116.5 2781.1L1119.1 2781.1L1121.6 2779.9L1124.1 2779.3L1126.6 2781.2L1129.1 2781.2L1131.6 2780.0L1134.2 2781.1L1136.7 2780.9L1139.2 2780.6L1141.7 2781.7L1144.2 2781.4L1146.8 2781.1L1149.3 2780.4L1151.8 2780.4L1154.3 2781.9L1156.8 2782.5L1159.4 2781.3L1161.9 2782.3L1164.4 2781.1L1166.9 2782.5L1169.4 2783.3L1171.9 2783.4L1174.5 2782.3L1177.0 2783.0L1179.5 2782.2L1182.0 2784.0L1184.5 2782.3L1187.1 2783.5L1189.6 2782.9L1192.1 2784.3L1194.6 2784.0L1197.1 2785.3L1199.7 2784.3L1202.2 2785.8L1204.7 2784.6L1207.2 2786.0L1209.7 2786.6L1212.2 2787.5L1214.8 2787.8L1217.3 2787.3L1219.8 2787.3L1222.3 2788.1L1224.8 2789.0L1227.4 2788.4L1229.9 2789.1L1232.4 2789.4L1234.9 2789.3L1237.4 2790.4L1240.0 2791.5L1242.5 2790.3L1245.0 2790.2L1247.5 2791.7L1250.0 2791.7L1252.5 2790.8L1255.1 2792.7L1257.6 2792.3L1260.1 2793.4L1262.6 2791.6L1265.1 2792.5L1267.7 2793.1L1270.2 2792.9L1272.7 2792.8L1275.2 2794.1L1277.7 2794.3L1280.2 2794.2L1282.8 2794.6L1285.3 2793.4L1287.8 2795.0L1290.3 2794.5L1292.8 2796.0L1295.4 2795.0L1297.9 2795.7L1300.4 2795.2L1302.9 2796.3L1305.4 2795.4L1308.0 2796.7L1310.5 2796.7L1313.0 2795.7L1315.5 2796.8L1318.0 2797.2L1320.5 2796.0L1323.1 2797.0L1325.6 2797.0L1328.1 2798.4L1330.6 2797.7L1333.1 2798.5L1335.7 2798.0L1338.2 2797.2L1340.7 2798.2L1343.2 2797.5L1345.7 2798.4L1348.3 2799.0L1350.8 2799.1L1353.3 2798.0L1355.8 2799.5L1358.3 2799.2L1360.8 2799.7L1363.4 2799.9L1365.9 2800.4L1368.4 2798.9L1370.9 2800.6L1373.4 2799.2L1376.0 2800.1L1378.5 2800.6L1381.0 2800.5L1383.5 2799.9L1386.0 2800.8L1388.6 2799.9L1391.1 2799.9L1393.6 2800.8L1396.1 2800.8L1398.6 2801.7L1401.1 2801.7L1403.7 2801.6L1406.2 2801.9L1408.7 2802.5L1411.2 2800.9L1413.7 2801.0L1416.3 2801.2L1418.8 2801.0L1421.3 2803.0L1423.8 2801.6L1426.3 2801.6L1428.9 2801.3L1431.4 2802.7L1433.9 2803.5L1436.4 2803.6L1438.9 2801.8L1441.4 2801.9L1444.0 2803.8L1446.5 2802.8L1449.0 2802.6L1451.5 2802.4L1454.0 2803.0L1456.6 2802.5L1459.1 2802.4L1461.6 2803.4L1464.1 2804.4L1466.6 2804.2L1469.2 2803.1L1471.7 2804.0L1474.2 2804.8L1476.7 2803.2L1479.2 2804.4L1481.7 2805.0L1484.3 2804.4L1486.8 2803.6L1489.3 2803.4L1491.8 2805.4L1494.3 2804.1L1496.9 2804.8L1499.4 2804.3L1501.9 2805.2L1504.4 2804.1L1506.9 2805.4L1509.5 2805.4L1512.0 2804.3L1514.5 2805.2L1517.0 2804.3L1519.5 2805.7L1522.0 2804.5L1524.6 2805.9L1527.1 2806.2L1529.6 2805.7L1532.1 2805.7L1534.6 2806.4L1537.2 2806.2L1539.7 2804.8L1542.2 2805.7L1544.7 2805.5L1547.2 2805.2L1549.8 2805.5L1552.3 2806.0L1554.8 2806.5L1557.3 2806.5L1559.8 2806.8L1562.3 2806.8L1564.9 2806.6L1567.4 2805.8L1569.9 2806.2L1572.4 2806.7L1574.9 2805.8L1577.5 2806.5L1580.0 2807.3L1582.5 2805.9L1585.0 2806.1L1587.5 2807.3L1590.1 2807.6L1592.6 2806.5L1595.1 2806.9L1597.6 2807.7L1600.1 2806.5L1602.6 2807.6L1605.2 2808.2L1607.7 2807.8L1610.2 2807.6L1612.7 2806.6L1615.2 2808.5L1617.8 2807.1L1620.3 2807.9L1622.8 2806.6L1625.3 2807.0L1627.8 2807.9L1630.4 2807.9L1632.9 2808.0L1635.4 2808.6L1637.9 2808.2L1640.4 2807.0L1642.9 2808.7L1645.5 2807.1L1648.0 2808.4L1650.5 2808.2L1653.0 2809.0L1655.5 2808.5L1658.1 2808.4L1660.6 2808.6L1663.1 2807.4L1665.6 2808.5L1668.1 2807.7L1670.7 2808.3L1673.2 2807.5L1675.7 2808.8L1678.2 2808.4L1680.7 2808.5L1683.2 2808.8L1685.8 2808.0L1688.3 2809.0L1690.8 2809.8L1693.3 2808.4L1695.8 2808.9L1698.4 2809.3L1700.9 2809.1L1703.4 2809.0L1705.9 2808.5L1708.4 2808.2L1711.0 2808.9L1713.5 2808.8L1716.0 2810.3L1718.5 2809.6L1721.0 2809.3L1723.5 2809.3L1726.1 2809.7L1728.6 2808.5L1731.1 2809.4L1733.6 2809.3L1736.1 2809.9L1738.7 2809.9L1741.2 2808.9L1743.7 2810.2L1746.2 2809.7L1748.7 2810.6L1751.2 2810.0L1753.8 2809.6L1756.3 2810.2L1758.8 2810.3L1761.3 2810.8L1763.8 2810.4L1766.4 2810.8L1768.9 2810.9L1771.4 2810.1L1773.9 2810.4L1776.4 2810.6L1779.0 2809.6L1781.5 2809.8L1784.0 2809.8L1786.5 2810.3L1789.0 2811.0L1791.5 2810.7L1794.1 2809.5L1796.6 2809.9L1799.1 2809.8L1801.6 2810.2L1804.1 2811.0L1806.7 2811.2L1809.2 2811.6L1811.7 2810.7L1814.2 2810.7L1816.7 2811.7L1819.3 2810.3L1821.8 2810.4L1824.3 2811.6L1826.8 2811.7L1829.3 2811.5L1831.8 2811.9L1834.4 2810.6L1836.9 2811.6L1839.4 2811.3L1841.9 2810.7L1844.4 2811.1L1847.0 2810.9L1849.5 2810.2L1852.0 2810.7L1854.5 2811.0L1857.0 2810.8L1859.6 2811.2L1862.1 2810.9L1864.6 2811.8L1867.1 2811.7L1869.6 2810.9L1872.1 2811.7L1874.7 2811.2L1877.2 2811.1L1879.7 2811.9L1882.2 2811.6L1884.7 2811.7L1887.3 2812.3L1889.8 2811.2L1892.3 2812.2L1894.8 2811.9L1897.3 2811.2L1899.9 2811.4L1902.4 2812.0L1904.9 2811.2L1907.4 2811.2L1909.9 2811.2L1912.4 2811.9L1915.0 2812.1L1917.5 2811.2L1920.0 2810.9L1922.5 2812.5L1925.0 2812.2L1927.6 2812.1L1930.1 2812.7L1932.6 2812.1L1935.1 2811.6L1937.6 2811.0L1940.2 2811.9L1942.7 2811.0L1945.2 2812.2L1947.7 2810.9L1950.2 2811.0L1952.7 2811.9L1955.3 2812.2L1957.8 2811.5L1960.3 2811.5L1962.8 2811.4L1965.3 2812.4L1967.9 2811.3L1970.4 2811.2L1972.9 2811.7L1975.4 2812.6L1977.9 2812.6L1980.5 2812.4L1983.0 2812.2L1985.5 2811.7L1988.0 2811.3L1990.5 2811.9L1993.0 2812.7L1995.6 2811.8L1998.1 2812.9L2000.6 2812.2L2003.1 2812.2L2005.6 2812.2L2008.2 2811.6L2010.7 2813.2L2013.2 2812.6L2015.7 2811.6L2018.2 2813.1L2020.8 2811.8L2023.3 2812.4L2025.8 2812.4L2028.3 2813.0L2030.8 2811.9L2033.3 2812.0L2035.9 2812.0L2038.4 2811.7L2040.9 2811.8L2043.4 2813.0L2045.9 2812.8L2048.5 2811.5L2051.0 2812.1L2053.5 2812.4L2056.0 2813.3L2058.5 2813.0L2061.1 2811.8L2063.6 2811.6L2066.1 2812.4L2068.6 2812.1L2071.1 2812.1L2073.6 2812.7L2076.2 2812.8L2078.7 2812.6L2081.2 2813.3L2083.7 2813.6L2086.2 2812.1L2088.8 2813.6L2091.3 2813.4L2093.8 2811.7L2096.3 2813.6L2098.8 2813.0L2101.4 2812.2L2103.9 2813.1L2106.4 2812.6L2108.9 2812.6L2111.4 2812.0L2113.9 2812.0L2116.5 2812.4L2119.0 2812.2L2121.5 2812.8L2124.0 2813.6L2126.5 2813.3L2129.1 2813.4L2131.6 2812.8L2134.1 2812.7L2136.6 2812.3L2139.1 2812.8L2141.7 2811.9L2144.2 2812.8L2146.7 2812.2L2149.2 2812.1L2151.7 2813.4L2154.2 2813.6L2156.8 2812.2L2159.3 2813.6L2161.8 2813.6"/>
<path stroke="#909000" d="M398.7 2220.0L401.2 2199.6L403.7 2180.4L406.3 2167.6L408.8 2155.6L411.3 2162.1L413.8 2172.6L416.3 2183.0L418.8 2193.2L421.4 2203.2L423.9 2213.4L426.4 2224.2L428.9 2234.3L431.4 2245.0L434.0 2255.4L436.5 2265.3L439.0 2275.4L441.5 2285.8L444.0 2296.6L446.6 2306.9L449.1 2317.2L451.6 2327.1L454.1 2338.1L456.6 2347.9L459.1 2358.8L461.7 2369.5L464.2 2386.8L466.7 2402.0L469.2 2417.8L471.7 2432.2L474.3 2446.2L476.8 2459.2L479.3 2471.7L481.8 2483.2L484.3 2493.8L486.9 2503.7L489.4 2513.1L491.9 2522.6L494.4 2530.6L496.9 2539.2L499.4 2548.0L502.0 2556.0L504.5 2564.2L507.0 2572.4L509.5 2579.5L512.0 2587.2L514.6 2593.2L517.1 2598.9L519.6 2603.7L522.1 2607.9L524.6 2611.5L527.2 2615.4L529.7 2619.0L532.2 2622.4L534.7 2624.8L537.2 2626.7L539.7 2628.9L542.3 2630.1L544.8 2631.1L547.3 2633.3L549.8 2634.0L552.3 2635.0L554.9 2636.6L557.4 2637.7L559.9 2638.3L562.4 2639.2L564.9 2640.7L567.5 2641.2L570.0 2642.9L572.5 2643.4L575.0 2645.3L577.5 2646.8L580.0 2647.7L582.6 2649.3L585.1 2650.0L587.6 2651.3L590.1 2652.8L592.6 2654.6L595.2 2655.4L597.7 2657.7L600.2 2658.5L602.7 2660.2L605.2 2661.2L607.8 2663.3L610.3 2664.8L612.8 2665.7L615.3 2667.3L617.8 2668.7L620.3 2670.4L622.9 2671.5L625.4 2673.3L627.9 2674.8L630.4 2676.3L632.9 2677.4L635.5 2678.7L638.0 2679.8L640.5 2681.5L643.0 2682.7L645.5 2683.2L648.1 2684.3L650.6 2686.0L653.1 2686.8L655.6 2687.3L658.1 2688.4L660.6 2689.4L663.2 2690.7L665.7 2691.1L668.2 2692.0L670.7 2692.9L673.2 2694.0L675.8 2694.9L678.3 2696.0L680.8 2696.3L683.3 2697.3L685.8 2698.2L688.4 2699.8L690.9 2700.6L693.4 2701.7L695.9 2702.0L698.4 2703.2L700.9 2704.3L703.5 2704.7L706.0 2705.7L708.5 2706.9L711.0 2707.5L713.5 2708.5L716.1 2709.7L718.6 2710.3L721.1 2711.1L723.6 2712.0L726.1 2712.9L728.7 2713.6L731.2 2714.3L733.7 2715.1L736.2 2716.2L738.7 2717.4L741.2 2717.3L743.8 2718.3L746.3 2719.3L748.8 2721.1L751.3 2721.8L753.8 2722.8L756.4 2723.7L758.9 2724.2L761.4 2725.3L763.9 2725.8L766.4 2727.4L769.0 2727.6L771.5 2729.1L774.0 2730.2L776.5 2730.7L779.0 2731.5L781.5 2732.5L784.1 2733.0L786.6 2734.3L789.1 2735.6L791.6 2736.2L794.1 2736.6L796.7 2738.1L799.2 2738.9L801.7 2740.0L804.2 2740.2L806.7 2741.7L809.3 2742.3L811.8 2742.7L814.3 2743.9L816.8 2744.6L819.3 2744.6L821.8 2745.5L824.4 2746.6L826.9 2747.0L829.4 2747.2L831.9 2747.8L834.4 2748.3L837.0 2748.8L839.5 2749.5L842.0 2749.7L844.5 2750.4L847.0 2750.6L849.5 2751.5L852.1 2751.2L854.6 2752.1L857.1 2752.0L859.6 2752.5L862.1 2752.7L864.7 2752.8L867.2 2752.6L869.7 2752.9L872.2 2753.4L874.7 2753.8L877.3 2753.8L879.8 2753.8L882.3 2754.5L884.8 2754.6L887.3 2754.5L889.8 2754.5L892.4 2755.3L894.9 2754.9L897.4 2787.3L899.9 2788.2L902.4 2787.6L905.0 2787.6L907.5 2788.2L910.0 2788.7L912.5 2788.1L915.0 2786.8L917.6 2788.5L920.1 2787.6L922.6 2788.0L925.1 2787.2L927.6 2786.6L930.1 2787.4L932.7 2786.7L935.2 2787.9L937.7 2786.5L940.2 2787.0L942.7 2788.0L945.3 2787.3L947.8 2787.6L950.3 2787.7L952.8 2785.7L955.3 2787.3L957.9 2786.2L960.4 2785.5L962.9 2786.8L965.4 2784.7L967.9 2785.2L970.4 2785.7L973.0 2784.1L975.5 2783.8L978.0 2783.8L980.5 2785.2L983.0 2784.4L985.6 2784.3L988.1 2784.1L990.6 2782.9L993.1 2783.2L995.6 2781.8L998.2 2783.1L1000.7 2781.3L1003.2 2780.9L1005.7 2780.6L1008.2 2780.9L1010.7 2781.3L1013.3 2781.5L1015.8 2780.6L1018.3 2779.5L1020.8 2779.5L1023.3 2779.8L1025.9 2778.9L1028.4 2777.9L1030.9 2778.6L1033.4 2776.9L1035.9 2778.0L1038.5 2776.5L1041.0 2777.6L1043.5 2777.3L1046.0 2775.3L1048.5 2775.3L1051.0 2776.1L1053.6 2775.0L1056.1 2773.6L1058.6 2774.9L1061.1 2774.0L1063.6 2772.7L1066.2 2773.9L1068.7 2773.0L1071.2 2773.1L1073.7 2772.1L1076.2 2771.4L1078.8 2770.2L1081.3 2771.2L1083.8 2770.5L1086.3 2770.4L1088.8 2770.3L1091.3 2769.1L1093.9 2768.9L1096.4 2769.4L1098.9 2768.9L1101.4 2768.0L1103.9 2767.0L1106.5 2766.6L1109.0 2766.9L1111.5 2767.5L1114.0 2767.0L1116.5 2765.8L1119.1 2766.0L1121.6 2765.2L1124.1 2766.9L1126.6 2765.2L1129.1 2765.9L1131.6 2765.8L1134.2 2764.4L1136.7 2764.1L1139.2 2764.8L1141.7 2765.6L1144.2 2765.4L1146.8 2764.8L1149.3 2763.8L1151.8 2764.0L1154.3 2763.9L1156.8 2763.9L1159.4 2762.9L1161.9 2764.7L1164.4 2762.7L1166.9 2763.2L1169.4 2764.1L1171.9 2763.9L1174.5 2763.1L1177.0 2763.8L1179.5 2762.7L1182.0 2762.4L1184.5 2762.2L1187.1 2763.0L1189.6 2763.6L1192.1 2762.0L1194.6 2762.1L1197.1 2763.2L1199.7 2762.0L1202.2 2762.2L1204.7 2761.7L1207.2 2762.4L1209.7 2762.0L1212.2 2762.4L1214.8 2762.3L1217.3 2762.3L1219.8 2761.9L1222.3 2761.3L1224.8 2762.1L1227.4 2761.3L1229.9 2761.2L1232.4 2761.2L1234.9 2762.2L1237.4 2761.6L1240.0 2762.2L1242.5 2762.0L1245.0 2760.9L1247.5 2760.8L1250.0 2761.4L1252.5 2762.1L1255.1 2762.1L1257.6 2760.9L1260.1 2761.5L1262.6 2761.9L1265.1 2761.1L1267.7 2760.2L1270.2 2762.0L1272.7 2760.8L1275.2 2760.1L1277.7 2761.7L1280.2 2760.7L1282.8 2761.2L1285.3 2760.2L1287.8 2760.0L1290.3 2759.6L1292.8 2760.2L1295.4 2761.4L1297.9 2759.8L1300.4 2761.0L1302.9 2759.7L1305.4 2760.1L1308.0 2760.6L1310.5 2760.4L1313.0 2759.9L1315.5 2760.0L1318.0 2760.6L1320.5 2760.3L1323.1 2758.6L1325.6 2760.4L1328.1 2759.9L1330.6 2759.7L1333.1 2759.5L1335.7 2759.1L1338.2 2759.0L1340.7 2758.2L1343.2 2758.6L1345.7 2759.8L1348.3 2758.6L1350.8 2759.6L1353.3 2758.8L1355.8 2759.1L1358.3 2758.4L1360.8 2759.1L1363.4 2758.0L1365.9 2758.4L1368.4 2759.1L1370.9 2758.0L1373.4 2758.3L1376.0 2757.6L1378.5 2757.4L1381.0 2758.5L1383.5 2757.1L1386.0 2757.2L1388.6 2758.6L1391.1 2757.9L1393.6 2758.2L1396.1 2756.7L1398.6 2757.9L1401.1 2758.2L1403.7 2758.1L1406.2 2757.5L1408.7 2756.9L1411.2 2756.7L1413.7 2757.7L1416.3 2757.9L1418.8 2757.6L1421.3 2757.3L1423.8 2756.8L1426.3 2756.7L1428.9 2756.6L1431.4 2756.3L1433.9 2757.0L1436.4 2757.3L1438.9 2757.5L1441.4 2758.3L1444.0 2757.2L1446.5 2756.5L1449.0 2757.4L1451.5 2757.3L1454.0 2756.5L1456.6 2757.3L1459.1 2758.4L1461.6 2757.7L1464.1 2756.7L1466.6 2756.8L1469.2 2757.9L1471.7 2757.8L1474.2 2757.4L1476.7 2758.3L1479.2 2758.6L1481.7 2758.5L1484.3 2758.9L1486.8 2757.7L1489.3 2758.7L1491.8 2758.9L1494.3 2759.3L1496.9 2758.3L1499.4 2759.3L1501.9 2759.2L1504.4 2757.9L1506.9 2759.6L1509.5 2759.3L1512.0 2760.2L1514.5 2759.6L1517.0 2759.4L1519.5 2759.0L1522.0 2760.4L1524.6 2759.1L1527.1 2759.6L1529.6 2760.0L1532.1 2760.5L1534.6 2759.7L1537.2 2760.5L1539.7 2761.7L1542.2 2761.3L1544.7 2761.2L1547.2 2762.3L1549.8 2762.6L1552.3 2762.3L1554.8 2762.1L1557.3 2762.6L1559.8 2763.0L1562.3 2763.2L1564.9 2763.0L1567.4 2763.4L1569.9 2764.4L1572.4 2765.6L1574.9 2765.9L1577.5 2764.9L1580.0 2765.4L1582.5 2767.0L1585.0 2767.6L1587.5 2766.9L1590.1 2768.2L1592.6 2767.1L1595.1 2767.8L1597.6 2769.1L1600.1 2768.2L1602.6 2770.1L1605.2 2769.0L1607.7 2770.8L1610.2 2771.1L1612.7 2771.8L1615.2 2772.1L1617.8 2772.3L1620.3 2771.5L1622.8 2772.6L1625.3 2772.4L1627.8 2773.1L1630.4 2773.5L1632.9 2773.9L1635.4 2775.4L1637.9 2775.2L1640.4 2776.3L1642.9 2776.0L1645.5 2776.3L1648.0 2777.3L1650.5 2777.8L1653.0 2777.3L1655.5 2779.0L1658.1 2778.8L1660.6 2778.7L1663.1 2779.2L1665.6 2780.1L1668.1 2780.1L1670.7 2781.8L1673.2 2781.6L1675.7 2782.9L1678.2 2783.0L1680.7 2783.2L1683.2 2783.9L1685.8 2783.3L1688.3 2785.0L1690.8 2785.1L1693.3 2785.3L1695.8 2786.7L1698.4 2787.2L1700.9 2787.4L1703.4 2787.5L1705.9 2787.9L1708.4 2787.6L1711.0 2788.1L1713.5 2789.4L1716.0 2789.0L1718.5 2790.7L1721.0 2790.6L1723.5 2789.7L1726.1 2791.1L1728.6 2791.0L1731.1 2791.1L1733.6 2791.7L1736.1 2792.6L1738.7 2791.8L1741.2 2793.6L1743.7 2794.1L1746.2 2793.7L1748.7 2795.1L1751.2 2794.5L1753.8 2795.6L1756.3 2795.3L1758.8 2796.2L1761.3 2796.0L1763.8 2795.7L1766.4 2796.5L1768.9 2796.7L1771.4 2797.3L1773.9 2797.2L1776.4 2798.4L1779.0 2798.5L1781.5 2798.0L1784.0 2797.9L1786.5 2798.9L1789.0 2798.1L1791.5 2799.8L1794.1 2798.9L1796.6 2800.1L1799.1 2800.7L1801.6 2800.4L1804.1 2799.5L1806.7 2801.0L1809.2 2799.7L1811.7 2800.6L1814.2 2800.9L1816.7 2800.8L1819.3 2802.1L1821.8 2800.9L1824.3 2801.8L1826.8 2801.4L1829.3 2801.7L1831.8 2801.6L1834.4 2801.8L1836.9 2801.7L1839.4 2803.3L1841.9 2802.2L1844.4 2802.8L1847.0 2803.5L1849.5 2802.7L1852.0 2802.7L1854.5 2803.0L1857.0 2802.6L1859.6 2803.7L1862.1 2803.2L1864.6 2804.4L1867.1 2804.5L1869.6 2804.3L1872.1 2805.2L1874.7 2803.9L1877.2 2805.1L1879.7 2804.7L1882.2 2805.3L1884.7 2804.7L1887.3 2803.9L1889.8 2804.5L1892.3 2805.4L1894.8 2804.4L1897.3 2804.8L1899.9 2805.6L1902.4 2805.7L1904.9 2806.2L1907.4 2806.2L1909.9 2806.4L1912.4 2805.7L1915.0 2805.0L1917.5 2806.3L1920.0 2805.8L1922.5 2806.8L1925.0 2805.6L1927.6 2805.2L1930.1 2806.4L1932.6 2806.5L1935.1 2806.9L1937.6 2806.5L1940.2 2806.9L1942.7 2806.6L1945.2 2805.1L1947.7 2807.0L1950.2 2805.4L1952.7 2805.7L1955.3 2805.2L1957.8 2807.2L1960.3 2805.6L1962.8 2807.0L1965.3 2805.8L1967.9 2806.3L1970.4 2805.8L1972.9 2805.8L1975.4 2807.2L1977.9 2806.1L1980.5 2805.8L1983.0 2807.3L1985.5 2806.9L1988.0 2806.0L1990.5 2807.4L1993.0 2806.2L1995.6 2807.3L1998.1 2805.6L2000.6 2806.3L2003.1 2806.2L2005.6 2807.2L2008.2 2806.9L2010.7 2805.7L2013.2 2806.8L2015.7 2807.3L2018.2 2805.8L2020.8 2807.2L2023.3 2807.3L2025.8 2806.5L2028.3 2807.2L2030.8 2805.9L2033.3 2806.4L2035.9 2805.8L2038.4 2805.8L2040.9 2807.2L2043.4 2806.3L2045.9 2807.4L2048.5 2806.2L2051.0 2806.4L2053.5 2806.8L2056.0 2806.2L2058.5 2807.4L2061.1 2805.9L2063.6 2806.7L2066.1 2807.4L2068.6 2806.0L2071.1 2806.9L2073.6 2807.3L2076.2 2805.8L2078.7 2806.7L2081.2 2807.6L2083.7 2806.0L2086.2 2807.2L2088.8 2806.0L2091.3 2805.8L2093.8 2806.7L2096.3 2806.3L2098.8 2807.4L2101.4 2806.5L2103.9 2807.8L2106.4 2806.7L2108.9 2806.2L2111.4 2807.8L2113.9 2806.1L2116.5 2808.1L2119.0 2806.6L2121.5 2807.3L2124.0 2806.7L2126.5 2806.3L2129.1 2806.4L2131.6 2808.0L2134.1 2807.7L2136.6 2808.0L2139.1 2806.8L2141.7 2807.3L2144.2 2806.7L2146.7 2808.5L2149.2 2808.0L2151.7 2808.2L2154.2 2809.0L2156.8 2808.1L2159.3 2808.8L2161.8 2807.5"/>
<path stroke="#ff6a00" d="M398.7 2131.4L401.2 2103.9L403.7 2075.6L406.3 2058.8L408.8 2042.2L411.3 2049.4L413.8 2063.6L416.3 2077.5L418.8 2090.6L421.4 2104.7L423.9 2118.4L426.4 2131.7L428.9 2146.0L431.4 2160.0L434.0 2177.1L436.5 2200.6L439.0 2224.5L441.5 2247.3L444.0 2270.8L446.6 2293.7L449.1 2317.4L451.6 2340.3L454.1 2363.6L456.6 2384.1L459.1 2401.6L461.7 2419.2L464.2 2435.2L466.7 2449.1L469.2 2462.7L471.7 2474.2L474.3 2485.8L476.8 2496.6L479.3 2506.2L481.8 2516.5L484.3 2525.3L486.9 2533.9L489.4 2542.5L491.9 2550.8L494.4 2558.0L496.9 2566.2L499.4 2573.0L502.0 2580.0L504.5 2587.5L507.0 2594.8L509.5 2601.7L512.0 2609.2L514.6 2614.6L517.1 2619.9L519.6 2624.1L522.1 2627.9L524.6 2631.4L527.2 2634.8L529.7 2637.1L532.2 2639.7L534.7 2642.2L537.2 2643.6L539.7 2645.7L542.3 2647.0L544.8 2648.5L547.3 2650.3L549.8 2651.2L552.3 2653.1L554.9 2653.6L557.4 2654.9L559.9 2656.5L562.4 2657.3L564.9 2658.2L567.5 2659.8L570.0 2660.6L572.5 2662.3L575.0 2663.0L577.5 2664.1L580.0 2665.7L582.6 2667.0L585.1 2668.3L587.6 2669.4L590.1 2670.9L592.6 2671.4L595.2 2673.0L597.7 2674.6L600.2 2675.6L602.7 2676.5L605.2 2678.5L607.8 2679.5L610.3 2680.8L612.8 2682.6L615.3 2683.9L617.8 2685.5L620.3 2687.3L622.9 2689.0L625.4 2690.4L627.9 2692.6L630.4 2694.3L632.9 2695.8L635.5 2697.2L638.0 2699.0L640.5 2699.9L643.0 2701.8L645.5 2702.5L648.1 2703.9L650.6 2705.8L653.1 2706.7L655.6 2707.9L658.1 2709.2L660.6 2711.2L663.2 2712.4L665.7 2713.4L668.2 2714.7L670.7 2715.6L673.2 2717.1L675.8 2718.7L678.3 2720.1L680.8 2721.4L683.3 2722.9L685.8 2724.3L688.4 2725.6L690.9 2726.8L693.4 2727.9L695.9 2729.4L698.4 2731.2L700.9 2732.5L703.5 2733.3L706.0 2734.9L708.5 2736.1L711.0 2737.9L713.5 2738.7L716.1 2740.2L718.6 2740.8L721.1 2742.4L723.6 2743.7L726.1 2744.8L728.7 2745.7L731.2 2747.1L733.7 2748.0L736.2 2749.4L738.7 2750.9L741.2 2751.8L743.8 2752.2L746.3 2753.2L748.8 2754.3L751.3 2755.9L753.8 2756.2L756.4 2757.4L758.9 2758.1L761.4 2759.3L763.9 2760.1L766.4 2760.9L769.0 2761.9L771.5 2762.6L774.0 2762.9L776.5 2763.6L779.0 2764.4L781.5 2765.6L784.1 2766.0L786.6 2766.7L789.1 2767.7L791.6 2768.1L794.1 2768.7L796.7 2769.4L799.2 2769.9L801.7 2770.4L804.2 2771.3L806.7 2772.0L809.3 2772.4L811.8 2773.0L814.3 2773.0L816.8 2773.9L819.3 2773.9L821.8 2774.4L824.4 2774.9L826.9 2776.0L829.4 2776.3L831.9 2776.3L834.4 2777.0L837.0 2777.5L839.5 2777.5L842.0 2777.5L844.5 2778.2L847.0 2777.9L849.5 2777.9L852.1 2778.2L854.6 2779.1L857.1 2779.0L859.6 2779.3L862.1 2779.0L864.7 2779.4L867.2 2779.2L869.7 2779.5L872.2 2779.7L874.7 2780.1L877.3 2779.9L879.8 2779.9L882.3 2779.8L884.8 2780.5L887.3 2780.4L889.8 2780.1L892.4 2780.2L894.9 2780.6L897.4 2781.1L899.9 2781.5L902.4 2781.5L905.0 2780.7L907.5 2780.3L910.0 2781.3L912.5 2781.1L915.0 2780.1L917.6 2780.4L920.1 2779.7L922.6 2779.7L925.1 2780.4L927.6 2780.4L930.1 2779.9L932.7 2778.9L935.2 2779.3L937.7 2780.0L940.2 2779.4L942.7 2779.6L945.3 2779.3L947.8 2779.4L950.3 2778.8L952.8 2779.2L955.3 2779.8L957.9 2778.7L960.4 2778.5L962.9 2778.9L965.4 2779.3L967.9 2778.4L970.4 2779.5L973.0 2777.9L975.5 2778.5L978.0 2778.1L980.5 2778.2L983.0 2778.5L985.6 2778.4L988.1 2777.6L990.6 2778.3L993.1 2778.4L995.6 2777.7L998.2 2777.6L1000.7 2777.6L1003.2 2778.5L1005.7 2778.8L1008.2 2778.7L1010.7 2777.5L1013.3 2778.7L1015.8 2778.6L1018.3 2778.9L1020.8 2778.5L1023.3 2778.2L1025.9 2777.2L1028.4 2777.2L1030.9 2777.9L1033.4 2778.2L1035.9 2778.7L1038.5 2778.1L1041.0 2777.1L1043.5 2778.5L1046.0 2778.5L1048.5 2777.1L1051.0 2778.8L1053.6 2778.9L1056.1 2776.9L1058.6 2777.1L1061.1 2778.3L1063.6 2778.8L1066.2 2777.9L1068.7 2778.0L1071.2 2778.2L1073.7 2777.7L1076.2 2778.7L1078.8 2777.6L1081.3 2777.3L1083.8 2776.8L1086.3 2778.4L1088.8 2778.1L1091.3 2777.6L1093.9 2778.5L1096.4 2777.6L1098.9 2777.2L1101.4 2777.9L1103.9 2777.0L1106.5 2778.5L1109.0 2777.7L1111.5 2777.3L1114.0 2778.3L1116.5 2777.7L1119.1 2778.7L1121.6 2778.2L1124.1 2778.3L1126.6 2778.5L1129.1 2778.9L1131.6 2779.2L1134.2 2778.6L1136.7 2778.3L1139.2 2778.4L1141.7 2779.7L1144.2 2780.3L1146.8 2779.8L1149.3 2779.1L1151.8 2780.2L1154.3 2781.3L1156.8 2781.0L1159.4 2781.0L1161.9 2780.4L1164.4 2782.1L1166.9 2781.3L1169.4 2781.5L1171.9 2782.6L1174.5 2783.3L1177.0 2782.9L1179.5 2783.4L1182.0 2783.4L1184.5 2784.0L1187.1 2782.9L1189.6 2783.3L1192.1 2784.6L1194.6 2785.1L1197.1 2784.5L1199.7 2785.4L1202.2 2785.0L1204.7 2785.9L1207.2 2785.6L1209.7 2786.2L1212.2 2786.0L1214.8 2787.4L1217.3 2787.6L1219.8 2787.6L1222.3 2786.8L1224.8 2787.7L1227.4 2788.3L1229.9 2788.1L1232.4 2788.9L1234.9 2788.1L1237.4 2789.6L1240.0 2789.4L1242.5 2789.7L1245.0 2789.0L1247.5 2790.1L1250.0 2789.7L1252.5 2789.9L1255.1 2790.8L1257.6 2790.5L1260.1 2791.2L1262.6 2790.8L1265.1 2791.7L1267.7 2791.7L1270.2 2792.6L1272.7 2792.4L1275.2 2793.9L1277.7 2793.5L1280.2 2794.3L1282.8 2793.7L1285.3 2795.1L1287.8 2794.4L1290.3 2794.5L1292.8 2795.3L1295.4 2796.0L1297.9 2795.6L1300.4 2796.0L1302.9 2796.3L1305.4 2796.7L1308.0 2796.6L1310.5 2796.6L1313.0 2796.1L1315.5 2797.0L1318.0 2797.8L1320.5 2798.0L1323.1 2797.8L1325.6 2798.3L1328.1 2796.8L1330.6 2798.0L1333.1 2797.6L1335.7 2798.3L1338.2 2797.6L1340.7 2798.2L1343.2 2798.9L1345.7 2797.8L1348.3 2798.0L1350.8 2798.2L1353.3 2797.8L1355.8 2799.4L1358.3 2798.2L1360.8 2798.2L1363.4 2799.8L1365.9 2799.8L1368.4 2798.5L1370.9 2799.4L1373.4 2798.5L1376.0 2800.3L1378.5 2798.8L1381.0 2798.7L1383.5 2800.3L1386.0 2800.0L1388.6 2799.2L1391.1 2800.7L1393.6 2799.9L1396.1 2799.9L1398.6 2799.8L1401.1 2799.7L1403.7 2799.3L1406.2 2800.5L1408.7 2800.3L1411.2 2800.4L1413.7 2801.0L1416.3 2801.3L1418.8 2801.1L1421.3 2800.4L1423.8 2801.6L1426.3 2801.9L1428.9 2800.9L1431.4 2800.6L1433.9 2800.5L1436.4 2801.8L1438.9 2802.1L1441.4 2801.4L1444.0 2801.7L1446.5 2801.4L1449.0 2801.6L1451.5 2801.9L1454.0 2801.8L1456.6 2802.0L1459.1 2803.0L1461.6 2802.4L1464.1 2802.3L1466.6 2802.7L1469.2 2803.5L1471.7 2803.5L1474.2 2802.3L1476.7 2803.7L1479.2 2804.0L1481.7 2802.4L1484.3 2803.7L1486.8 2803.0L1489.3 2803.3L1491.8 2802.8L1494.3 2804.2L1496.9 2804.7L1499.4 2804.2L1501.9 2803.3L1504.4 2804.2L1506.9 2804.3L1509.5 2805.2L1512.0 2804.8L1514.5 2804.2L1517.0 2804.6L1519.5 2803.7L1522.0 2804.3L1524.6 2804.4L1527.1 2804.7L1529.6 2804.5L1532.1 2805.0L1534.6 2804.5L1537.2 2806.2L1539.7 2804.4L1542.2 2805.6L1544.7 2805.0L1547.2 2804.7L1549.8 2806.3L1552.3 2804.7L1554.8 2805.2L1557.3 2806.8L1559.8 2806.6L1562.3 2806.3L1564.9 2806.1L1567.4 2805.5L1569.9 2807.2L1572.4 2807.3L1574.9 2807.4L1577.5 2806.2L1580.0 2806.2L1582.5 2807.2L1585.0 2807.5L1587.5 2806.5L1590.1 2807.2L1592.6 2807.6L1595.1 2808.1L1597.6 2806.6L1600.1 2807.4L1602.6 2808.2L1605.2 2808.5L1607.7 2807.3L1610.2 2806.8L1612.7 2808.6L1615.2 2807.0L1617.8 2807.7L1620.3 2807.6L1622.8 2809.1L1625.3 2808.4L1627.8 2807.6L1630.4 2807.9L1632.9 2808.8L1635.4 2809.2L1637.9 2809.5L1640.4 2808.0L1642.9 2808.1L1645.5 2809.0L1648.0 2809.9L1650.5 2809.4L1653.0 2809.1L1655.5 2809.6L1658.1 2809.8L1660.6 2808.9L1663.1 2808.9L1665.6 2810.4L1668.1 2810.4L1670.7 2809.9L1673.2 2810.3L1675.7 2809.4L1678.2 2808.8L1680.7 2809.9L1683.2 2810.5L1685.8 2808.9L1688.3 2810.7L1690.8 2809.3L1693.3 2809.2L1695.8 2810.1L1698.4 2810.7L1700.9 2809.0L1703.4 2810.3L1705.9 2809.6L1708.4 2810.1L1711.0 2810.5L1713.5 2810.0L1716.0 2810.2L1718.5 2809.5L1721.0 2810.2L1723.5 2809.8L1726.1 2809.2L1728.6 2810.3L1731.1 2811.1L1733.6 2811.0L1736.1 2809.7L1738.7 2809.2L1741.2 2810.2L1743.7 2810.2L1746.2 2809.8L1748.7 2810.3L1751.2 2809.7L1753.8 2810.3L1756.3 2810.3L1758.8 2809.9L1761.3 2809.9L1763.8 2811.0L1766.4 2811.3L1768.9 2810.1L1771.4 2810.8L1773.9 2811.2L1776.4 2810.1L1779.0 2809.9L1781.5 2810.1L1784.0 2811.3L1786.5 2810.9L1789.0 2809.7L1791.5 2811.4L1794.1 2811.0L1796.6 2810.5L1799.1 2811.1L1801.6 2809.7L1804.1 2811.3L1806.7 2810.9L1809.2 2810.2L1811.7 2810.9L1814.2 2810.0L1816.7 2811.3L1819.3 2810.7L1821.8 2810.2L1824.3 2810.4L1826.8 2810.8L1829.3 2810.4L1831.8 2809.8L1834.4 2811.4L1836.9 2810.2L1839.4 2811.2L1841.9 2810.5L1844.4 2811.1L1847.0 2810.9L1849.5 2809.9L1852.0 2811.6L1854.5 2810.2L1857.0 2810.8L1859.6 2811.5L1862.1 2809.9L1864.6 2810.9L1867.1 2811.0L1869.6 2810.2L1872.1 2810.2L1874.7 2810.7L1877.2 2810.4L1879.7 2810.4L1882.2 2810.9L1884.7 2810.4L1887.3 2810.1L1889.8 2811.4L1892.3 2810.4L1894.8 2811.5L1897.3 2811.2L1899.9 2811.1L1902.4 2811.8L1904.9 2810.4L1907.4 2812.0L1909.9 2811.6L1912.4 2810.3L1915.0 2810.6L1917.5 2811.4L1920.0 2810.1L1922.5 2810.8L1925.0 2811.3L1927.6 2810.5L1930.1 2810.4L1932.6 2811.8L1935.1 2810.8L1937.6 2811.7L1940.2 2810.8L1942.7 2810.6L1945.2 2812.1L1947.7 2811.8L1950.2 2811.1L1952.7 2810.7L1955.3 2812.0L1957.8 2810.6L1960.3 2811.9L1962.8 2811.3L1965.3 2811.2L1967.9 2810.6L1970.4 2812.1L1972.9 2810.9L1975.4 2810.5L1977.9 2810.3L1980.5 2811.2L1983.0 2811.2L1985.5 2810.9L1988.0 2812.2L1990.5 2811.9L1993.0 2811.4L1995.6 2811.2L1998.1 2810.3L2000.6 2810.6L2003.1 2812.0L2005.6 2810.9L2008.2 2812.1L2010.7 2811.1L2013.2 2810.5L2015.7 2812.2L2018.2 2811.7L2020.8 2811.6L2023.3 2812.0L2025.8 2811.4L2028.3 2811.6L2030.8 2810.4L2033.3 2812.3L2035.9 2812.0L2038.4 2812.5L2040.9 2810.8L2043.4 2811.8L2045.9 2812.2L2048.5 2811.3L2051.0 2810.5L2053.5 2811.3L2056.0 2811.3L2058.5 2811.9L2061.1 2810.6L2063.6 2812.5L2066.1 2811.0L2068.6 2812.1L2071.1 2812.5L2073.6 2811.5L2076.2 2811.5L2078.7 2811.0L2081.2 2810.6L2083.7 2812.4L2086.2 2812.2L2088.8 2812.3L2091.3 2810.7L2093.8 2811.4L2096.3 2810.8L2098.8 2812.2L2101.4 2811.7L2103.9 2811.8L2106.4 2811.3L2108.9 2812.3L2111.4 2810.9L2113.9 2811.5L2116.5 2810.7L2119.0 2812.2L2121.5 2812.4L2124.0 2811.0L2126.5 2811.4L2129.1 2811.1L2131.6 2811.8L2134.1 2812.4L2136.6 2810.9L2139.1 2810.6L2141.7 2810.8L2144.2 2810.6L2146.7 2812.0L2149.2 2811.3L2151.7 2811.0L2154.2 2811.8L2156.8 2811.7L2159.3 2811.1L2161.8 2812.1"/>
<path stroke="#4a9edc" d="M398.7 2120.8L401.2 2092.3L403.7 2063.6L406.3 2046.8L408.8 2030.0L411.3 2037.3L413.8 2050.0L416.3 2063.4L418.8 2077.2L421.4 2090.3L423.9 2104.2L426.4 2116.9L428.9 2131.1L431.4 2143.8L434.0 2157.5L436.5 2178.4L439.0 2201.0L441.5 2224.4L444.0 2247.0L446.6 2269.8L449.1 2291.9L451.6 2315.3L454.1 2337.3L456.6 2360.0L459.1 2381.1L461.7 2398.8L464.2 2414.6L466.7 2429.5L469.2 2443.9L471.7 2456.7L474.3 2469.5L476.8 2481.1L479.3 2491.8L481.8 2502.7L484.3 2511.9L486.9 2521.8L489.4 2530.2L491.9 2538.3L494.4 2546.9L496.9 2554.8L499.4 2562.9L502.0 2569.8L504.5 2578.0L507.0 2585.2L509.5 2592.8L512.0 2599.8L514.6 2606.2L517.1 2611.6L519.6 2616.0L522.1 2619.5L524.6 2623.7L527.2 2626.8L529.7 2629.9L532.2 2632.5L534.7 2634.9L537.2 2636.5L539.7 2639.0L542.3 2640.2L544.8 2642.1L547.3 2642.8L549.8 2644.4L552.3 2645.5L554.9 2646.6L557.4 2647.3L559.9 2648.3L562.4 2650.2L564.9 2651.1L567.5 2652.0L570.0 2653.1L572.5 2654.8L575.0 2655.5L577.5 2657.3L580.0 2658.1L582.6 2659.7L585.1 2660.4L587.6 2662.4L590.1 2663.4L592.6 2664.2L595.2 2665.9L597.7 2667.3L600.2 2668.1L602.7 2670.3L605.2 2671.3L607.8 2672.9L610.3 2674.6L612.8 2676.0L615.3 2677.7L617.8 2678.6L620.3 2680.7L622.9 2682.0L625.4 2683.6L627.9 2685.8L630.4 2687.1L632.9 2689.1L635.5 2690.6L638.0 2691.9L640.5 2693.5L643.0 2694.5L645.5 2696.2L648.1 2697.3L650.6 2698.6L653.1 2700.2L655.6 2701.6L658.1 2702.4L660.6 2704.1L663.2 2705.2L665.7 2706.5L668.2 2707.7L670.7 2708.6L673.2 2710.3L675.8 2711.3L678.3 2712.7L680.8 2713.8L683.3 2715.0L685.8 2716.5L688.4 2717.8L690.9 2719.2L693.4 2720.6L695.9 2721.6L698.4 2722.7L700.9 2724.2L703.5 2725.7L706.0 2727.0L708.5 2727.8L711.0 2729.2L713.5 2730.5L716.1 2731.4L718.6 2732.6L721.1 2734.5L723.6 2735.1L726.1 2736.6L728.7 2738.1L731.2 2739.2L733.7 2739.7L736.2 2741.2L738.7 2742.1L741.2 2743.3L743.8 2743.9L746.3 2745.0L748.8 2745.8L751.3 2747.4L753.8 2748.2L756.4 2748.7L758.9 2749.7L761.4 2751.0L763.9 2751.8L766.4 2752.2L769.0 2753.1L771.5 2754.3L774.0 2754.3L776.5 2755.1L779.0 2756.5L781.5 2757.3L784.1 2757.8L786.6 2758.9L789.1 2759.3L791.6 2760.1L794.1 2760.7L796.7 2761.4L799.2 2762.6L801.7 2763.0L804.2 2763.6L806.7 2764.2L809.3 2765.3L811.8 2765.8L814.3 2766.2L816.8 2766.7L819.3 2766.6L821.8 2767.6L824.4 2767.7L826.9 2768.7L829.4 2769.1L831.9 2768.9L834.4 2770.0L837.0 2770.5L839.5 2770.1L842.0 2771.1L844.5 2771.5L847.0 2771.2L849.5 2772.0L852.1 2771.5L854.6 2772.1L857.1 2772.3L859.6 2772.5L862.1 2772.5L864.7 2773.1L867.2 2772.9L869.7 2772.6L872.2 2772.9L874.7 2773.1L877.3 2773.5L879.8 2773.9L882.3 2773.9L884.8 2773.6L887.3 2773.9L889.8 2774.0L892.4 2774.5L894.9 2774.0L897.4 2774.3L899.9 2773.4L902.4 2774.3L905.0 2774.4L907.5 2774.4L910.0 2774.2L912.5 2774.3L915.0 2774.6L917.6 2774.0L920.1 2774.2L922.6 2774.6L925.1 2773.8L927.6 2773.5L930.1 2774.7L932.7 2774.0L935.2 2775.1L937.7 2774.1L940.2 2774.6L942.7 2775.4L945.3 2773.9L947.8 2774.0L950.3 2773.8L952.8 2773.6L955.3 2775.3L957.9 2774.3L960.4 2773.6L962.9 2775.3L965.4 2774.1L967.9 2775.2L970.4 2774.6L973.0 2773.7L975.5 2774.4L978.0 2775.0L980.5 2774.1L983.0 2774.0L985.6 2773.6L988.1 2774.5L990.6 2774.7L993.1 2774.8L995.6 2773.7L998.2 2773.6L1000.7 2774.0L1003.2 2775.1L1005.7 2774.1L1008.2 2775.3L1010.7 2775.1L1013.3 2775.2L1015.8 2775.2L1018.3 2774.2L1020.8 2775.3L1023.3 2774.1L1025.9 2773.7L1028.4 2774.5L1030.9 2774.6L1033.4 2775.4L1035.9 2774.1L1038.5 2775.3L1041.0 2775.3L1043.5 2773.4L1046.0 2774.0L1048.5 2775.2L1051.0 2774.4L1053.6 2775.1L1056.1 2773.9L1058.6 2773.8L1061.1 2775.3L1063.6 2773.4L1066.2 2773.7L1068.7 2774.1L1071.2 2774.9L1073.7 2774.8L1076.2 2775.4L1078.8 2774.1L1081.3 2775.3L1083.8 2774.3L1086.3 2774.8L1088.8 2774.6L1091.3 2774.0L1093.9 2775.0L1096.4 2773.7L1098.9 2774.0L1101.4 2775.1L1103.9 2775.3L1106.5 2774.1L1109.0 2773.8L1111.5 2774.9L1114.0 2774.0L1116.5 2774.2L1119.1 2774.0L1121.6 2773.9L1124.1 2775.7L1126.6 2775.8L1129.1 2774.9L1131.6 2775.3L1134.2 2774.7L1136.7 2775.4L1139.2 2775.1L1141.7 2776.8L1144.2 2776.4L1146.8 2776.7L1149.3 2777.5L1151.8 2776.9L1154.3 2776.4L1156.8 2777.0L1159.4 2777.1L1161.9 2778.8L1164.4 2777.9L1166.9 2778.4L1169.4 2778.4L1171.9 2779.2L1174.5 2779.9L1177.0 2780.1L1179.5 2779.2L1182.0 2779.5L1184.5 2780.7L1187.1 2780.2L1189.6 2781.1L1192.1 2780.1L1194.6 2781.1L1197.1 2781.3L1199.7 2783.0L1202.2 2782.7L1204.7 2782.5L1207.2 2782.4L1209.7 2784.4L1212.2 2783.7L1214.8 2783.7L1217.3 2783.6L1219.8 2785.9L1222.3 2785.2L1224.8 2786.0L1227.4 2785.3L1229.9 2786.0L1232.4 2787.1L1234.9 2786.5L1237.4 2787.1L1240.0 2787.0L1242.5 2787.5L1245.0 2789.6L1247.5 2788.7L1250.0 2789.2L1252.5 2788.8L1255.1 2789.4L1257.6 2790.8L1260.1 2791.0L1262.6 2791.3L1265.1 2791.1L1267.7 2791.1L1270.2 2792.9L1272.7 2791.9L1275.2 2793.3L1277.7 2792.6L1280.2 2793.1L1282.8 2794.5L1285.3 2793.7L1287.8 2793.4L1290.3 2794.9L1292.8 2795.9L1295.4 2795.5L1297.9 2795.7L1300.4 2795.0L1302.9 2795.2L1305.4 2796.7L1308.0 2796.7L1310.5 2796.6L1313.0 2796.9L1315.5 2798.0L1318.0 2796.8L1320.5 2798.7L1323.1 2797.2L1325.6 2798.9L1328.1 2797.5L1330.6 2797.9L1333.1 2799.1L1335.7 2799.2L1338.2 2798.6L1340.7 2799.1L1343.2 2798.4L1345.7 2799.7L1348.3 2799.9L1350.8 2799.4L1353.3 2800.4L1355.8 2800.4L1358.3 2800.6L1360.8 2801.1L1363.4 2801.3L1365.9 2801.0L1368.4 2800.1L1370.9 2801.5L1373.4 2800.5L1376.0 2800.2L1378.5 2801.7L1381.0 2802.2L1383.5 2802.3L1386.0 2802.0L1388.6 2801.9L1391.1 2801.7L1393.6 2801.8L1396.1 2802.6L1398.6 2802.1L1401.1 2802.8L1403.7 2802.9L1406.2 2803.4L1408.7 2802.4L1411.2 2803.8L1413.7 2802.8L1416.3 2802.3L1418.8 2804.1L1421.3 2802.4L1423.8 2802.7L1426.3 2803.0L1428.9 2803.9L1431.4 2804.4L1433.9 2802.9L1436.4 2804.5L1438.9 2803.4L1441.4 2804.1L1444.0 2804.7L1446.5 2804.6L1449.0 2805.0L1451.5 2804.2L1454.0 2804.3L1456.6 2805.7L1459.1 2805.4L1461.6 2806.1L1464.1 2805.4L1466.6 2804.6L1469.2 2804.9L1471.7 2806.3L1474.2 2806.5L1476.7 2806.5L1479.2 2806.0L1481.7 2805.0L1484.3 2805.7L1486.8 2805.8L1489.3 2806.9L1491.8 2805.6L1494.3 2806.2L1496.9 2805.8L1499.4 2806.1L1501.9 2806.7L1504.4 2806.4L1506.9 2806.0L1509.5 2807.2L1512.0 2807.4L1514.5 2807.3L1517.0 2807.3L1519.5 2808.1L1522.0 2806.8L1524.6 2807.8L1527.1 2807.8L1529.6 2807.8L1532.1 2807.5L1534.6 2807.6L1537.2 2808.9L1539.7 2808.2L1542.2 2808.9L1544.7 2807.5L1547.2 2809.2L1549.8 2808.6L1552.3 2809.1L1554.8 2809.4L1557.3 2809.0L1559.8 2807.9L1562.3 2808.2L1564.9 2809.0L1567.4 2809.0L1569.9 2808.2L1572.4 2808.2L1574.9 2810.2L1577.5 2808.4L1580.0 2809.4L1582.5 2809.8L1585.0 2810.4L1587.5 2810.5L1590.1 2809.7L1592.6 2809.5L1595.1 2809.3L1597.6 2810.3L1600.1 2810.3L1602.6 2809.7L1605.2 2811.0L1607.7 2809.5L1610.2 2809.9L1612.7 2810.4L1615.2 2810.3L1617.8 2809.9L1620.3 2810.9L1622.8 2810.5L1625.3 2810.5L1627.8 2811.8L1630.4 2810.8L1632.9 2810.6L1635.4 2811.1L1637.9 2811.7L1640.4 2810.8L1642.9 2811.3L1645.5 2811.8L1648.0 2812.1L1650.5 2812.1L1653.0 2811.1L1655.5 2811.5L1658.1 2812.3L1660.6 2812.6L1663.1 2811.9L1665.6 2812.8L1668.1 2813.1L1670.7 2812.0L1673.2 2812.6L1675.7 2812.4L1678.2 2811.4L1680.7 2813.1L1683.2 2812.7L1685.8 2811.9L1688.3 2812.2L1690.8 2812.7L1693.3 2811.6L1695.8 2812.4L1698.4 2813.6L1700.9 2813.6L1703.4 2812.1L1705.9 2812.3L1708.4 2813.3L1711.0 2812.1L1713.5 2812.1L1716.0 2812.8L1718.5 2813.8L1721.0 2812.9L1723.5 2813.2L1726.1 2813.7L1728.6 2812.6L1731.1 2813.3L1733.6 2812.3L1736.1 2812.3L1738.7 2813.8L1741.2 2813.3L1743.7 2813.4L1746.2 2814.3L1748.7 2813.8L1751.2 2813.5L1753.8 2812.8L1756.3 2813.3L1758.8 2813.7L1761.3 2814.3L1763.8 2812.8L1766.4 2813.1L1768.9 2813.6L1771.4 2814.4L1773.9 2813.5L1776.4 2813.8L1779.0 2813.3L1781.5 2814.5L1784.0 2813.0L1786.5 2814.8L1789.0 2813.7L1791.5 2813.0L1794.1 2814.7L1796.6 2815.1L1799.1 2814.4L1801.6 2814.0L1804.1 2815.0L1806.7 2814.0L1809.2 2813.8L1811.7 2814.5L1814.2 2815.0L1816.7 2815.1L1819.3 2814.4L1821.8 2813.4L1824.3 2814.5L1826.8 2814.6L1829.3 2813.9L1831.8 2813.6L1834.4 2814.1L1836.9 2813.6L1839.4 2814.6L1841.9 2814.9L1844.4 2814.3L1847.0 2814.9L1849.5 2813.8L1852.0 2814.8L1854.5 2815.4L1857.0 2814.3L1859.6 2815.4L1862.1 2814.8L1864.6 2814.5L1867.1 2814.4L1869.6 2814.3L1872.1 2813.9L1874.7 2814.2L1877.2 2815.4L1879.7 2815.7L1882.2 2814.6L1884.7 2815.5L1887.3 2815.2L1889.8 2814.0L1892.3 2814.3L1894.8 2814.2L1897.3 2815.3L1899.9 2815.7L1902.4 2816.0L1904.9 2814.4L1907.4 2815.8L1909.9 2816.0L1912.4 2814.5L1915.0 2814.6L1917.5 2814.6L1920.0 2814.5L1922.5 2815.9L1925.0 2815.6L1927.6 2814.7L1930.1 2814.6L1932.6 2814.2L1935.1 2816.0L1937.6 2814.7L1940.2 2814.8L1942.7 2815.2L1945.2 2815.0L1947.7 2816.1L1950.2 2815.6L1952.7 2815.6L1955.3 2816.0L1957.8 2814.9L1960.3 2816.0L1962.8 2814.4L1965.3 2815.2L1967.9 2816.1L1970.4 2814.5L1972.9 2816.1L1975.4 2815.2L1977.9 2815.3L1980.5 2814.6L1983.0 2815.6L1985.5 2815.0L1988.0 2816.1L1990.5 2816.0L1993.0 2815.4L1995.6 2815.1L1998.1 2816.3L2000.6 2816.2L2003.1 2816.1L2005.6 2814.6L2008.2 2816.1L2010.7 2814.7L2013.2 2815.2L2015.7 2815.4L2018.2 2815.7L2020.8 2814.8L2023.3 2816.2L2025.8 2815.8L2028.3 2816.3L2030.8 2816.2L2033.3 2816.1L2035.9 2816.3L2038.4 2815.0L2040.9 2815.4L2043.4 2816.1L2045.9 2816.5L2048.5 2816.1L2051.0 2816.5L2053.5 2814.7L2056.0 2814.9L2058.5 2814.8L2061.1 2815.1L2063.6 2816.4L2066.1 2815.6L2068.6 2815.1L2071.1 2816.6L2073.6 2815.1L2076.2 2815.7L2078.7 2816.3L2081.2 2814.9L2083.7 2815.1L2086.2 2816.4L2088.8 2815.8L2091.3 2816.6L2093.8 2816.3L2096.3 2816.1L2098.8 2815.0L2101.4 2815.2L2103.9 2814.8L2106.4 2815.2L2108.9 2816.0L2111.4 2816.3L2113.9 2816.3L2116.5 2815.9L2119.0 2815.6L2121.5 2814.9L2124.0 2816.8L2126.5 2816.1L2129.1 2816.5L2131.6 2815.5L2134.1 2816.5L2136.6 2815.7L2139.1 2816.0L2141.7 2815.3L2144.2 2816.9L2146.7 2816.5L2149.2 2816.2L2151.7 2815.9L2154.2 2815.3L2156.8 2815.4L2159.3 2816.2L2161.8 2816.0"/>
<path stroke="#33c400" d="M398.7 2142.7L401.2 2113.8L403.7 2084.7L406.3 2068.0L408.8 2049.6L411.3 2055.9L413.8 2066.8L416.3 2078.5L418.8 2090.1L421.4 2101.8L423.9 2113.0L426.4 2125.0L428.9 2136.6L431.4 2147.6L434.0 2159.7L436.5 2170.8L439.0 2189.9L441.5 2208.8L444.0 2228.7L446.6 2248.4L449.1 2267.5L451.6 2287.4L454.1 2306.9L456.6 2326.2L459.1 2345.4L461.7 2365.3L464.2 2382.2L466.7 2398.6L469.2 2413.9L471.7 2429.0L474.3 2442.6L476.8 2456.0L479.3 2469.2L481.8 2480.9L484.3 2491.0L486.9 2501.7L489.4 2510.5L491.9 2519.9L494.4 2528.9L496.9 2536.8L499.4 2545.7L502.0 2553.9L504.5 2562.2L507.0 2570.4L509.5 2577.7L512.0 2585.0L514.6 2591.8L517.1 2596.7L519.6 2601.3L522.1 2606.0L524.6 2610.1L527.2 2614.0L529.7 2617.1L532.2 2620.8L534.7 2622.7L537.2 2625.5L539.7 2627.0L542.3 2628.4L544.8 2630.6L547.3 2631.2L549.8 2632.7L552.3 2634.0L554.9 2635.0L557.4 2635.3L559.9 2636.7L562.4 2637.9L564.9 2638.4L567.5 2639.8L570.0 2641.2L572.5 2642.7L575.0 2643.1L577.5 2645.3L580.0 2646.3L582.6 2647.4L585.1 2649.2L587.6 2649.9L590.1 2651.2L592.6 2652.7L595.2 2654.1L597.7 2656.2L600.2 2657.6L602.7 2658.6L605.2 2659.9L607.8 2661.8L610.3 2663.1L612.8 2664.8L615.3 2666.8L617.8 2667.7L620.3 2669.5L622.9 2671.2L625.4 2673.0L627.9 2674.9L630.4 2676.8L632.9 2677.9L635.5 2679.8L638.0 2680.8L640.5 2682.9L643.0 2683.5L645.5 2685.5L648.1 2686.2L650.6 2687.3L653.1 2689.2L655.6 2690.3L658.1 2691.0L660.6 2692.6L663.2 2693.4L665.7 2694.6L668.2 2695.5L670.7 2696.8L673.2 2698.5L675.8 2699.6L678.3 2700.7L680.8 2701.3L683.3 2702.8L685.8 2703.8L688.4 2705.1L690.9 2706.5L693.4 2708.1L695.9 2709.5L698.4 2710.5L700.9 2711.2L703.5 2712.7L706.0 2713.8L708.5 2715.4L711.0 2716.4L713.5 2717.4L716.1 2718.3L718.6 2720.1L721.1 2720.5L723.6 2722.0L726.1 2722.9L728.7 2724.3L731.2 2725.3L733.7 2726.0L736.2 2727.5L738.7 2729.0L741.2 2729.3L743.8 2730.7L746.3 2732.0L748.8 2732.6L751.3 2733.7L753.8 2734.4L756.4 2735.7L758.9 2736.0L761.4 2737.2L763.9 2737.8L766.4 2738.7L769.0 2740.1L771.5 2740.7L774.0 2741.4L776.5 2742.3L779.0 2742.9L781.5 2744.4L784.1 2745.2L786.6 2746.1L789.1 2746.4L791.6 2747.2L794.1 2747.9L796.7 2748.8L799.2 2750.2L801.7 2750.4L804.2 2751.2L806.7 2751.8L809.3 2752.8L811.8 2753.2L814.3 2754.1L816.8 2754.3L819.3 2755.0L821.8 2755.6L824.4 2756.5L826.9 2756.5L829.4 2757.7L831.9 2758.1L834.4 2758.7L837.0 2758.6L839.5 2759.2L842.0 2759.7L844.5 2759.9L847.0 2760.4L849.5 2760.6L852.1 2760.6L854.6 2761.5L857.1 2761.1L859.6 2761.9L862.1 2761.7L864.7 2762.1L867.2 2761.8L869.7 2762.2L872.2 2762.5L874.7 2763.0L877.3 2763.3L879.8 2763.1L882.3 2763.3L884.8 2763.2L887.3 2763.1L889.8 2763.7L892.4 2764.0L894.9 2763.8L897.4 2763.3L899.9 2764.1L902.4 2763.3L905.0 2763.6L907.5 2762.6L910.0 2763.4L912.5 2762.4L915.0 2763.8L917.6 2762.7L920.1 2763.3L922.6 2763.5L925.1 2763.2L927.6 2763.4L930.1 2763.5L932.7 2763.5L935.2 2764.5L937.7 2764.3L940.2 2764.2L942.7 2762.7L945.3 2763.4L947.8 2763.9L950.3 2764.0L952.8 2764.7L955.3 2762.7L957.9 2763.2L960.4 2762.8L962.9 2762.8L965.4 2764.1L967.9 2762.9L970.4 2764.0L973.0 2763.8L975.5 2763.6L978.0 2763.7L980.5 2763.1L983.0 2762.4L985.6 2762.3L988.1 2762.9L990.6 2762.5L993.1 2761.7L995.6 2762.7L998.2 2763.0L1000.7 2762.5L1003.2 2762.4L1005.7 2762.5L1008.2 2761.9L1010.7 2762.3L1013.3 2761.8L1015.8 2760.6L1018.3 2761.8L1020.8 2760.7L1023.3 2761.2L1025.9 2760.1L1028.4 2760.9L1030.9 2761.5L1033.4 2760.9L1035.9 2759.4L1038.5 2759.2L1041.0 2760.7L1043.5 2759.4L1046.0 2759.8L1048.5 2760.3L1051.0 2760.3L1053.6 2758.4L1056.1 2759.1L1058.6 2758.6L1061.1 2759.4L1063.6 2758.8L1066.2 2759.0L1068.7 2758.4L1071.2 2758.2L1073.7 2757.4L1076.2 2757.9L1078.8 2758.5L1081.3 2757.2L1083.8 2757.3L1086.3 2757.2L1088.8 2758.4L1091.3 2757.1L1093.9 2757.4L1096.4 2758.3L1098.9 2757.6L1101.4 2757.3L1103.9 2757.8L1106.5 2758.4L1109.0 2757.5L1111.5 2759.3L1114.0 2758.0L1116.5 2758.9L1119.1 2758.0L1121.6 2757.9L1124.1 2758.7L1126.6 2759.6L1129.1 2760.3L1131.6 2759.2L1134.2 2759.2L1136.7 2760.4L1139.2 2760.9L1141.7 2759.9L1144.2 2760.1L1146.8 2761.4L1149.3 2760.6L1151.8 2761.3L1154.3 2762.3L1156.8 2762.3L1159.4 2762.5L1161.9 2762.3L1164.4 2762.0L1166.9 2763.4L1169.4 2763.1L1171.9 2762.9L1174.5 2765.2L1177.0 2764.0L1179.5 2765.5L1182.0 2766.1L1184.5 2765.9L1187.1 2765.5L1189.6 2766.7L1192.1 2767.0L1194.6 2766.3L1197.1 2767.0L1199.7 2768.4L1202.2 2767.7L1204.7 2767.6L1207.2 2769.0L1209.7 2769.3L1212.2 2769.6L1214.8 2770.1L1217.3 2769.9L1219.8 2771.5L1222.3 2770.4L1224.8 2772.3L1227.4 2772.4L1229.9 2771.8L1232.4 2772.8L1234.9 2773.5L1237.4 2774.3L1240.0 2773.4L1242.5 2774.3L1245.0 2775.0L1247.5 2774.7L1250.0 2776.5L1252.5 2776.3L1255.1 2777.1L1257.6 2777.2L1260.1 2778.3L1262.6 2777.5L1265.1 2778.7L1267.7 2777.8L1270.2 2778.3L1272.7 2779.4L1275.2 2779.4L1277.7 2780.1L1280.2 2779.5L1282.8 2779.9L1285.3 2781.2L1287.8 2780.6L1290.3 2781.9L1292.8 2782.5L1295.4 2782.1L1297.9 2783.1L1300.4 2783.4L1302.9 2783.9L1305.4 2782.9L1308.0 2783.1L1310.5 2783.7L1313.0 2784.3L1315.5 2784.6L1318.0 2786.0L1320.5 2784.6L1323.1 2786.3L1325.6 2785.6L1328.1 2786.7L1330.6 2785.8L1333.1 2786.1L1335.7 2786.2L1338.2 2787.9L1340.7 2788.0L1343.2 2788.5L1345.7 2788.4L1348.3 2788.5L1350.8 2787.7L1353.3 2787.8L1355.8 2788.6L1358.3 2788.3L1360.8 2789.9L1363.4 2789.3L1365.9 2789.5L1368.4 2790.0L1370.9 2789.4L1373.4 2789.8L1376.0 2790.9L1378.5 2790.1L1381.0 2789.8L1383.5 2790.8L1386.0 2790.7L1388.6 2790.8L1391.1 2790.6L1393.6 2791.7L1396.1 2792.0L1398.6 2792.3L1401.1 2792.7L1403.7 2791.4L1406.2 2792.4L1408.7 2791.8L1411.2 2793.6L1413.7 2793.4L1416.3 2792.3L1418.8 2792.4L1421.3 2793.9L1423.8 2793.2L1426.3 2794.8L1428.9 2794.4L1431.4 2793.5L1433.9 2795.6L1436.4 2795.6L1438.9 2795.6L1441.4 2796.0L1444.0 2794.5L1446.5 2795.4L1449.0 2796.2L1451.5 2795.3L1454.0 2796.9L1456.6 2796.6L1459.1 2797.5L1461.6 2797.7L1464.1 2797.9L1466.6 2797.3L1469.2 2798.0L1471.7 2798.3L1474.2 2796.7L1476.7 2798.4L1479.2 2798.4L1481.7 2798.7L1484.3 2797.9L1486.8 2798.6L1489.3 2798.5L1491.8 2798.7L1494.3 2798.5L1496.9 2797.9L1499.4 2798.0L1501.9 2799.0L1504.4 2798.9L1506.9 2798.8L1509.5 2798.9L1512.0 2798.1L1514.5 2798.7L1517.0 2798.9L1519.5 2799.0L1522.0 2799.7L1524.6 2798.3L1527.1 2798.1L1529.6 2798.5L1532.1 2798.4L1534.6 2797.9L1537.2 2798.4L1539.7 2799.5L1542.2 2798.2L1544.7 2799.2L1547.2 2799.6L1549.8 2799.3L1552.3 2799.6L1554.8 2798.4L1557.3 2799.0L1559.8 2799.6L1562.3 2800.4L1564.9 2799.5L1567.4 2800.1L1569.9 2800.0L1572.4 2800.3L1574.9 2800.3L1577.5 2799.3L1580.0 2800.6L1582.5 2801.0L1585.0 2799.4L1587.5 2799.7L1590.1 2800.4L1592.6 2800.7L1595.1 2799.5L1597.6 2799.7L1600.1 2799.7L1602.6 2800.1L1605.2 2799.9L1607.7 2801.3L1610.2 2800.5L1612.7 2800.7L1615.2 2800.2L1617.8 2800.2L1620.3 2801.0L1622.8 2801.0L1625.3 2801.7L1627.8 2800.9L1630.4 2801.0L1632.9 2802.0L1635.4 2802.4L1637.9 2800.8L1640.4 2802.2L1642.9 2802.4L1645.5 2801.5L1648.0 2802.7L1650.5 2802.6L1653.0 2802.2L1655.5 2801.5L1658.1 2802.0L1660.6 2802.2L1663.1 2803.4L1665.6 2803.1L1668.1 2802.6L1670.7 2803.6L1673.2 2803.2L1675.7 2802.1L1678.2 2801.8L1680.7 2802.7L1683.2 2803.1L1685.8 2802.6L1688.3 2802.4L1690.8 2802.8L1693.3 2803.5L1695.8 2804.0L1698.4 2803.2L1700.9 2803.1L1703.4 2803.3L1705.9 2804.0L1708.4 2802.8L1711.0 2803.0L1713.5 2803.9L1716.0 2803.4L1718.5 2803.7L1721.0 2804.5L1723.5 2803.7L1726.1 2803.9L1728.6 2803.2L1731.1 2803.2L1733.6 2803.5L1736.1 2804.5L1738.7 2803.5L1741.2 2803.3L1743.7 2804.7L1746.2 2803.3L1748.7 2803.2L1751.2 2803.5L1753.8 2803.6L1756.3 2804.1L1758.8 2804.2L1761.3 2804.2L1763.8 2804.2L1766.4 2804.2L1768.9 2803.7L1771.4 2804.5L1773.9 2803.6L1776.4 2805.4L1779.0 2804.3L1781.5 2804.0L1784.0 2804.6L1786.5 2803.9L1789.0 2805.2L1791.5 2804.4L1794.1 2803.9L1796.6 2804.4L1799.1 2804.5L1801.6 2805.1L1804.1 2803.8L1806.7 2804.7L1809.2 2805.1L1811.7 2805.3L1814.2 2804.4L1816.7 2804.9L1819.3 2804.2L1821.8 2804.6L1824.3 2805.8L1826.8 2804.3L1829.3 2805.8L1831.8 2805.6L1834.4 2804.1L1836.9 2805.9L1839.4 2804.4L1841.9 2805.4L1844.4 2805.3L1847.0 2804.9L1849.5 2804.8L1852.0 2805.3L1854.5 2804.4L1857.0 2805.6L1859.6 2805.1L1862.1 2804.6L1864.6 2805.9L1867.1 2804.4L1869.6 2804.3L1872.1 2805.0L1874.7 2804.7L1877.2 2804.6L1879.7 2804.3L1882.2 2805.7L1884.7 2806.0L1887.3 2806.3L1889.8 2806.3L1892.3 2805.4L1894.8 2804.9L1897.3 2805.0L1899.9 2804.5L1902.4 2805.6L1904.9 2804.9L1907.4 2805.4L1909.9 2806.1L1912.4 2804.6L1915.0 2805.0L1917.5 2804.8L1920.0 2805.8L1922.5 2805.9L1925.0 2806.2L1927.6 2805.3L1930.1 2806.0L1932.6 2806.0L1935.1 2806.1L1937.6 2804.6L1940.2 2804.8L1942.7 2805.9L1945.2 2805.3L1947.7 2806.1L1950.2 2806.6L1952.7 2806.6L1955.3 2806.2L1957.8 2805.8L1960.3 2805.1L1962.8 2805.5L1965.3 2806.6L1967.9 2804.9L1970.4 2805.1L1972.9 2805.4L1975.4 2806.6L1977.9 2806.5L1980.5 2805.6L1983.0 2806.4L1985.5 2806.5L1988.0 2806.8L1990.5 2805.3L1993.0 2805.6L1995.6 2805.0L1998.1 2806.2L2000.6 2806.4L2003.1 2804.9L2005.6 2805.2L2008.2 2806.0L2010.7 2806.9L2013.2 2805.1L2015.7 2805.5L2018.2 2806.8L2020.8 2805.5L2023.3 2806.4L2025.8 2805.8L2028.3 2806.0L2030.8 2805.5L2033.3 2805.5L2035.9 2805.0L2038.4 2805.4L2040.9 2806.5L2043.4 2806.4L2045.9 2806.4L2048.5 2806.3L2051.0 2806.0L2053.5 2806.4L2056.0 2806.6L2058.5 2806.1L2061.1 2806.0L2063.6 2806.9L2066.1 2806.5L2068.6 2806.0L2071.1 2805.9L2073.6 2807.2L2076.2 2807.0L2078.7 2806.4L2081.2 2805.4L2083.7 2805.7L2086.2 2805.5L2088.8 2806.7L2091.3 2807.4L2093.8 2806.6L2096.3 2805.9L2098.8 2806.4L2101.4 2806.6L2103.9 2807.1L2106.4 2807.4L2108.9 2806.1L2111.4 2806.7L2113.9 2807.0L2116.5 2806.8L2119.0 2805.9L2121.5 2807.2L2124.0 2807.6L2126.5 2805.9L2129.1 2805.8L2131.6 2807.1L2134.1 2806.7L2136.6 2807.7L2139.1 2806.5L2141.7 2807.7L2144.2 2806.4L2146.7 2807.0L2149.2 2806.6L2151.7 2807.7L2154.2 2806.9L2156.8 2807.1L2159.3 2807.6L2161.8 2806.3"/>
</g></g>
<g stroke="#000" stroke-width="5.0" fill="none" stroke-linecap="butt">
<path d="M369.7 2148.7H2164.3"/>
<path d="M2161.8 2146.2V3607.8"/>
</g>
<g font-size="61">
<text x="352.4" y="3597.1" text-anchor="end">0.0</text>
<text x="352.4" y="3310.7" text-anchor="end">0.4</text>
<text x="352.4" y="3024.3" text-anchor="end">0.8</text>
<text x="352.4" y="2737.8" text-anchor="end">1.2</text>
<text x="352.4" y="2451.4" text-anchor="end">1.6</text>
<text x="352.4" y="2165.0" text-anchor="end">2.0</text>
<text x="649.6" y="3674.3" text-anchor="middle">300</text>
<text x="1153.3" y="3674.3" text-anchor="middle">400</text>
<text x="1657.1" y="3674.3" text-anchor="middle">500</text>
<text x="2160.8" y="3674.3" text-anchor="middle">600</text>
</g>
<g stroke-width="7.0" stroke-linecap="butt" fill="none">
<path stroke="#555555" d="M1789.4 2334.9H1919.3"/>
<path stroke="#ff4040" d="M1789.4 2403.3H1919.3"/>
<path stroke="#0070e8" d="M1789.4 2471.7H1919.3"/>
<path stroke="#00b870" d="M1789.4 2540.0H1919.3"/>
<path stroke="#c078e0" d="M1789.4 2608.4H1919.3"/>
<path stroke="#e8a000" d="M1789.4 2676.8H1919.3"/>
<path stroke="#00d8d8" d="M1789.4 2745.2H1919.3"/>
<path stroke="#8b4a52" d="M1789.4 2813.6H1919.3"/>
<path stroke="#909000" d="M1789.4 2881.9H1919.3"/>
<path stroke="#ff6a00" d="M1789.4 2950.3H1919.3"/>
<path stroke="#4a9edc" d="M1789.4 3018.7H1919.3"/>
<path stroke="#33c400" d="M1789.4 3087.1H1919.3"/>
</g>
<g font-size="56.0">
<text x="1930.2" y="2352.5">0 min</text>
<text x="1930.2" y="2420.8">1 min</text>
<text x="1930.2" y="2489.1">2 min</text>
<text x="1930.2" y="2557.4">3 min</text>
<text x="1930.2" y="2625.7">4 min</text>
<text x="1930.2" y="2694.0">5 min</text>
<text x="1930.2" y="2762.3">7 min</text>
<text x="1930.2" y="2830.6">9 min</text>
<text x="1930.2" y="2898.9">11 min</text>
<text x="1930.2" y="2967.2">12 min</text>
<text x="1930.2" y="3035.5">13 min</text>
<text x="1930.2" y="3103.8">14 min</text>
</g>
<text transform="translate(88.00 2901.97) rotate(-90) scale(0.9662 1)" font-size="78.0">ABS</text>
<text transform="translate(1146.61 3844.30) scale(1.0290 1)" font-size="122.0"><tspan font-family="Liberation Serif, serif">λ</tspan>/nm</text>
<text transform="translate(565.74 2339.00) scale(0.9564 1)" font-size="78.5">AgPB (H)</text>
<text transform="translate(587.87 2521.00) scale(1.0905 1)" font-size="106.0">(b)</text>
<text transform="translate(899.68 2282.20) scale(1.0527 1)" font-size="79.0" stroke="#000" stroke-width="0.9">PAAgCHI/Fe<tspan font-size="52.1" dy="19.8">3</tspan><tspan dy="-19.8">O</tspan><tspan font-size="52.1" dy="19.8">4</tspan><tspan dy="-19.8">/Ag (H)</tspan></text>
</svg></body></html>
